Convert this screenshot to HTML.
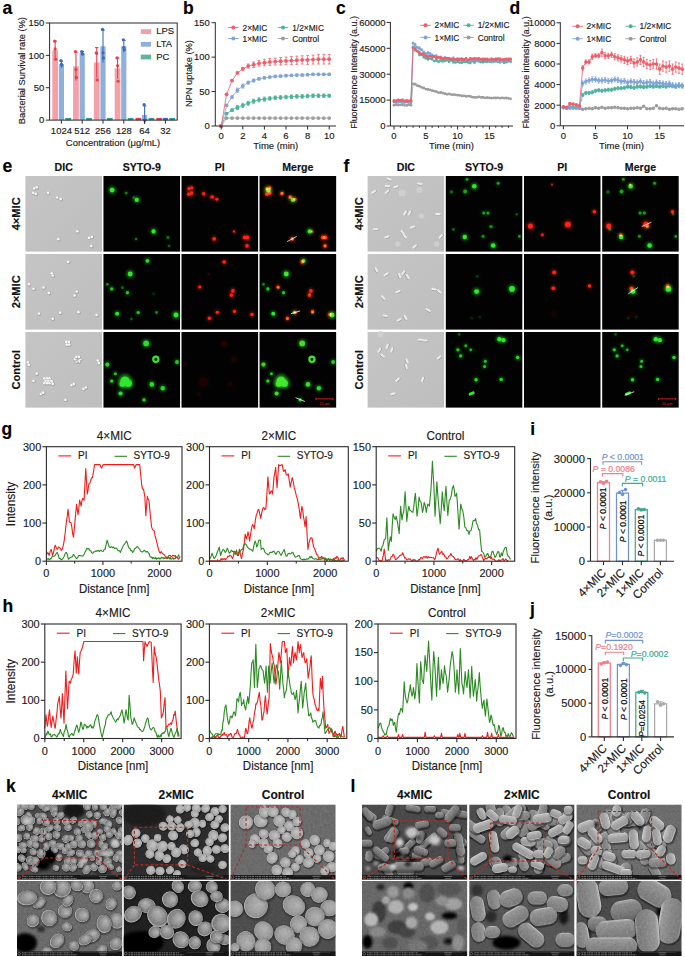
<!DOCTYPE html>
<html><head><meta charset="utf-8"><style>html,body{margin:0;padding:0;background:#fff;}svg{display:block;}text{font-family:"Liberation Sans",sans-serif;}</style></head>
<body><svg width="685" height="957" viewBox="0 0 685 957" font-family="Liberation Sans, sans-serif"><text transform="translate(2.50 14.00) scale(1 1.03)" font-size="17.51" text-anchor="start" font-weight="bold" fill="#000" stroke="#000" stroke-width="0.15">a</text>
<rect x="52.30" y="50.19" width="5.70" height="69.91" fill="#f3a0a8"/>
<line x1="55.15" y1="59.25" x2="55.15" y2="41.13" stroke="#e8404f" stroke-width="1.1"/>
<line x1="53.35" y1="41.13" x2="56.95" y2="41.13" stroke="#e8404f" stroke-width="1.1"/>
<circle cx="54.65" cy="41.13" r="1.60" fill="#e8404f"/>
<circle cx="55.15" cy="48.89" r="1.60" fill="#e8404f"/>
<circle cx="55.65" cy="59.25" r="1.60" fill="#e8404f"/>
<rect x="58.80" y="64.43" width="5.20" height="55.67" fill="#8fb0da"/>
<line x1="61.40" y1="67.67" x2="61.40" y2="61.19" stroke="#3b6cc0" stroke-width="1.1"/>
<line x1="59.60" y1="61.19" x2="63.20" y2="61.19" stroke="#3b6cc0" stroke-width="1.1"/>
<circle cx="60.90" cy="60.55" r="1.60" fill="#3b6cc0"/>
<circle cx="61.40" cy="64.43" r="1.60" fill="#3b6cc0"/>
<circle cx="61.90" cy="65.08" r="1.60" fill="#3b6cc0"/>
<line x1="65.30" y1="119.10" x2="71.10" y2="119.10" stroke="#3a9aa0" stroke-width="2.4"/>
<line x1="61.40" y1="120.10" x2="61.40" y2="123.60" stroke="#2b2b2b" stroke-width="1"/>
<text transform="translate(61.40 134.00) scale(1 1.03)" font-size="9.48" text-anchor="middle" fill="#1a1a1a" stroke="#1a1a1a" stroke-width="0.15">1024</text>
<rect x="73.10" y="66.37" width="5.70" height="53.73" fill="#f3a0a8"/>
<line x1="75.95" y1="80.61" x2="75.95" y2="52.13" stroke="#e8404f" stroke-width="1.1"/>
<line x1="74.15" y1="52.13" x2="77.75" y2="52.13" stroke="#e8404f" stroke-width="1.1"/>
<circle cx="75.45" cy="51.48" r="1.60" fill="#e8404f"/>
<circle cx="75.95" cy="69.61" r="1.60" fill="#e8404f"/>
<circle cx="76.45" cy="77.38" r="1.60" fill="#e8404f"/>
<rect x="79.60" y="53.42" width="5.20" height="66.68" fill="#8fb0da"/>
<line x1="82.20" y1="55.37" x2="82.20" y2="51.48" stroke="#3b6cc0" stroke-width="1.1"/>
<line x1="80.40" y1="51.48" x2="84.00" y2="51.48" stroke="#3b6cc0" stroke-width="1.1"/>
<circle cx="81.70" cy="51.48" r="1.60" fill="#3b6cc0"/>
<circle cx="82.20" cy="53.42" r="1.60" fill="#3b6cc0"/>
<circle cx="82.70" cy="54.07" r="1.60" fill="#3b6cc0"/>
<line x1="86.10" y1="119.10" x2="91.90" y2="119.10" stroke="#3a9aa0" stroke-width="2.4"/>
<line x1="82.20" y1="120.10" x2="82.20" y2="123.60" stroke="#2b2b2b" stroke-width="1"/>
<text transform="translate(82.20 134.00) scale(1 1.03)" font-size="9.48" text-anchor="middle" fill="#1a1a1a" stroke="#1a1a1a" stroke-width="0.15">512</text>
<rect x="93.90" y="62.49" width="5.70" height="57.61" fill="#f3a0a8"/>
<line x1="96.75" y1="77.38" x2="96.75" y2="47.60" stroke="#e8404f" stroke-width="1.1"/>
<line x1="94.95" y1="47.60" x2="98.55" y2="47.60" stroke="#e8404f" stroke-width="1.1"/>
<circle cx="96.25" cy="52.78" r="1.60" fill="#e8404f"/>
<circle cx="96.75" cy="53.42" r="1.60" fill="#e8404f"/>
<circle cx="97.25" cy="79.97" r="1.60" fill="#e8404f"/>
<rect x="100.40" y="46.30" width="5.20" height="73.80" fill="#8fb0da"/>
<line x1="103.00" y1="62.49" x2="103.00" y2="30.12" stroke="#3b6cc0" stroke-width="1.1"/>
<line x1="101.20" y1="30.12" x2="104.80" y2="30.12" stroke="#3b6cc0" stroke-width="1.1"/>
<circle cx="102.50" cy="29.47" r="1.60" fill="#3b6cc0"/>
<circle cx="103.00" cy="52.78" r="1.60" fill="#3b6cc0"/>
<circle cx="103.50" cy="57.96" r="1.60" fill="#3b6cc0"/>
<line x1="106.90" y1="119.10" x2="112.70" y2="119.10" stroke="#3a9aa0" stroke-width="2.4"/>
<line x1="103.00" y1="120.10" x2="103.00" y2="123.60" stroke="#2b2b2b" stroke-width="1"/>
<text transform="translate(103.00 134.00) scale(1 1.03)" font-size="9.48" text-anchor="middle" fill="#1a1a1a" stroke="#1a1a1a" stroke-width="0.15">256</text>
<rect x="114.70" y="68.31" width="5.70" height="51.79" fill="#f3a0a8"/>
<line x1="117.55" y1="78.67" x2="117.55" y2="57.96" stroke="#e8404f" stroke-width="1.1"/>
<line x1="115.75" y1="57.96" x2="119.35" y2="57.96" stroke="#e8404f" stroke-width="1.1"/>
<circle cx="117.05" cy="57.96" r="1.60" fill="#e8404f"/>
<circle cx="117.55" cy="65.72" r="1.60" fill="#e8404f"/>
<circle cx="118.05" cy="81.26" r="1.60" fill="#e8404f"/>
<rect x="121.20" y="46.30" width="5.20" height="73.80" fill="#8fb0da"/>
<line x1="123.80" y1="52.13" x2="123.80" y2="40.48" stroke="#3b6cc0" stroke-width="1.1"/>
<line x1="122.00" y1="40.48" x2="125.60" y2="40.48" stroke="#3b6cc0" stroke-width="1.1"/>
<circle cx="123.30" cy="39.83" r="1.60" fill="#3b6cc0"/>
<circle cx="123.80" cy="47.60" r="1.60" fill="#3b6cc0"/>
<circle cx="124.30" cy="49.54" r="1.60" fill="#3b6cc0"/>
<line x1="127.70" y1="119.10" x2="133.50" y2="119.10" stroke="#3a9aa0" stroke-width="2.4"/>
<line x1="123.80" y1="120.10" x2="123.80" y2="123.60" stroke="#2b2b2b" stroke-width="1"/>
<text transform="translate(123.80 134.00) scale(1 1.03)" font-size="9.48" text-anchor="middle" fill="#1a1a1a" stroke="#1a1a1a" stroke-width="0.15">128</text>
<line x1="135.50" y1="119.10" x2="141.20" y2="119.10" stroke="#e8404f" stroke-width="2.4"/>
<rect x="142.00" y="114.92" width="5.20" height="5.18" fill="#8fb0da"/>
<line x1="144.60" y1="123.98" x2="144.60" y2="105.86" stroke="#3b6cc0" stroke-width="1.1"/>
<line x1="142.80" y1="105.86" x2="146.40" y2="105.86" stroke="#3b6cc0" stroke-width="1.1"/>
<circle cx="144.10" cy="104.56" r="1.60" fill="#3b6cc0"/>
<circle cx="144.60" cy="120.10" r="1.60" fill="#3b6cc0"/>
<circle cx="145.10" cy="120.10" r="1.60" fill="#3b6cc0"/>
<line x1="148.50" y1="119.10" x2="154.30" y2="119.10" stroke="#3a9aa0" stroke-width="2.4"/>
<line x1="144.60" y1="120.10" x2="144.60" y2="123.60" stroke="#2b2b2b" stroke-width="1"/>
<text transform="translate(144.60 134.00) scale(1 1.03)" font-size="9.48" text-anchor="middle" fill="#1a1a1a" stroke="#1a1a1a" stroke-width="0.15">64</text>
<line x1="156.30" y1="119.10" x2="162.00" y2="119.10" stroke="#e8404f" stroke-width="2.4"/>
<line x1="162.80" y1="119.10" x2="168.00" y2="119.10" stroke="#3b6cc0" stroke-width="2.4"/>
<line x1="169.30" y1="119.10" x2="175.10" y2="119.10" stroke="#3a9aa0" stroke-width="2.4"/>
<line x1="165.40" y1="120.10" x2="165.40" y2="123.60" stroke="#2b2b2b" stroke-width="1"/>
<text transform="translate(165.40 134.00) scale(1 1.03)" font-size="9.48" text-anchor="middle" fill="#1a1a1a" stroke="#1a1a1a" stroke-width="0.15">32</text>
<rect x="49.6" y="23.0" width="127.6" height="97.1" fill="none" stroke="#2b2b2b" stroke-width="1"/>
<line x1="45.80" y1="120.10" x2="49.60" y2="120.10" stroke="#2b2b2b" stroke-width="1"/>
<text transform="translate(44.20 123.40) scale(1 1.03)" font-size="9.48" text-anchor="end" fill="#1a1a1a" stroke="#1a1a1a" stroke-width="0.15">0</text>
<line x1="45.80" y1="87.73" x2="49.60" y2="87.73" stroke="#2b2b2b" stroke-width="1"/>
<text transform="translate(44.20 91.03) scale(1 1.03)" font-size="9.48" text-anchor="end" fill="#1a1a1a" stroke="#1a1a1a" stroke-width="0.15">50</text>
<line x1="45.80" y1="55.37" x2="49.60" y2="55.37" stroke="#2b2b2b" stroke-width="1"/>
<text transform="translate(44.20 58.67) scale(1 1.03)" font-size="9.48" text-anchor="end" fill="#1a1a1a" stroke="#1a1a1a" stroke-width="0.15">100</text>
<line x1="45.80" y1="23.00" x2="49.60" y2="23.00" stroke="#2b2b2b" stroke-width="1"/>
<text transform="translate(44.20 26.30) scale(1 1.03)" font-size="9.48" text-anchor="end" fill="#1a1a1a" stroke="#1a1a1a" stroke-width="0.15">150</text>
<text transform="translate(24.60 70.60) rotate(-90) scale(1 1.03)" font-size="9.27" text-anchor="middle" fill="#1a1a1a" stroke="#1a1a1a" stroke-width="0.15">Bacterial Survival rate (%)</text>
<text transform="translate(113.00 145.80) scale(1 1.03)" font-size="9.48" text-anchor="middle" fill="#1a1a1a" stroke="#1a1a1a" stroke-width="0.15">Concentration (μg/mL)</text>
<rect x="140.80" y="29.20" width="10.20" height="4.80" fill="#f3a0a8"/>
<text transform="translate(156.20 34.20) scale(1 1.03)" font-size="9.48" text-anchor="start" fill="#1a1a1a" stroke="#1a1a1a" stroke-width="0.15">LPS</text>
<rect x="140.80" y="41.90" width="10.20" height="4.80" fill="#8fb0da"/>
<text transform="translate(156.20 46.90) scale(1 1.03)" font-size="9.48" text-anchor="start" fill="#1a1a1a" stroke="#1a1a1a" stroke-width="0.15">LTA</text>
<rect x="140.80" y="54.60" width="10.20" height="4.80" fill="#5fb5a0"/>
<text transform="translate(156.20 59.60) scale(1 1.03)" font-size="9.48" text-anchor="start" fill="#1a1a1a" stroke="#1a1a1a" stroke-width="0.15">PC</text>
<text transform="translate(183.00 14.00) scale(1 1.03)" font-size="17.51" text-anchor="start" font-weight="bold" fill="#000" stroke="#000" stroke-width="0.15">b</text>
<polyline points="221.20,126.00 226.60,118.08 232.00,118.08 237.40,118.08 242.80,118.08 248.20,118.08 253.60,118.08 259.00,118.08 264.40,118.08 269.80,118.08 275.20,118.08 280.60,118.08 286.00,118.08 291.40,118.08 296.80,118.08 302.20,118.08 307.60,118.08 313.00,118.08 318.40,118.08 323.80,118.08 329.20,118.08" fill="none" stroke="#9d9d9f" stroke-width="0.8" stroke-linejoin="round"/>
<circle cx="221.20" cy="126.00" r="1.90" fill="#9d9d9f"/>
<circle cx="226.60" cy="118.08" r="1.90" fill="#9d9d9f"/>
<circle cx="232.00" cy="118.08" r="1.90" fill="#9d9d9f"/>
<circle cx="237.40" cy="118.08" r="1.90" fill="#9d9d9f"/>
<circle cx="242.80" cy="118.08" r="1.90" fill="#9d9d9f"/>
<circle cx="248.20" cy="118.08" r="1.90" fill="#9d9d9f"/>
<circle cx="253.60" cy="118.08" r="1.90" fill="#9d9d9f"/>
<circle cx="259.00" cy="118.08" r="1.90" fill="#9d9d9f"/>
<circle cx="264.40" cy="118.08" r="1.90" fill="#9d9d9f"/>
<circle cx="269.80" cy="118.08" r="1.90" fill="#9d9d9f"/>
<circle cx="275.20" cy="118.08" r="1.90" fill="#9d9d9f"/>
<circle cx="280.60" cy="118.08" r="1.90" fill="#9d9d9f"/>
<circle cx="286.00" cy="118.08" r="1.90" fill="#9d9d9f"/>
<circle cx="291.40" cy="118.08" r="1.90" fill="#9d9d9f"/>
<circle cx="296.80" cy="118.08" r="1.90" fill="#9d9d9f"/>
<circle cx="302.20" cy="118.08" r="1.90" fill="#9d9d9f"/>
<circle cx="307.60" cy="118.08" r="1.90" fill="#9d9d9f"/>
<circle cx="313.00" cy="118.08" r="1.90" fill="#9d9d9f"/>
<circle cx="318.40" cy="118.08" r="1.90" fill="#9d9d9f"/>
<circle cx="323.80" cy="118.08" r="1.90" fill="#9d9d9f"/>
<circle cx="329.20" cy="118.08" r="1.90" fill="#9d9d9f"/>
<polyline points="221.20,126.00 226.60,113.60 232.00,110.16 237.40,107.41 242.80,105.34 248.20,103.27 253.60,101.21 259.00,99.83 264.40,99.14 269.80,98.45 275.20,97.76 280.60,97.42 286.00,97.07 291.40,96.73 296.80,96.39 302.20,96.39 307.60,96.04 313.00,95.70 318.40,95.70 323.80,95.70 329.20,95.70" fill="none" stroke="#4fb39c" stroke-width="0.8" stroke-linejoin="round"/>
<line x1="226.60" y1="114.29" x2="226.60" y2="112.91" stroke="#4fb39c" stroke-width="0.8"/>
<line x1="225.20" y1="112.91" x2="228.00" y2="112.91" stroke="#4fb39c" stroke-width="0.8"/>
<line x1="225.20" y1="114.29" x2="228.00" y2="114.29" stroke="#4fb39c" stroke-width="0.8"/>
<line x1="232.00" y1="111.54" x2="232.00" y2="108.78" stroke="#4fb39c" stroke-width="0.8"/>
<line x1="230.60" y1="108.78" x2="233.40" y2="108.78" stroke="#4fb39c" stroke-width="0.8"/>
<line x1="230.60" y1="111.54" x2="233.40" y2="111.54" stroke="#4fb39c" stroke-width="0.8"/>
<line x1="237.40" y1="109.47" x2="237.40" y2="105.34" stroke="#4fb39c" stroke-width="0.8"/>
<line x1="236.00" y1="105.34" x2="238.80" y2="105.34" stroke="#4fb39c" stroke-width="0.8"/>
<line x1="236.00" y1="109.47" x2="238.80" y2="109.47" stroke="#4fb39c" stroke-width="0.8"/>
<line x1="242.80" y1="107.41" x2="242.80" y2="103.27" stroke="#4fb39c" stroke-width="0.8"/>
<line x1="241.40" y1="103.27" x2="244.20" y2="103.27" stroke="#4fb39c" stroke-width="0.8"/>
<line x1="241.40" y1="107.41" x2="244.20" y2="107.41" stroke="#4fb39c" stroke-width="0.8"/>
<line x1="248.20" y1="105.34" x2="248.20" y2="101.21" stroke="#4fb39c" stroke-width="0.8"/>
<line x1="246.80" y1="101.21" x2="249.60" y2="101.21" stroke="#4fb39c" stroke-width="0.8"/>
<line x1="246.80" y1="105.34" x2="249.60" y2="105.34" stroke="#4fb39c" stroke-width="0.8"/>
<line x1="253.60" y1="103.27" x2="253.60" y2="99.14" stroke="#4fb39c" stroke-width="0.8"/>
<line x1="252.20" y1="99.14" x2="255.00" y2="99.14" stroke="#4fb39c" stroke-width="0.8"/>
<line x1="252.20" y1="103.27" x2="255.00" y2="103.27" stroke="#4fb39c" stroke-width="0.8"/>
<line x1="259.00" y1="101.90" x2="259.00" y2="97.76" stroke="#4fb39c" stroke-width="0.8"/>
<line x1="257.60" y1="97.76" x2="260.40" y2="97.76" stroke="#4fb39c" stroke-width="0.8"/>
<line x1="257.60" y1="101.90" x2="260.40" y2="101.90" stroke="#4fb39c" stroke-width="0.8"/>
<line x1="264.40" y1="101.21" x2="264.40" y2="97.07" stroke="#4fb39c" stroke-width="0.8"/>
<line x1="263.00" y1="97.07" x2="265.80" y2="97.07" stroke="#4fb39c" stroke-width="0.8"/>
<line x1="263.00" y1="101.21" x2="265.80" y2="101.21" stroke="#4fb39c" stroke-width="0.8"/>
<line x1="269.80" y1="100.17" x2="269.80" y2="96.73" stroke="#4fb39c" stroke-width="0.8"/>
<line x1="268.40" y1="96.73" x2="271.20" y2="96.73" stroke="#4fb39c" stroke-width="0.8"/>
<line x1="268.40" y1="100.17" x2="271.20" y2="100.17" stroke="#4fb39c" stroke-width="0.8"/>
<line x1="275.20" y1="99.49" x2="275.20" y2="96.04" stroke="#4fb39c" stroke-width="0.8"/>
<line x1="273.80" y1="96.04" x2="276.60" y2="96.04" stroke="#4fb39c" stroke-width="0.8"/>
<line x1="273.80" y1="99.49" x2="276.60" y2="99.49" stroke="#4fb39c" stroke-width="0.8"/>
<line x1="280.60" y1="99.14" x2="280.60" y2="95.70" stroke="#4fb39c" stroke-width="0.8"/>
<line x1="279.20" y1="95.70" x2="282.00" y2="95.70" stroke="#4fb39c" stroke-width="0.8"/>
<line x1="279.20" y1="99.14" x2="282.00" y2="99.14" stroke="#4fb39c" stroke-width="0.8"/>
<line x1="286.00" y1="98.80" x2="286.00" y2="95.35" stroke="#4fb39c" stroke-width="0.8"/>
<line x1="284.60" y1="95.35" x2="287.40" y2="95.35" stroke="#4fb39c" stroke-width="0.8"/>
<line x1="284.60" y1="98.80" x2="287.40" y2="98.80" stroke="#4fb39c" stroke-width="0.8"/>
<line x1="291.40" y1="98.45" x2="291.40" y2="95.01" stroke="#4fb39c" stroke-width="0.8"/>
<line x1="290.00" y1="95.01" x2="292.80" y2="95.01" stroke="#4fb39c" stroke-width="0.8"/>
<line x1="290.00" y1="98.45" x2="292.80" y2="98.45" stroke="#4fb39c" stroke-width="0.8"/>
<line x1="296.80" y1="98.11" x2="296.80" y2="94.66" stroke="#4fb39c" stroke-width="0.8"/>
<line x1="295.40" y1="94.66" x2="298.20" y2="94.66" stroke="#4fb39c" stroke-width="0.8"/>
<line x1="295.40" y1="98.11" x2="298.20" y2="98.11" stroke="#4fb39c" stroke-width="0.8"/>
<line x1="302.20" y1="98.11" x2="302.20" y2="94.66" stroke="#4fb39c" stroke-width="0.8"/>
<line x1="300.80" y1="94.66" x2="303.60" y2="94.66" stroke="#4fb39c" stroke-width="0.8"/>
<line x1="300.80" y1="98.11" x2="303.60" y2="98.11" stroke="#4fb39c" stroke-width="0.8"/>
<line x1="307.60" y1="97.76" x2="307.60" y2="94.32" stroke="#4fb39c" stroke-width="0.8"/>
<line x1="306.20" y1="94.32" x2="309.00" y2="94.32" stroke="#4fb39c" stroke-width="0.8"/>
<line x1="306.20" y1="97.76" x2="309.00" y2="97.76" stroke="#4fb39c" stroke-width="0.8"/>
<line x1="313.00" y1="97.42" x2="313.00" y2="93.98" stroke="#4fb39c" stroke-width="0.8"/>
<line x1="311.60" y1="93.98" x2="314.40" y2="93.98" stroke="#4fb39c" stroke-width="0.8"/>
<line x1="311.60" y1="97.42" x2="314.40" y2="97.42" stroke="#4fb39c" stroke-width="0.8"/>
<line x1="318.40" y1="97.42" x2="318.40" y2="93.98" stroke="#4fb39c" stroke-width="0.8"/>
<line x1="317.00" y1="93.98" x2="319.80" y2="93.98" stroke="#4fb39c" stroke-width="0.8"/>
<line x1="317.00" y1="97.42" x2="319.80" y2="97.42" stroke="#4fb39c" stroke-width="0.8"/>
<line x1="323.80" y1="97.42" x2="323.80" y2="93.98" stroke="#4fb39c" stroke-width="0.8"/>
<line x1="322.40" y1="93.98" x2="325.20" y2="93.98" stroke="#4fb39c" stroke-width="0.8"/>
<line x1="322.40" y1="97.42" x2="325.20" y2="97.42" stroke="#4fb39c" stroke-width="0.8"/>
<line x1="329.20" y1="97.07" x2="329.20" y2="94.32" stroke="#4fb39c" stroke-width="0.8"/>
<line x1="327.80" y1="94.32" x2="330.60" y2="94.32" stroke="#4fb39c" stroke-width="0.8"/>
<line x1="327.80" y1="97.07" x2="330.60" y2="97.07" stroke="#4fb39c" stroke-width="0.8"/>
<circle cx="221.20" cy="126.00" r="1.90" fill="#4fb39c"/>
<circle cx="226.60" cy="113.60" r="1.90" fill="#4fb39c"/>
<circle cx="232.00" cy="110.16" r="1.90" fill="#4fb39c"/>
<circle cx="237.40" cy="107.41" r="1.90" fill="#4fb39c"/>
<circle cx="242.80" cy="105.34" r="1.90" fill="#4fb39c"/>
<circle cx="248.20" cy="103.27" r="1.90" fill="#4fb39c"/>
<circle cx="253.60" cy="101.21" r="1.90" fill="#4fb39c"/>
<circle cx="259.00" cy="99.83" r="1.90" fill="#4fb39c"/>
<circle cx="264.40" cy="99.14" r="1.90" fill="#4fb39c"/>
<circle cx="269.80" cy="98.45" r="1.90" fill="#4fb39c"/>
<circle cx="275.20" cy="97.76" r="1.90" fill="#4fb39c"/>
<circle cx="280.60" cy="97.42" r="1.90" fill="#4fb39c"/>
<circle cx="286.00" cy="97.07" r="1.90" fill="#4fb39c"/>
<circle cx="291.40" cy="96.73" r="1.90" fill="#4fb39c"/>
<circle cx="296.80" cy="96.39" r="1.90" fill="#4fb39c"/>
<circle cx="302.20" cy="96.39" r="1.90" fill="#4fb39c"/>
<circle cx="307.60" cy="96.04" r="1.90" fill="#4fb39c"/>
<circle cx="313.00" cy="95.70" r="1.90" fill="#4fb39c"/>
<circle cx="318.40" cy="95.70" r="1.90" fill="#4fb39c"/>
<circle cx="323.80" cy="95.70" r="1.90" fill="#4fb39c"/>
<circle cx="329.20" cy="95.70" r="1.90" fill="#4fb39c"/>
<polyline points="221.20,126.00 226.60,105.34 232.00,97.07 237.40,90.19 242.80,86.06 248.20,82.61 253.60,80.55 259.00,78.82 264.40,77.79 269.80,77.10 275.20,76.41 280.60,76.07 286.00,75.72 291.40,75.38 296.80,75.04 302.20,75.04 307.60,74.69 313.00,74.35 318.40,74.35 323.80,74.35 329.20,74.35" fill="none" stroke="#7fa4d8" stroke-width="0.8" stroke-linejoin="round"/>
<line x1="226.60" y1="106.03" x2="226.60" y2="104.65" stroke="#7fa4d8" stroke-width="0.8"/>
<line x1="225.20" y1="104.65" x2="228.00" y2="104.65" stroke="#7fa4d8" stroke-width="0.8"/>
<line x1="225.20" y1="106.03" x2="228.00" y2="106.03" stroke="#7fa4d8" stroke-width="0.8"/>
<line x1="232.00" y1="98.45" x2="232.00" y2="95.70" stroke="#7fa4d8" stroke-width="0.8"/>
<line x1="230.60" y1="95.70" x2="233.40" y2="95.70" stroke="#7fa4d8" stroke-width="0.8"/>
<line x1="230.60" y1="98.45" x2="233.40" y2="98.45" stroke="#7fa4d8" stroke-width="0.8"/>
<line x1="237.40" y1="92.25" x2="237.40" y2="88.12" stroke="#7fa4d8" stroke-width="0.8"/>
<line x1="236.00" y1="88.12" x2="238.80" y2="88.12" stroke="#7fa4d8" stroke-width="0.8"/>
<line x1="236.00" y1="92.25" x2="238.80" y2="92.25" stroke="#7fa4d8" stroke-width="0.8"/>
<line x1="242.80" y1="88.12" x2="242.80" y2="83.99" stroke="#7fa4d8" stroke-width="0.8"/>
<line x1="241.40" y1="83.99" x2="244.20" y2="83.99" stroke="#7fa4d8" stroke-width="0.8"/>
<line x1="241.40" y1="88.12" x2="244.20" y2="88.12" stroke="#7fa4d8" stroke-width="0.8"/>
<line x1="248.20" y1="83.99" x2="248.20" y2="81.23" stroke="#7fa4d8" stroke-width="0.8"/>
<line x1="246.80" y1="81.23" x2="249.60" y2="81.23" stroke="#7fa4d8" stroke-width="0.8"/>
<line x1="246.80" y1="83.99" x2="249.60" y2="83.99" stroke="#7fa4d8" stroke-width="0.8"/>
<line x1="253.60" y1="81.92" x2="253.60" y2="79.17" stroke="#7fa4d8" stroke-width="0.8"/>
<line x1="252.20" y1="79.17" x2="255.00" y2="79.17" stroke="#7fa4d8" stroke-width="0.8"/>
<line x1="252.20" y1="81.92" x2="255.00" y2="81.92" stroke="#7fa4d8" stroke-width="0.8"/>
<line x1="259.00" y1="79.86" x2="259.00" y2="77.79" stroke="#7fa4d8" stroke-width="0.8"/>
<line x1="257.60" y1="77.79" x2="260.40" y2="77.79" stroke="#7fa4d8" stroke-width="0.8"/>
<line x1="257.60" y1="79.86" x2="260.40" y2="79.86" stroke="#7fa4d8" stroke-width="0.8"/>
<line x1="264.40" y1="78.82" x2="264.40" y2="76.76" stroke="#7fa4d8" stroke-width="0.8"/>
<line x1="263.00" y1="76.76" x2="265.80" y2="76.76" stroke="#7fa4d8" stroke-width="0.8"/>
<line x1="263.00" y1="78.82" x2="265.80" y2="78.82" stroke="#7fa4d8" stroke-width="0.8"/>
<line x1="269.80" y1="78.14" x2="269.80" y2="76.07" stroke="#7fa4d8" stroke-width="0.8"/>
<line x1="268.40" y1="76.07" x2="271.20" y2="76.07" stroke="#7fa4d8" stroke-width="0.8"/>
<line x1="268.40" y1="78.14" x2="271.20" y2="78.14" stroke="#7fa4d8" stroke-width="0.8"/>
<line x1="275.20" y1="77.45" x2="275.20" y2="75.38" stroke="#7fa4d8" stroke-width="0.8"/>
<line x1="273.80" y1="75.38" x2="276.60" y2="75.38" stroke="#7fa4d8" stroke-width="0.8"/>
<line x1="273.80" y1="77.45" x2="276.60" y2="77.45" stroke="#7fa4d8" stroke-width="0.8"/>
<line x1="280.60" y1="77.10" x2="280.60" y2="75.04" stroke="#7fa4d8" stroke-width="0.8"/>
<line x1="279.20" y1="75.04" x2="282.00" y2="75.04" stroke="#7fa4d8" stroke-width="0.8"/>
<line x1="279.20" y1="77.10" x2="282.00" y2="77.10" stroke="#7fa4d8" stroke-width="0.8"/>
<line x1="286.00" y1="76.76" x2="286.00" y2="74.69" stroke="#7fa4d8" stroke-width="0.8"/>
<line x1="284.60" y1="74.69" x2="287.40" y2="74.69" stroke="#7fa4d8" stroke-width="0.8"/>
<line x1="284.60" y1="76.76" x2="287.40" y2="76.76" stroke="#7fa4d8" stroke-width="0.8"/>
<line x1="291.40" y1="76.41" x2="291.40" y2="74.35" stroke="#7fa4d8" stroke-width="0.8"/>
<line x1="290.00" y1="74.35" x2="292.80" y2="74.35" stroke="#7fa4d8" stroke-width="0.8"/>
<line x1="290.00" y1="76.41" x2="292.80" y2="76.41" stroke="#7fa4d8" stroke-width="0.8"/>
<line x1="296.80" y1="76.07" x2="296.80" y2="74.00" stroke="#7fa4d8" stroke-width="0.8"/>
<line x1="295.40" y1="74.00" x2="298.20" y2="74.00" stroke="#7fa4d8" stroke-width="0.8"/>
<line x1="295.40" y1="76.07" x2="298.20" y2="76.07" stroke="#7fa4d8" stroke-width="0.8"/>
<line x1="302.20" y1="76.07" x2="302.20" y2="74.00" stroke="#7fa4d8" stroke-width="0.8"/>
<line x1="300.80" y1="74.00" x2="303.60" y2="74.00" stroke="#7fa4d8" stroke-width="0.8"/>
<line x1="300.80" y1="76.07" x2="303.60" y2="76.07" stroke="#7fa4d8" stroke-width="0.8"/>
<line x1="307.60" y1="75.72" x2="307.60" y2="73.66" stroke="#7fa4d8" stroke-width="0.8"/>
<line x1="306.20" y1="73.66" x2="309.00" y2="73.66" stroke="#7fa4d8" stroke-width="0.8"/>
<line x1="306.20" y1="75.72" x2="309.00" y2="75.72" stroke="#7fa4d8" stroke-width="0.8"/>
<line x1="313.00" y1="75.38" x2="313.00" y2="73.31" stroke="#7fa4d8" stroke-width="0.8"/>
<line x1="311.60" y1="73.31" x2="314.40" y2="73.31" stroke="#7fa4d8" stroke-width="0.8"/>
<line x1="311.60" y1="75.38" x2="314.40" y2="75.38" stroke="#7fa4d8" stroke-width="0.8"/>
<line x1="318.40" y1="75.38" x2="318.40" y2="73.31" stroke="#7fa4d8" stroke-width="0.8"/>
<line x1="317.00" y1="73.31" x2="319.80" y2="73.31" stroke="#7fa4d8" stroke-width="0.8"/>
<line x1="317.00" y1="75.38" x2="319.80" y2="75.38" stroke="#7fa4d8" stroke-width="0.8"/>
<line x1="323.80" y1="75.38" x2="323.80" y2="73.31" stroke="#7fa4d8" stroke-width="0.8"/>
<line x1="322.40" y1="73.31" x2="325.20" y2="73.31" stroke="#7fa4d8" stroke-width="0.8"/>
<line x1="322.40" y1="75.38" x2="325.20" y2="75.38" stroke="#7fa4d8" stroke-width="0.8"/>
<line x1="329.20" y1="75.38" x2="329.20" y2="73.31" stroke="#7fa4d8" stroke-width="0.8"/>
<line x1="327.80" y1="73.31" x2="330.60" y2="73.31" stroke="#7fa4d8" stroke-width="0.8"/>
<line x1="327.80" y1="75.38" x2="330.60" y2="75.38" stroke="#7fa4d8" stroke-width="0.8"/>
<circle cx="221.20" cy="126.00" r="1.90" fill="#7fa4d8"/>
<circle cx="226.60" cy="105.34" r="1.90" fill="#7fa4d8"/>
<circle cx="232.00" cy="97.07" r="1.90" fill="#7fa4d8"/>
<circle cx="237.40" cy="90.19" r="1.90" fill="#7fa4d8"/>
<circle cx="242.80" cy="86.06" r="1.90" fill="#7fa4d8"/>
<circle cx="248.20" cy="82.61" r="1.90" fill="#7fa4d8"/>
<circle cx="253.60" cy="80.55" r="1.90" fill="#7fa4d8"/>
<circle cx="259.00" cy="78.82" r="1.90" fill="#7fa4d8"/>
<circle cx="264.40" cy="77.79" r="1.90" fill="#7fa4d8"/>
<circle cx="269.80" cy="77.10" r="1.90" fill="#7fa4d8"/>
<circle cx="275.20" cy="76.41" r="1.90" fill="#7fa4d8"/>
<circle cx="280.60" cy="76.07" r="1.90" fill="#7fa4d8"/>
<circle cx="286.00" cy="75.72" r="1.90" fill="#7fa4d8"/>
<circle cx="291.40" cy="75.38" r="1.90" fill="#7fa4d8"/>
<circle cx="296.80" cy="75.04" r="1.90" fill="#7fa4d8"/>
<circle cx="302.20" cy="75.04" r="1.90" fill="#7fa4d8"/>
<circle cx="307.60" cy="74.69" r="1.90" fill="#7fa4d8"/>
<circle cx="313.00" cy="74.35" r="1.90" fill="#7fa4d8"/>
<circle cx="318.40" cy="74.35" r="1.90" fill="#7fa4d8"/>
<circle cx="323.80" cy="74.35" r="1.90" fill="#7fa4d8"/>
<circle cx="329.20" cy="74.35" r="1.90" fill="#7fa4d8"/>
<polyline points="221.20,126.00 226.60,94.32 232.00,80.55 237.40,72.97 242.80,68.84 248.20,66.08 253.60,64.71 259.00,63.33 264.40,62.64 269.80,61.95 275.20,61.61 280.60,61.26 286.00,60.92 291.40,60.57 296.80,60.23 302.20,59.88 307.60,59.88 313.00,59.54 318.40,59.20 323.80,59.20 329.20,59.20" fill="none" stroke="#ec5f6b" stroke-width="0.8" stroke-linejoin="round"/>
<line x1="226.60" y1="95.01" x2="226.60" y2="93.63" stroke="#ec5f6b" stroke-width="0.8"/>
<line x1="225.20" y1="93.63" x2="228.00" y2="93.63" stroke="#ec5f6b" stroke-width="0.8"/>
<line x1="225.20" y1="95.01" x2="228.00" y2="95.01" stroke="#ec5f6b" stroke-width="0.8"/>
<line x1="232.00" y1="81.23" x2="232.00" y2="79.86" stroke="#ec5f6b" stroke-width="0.8"/>
<line x1="230.60" y1="79.86" x2="233.40" y2="79.86" stroke="#ec5f6b" stroke-width="0.8"/>
<line x1="230.60" y1="81.23" x2="233.40" y2="81.23" stroke="#ec5f6b" stroke-width="0.8"/>
<line x1="237.40" y1="73.66" x2="237.40" y2="72.28" stroke="#ec5f6b" stroke-width="0.8"/>
<line x1="236.00" y1="72.28" x2="238.80" y2="72.28" stroke="#ec5f6b" stroke-width="0.8"/>
<line x1="236.00" y1="73.66" x2="238.80" y2="73.66" stroke="#ec5f6b" stroke-width="0.8"/>
<line x1="242.80" y1="70.22" x2="242.80" y2="67.46" stroke="#ec5f6b" stroke-width="0.8"/>
<line x1="241.40" y1="67.46" x2="244.20" y2="67.46" stroke="#ec5f6b" stroke-width="0.8"/>
<line x1="241.40" y1="70.22" x2="244.20" y2="70.22" stroke="#ec5f6b" stroke-width="0.8"/>
<line x1="248.20" y1="68.15" x2="248.20" y2="64.02" stroke="#ec5f6b" stroke-width="0.8"/>
<line x1="246.80" y1="64.02" x2="249.60" y2="64.02" stroke="#ec5f6b" stroke-width="0.8"/>
<line x1="246.80" y1="68.15" x2="249.60" y2="68.15" stroke="#ec5f6b" stroke-width="0.8"/>
<line x1="253.60" y1="67.46" x2="253.60" y2="61.95" stroke="#ec5f6b" stroke-width="0.8"/>
<line x1="252.20" y1="61.95" x2="255.00" y2="61.95" stroke="#ec5f6b" stroke-width="0.8"/>
<line x1="252.20" y1="67.46" x2="255.00" y2="67.46" stroke="#ec5f6b" stroke-width="0.8"/>
<line x1="259.00" y1="66.08" x2="259.00" y2="60.57" stroke="#ec5f6b" stroke-width="0.8"/>
<line x1="257.60" y1="60.57" x2="260.40" y2="60.57" stroke="#ec5f6b" stroke-width="0.8"/>
<line x1="257.60" y1="66.08" x2="260.40" y2="66.08" stroke="#ec5f6b" stroke-width="0.8"/>
<line x1="264.40" y1="65.74" x2="264.40" y2="59.54" stroke="#ec5f6b" stroke-width="0.8"/>
<line x1="263.00" y1="59.54" x2="265.80" y2="59.54" stroke="#ec5f6b" stroke-width="0.8"/>
<line x1="263.00" y1="65.74" x2="265.80" y2="65.74" stroke="#ec5f6b" stroke-width="0.8"/>
<line x1="269.80" y1="65.39" x2="269.80" y2="58.51" stroke="#ec5f6b" stroke-width="0.8"/>
<line x1="268.40" y1="58.51" x2="271.20" y2="58.51" stroke="#ec5f6b" stroke-width="0.8"/>
<line x1="268.40" y1="65.39" x2="271.20" y2="65.39" stroke="#ec5f6b" stroke-width="0.8"/>
<line x1="275.20" y1="65.05" x2="275.20" y2="58.16" stroke="#ec5f6b" stroke-width="0.8"/>
<line x1="273.80" y1="58.16" x2="276.60" y2="58.16" stroke="#ec5f6b" stroke-width="0.8"/>
<line x1="273.80" y1="65.05" x2="276.60" y2="65.05" stroke="#ec5f6b" stroke-width="0.8"/>
<line x1="280.60" y1="65.05" x2="280.60" y2="57.47" stroke="#ec5f6b" stroke-width="0.8"/>
<line x1="279.20" y1="57.47" x2="282.00" y2="57.47" stroke="#ec5f6b" stroke-width="0.8"/>
<line x1="279.20" y1="65.05" x2="282.00" y2="65.05" stroke="#ec5f6b" stroke-width="0.8"/>
<line x1="286.00" y1="64.71" x2="286.00" y2="57.13" stroke="#ec5f6b" stroke-width="0.8"/>
<line x1="284.60" y1="57.13" x2="287.40" y2="57.13" stroke="#ec5f6b" stroke-width="0.8"/>
<line x1="284.60" y1="64.71" x2="287.40" y2="64.71" stroke="#ec5f6b" stroke-width="0.8"/>
<line x1="291.40" y1="64.71" x2="291.40" y2="56.44" stroke="#ec5f6b" stroke-width="0.8"/>
<line x1="290.00" y1="56.44" x2="292.80" y2="56.44" stroke="#ec5f6b" stroke-width="0.8"/>
<line x1="290.00" y1="64.71" x2="292.80" y2="64.71" stroke="#ec5f6b" stroke-width="0.8"/>
<line x1="296.80" y1="64.36" x2="296.80" y2="56.10" stroke="#ec5f6b" stroke-width="0.8"/>
<line x1="295.40" y1="56.10" x2="298.20" y2="56.10" stroke="#ec5f6b" stroke-width="0.8"/>
<line x1="295.40" y1="64.36" x2="298.20" y2="64.36" stroke="#ec5f6b" stroke-width="0.8"/>
<line x1="302.20" y1="64.02" x2="302.20" y2="55.75" stroke="#ec5f6b" stroke-width="0.8"/>
<line x1="300.80" y1="55.75" x2="303.60" y2="55.75" stroke="#ec5f6b" stroke-width="0.8"/>
<line x1="300.80" y1="64.02" x2="303.60" y2="64.02" stroke="#ec5f6b" stroke-width="0.8"/>
<line x1="307.60" y1="64.36" x2="307.60" y2="55.41" stroke="#ec5f6b" stroke-width="0.8"/>
<line x1="306.20" y1="55.41" x2="309.00" y2="55.41" stroke="#ec5f6b" stroke-width="0.8"/>
<line x1="306.20" y1="64.36" x2="309.00" y2="64.36" stroke="#ec5f6b" stroke-width="0.8"/>
<line x1="313.00" y1="64.02" x2="313.00" y2="55.06" stroke="#ec5f6b" stroke-width="0.8"/>
<line x1="311.60" y1="55.06" x2="314.40" y2="55.06" stroke="#ec5f6b" stroke-width="0.8"/>
<line x1="311.60" y1="64.02" x2="314.40" y2="64.02" stroke="#ec5f6b" stroke-width="0.8"/>
<line x1="318.40" y1="64.02" x2="318.40" y2="54.38" stroke="#ec5f6b" stroke-width="0.8"/>
<line x1="317.00" y1="54.38" x2="319.80" y2="54.38" stroke="#ec5f6b" stroke-width="0.8"/>
<line x1="317.00" y1="64.02" x2="319.80" y2="64.02" stroke="#ec5f6b" stroke-width="0.8"/>
<line x1="323.80" y1="64.02" x2="323.80" y2="54.38" stroke="#ec5f6b" stroke-width="0.8"/>
<line x1="322.40" y1="54.38" x2="325.20" y2="54.38" stroke="#ec5f6b" stroke-width="0.8"/>
<line x1="322.40" y1="64.02" x2="325.20" y2="64.02" stroke="#ec5f6b" stroke-width="0.8"/>
<line x1="329.20" y1="64.02" x2="329.20" y2="54.38" stroke="#ec5f6b" stroke-width="0.8"/>
<line x1="327.80" y1="54.38" x2="330.60" y2="54.38" stroke="#ec5f6b" stroke-width="0.8"/>
<line x1="327.80" y1="64.02" x2="330.60" y2="64.02" stroke="#ec5f6b" stroke-width="0.8"/>
<circle cx="221.20" cy="126.00" r="1.90" fill="#ec5f6b"/>
<circle cx="226.60" cy="94.32" r="1.90" fill="#ec5f6b"/>
<circle cx="232.00" cy="80.55" r="1.90" fill="#ec5f6b"/>
<circle cx="237.40" cy="72.97" r="1.90" fill="#ec5f6b"/>
<circle cx="242.80" cy="68.84" r="1.90" fill="#ec5f6b"/>
<circle cx="248.20" cy="66.08" r="1.90" fill="#ec5f6b"/>
<circle cx="253.60" cy="64.71" r="1.90" fill="#ec5f6b"/>
<circle cx="259.00" cy="63.33" r="1.90" fill="#ec5f6b"/>
<circle cx="264.40" cy="62.64" r="1.90" fill="#ec5f6b"/>
<circle cx="269.80" cy="61.95" r="1.90" fill="#ec5f6b"/>
<circle cx="275.20" cy="61.61" r="1.90" fill="#ec5f6b"/>
<circle cx="280.60" cy="61.26" r="1.90" fill="#ec5f6b"/>
<circle cx="286.00" cy="60.92" r="1.90" fill="#ec5f6b"/>
<circle cx="291.40" cy="60.57" r="1.90" fill="#ec5f6b"/>
<circle cx="296.80" cy="60.23" r="1.90" fill="#ec5f6b"/>
<circle cx="302.20" cy="59.88" r="1.90" fill="#ec5f6b"/>
<circle cx="307.60" cy="59.88" r="1.90" fill="#ec5f6b"/>
<circle cx="313.00" cy="59.54" r="1.90" fill="#ec5f6b"/>
<circle cx="318.40" cy="59.20" r="1.90" fill="#ec5f6b"/>
<circle cx="323.80" cy="59.20" r="1.90" fill="#ec5f6b"/>
<circle cx="329.20" cy="59.20" r="1.90" fill="#ec5f6b"/>
<line x1="215.30" y1="126.00" x2="336.00" y2="126.00" stroke="#2b2b2b" stroke-width="1"/>
<line x1="215.30" y1="126.00" x2="215.30" y2="22.30" stroke="#2b2b2b" stroke-width="1"/>
<line x1="211.50" y1="126.00" x2="215.30" y2="126.00" stroke="#2b2b2b" stroke-width="1"/>
<text transform="translate(209.90 129.30) scale(1 1.03)" font-size="9.48" text-anchor="end" fill="#1a1a1a" stroke="#1a1a1a" stroke-width="0.15">0</text>
<line x1="211.50" y1="91.56" x2="215.30" y2="91.56" stroke="#2b2b2b" stroke-width="1"/>
<text transform="translate(209.90 94.86) scale(1 1.03)" font-size="9.48" text-anchor="end" fill="#1a1a1a" stroke="#1a1a1a" stroke-width="0.15">50</text>
<line x1="211.50" y1="57.13" x2="215.30" y2="57.13" stroke="#2b2b2b" stroke-width="1"/>
<text transform="translate(209.90 60.43) scale(1 1.03)" font-size="9.48" text-anchor="end" fill="#1a1a1a" stroke="#1a1a1a" stroke-width="0.15">100</text>
<line x1="211.50" y1="22.70" x2="215.30" y2="22.70" stroke="#2b2b2b" stroke-width="1"/>
<text transform="translate(209.90 26.00) scale(1 1.03)" font-size="9.48" text-anchor="end" fill="#1a1a1a" stroke="#1a1a1a" stroke-width="0.15">150</text>
<line x1="221.20" y1="126.00" x2="221.20" y2="129.50" stroke="#2b2b2b" stroke-width="1"/>
<text transform="translate(221.20 139.20) scale(1 1.03)" font-size="9.48" text-anchor="middle" fill="#1a1a1a" stroke="#1a1a1a" stroke-width="0.15">0</text>
<line x1="242.80" y1="126.00" x2="242.80" y2="129.50" stroke="#2b2b2b" stroke-width="1"/>
<text transform="translate(242.80 139.20) scale(1 1.03)" font-size="9.48" text-anchor="middle" fill="#1a1a1a" stroke="#1a1a1a" stroke-width="0.15">2</text>
<line x1="264.40" y1="126.00" x2="264.40" y2="129.50" stroke="#2b2b2b" stroke-width="1"/>
<text transform="translate(264.40 139.20) scale(1 1.03)" font-size="9.48" text-anchor="middle" fill="#1a1a1a" stroke="#1a1a1a" stroke-width="0.15">4</text>
<line x1="286.00" y1="126.00" x2="286.00" y2="129.50" stroke="#2b2b2b" stroke-width="1"/>
<text transform="translate(286.00 139.20) scale(1 1.03)" font-size="9.48" text-anchor="middle" fill="#1a1a1a" stroke="#1a1a1a" stroke-width="0.15">6</text>
<line x1="307.60" y1="126.00" x2="307.60" y2="129.50" stroke="#2b2b2b" stroke-width="1"/>
<text transform="translate(307.60 139.20) scale(1 1.03)" font-size="9.48" text-anchor="middle" fill="#1a1a1a" stroke="#1a1a1a" stroke-width="0.15">8</text>
<line x1="329.20" y1="126.00" x2="329.20" y2="129.50" stroke="#2b2b2b" stroke-width="1"/>
<text transform="translate(329.20 139.20) scale(1 1.03)" font-size="9.48" text-anchor="middle" fill="#1a1a1a" stroke="#1a1a1a" stroke-width="0.15">10</text>
<text transform="translate(275.80 148.80) scale(1 1.03)" font-size="9.48" text-anchor="middle" fill="#1a1a1a" stroke="#1a1a1a" stroke-width="0.15">Time (min)</text>
<text transform="translate(192.20 73.60) rotate(-90) scale(1 1.03)" font-size="9.27" text-anchor="middle" fill="#1a1a1a" stroke="#1a1a1a" stroke-width="0.15">NPN uptake (%)</text>
<line x1="228.10" y1="27.50" x2="238.50" y2="27.50" stroke="#ec5f6b" stroke-width="0.9"/>
<circle cx="233.30" cy="27.50" r="2.00" fill="#ec5f6b"/>
<text transform="translate(242.50 30.60) scale(1 1.03)" font-size="8.34" text-anchor="start" fill="#1a1a1a" stroke="#1a1a1a" stroke-width="0.15">2×MIC</text>
<line x1="228.10" y1="38.50" x2="238.50" y2="38.50" stroke="#7fa4d8" stroke-width="0.9"/>
<circle cx="233.30" cy="38.50" r="2.00" fill="#7fa4d8"/>
<text transform="translate(242.50 41.60) scale(1 1.03)" font-size="8.34" text-anchor="start" fill="#1a1a1a" stroke="#1a1a1a" stroke-width="0.15">1×MIC</text>
<line x1="277.80" y1="27.50" x2="288.20" y2="27.50" stroke="#4fb39c" stroke-width="0.9"/>
<circle cx="283.00" cy="27.50" r="2.00" fill="#4fb39c"/>
<text transform="translate(292.20 30.60) scale(1 1.03)" font-size="8.34" text-anchor="start" fill="#1a1a1a" stroke="#1a1a1a" stroke-width="0.15">1/2×MIC</text>
<line x1="277.80" y1="38.50" x2="288.20" y2="38.50" stroke="#9d9d9f" stroke-width="0.9"/>
<circle cx="283.00" cy="38.50" r="2.00" fill="#9d9d9f"/>
<text transform="translate(292.20 41.60) scale(1 1.03)" font-size="8.34" text-anchor="start" fill="#1a1a1a" stroke="#1a1a1a" stroke-width="0.15">Control</text>
<text transform="translate(336.00 14.00) scale(1 1.03)" font-size="17.51" text-anchor="start" font-weight="bold" fill="#000" stroke="#000" stroke-width="0.15">c</text>
<polyline points="394.00,105.16 396.12,104.90 398.24,105.05 400.36,104.84 402.48,104.83 404.60,105.31 406.72,105.35 408.84,104.64 410.96,105.14 413.08,83.93 415.20,84.27 417.32,85.66 419.44,86.22 421.56,87.35 423.68,87.98 425.80,89.12 427.92,89.38 430.04,89.80 432.16,90.69 434.28,91.05 436.40,91.62 438.52,92.63 440.64,92.48 442.76,93.05 444.88,93.69 447.00,94.29 449.12,93.92 451.24,94.58 453.36,94.67 455.48,94.81 457.60,95.22 459.72,95.29 461.84,95.97 463.96,95.84 466.08,96.35 468.20,96.11 470.32,96.34 472.44,97.18 474.56,97.30 476.68,97.38 478.80,96.87 480.92,97.45 483.04,97.41 485.16,97.80 487.28,97.72 489.40,97.93 491.52,98.05 493.64,97.93 495.76,98.01 497.88,97.81 500.00,98.07 502.12,97.92 504.24,98.04 506.36,97.99 508.48,98.32 510.60,98.80" fill="none" stroke="#9d9d9f" stroke-width="0.8" stroke-linejoin="round"/>
<line x1="394.00" y1="105.68" x2="394.00" y2="104.64" stroke="#9d9d9f" stroke-width="0.8"/>
<line x1="393.00" y1="104.64" x2="395.00" y2="104.64" stroke="#9d9d9f" stroke-width="0.8"/>
<line x1="393.00" y1="105.68" x2="395.00" y2="105.68" stroke="#9d9d9f" stroke-width="0.8"/>
<line x1="398.24" y1="105.56" x2="398.24" y2="104.53" stroke="#9d9d9f" stroke-width="0.8"/>
<line x1="397.24" y1="104.53" x2="399.24" y2="104.53" stroke="#9d9d9f" stroke-width="0.8"/>
<line x1="397.24" y1="105.56" x2="399.24" y2="105.56" stroke="#9d9d9f" stroke-width="0.8"/>
<line x1="402.48" y1="105.34" x2="402.48" y2="104.31" stroke="#9d9d9f" stroke-width="0.8"/>
<line x1="401.48" y1="104.31" x2="403.48" y2="104.31" stroke="#9d9d9f" stroke-width="0.8"/>
<line x1="401.48" y1="105.34" x2="403.48" y2="105.34" stroke="#9d9d9f" stroke-width="0.8"/>
<line x1="406.72" y1="105.87" x2="406.72" y2="104.84" stroke="#9d9d9f" stroke-width="0.8"/>
<line x1="405.72" y1="104.84" x2="407.72" y2="104.84" stroke="#9d9d9f" stroke-width="0.8"/>
<line x1="405.72" y1="105.87" x2="407.72" y2="105.87" stroke="#9d9d9f" stroke-width="0.8"/>
<line x1="410.96" y1="105.66" x2="410.96" y2="104.62" stroke="#9d9d9f" stroke-width="0.8"/>
<line x1="409.96" y1="104.62" x2="411.96" y2="104.62" stroke="#9d9d9f" stroke-width="0.8"/>
<line x1="409.96" y1="105.66" x2="411.96" y2="105.66" stroke="#9d9d9f" stroke-width="0.8"/>
<line x1="415.20" y1="84.79" x2="415.20" y2="83.75" stroke="#9d9d9f" stroke-width="0.8"/>
<line x1="414.20" y1="83.75" x2="416.20" y2="83.75" stroke="#9d9d9f" stroke-width="0.8"/>
<line x1="414.20" y1="84.79" x2="416.20" y2="84.79" stroke="#9d9d9f" stroke-width="0.8"/>
<line x1="419.44" y1="86.74" x2="419.44" y2="85.71" stroke="#9d9d9f" stroke-width="0.8"/>
<line x1="418.44" y1="85.71" x2="420.44" y2="85.71" stroke="#9d9d9f" stroke-width="0.8"/>
<line x1="418.44" y1="86.74" x2="420.44" y2="86.74" stroke="#9d9d9f" stroke-width="0.8"/>
<line x1="423.68" y1="88.50" x2="423.68" y2="87.46" stroke="#9d9d9f" stroke-width="0.8"/>
<line x1="422.68" y1="87.46" x2="424.68" y2="87.46" stroke="#9d9d9f" stroke-width="0.8"/>
<line x1="422.68" y1="88.50" x2="424.68" y2="88.50" stroke="#9d9d9f" stroke-width="0.8"/>
<line x1="427.92" y1="89.89" x2="427.92" y2="88.86" stroke="#9d9d9f" stroke-width="0.8"/>
<line x1="426.92" y1="88.86" x2="428.92" y2="88.86" stroke="#9d9d9f" stroke-width="0.8"/>
<line x1="426.92" y1="89.89" x2="428.92" y2="89.89" stroke="#9d9d9f" stroke-width="0.8"/>
<line x1="432.16" y1="91.21" x2="432.16" y2="90.17" stroke="#9d9d9f" stroke-width="0.8"/>
<line x1="431.16" y1="90.17" x2="433.16" y2="90.17" stroke="#9d9d9f" stroke-width="0.8"/>
<line x1="431.16" y1="91.21" x2="433.16" y2="91.21" stroke="#9d9d9f" stroke-width="0.8"/>
<line x1="436.40" y1="92.14" x2="436.40" y2="91.11" stroke="#9d9d9f" stroke-width="0.8"/>
<line x1="435.40" y1="91.11" x2="437.40" y2="91.11" stroke="#9d9d9f" stroke-width="0.8"/>
<line x1="435.40" y1="92.14" x2="437.40" y2="92.14" stroke="#9d9d9f" stroke-width="0.8"/>
<line x1="440.64" y1="93.00" x2="440.64" y2="91.96" stroke="#9d9d9f" stroke-width="0.8"/>
<line x1="439.64" y1="91.96" x2="441.64" y2="91.96" stroke="#9d9d9f" stroke-width="0.8"/>
<line x1="439.64" y1="93.00" x2="441.64" y2="93.00" stroke="#9d9d9f" stroke-width="0.8"/>
<line x1="444.88" y1="94.21" x2="444.88" y2="93.17" stroke="#9d9d9f" stroke-width="0.8"/>
<line x1="443.88" y1="93.17" x2="445.88" y2="93.17" stroke="#9d9d9f" stroke-width="0.8"/>
<line x1="443.88" y1="94.21" x2="445.88" y2="94.21" stroke="#9d9d9f" stroke-width="0.8"/>
<line x1="449.12" y1="94.44" x2="449.12" y2="93.40" stroke="#9d9d9f" stroke-width="0.8"/>
<line x1="448.12" y1="93.40" x2="450.12" y2="93.40" stroke="#9d9d9f" stroke-width="0.8"/>
<line x1="448.12" y1="94.44" x2="450.12" y2="94.44" stroke="#9d9d9f" stroke-width="0.8"/>
<line x1="453.36" y1="95.19" x2="453.36" y2="94.15" stroke="#9d9d9f" stroke-width="0.8"/>
<line x1="452.36" y1="94.15" x2="454.36" y2="94.15" stroke="#9d9d9f" stroke-width="0.8"/>
<line x1="452.36" y1="95.19" x2="454.36" y2="95.19" stroke="#9d9d9f" stroke-width="0.8"/>
<line x1="457.60" y1="95.74" x2="457.60" y2="94.70" stroke="#9d9d9f" stroke-width="0.8"/>
<line x1="456.60" y1="94.70" x2="458.60" y2="94.70" stroke="#9d9d9f" stroke-width="0.8"/>
<line x1="456.60" y1="95.74" x2="458.60" y2="95.74" stroke="#9d9d9f" stroke-width="0.8"/>
<line x1="461.84" y1="96.49" x2="461.84" y2="95.46" stroke="#9d9d9f" stroke-width="0.8"/>
<line x1="460.84" y1="95.46" x2="462.84" y2="95.46" stroke="#9d9d9f" stroke-width="0.8"/>
<line x1="460.84" y1="96.49" x2="462.84" y2="96.49" stroke="#9d9d9f" stroke-width="0.8"/>
<line x1="466.08" y1="96.87" x2="466.08" y2="95.83" stroke="#9d9d9f" stroke-width="0.8"/>
<line x1="465.08" y1="95.83" x2="467.08" y2="95.83" stroke="#9d9d9f" stroke-width="0.8"/>
<line x1="465.08" y1="96.87" x2="467.08" y2="96.87" stroke="#9d9d9f" stroke-width="0.8"/>
<line x1="470.32" y1="96.86" x2="470.32" y2="95.82" stroke="#9d9d9f" stroke-width="0.8"/>
<line x1="469.32" y1="95.82" x2="471.32" y2="95.82" stroke="#9d9d9f" stroke-width="0.8"/>
<line x1="469.32" y1="96.86" x2="471.32" y2="96.86" stroke="#9d9d9f" stroke-width="0.8"/>
<line x1="474.56" y1="97.82" x2="474.56" y2="96.78" stroke="#9d9d9f" stroke-width="0.8"/>
<line x1="473.56" y1="96.78" x2="475.56" y2="96.78" stroke="#9d9d9f" stroke-width="0.8"/>
<line x1="473.56" y1="97.82" x2="475.56" y2="97.82" stroke="#9d9d9f" stroke-width="0.8"/>
<line x1="478.80" y1="97.39" x2="478.80" y2="96.35" stroke="#9d9d9f" stroke-width="0.8"/>
<line x1="477.80" y1="96.35" x2="479.80" y2="96.35" stroke="#9d9d9f" stroke-width="0.8"/>
<line x1="477.80" y1="97.39" x2="479.80" y2="97.39" stroke="#9d9d9f" stroke-width="0.8"/>
<line x1="483.04" y1="97.92" x2="483.04" y2="96.89" stroke="#9d9d9f" stroke-width="0.8"/>
<line x1="482.04" y1="96.89" x2="484.04" y2="96.89" stroke="#9d9d9f" stroke-width="0.8"/>
<line x1="482.04" y1="97.92" x2="484.04" y2="97.92" stroke="#9d9d9f" stroke-width="0.8"/>
<line x1="487.28" y1="98.24" x2="487.28" y2="97.21" stroke="#9d9d9f" stroke-width="0.8"/>
<line x1="486.28" y1="97.21" x2="488.28" y2="97.21" stroke="#9d9d9f" stroke-width="0.8"/>
<line x1="486.28" y1="98.24" x2="488.28" y2="98.24" stroke="#9d9d9f" stroke-width="0.8"/>
<line x1="491.52" y1="98.56" x2="491.52" y2="97.53" stroke="#9d9d9f" stroke-width="0.8"/>
<line x1="490.52" y1="97.53" x2="492.52" y2="97.53" stroke="#9d9d9f" stroke-width="0.8"/>
<line x1="490.52" y1="98.56" x2="492.52" y2="98.56" stroke="#9d9d9f" stroke-width="0.8"/>
<line x1="495.76" y1="98.53" x2="495.76" y2="97.49" stroke="#9d9d9f" stroke-width="0.8"/>
<line x1="494.76" y1="97.49" x2="496.76" y2="97.49" stroke="#9d9d9f" stroke-width="0.8"/>
<line x1="494.76" y1="98.53" x2="496.76" y2="98.53" stroke="#9d9d9f" stroke-width="0.8"/>
<line x1="500.00" y1="98.59" x2="500.00" y2="97.55" stroke="#9d9d9f" stroke-width="0.8"/>
<line x1="499.00" y1="97.55" x2="501.00" y2="97.55" stroke="#9d9d9f" stroke-width="0.8"/>
<line x1="499.00" y1="98.59" x2="501.00" y2="98.59" stroke="#9d9d9f" stroke-width="0.8"/>
<line x1="504.24" y1="98.56" x2="504.24" y2="97.53" stroke="#9d9d9f" stroke-width="0.8"/>
<line x1="503.24" y1="97.53" x2="505.24" y2="97.53" stroke="#9d9d9f" stroke-width="0.8"/>
<line x1="503.24" y1="98.56" x2="505.24" y2="98.56" stroke="#9d9d9f" stroke-width="0.8"/>
<line x1="508.48" y1="98.83" x2="508.48" y2="97.80" stroke="#9d9d9f" stroke-width="0.8"/>
<line x1="507.48" y1="97.80" x2="509.48" y2="97.80" stroke="#9d9d9f" stroke-width="0.8"/>
<line x1="507.48" y1="98.83" x2="509.48" y2="98.83" stroke="#9d9d9f" stroke-width="0.8"/>
<circle cx="394.00" cy="105.16" r="1.40" fill="#9d9d9f"/>
<circle cx="396.12" cy="104.90" r="1.40" fill="#9d9d9f"/>
<circle cx="398.24" cy="105.05" r="1.40" fill="#9d9d9f"/>
<circle cx="400.36" cy="104.84" r="1.40" fill="#9d9d9f"/>
<circle cx="402.48" cy="104.83" r="1.40" fill="#9d9d9f"/>
<circle cx="404.60" cy="105.31" r="1.40" fill="#9d9d9f"/>
<circle cx="406.72" cy="105.35" r="1.40" fill="#9d9d9f"/>
<circle cx="408.84" cy="104.64" r="1.40" fill="#9d9d9f"/>
<circle cx="410.96" cy="105.14" r="1.40" fill="#9d9d9f"/>
<circle cx="413.08" cy="83.93" r="1.40" fill="#9d9d9f"/>
<circle cx="415.20" cy="84.27" r="1.40" fill="#9d9d9f"/>
<circle cx="417.32" cy="85.66" r="1.40" fill="#9d9d9f"/>
<circle cx="419.44" cy="86.22" r="1.40" fill="#9d9d9f"/>
<circle cx="421.56" cy="87.35" r="1.40" fill="#9d9d9f"/>
<circle cx="423.68" cy="87.98" r="1.40" fill="#9d9d9f"/>
<circle cx="425.80" cy="89.12" r="1.40" fill="#9d9d9f"/>
<circle cx="427.92" cy="89.38" r="1.40" fill="#9d9d9f"/>
<circle cx="430.04" cy="89.80" r="1.40" fill="#9d9d9f"/>
<circle cx="432.16" cy="90.69" r="1.40" fill="#9d9d9f"/>
<circle cx="434.28" cy="91.05" r="1.40" fill="#9d9d9f"/>
<circle cx="436.40" cy="91.62" r="1.40" fill="#9d9d9f"/>
<circle cx="438.52" cy="92.63" r="1.40" fill="#9d9d9f"/>
<circle cx="440.64" cy="92.48" r="1.40" fill="#9d9d9f"/>
<circle cx="442.76" cy="93.05" r="1.40" fill="#9d9d9f"/>
<circle cx="444.88" cy="93.69" r="1.40" fill="#9d9d9f"/>
<circle cx="447.00" cy="94.29" r="1.40" fill="#9d9d9f"/>
<circle cx="449.12" cy="93.92" r="1.40" fill="#9d9d9f"/>
<circle cx="451.24" cy="94.58" r="1.40" fill="#9d9d9f"/>
<circle cx="453.36" cy="94.67" r="1.40" fill="#9d9d9f"/>
<circle cx="455.48" cy="94.81" r="1.40" fill="#9d9d9f"/>
<circle cx="457.60" cy="95.22" r="1.40" fill="#9d9d9f"/>
<circle cx="459.72" cy="95.29" r="1.40" fill="#9d9d9f"/>
<circle cx="461.84" cy="95.97" r="1.40" fill="#9d9d9f"/>
<circle cx="463.96" cy="95.84" r="1.40" fill="#9d9d9f"/>
<circle cx="466.08" cy="96.35" r="1.40" fill="#9d9d9f"/>
<circle cx="468.20" cy="96.11" r="1.40" fill="#9d9d9f"/>
<circle cx="470.32" cy="96.34" r="1.40" fill="#9d9d9f"/>
<circle cx="472.44" cy="97.18" r="1.40" fill="#9d9d9f"/>
<circle cx="474.56" cy="97.30" r="1.40" fill="#9d9d9f"/>
<circle cx="476.68" cy="97.38" r="1.40" fill="#9d9d9f"/>
<circle cx="478.80" cy="96.87" r="1.40" fill="#9d9d9f"/>
<circle cx="480.92" cy="97.45" r="1.40" fill="#9d9d9f"/>
<circle cx="483.04" cy="97.41" r="1.40" fill="#9d9d9f"/>
<circle cx="485.16" cy="97.80" r="1.40" fill="#9d9d9f"/>
<circle cx="487.28" cy="97.72" r="1.40" fill="#9d9d9f"/>
<circle cx="489.40" cy="97.93" r="1.40" fill="#9d9d9f"/>
<circle cx="491.52" cy="98.05" r="1.40" fill="#9d9d9f"/>
<circle cx="493.64" cy="97.93" r="1.40" fill="#9d9d9f"/>
<circle cx="495.76" cy="98.01" r="1.40" fill="#9d9d9f"/>
<circle cx="497.88" cy="97.81" r="1.40" fill="#9d9d9f"/>
<circle cx="500.00" cy="98.07" r="1.40" fill="#9d9d9f"/>
<circle cx="502.12" cy="97.92" r="1.40" fill="#9d9d9f"/>
<circle cx="504.24" cy="98.04" r="1.40" fill="#9d9d9f"/>
<circle cx="506.36" cy="97.99" r="1.40" fill="#9d9d9f"/>
<circle cx="508.48" cy="98.32" r="1.40" fill="#9d9d9f"/>
<circle cx="510.60" cy="98.80" r="1.40" fill="#9d9d9f"/>
<polyline points="394.00,101.08 396.12,100.86 398.24,100.99 400.36,101.68 402.48,101.38 404.60,102.43 406.72,101.14 408.84,101.67 410.96,102.27 413.08,47.13 415.20,48.59 417.32,50.79 419.44,54.64 421.56,54.76 423.68,56.84 425.80,58.40 427.92,58.91 430.04,58.58 432.16,58.89 434.28,61.03 436.40,60.18 438.52,61.63 440.64,60.45 442.76,61.43 444.88,60.42 447.00,60.33 449.12,61.40 451.24,60.45 453.36,61.93 455.48,62.46 457.60,61.42 459.72,62.62 461.84,62.30 463.96,61.88 466.08,61.48 468.20,62.43 470.32,62.68 472.44,60.98 474.56,62.13 476.68,60.80 478.80,60.93 480.92,62.01 483.04,61.84 485.16,61.72 487.28,61.46 489.40,61.56 491.52,61.64 493.64,61.52 495.76,60.85 497.88,61.75 500.00,61.91 502.12,61.31 504.24,62.31 506.36,62.18 508.48,60.78 510.60,61.72" fill="none" stroke="#4fb39c" stroke-width="0.8" stroke-linejoin="round"/>
<line x1="394.00" y1="102.29" x2="394.00" y2="99.87" stroke="#4fb39c" stroke-width="0.8"/>
<line x1="393.00" y1="99.87" x2="395.00" y2="99.87" stroke="#4fb39c" stroke-width="0.8"/>
<line x1="393.00" y1="102.29" x2="395.00" y2="102.29" stroke="#4fb39c" stroke-width="0.8"/>
<line x1="398.24" y1="102.20" x2="398.24" y2="99.78" stroke="#4fb39c" stroke-width="0.8"/>
<line x1="397.24" y1="99.78" x2="399.24" y2="99.78" stroke="#4fb39c" stroke-width="0.8"/>
<line x1="397.24" y1="102.20" x2="399.24" y2="102.20" stroke="#4fb39c" stroke-width="0.8"/>
<line x1="402.48" y1="102.59" x2="402.48" y2="100.17" stroke="#4fb39c" stroke-width="0.8"/>
<line x1="401.48" y1="100.17" x2="403.48" y2="100.17" stroke="#4fb39c" stroke-width="0.8"/>
<line x1="401.48" y1="102.59" x2="403.48" y2="102.59" stroke="#4fb39c" stroke-width="0.8"/>
<line x1="406.72" y1="102.35" x2="406.72" y2="99.93" stroke="#4fb39c" stroke-width="0.8"/>
<line x1="405.72" y1="99.93" x2="407.72" y2="99.93" stroke="#4fb39c" stroke-width="0.8"/>
<line x1="405.72" y1="102.35" x2="407.72" y2="102.35" stroke="#4fb39c" stroke-width="0.8"/>
<line x1="410.96" y1="103.48" x2="410.96" y2="101.06" stroke="#4fb39c" stroke-width="0.8"/>
<line x1="409.96" y1="101.06" x2="411.96" y2="101.06" stroke="#4fb39c" stroke-width="0.8"/>
<line x1="409.96" y1="103.48" x2="411.96" y2="103.48" stroke="#4fb39c" stroke-width="0.8"/>
<line x1="415.20" y1="49.80" x2="415.20" y2="47.38" stroke="#4fb39c" stroke-width="0.8"/>
<line x1="414.20" y1="47.38" x2="416.20" y2="47.38" stroke="#4fb39c" stroke-width="0.8"/>
<line x1="414.20" y1="49.80" x2="416.20" y2="49.80" stroke="#4fb39c" stroke-width="0.8"/>
<line x1="419.44" y1="55.85" x2="419.44" y2="53.43" stroke="#4fb39c" stroke-width="0.8"/>
<line x1="418.44" y1="53.43" x2="420.44" y2="53.43" stroke="#4fb39c" stroke-width="0.8"/>
<line x1="418.44" y1="55.85" x2="420.44" y2="55.85" stroke="#4fb39c" stroke-width="0.8"/>
<line x1="423.68" y1="58.05" x2="423.68" y2="55.63" stroke="#4fb39c" stroke-width="0.8"/>
<line x1="422.68" y1="55.63" x2="424.68" y2="55.63" stroke="#4fb39c" stroke-width="0.8"/>
<line x1="422.68" y1="58.05" x2="424.68" y2="58.05" stroke="#4fb39c" stroke-width="0.8"/>
<line x1="427.92" y1="60.12" x2="427.92" y2="57.71" stroke="#4fb39c" stroke-width="0.8"/>
<line x1="426.92" y1="57.71" x2="428.92" y2="57.71" stroke="#4fb39c" stroke-width="0.8"/>
<line x1="426.92" y1="60.12" x2="428.92" y2="60.12" stroke="#4fb39c" stroke-width="0.8"/>
<line x1="432.16" y1="60.10" x2="432.16" y2="57.68" stroke="#4fb39c" stroke-width="0.8"/>
<line x1="431.16" y1="57.68" x2="433.16" y2="57.68" stroke="#4fb39c" stroke-width="0.8"/>
<line x1="431.16" y1="60.10" x2="433.16" y2="60.10" stroke="#4fb39c" stroke-width="0.8"/>
<line x1="436.40" y1="61.39" x2="436.40" y2="58.97" stroke="#4fb39c" stroke-width="0.8"/>
<line x1="435.40" y1="58.97" x2="437.40" y2="58.97" stroke="#4fb39c" stroke-width="0.8"/>
<line x1="435.40" y1="61.39" x2="437.40" y2="61.39" stroke="#4fb39c" stroke-width="0.8"/>
<line x1="440.64" y1="61.66" x2="440.64" y2="59.24" stroke="#4fb39c" stroke-width="0.8"/>
<line x1="439.64" y1="59.24" x2="441.64" y2="59.24" stroke="#4fb39c" stroke-width="0.8"/>
<line x1="439.64" y1="61.66" x2="441.64" y2="61.66" stroke="#4fb39c" stroke-width="0.8"/>
<line x1="444.88" y1="61.63" x2="444.88" y2="59.22" stroke="#4fb39c" stroke-width="0.8"/>
<line x1="443.88" y1="59.22" x2="445.88" y2="59.22" stroke="#4fb39c" stroke-width="0.8"/>
<line x1="443.88" y1="61.63" x2="445.88" y2="61.63" stroke="#4fb39c" stroke-width="0.8"/>
<line x1="449.12" y1="62.61" x2="449.12" y2="60.19" stroke="#4fb39c" stroke-width="0.8"/>
<line x1="448.12" y1="60.19" x2="450.12" y2="60.19" stroke="#4fb39c" stroke-width="0.8"/>
<line x1="448.12" y1="62.61" x2="450.12" y2="62.61" stroke="#4fb39c" stroke-width="0.8"/>
<line x1="453.36" y1="63.14" x2="453.36" y2="60.73" stroke="#4fb39c" stroke-width="0.8"/>
<line x1="452.36" y1="60.73" x2="454.36" y2="60.73" stroke="#4fb39c" stroke-width="0.8"/>
<line x1="452.36" y1="63.14" x2="454.36" y2="63.14" stroke="#4fb39c" stroke-width="0.8"/>
<line x1="457.60" y1="62.62" x2="457.60" y2="60.21" stroke="#4fb39c" stroke-width="0.8"/>
<line x1="456.60" y1="60.21" x2="458.60" y2="60.21" stroke="#4fb39c" stroke-width="0.8"/>
<line x1="456.60" y1="62.62" x2="458.60" y2="62.62" stroke="#4fb39c" stroke-width="0.8"/>
<line x1="461.84" y1="63.51" x2="461.84" y2="61.09" stroke="#4fb39c" stroke-width="0.8"/>
<line x1="460.84" y1="61.09" x2="462.84" y2="61.09" stroke="#4fb39c" stroke-width="0.8"/>
<line x1="460.84" y1="63.51" x2="462.84" y2="63.51" stroke="#4fb39c" stroke-width="0.8"/>
<line x1="466.08" y1="62.69" x2="466.08" y2="60.27" stroke="#4fb39c" stroke-width="0.8"/>
<line x1="465.08" y1="60.27" x2="467.08" y2="60.27" stroke="#4fb39c" stroke-width="0.8"/>
<line x1="465.08" y1="62.69" x2="467.08" y2="62.69" stroke="#4fb39c" stroke-width="0.8"/>
<line x1="470.32" y1="63.89" x2="470.32" y2="61.47" stroke="#4fb39c" stroke-width="0.8"/>
<line x1="469.32" y1="61.47" x2="471.32" y2="61.47" stroke="#4fb39c" stroke-width="0.8"/>
<line x1="469.32" y1="63.89" x2="471.32" y2="63.89" stroke="#4fb39c" stroke-width="0.8"/>
<line x1="474.56" y1="63.34" x2="474.56" y2="60.92" stroke="#4fb39c" stroke-width="0.8"/>
<line x1="473.56" y1="60.92" x2="475.56" y2="60.92" stroke="#4fb39c" stroke-width="0.8"/>
<line x1="473.56" y1="63.34" x2="475.56" y2="63.34" stroke="#4fb39c" stroke-width="0.8"/>
<line x1="478.80" y1="62.14" x2="478.80" y2="59.72" stroke="#4fb39c" stroke-width="0.8"/>
<line x1="477.80" y1="59.72" x2="479.80" y2="59.72" stroke="#4fb39c" stroke-width="0.8"/>
<line x1="477.80" y1="62.14" x2="479.80" y2="62.14" stroke="#4fb39c" stroke-width="0.8"/>
<line x1="483.04" y1="63.05" x2="483.04" y2="60.63" stroke="#4fb39c" stroke-width="0.8"/>
<line x1="482.04" y1="60.63" x2="484.04" y2="60.63" stroke="#4fb39c" stroke-width="0.8"/>
<line x1="482.04" y1="63.05" x2="484.04" y2="63.05" stroke="#4fb39c" stroke-width="0.8"/>
<line x1="487.28" y1="62.67" x2="487.28" y2="60.25" stroke="#4fb39c" stroke-width="0.8"/>
<line x1="486.28" y1="60.25" x2="488.28" y2="60.25" stroke="#4fb39c" stroke-width="0.8"/>
<line x1="486.28" y1="62.67" x2="488.28" y2="62.67" stroke="#4fb39c" stroke-width="0.8"/>
<line x1="491.52" y1="62.85" x2="491.52" y2="60.43" stroke="#4fb39c" stroke-width="0.8"/>
<line x1="490.52" y1="60.43" x2="492.52" y2="60.43" stroke="#4fb39c" stroke-width="0.8"/>
<line x1="490.52" y1="62.85" x2="492.52" y2="62.85" stroke="#4fb39c" stroke-width="0.8"/>
<line x1="495.76" y1="62.06" x2="495.76" y2="59.64" stroke="#4fb39c" stroke-width="0.8"/>
<line x1="494.76" y1="59.64" x2="496.76" y2="59.64" stroke="#4fb39c" stroke-width="0.8"/>
<line x1="494.76" y1="62.06" x2="496.76" y2="62.06" stroke="#4fb39c" stroke-width="0.8"/>
<line x1="500.00" y1="63.12" x2="500.00" y2="60.70" stroke="#4fb39c" stroke-width="0.8"/>
<line x1="499.00" y1="60.70" x2="501.00" y2="60.70" stroke="#4fb39c" stroke-width="0.8"/>
<line x1="499.00" y1="63.12" x2="501.00" y2="63.12" stroke="#4fb39c" stroke-width="0.8"/>
<line x1="504.24" y1="63.52" x2="504.24" y2="61.10" stroke="#4fb39c" stroke-width="0.8"/>
<line x1="503.24" y1="61.10" x2="505.24" y2="61.10" stroke="#4fb39c" stroke-width="0.8"/>
<line x1="503.24" y1="63.52" x2="505.24" y2="63.52" stroke="#4fb39c" stroke-width="0.8"/>
<line x1="508.48" y1="61.99" x2="508.48" y2="59.57" stroke="#4fb39c" stroke-width="0.8"/>
<line x1="507.48" y1="59.57" x2="509.48" y2="59.57" stroke="#4fb39c" stroke-width="0.8"/>
<line x1="507.48" y1="61.99" x2="509.48" y2="61.99" stroke="#4fb39c" stroke-width="0.8"/>
<circle cx="394.00" cy="101.08" r="1.40" fill="#4fb39c"/>
<circle cx="396.12" cy="100.86" r="1.40" fill="#4fb39c"/>
<circle cx="398.24" cy="100.99" r="1.40" fill="#4fb39c"/>
<circle cx="400.36" cy="101.68" r="1.40" fill="#4fb39c"/>
<circle cx="402.48" cy="101.38" r="1.40" fill="#4fb39c"/>
<circle cx="404.60" cy="102.43" r="1.40" fill="#4fb39c"/>
<circle cx="406.72" cy="101.14" r="1.40" fill="#4fb39c"/>
<circle cx="408.84" cy="101.67" r="1.40" fill="#4fb39c"/>
<circle cx="410.96" cy="102.27" r="1.40" fill="#4fb39c"/>
<circle cx="413.08" cy="47.13" r="1.40" fill="#4fb39c"/>
<circle cx="415.20" cy="48.59" r="1.40" fill="#4fb39c"/>
<circle cx="417.32" cy="50.79" r="1.40" fill="#4fb39c"/>
<circle cx="419.44" cy="54.64" r="1.40" fill="#4fb39c"/>
<circle cx="421.56" cy="54.76" r="1.40" fill="#4fb39c"/>
<circle cx="423.68" cy="56.84" r="1.40" fill="#4fb39c"/>
<circle cx="425.80" cy="58.40" r="1.40" fill="#4fb39c"/>
<circle cx="427.92" cy="58.91" r="1.40" fill="#4fb39c"/>
<circle cx="430.04" cy="58.58" r="1.40" fill="#4fb39c"/>
<circle cx="432.16" cy="58.89" r="1.40" fill="#4fb39c"/>
<circle cx="434.28" cy="61.03" r="1.40" fill="#4fb39c"/>
<circle cx="436.40" cy="60.18" r="1.40" fill="#4fb39c"/>
<circle cx="438.52" cy="61.63" r="1.40" fill="#4fb39c"/>
<circle cx="440.64" cy="60.45" r="1.40" fill="#4fb39c"/>
<circle cx="442.76" cy="61.43" r="1.40" fill="#4fb39c"/>
<circle cx="444.88" cy="60.42" r="1.40" fill="#4fb39c"/>
<circle cx="447.00" cy="60.33" r="1.40" fill="#4fb39c"/>
<circle cx="449.12" cy="61.40" r="1.40" fill="#4fb39c"/>
<circle cx="451.24" cy="60.45" r="1.40" fill="#4fb39c"/>
<circle cx="453.36" cy="61.93" r="1.40" fill="#4fb39c"/>
<circle cx="455.48" cy="62.46" r="1.40" fill="#4fb39c"/>
<circle cx="457.60" cy="61.42" r="1.40" fill="#4fb39c"/>
<circle cx="459.72" cy="62.62" r="1.40" fill="#4fb39c"/>
<circle cx="461.84" cy="62.30" r="1.40" fill="#4fb39c"/>
<circle cx="463.96" cy="61.88" r="1.40" fill="#4fb39c"/>
<circle cx="466.08" cy="61.48" r="1.40" fill="#4fb39c"/>
<circle cx="468.20" cy="62.43" r="1.40" fill="#4fb39c"/>
<circle cx="470.32" cy="62.68" r="1.40" fill="#4fb39c"/>
<circle cx="472.44" cy="60.98" r="1.40" fill="#4fb39c"/>
<circle cx="474.56" cy="62.13" r="1.40" fill="#4fb39c"/>
<circle cx="476.68" cy="60.80" r="1.40" fill="#4fb39c"/>
<circle cx="478.80" cy="60.93" r="1.40" fill="#4fb39c"/>
<circle cx="480.92" cy="62.01" r="1.40" fill="#4fb39c"/>
<circle cx="483.04" cy="61.84" r="1.40" fill="#4fb39c"/>
<circle cx="485.16" cy="61.72" r="1.40" fill="#4fb39c"/>
<circle cx="487.28" cy="61.46" r="1.40" fill="#4fb39c"/>
<circle cx="489.40" cy="61.56" r="1.40" fill="#4fb39c"/>
<circle cx="491.52" cy="61.64" r="1.40" fill="#4fb39c"/>
<circle cx="493.64" cy="61.52" r="1.40" fill="#4fb39c"/>
<circle cx="495.76" cy="60.85" r="1.40" fill="#4fb39c"/>
<circle cx="497.88" cy="61.75" r="1.40" fill="#4fb39c"/>
<circle cx="500.00" cy="61.91" r="1.40" fill="#4fb39c"/>
<circle cx="502.12" cy="61.31" r="1.40" fill="#4fb39c"/>
<circle cx="504.24" cy="62.31" r="1.40" fill="#4fb39c"/>
<circle cx="506.36" cy="62.18" r="1.40" fill="#4fb39c"/>
<circle cx="508.48" cy="60.78" r="1.40" fill="#4fb39c"/>
<circle cx="510.60" cy="61.72" r="1.40" fill="#4fb39c"/>
<polyline points="394.00,101.38 396.12,102.49 398.24,101.66 400.36,101.32 402.48,102.48 404.60,101.24 406.72,101.21 408.84,102.39 410.96,101.22 413.08,43.19 415.20,44.90 417.32,47.47 419.44,48.38 421.56,49.76 423.68,52.51 425.80,53.54 427.92,53.23 430.04,53.48 432.16,55.70 434.28,55.93 436.40,56.21 438.52,57.27 440.64,57.62 442.76,58.10 444.88,58.32 447.00,58.14 449.12,59.01 451.24,59.07 453.36,58.45 455.48,60.17 457.60,59.19 459.72,58.98 461.84,59.98 463.96,60.26 466.08,59.14 468.20,60.39 470.32,60.56 472.44,60.11 474.56,59.61 476.68,60.90 478.80,60.48 480.92,60.49 483.04,59.48 485.16,60.33 487.28,59.49 489.40,60.93 491.52,60.60 493.64,59.97 495.76,59.49 497.88,60.40 500.00,60.88 502.12,61.11 504.24,60.27 506.36,60.98 508.48,59.71 510.60,59.65" fill="none" stroke="#7fa4d8" stroke-width="0.8" stroke-linejoin="round"/>
<line x1="394.00" y1="102.93" x2="394.00" y2="99.83" stroke="#7fa4d8" stroke-width="0.8"/>
<line x1="393.00" y1="99.83" x2="395.00" y2="99.83" stroke="#7fa4d8" stroke-width="0.8"/>
<line x1="393.00" y1="102.93" x2="395.00" y2="102.93" stroke="#7fa4d8" stroke-width="0.8"/>
<line x1="398.24" y1="103.21" x2="398.24" y2="100.10" stroke="#7fa4d8" stroke-width="0.8"/>
<line x1="397.24" y1="100.10" x2="399.24" y2="100.10" stroke="#7fa4d8" stroke-width="0.8"/>
<line x1="397.24" y1="103.21" x2="399.24" y2="103.21" stroke="#7fa4d8" stroke-width="0.8"/>
<line x1="402.48" y1="104.03" x2="402.48" y2="100.92" stroke="#7fa4d8" stroke-width="0.8"/>
<line x1="401.48" y1="100.92" x2="403.48" y2="100.92" stroke="#7fa4d8" stroke-width="0.8"/>
<line x1="401.48" y1="104.03" x2="403.48" y2="104.03" stroke="#7fa4d8" stroke-width="0.8"/>
<line x1="406.72" y1="102.76" x2="406.72" y2="99.65" stroke="#7fa4d8" stroke-width="0.8"/>
<line x1="405.72" y1="99.65" x2="407.72" y2="99.65" stroke="#7fa4d8" stroke-width="0.8"/>
<line x1="405.72" y1="102.76" x2="407.72" y2="102.76" stroke="#7fa4d8" stroke-width="0.8"/>
<line x1="410.96" y1="102.77" x2="410.96" y2="99.66" stroke="#7fa4d8" stroke-width="0.8"/>
<line x1="409.96" y1="99.66" x2="411.96" y2="99.66" stroke="#7fa4d8" stroke-width="0.8"/>
<line x1="409.96" y1="102.77" x2="411.96" y2="102.77" stroke="#7fa4d8" stroke-width="0.8"/>
<line x1="415.20" y1="46.46" x2="415.20" y2="43.35" stroke="#7fa4d8" stroke-width="0.8"/>
<line x1="414.20" y1="43.35" x2="416.20" y2="43.35" stroke="#7fa4d8" stroke-width="0.8"/>
<line x1="414.20" y1="46.46" x2="416.20" y2="46.46" stroke="#7fa4d8" stroke-width="0.8"/>
<line x1="419.44" y1="49.94" x2="419.44" y2="46.83" stroke="#7fa4d8" stroke-width="0.8"/>
<line x1="418.44" y1="46.83" x2="420.44" y2="46.83" stroke="#7fa4d8" stroke-width="0.8"/>
<line x1="418.44" y1="49.94" x2="420.44" y2="49.94" stroke="#7fa4d8" stroke-width="0.8"/>
<line x1="423.68" y1="54.07" x2="423.68" y2="50.96" stroke="#7fa4d8" stroke-width="0.8"/>
<line x1="422.68" y1="50.96" x2="424.68" y2="50.96" stroke="#7fa4d8" stroke-width="0.8"/>
<line x1="422.68" y1="54.07" x2="424.68" y2="54.07" stroke="#7fa4d8" stroke-width="0.8"/>
<line x1="427.92" y1="54.79" x2="427.92" y2="51.68" stroke="#7fa4d8" stroke-width="0.8"/>
<line x1="426.92" y1="51.68" x2="428.92" y2="51.68" stroke="#7fa4d8" stroke-width="0.8"/>
<line x1="426.92" y1="54.79" x2="428.92" y2="54.79" stroke="#7fa4d8" stroke-width="0.8"/>
<line x1="432.16" y1="57.26" x2="432.16" y2="54.15" stroke="#7fa4d8" stroke-width="0.8"/>
<line x1="431.16" y1="54.15" x2="433.16" y2="54.15" stroke="#7fa4d8" stroke-width="0.8"/>
<line x1="431.16" y1="57.26" x2="433.16" y2="57.26" stroke="#7fa4d8" stroke-width="0.8"/>
<line x1="436.40" y1="57.77" x2="436.40" y2="54.66" stroke="#7fa4d8" stroke-width="0.8"/>
<line x1="435.40" y1="54.66" x2="437.40" y2="54.66" stroke="#7fa4d8" stroke-width="0.8"/>
<line x1="435.40" y1="57.77" x2="437.40" y2="57.77" stroke="#7fa4d8" stroke-width="0.8"/>
<line x1="440.64" y1="59.17" x2="440.64" y2="56.06" stroke="#7fa4d8" stroke-width="0.8"/>
<line x1="439.64" y1="56.06" x2="441.64" y2="56.06" stroke="#7fa4d8" stroke-width="0.8"/>
<line x1="439.64" y1="59.17" x2="441.64" y2="59.17" stroke="#7fa4d8" stroke-width="0.8"/>
<line x1="444.88" y1="59.87" x2="444.88" y2="56.77" stroke="#7fa4d8" stroke-width="0.8"/>
<line x1="443.88" y1="56.77" x2="445.88" y2="56.77" stroke="#7fa4d8" stroke-width="0.8"/>
<line x1="443.88" y1="59.87" x2="445.88" y2="59.87" stroke="#7fa4d8" stroke-width="0.8"/>
<line x1="449.12" y1="60.56" x2="449.12" y2="57.46" stroke="#7fa4d8" stroke-width="0.8"/>
<line x1="448.12" y1="57.46" x2="450.12" y2="57.46" stroke="#7fa4d8" stroke-width="0.8"/>
<line x1="448.12" y1="60.56" x2="450.12" y2="60.56" stroke="#7fa4d8" stroke-width="0.8"/>
<line x1="453.36" y1="60.01" x2="453.36" y2="56.90" stroke="#7fa4d8" stroke-width="0.8"/>
<line x1="452.36" y1="56.90" x2="454.36" y2="56.90" stroke="#7fa4d8" stroke-width="0.8"/>
<line x1="452.36" y1="60.01" x2="454.36" y2="60.01" stroke="#7fa4d8" stroke-width="0.8"/>
<line x1="457.60" y1="60.75" x2="457.60" y2="57.64" stroke="#7fa4d8" stroke-width="0.8"/>
<line x1="456.60" y1="57.64" x2="458.60" y2="57.64" stroke="#7fa4d8" stroke-width="0.8"/>
<line x1="456.60" y1="60.75" x2="458.60" y2="60.75" stroke="#7fa4d8" stroke-width="0.8"/>
<line x1="461.84" y1="61.53" x2="461.84" y2="58.42" stroke="#7fa4d8" stroke-width="0.8"/>
<line x1="460.84" y1="58.42" x2="462.84" y2="58.42" stroke="#7fa4d8" stroke-width="0.8"/>
<line x1="460.84" y1="61.53" x2="462.84" y2="61.53" stroke="#7fa4d8" stroke-width="0.8"/>
<line x1="466.08" y1="60.70" x2="466.08" y2="57.59" stroke="#7fa4d8" stroke-width="0.8"/>
<line x1="465.08" y1="57.59" x2="467.08" y2="57.59" stroke="#7fa4d8" stroke-width="0.8"/>
<line x1="465.08" y1="60.70" x2="467.08" y2="60.70" stroke="#7fa4d8" stroke-width="0.8"/>
<line x1="470.32" y1="62.12" x2="470.32" y2="59.01" stroke="#7fa4d8" stroke-width="0.8"/>
<line x1="469.32" y1="59.01" x2="471.32" y2="59.01" stroke="#7fa4d8" stroke-width="0.8"/>
<line x1="469.32" y1="62.12" x2="471.32" y2="62.12" stroke="#7fa4d8" stroke-width="0.8"/>
<line x1="474.56" y1="61.17" x2="474.56" y2="58.06" stroke="#7fa4d8" stroke-width="0.8"/>
<line x1="473.56" y1="58.06" x2="475.56" y2="58.06" stroke="#7fa4d8" stroke-width="0.8"/>
<line x1="473.56" y1="61.17" x2="475.56" y2="61.17" stroke="#7fa4d8" stroke-width="0.8"/>
<line x1="478.80" y1="62.03" x2="478.80" y2="58.92" stroke="#7fa4d8" stroke-width="0.8"/>
<line x1="477.80" y1="58.92" x2="479.80" y2="58.92" stroke="#7fa4d8" stroke-width="0.8"/>
<line x1="477.80" y1="62.03" x2="479.80" y2="62.03" stroke="#7fa4d8" stroke-width="0.8"/>
<line x1="483.04" y1="61.04" x2="483.04" y2="57.93" stroke="#7fa4d8" stroke-width="0.8"/>
<line x1="482.04" y1="57.93" x2="484.04" y2="57.93" stroke="#7fa4d8" stroke-width="0.8"/>
<line x1="482.04" y1="61.04" x2="484.04" y2="61.04" stroke="#7fa4d8" stroke-width="0.8"/>
<line x1="487.28" y1="61.04" x2="487.28" y2="57.93" stroke="#7fa4d8" stroke-width="0.8"/>
<line x1="486.28" y1="57.93" x2="488.28" y2="57.93" stroke="#7fa4d8" stroke-width="0.8"/>
<line x1="486.28" y1="61.04" x2="488.28" y2="61.04" stroke="#7fa4d8" stroke-width="0.8"/>
<line x1="491.52" y1="62.15" x2="491.52" y2="59.05" stroke="#7fa4d8" stroke-width="0.8"/>
<line x1="490.52" y1="59.05" x2="492.52" y2="59.05" stroke="#7fa4d8" stroke-width="0.8"/>
<line x1="490.52" y1="62.15" x2="492.52" y2="62.15" stroke="#7fa4d8" stroke-width="0.8"/>
<line x1="495.76" y1="61.05" x2="495.76" y2="57.94" stroke="#7fa4d8" stroke-width="0.8"/>
<line x1="494.76" y1="57.94" x2="496.76" y2="57.94" stroke="#7fa4d8" stroke-width="0.8"/>
<line x1="494.76" y1="61.05" x2="496.76" y2="61.05" stroke="#7fa4d8" stroke-width="0.8"/>
<line x1="500.00" y1="62.44" x2="500.00" y2="59.33" stroke="#7fa4d8" stroke-width="0.8"/>
<line x1="499.00" y1="59.33" x2="501.00" y2="59.33" stroke="#7fa4d8" stroke-width="0.8"/>
<line x1="499.00" y1="62.44" x2="501.00" y2="62.44" stroke="#7fa4d8" stroke-width="0.8"/>
<line x1="504.24" y1="61.82" x2="504.24" y2="58.72" stroke="#7fa4d8" stroke-width="0.8"/>
<line x1="503.24" y1="58.72" x2="505.24" y2="58.72" stroke="#7fa4d8" stroke-width="0.8"/>
<line x1="503.24" y1="61.82" x2="505.24" y2="61.82" stroke="#7fa4d8" stroke-width="0.8"/>
<line x1="508.48" y1="61.26" x2="508.48" y2="58.15" stroke="#7fa4d8" stroke-width="0.8"/>
<line x1="507.48" y1="58.15" x2="509.48" y2="58.15" stroke="#7fa4d8" stroke-width="0.8"/>
<line x1="507.48" y1="61.26" x2="509.48" y2="61.26" stroke="#7fa4d8" stroke-width="0.8"/>
<circle cx="394.00" cy="101.38" r="1.40" fill="#7fa4d8"/>
<circle cx="396.12" cy="102.49" r="1.40" fill="#7fa4d8"/>
<circle cx="398.24" cy="101.66" r="1.40" fill="#7fa4d8"/>
<circle cx="400.36" cy="101.32" r="1.40" fill="#7fa4d8"/>
<circle cx="402.48" cy="102.48" r="1.40" fill="#7fa4d8"/>
<circle cx="404.60" cy="101.24" r="1.40" fill="#7fa4d8"/>
<circle cx="406.72" cy="101.21" r="1.40" fill="#7fa4d8"/>
<circle cx="408.84" cy="102.39" r="1.40" fill="#7fa4d8"/>
<circle cx="410.96" cy="101.22" r="1.40" fill="#7fa4d8"/>
<circle cx="413.08" cy="43.19" r="1.40" fill="#7fa4d8"/>
<circle cx="415.20" cy="44.90" r="1.40" fill="#7fa4d8"/>
<circle cx="417.32" cy="47.47" r="1.40" fill="#7fa4d8"/>
<circle cx="419.44" cy="48.38" r="1.40" fill="#7fa4d8"/>
<circle cx="421.56" cy="49.76" r="1.40" fill="#7fa4d8"/>
<circle cx="423.68" cy="52.51" r="1.40" fill="#7fa4d8"/>
<circle cx="425.80" cy="53.54" r="1.40" fill="#7fa4d8"/>
<circle cx="427.92" cy="53.23" r="1.40" fill="#7fa4d8"/>
<circle cx="430.04" cy="53.48" r="1.40" fill="#7fa4d8"/>
<circle cx="432.16" cy="55.70" r="1.40" fill="#7fa4d8"/>
<circle cx="434.28" cy="55.93" r="1.40" fill="#7fa4d8"/>
<circle cx="436.40" cy="56.21" r="1.40" fill="#7fa4d8"/>
<circle cx="438.52" cy="57.27" r="1.40" fill="#7fa4d8"/>
<circle cx="440.64" cy="57.62" r="1.40" fill="#7fa4d8"/>
<circle cx="442.76" cy="58.10" r="1.40" fill="#7fa4d8"/>
<circle cx="444.88" cy="58.32" r="1.40" fill="#7fa4d8"/>
<circle cx="447.00" cy="58.14" r="1.40" fill="#7fa4d8"/>
<circle cx="449.12" cy="59.01" r="1.40" fill="#7fa4d8"/>
<circle cx="451.24" cy="59.07" r="1.40" fill="#7fa4d8"/>
<circle cx="453.36" cy="58.45" r="1.40" fill="#7fa4d8"/>
<circle cx="455.48" cy="60.17" r="1.40" fill="#7fa4d8"/>
<circle cx="457.60" cy="59.19" r="1.40" fill="#7fa4d8"/>
<circle cx="459.72" cy="58.98" r="1.40" fill="#7fa4d8"/>
<circle cx="461.84" cy="59.98" r="1.40" fill="#7fa4d8"/>
<circle cx="463.96" cy="60.26" r="1.40" fill="#7fa4d8"/>
<circle cx="466.08" cy="59.14" r="1.40" fill="#7fa4d8"/>
<circle cx="468.20" cy="60.39" r="1.40" fill="#7fa4d8"/>
<circle cx="470.32" cy="60.56" r="1.40" fill="#7fa4d8"/>
<circle cx="472.44" cy="60.11" r="1.40" fill="#7fa4d8"/>
<circle cx="474.56" cy="59.61" r="1.40" fill="#7fa4d8"/>
<circle cx="476.68" cy="60.90" r="1.40" fill="#7fa4d8"/>
<circle cx="478.80" cy="60.48" r="1.40" fill="#7fa4d8"/>
<circle cx="480.92" cy="60.49" r="1.40" fill="#7fa4d8"/>
<circle cx="483.04" cy="59.48" r="1.40" fill="#7fa4d8"/>
<circle cx="485.16" cy="60.33" r="1.40" fill="#7fa4d8"/>
<circle cx="487.28" cy="59.49" r="1.40" fill="#7fa4d8"/>
<circle cx="489.40" cy="60.93" r="1.40" fill="#7fa4d8"/>
<circle cx="491.52" cy="60.60" r="1.40" fill="#7fa4d8"/>
<circle cx="493.64" cy="59.97" r="1.40" fill="#7fa4d8"/>
<circle cx="495.76" cy="59.49" r="1.40" fill="#7fa4d8"/>
<circle cx="497.88" cy="60.40" r="1.40" fill="#7fa4d8"/>
<circle cx="500.00" cy="60.88" r="1.40" fill="#7fa4d8"/>
<circle cx="502.12" cy="61.11" r="1.40" fill="#7fa4d8"/>
<circle cx="504.24" cy="60.27" r="1.40" fill="#7fa4d8"/>
<circle cx="506.36" cy="60.98" r="1.40" fill="#7fa4d8"/>
<circle cx="508.48" cy="59.71" r="1.40" fill="#7fa4d8"/>
<circle cx="510.60" cy="59.65" r="1.40" fill="#7fa4d8"/>
<polyline points="394.00,101.06 396.12,100.92 398.24,100.19 400.36,100.42 402.48,100.19 404.60,100.83 406.72,101.13 408.84,100.91 410.96,100.21 413.08,47.93 415.20,49.81 417.32,51.36 419.44,52.72 421.56,53.88 423.68,54.12 425.80,55.96 427.92,56.82 430.04,56.07 432.16,56.61 434.28,56.84 436.40,57.91 438.52,57.46 440.64,57.70 442.76,58.86 444.88,58.28 447.00,58.28 449.12,58.62 451.24,58.91 453.36,59.29 455.48,59.28 457.60,59.49 459.72,59.75 461.84,59.06 463.96,59.51 466.08,58.81 468.20,59.88 470.32,58.71 472.44,59.02 474.56,58.71 476.68,58.76 478.80,58.76 480.92,59.21 483.04,60.00 485.16,58.99 487.28,59.79 489.40,59.61 491.52,59.11 493.64,59.31 495.76,59.46 497.88,58.74 500.00,59.19 502.12,59.56 504.24,59.69 506.36,58.85 508.48,59.38 510.60,58.96" fill="none" stroke="#ec5f6b" stroke-width="0.8" stroke-linejoin="round"/>
<line x1="394.00" y1="102.26" x2="394.00" y2="99.85" stroke="#ec5f6b" stroke-width="0.8"/>
<line x1="393.00" y1="99.85" x2="395.00" y2="99.85" stroke="#ec5f6b" stroke-width="0.8"/>
<line x1="393.00" y1="102.26" x2="395.00" y2="102.26" stroke="#ec5f6b" stroke-width="0.8"/>
<line x1="398.24" y1="101.40" x2="398.24" y2="98.98" stroke="#ec5f6b" stroke-width="0.8"/>
<line x1="397.24" y1="98.98" x2="399.24" y2="98.98" stroke="#ec5f6b" stroke-width="0.8"/>
<line x1="397.24" y1="101.40" x2="399.24" y2="101.40" stroke="#ec5f6b" stroke-width="0.8"/>
<line x1="402.48" y1="101.40" x2="402.48" y2="98.99" stroke="#ec5f6b" stroke-width="0.8"/>
<line x1="401.48" y1="98.99" x2="403.48" y2="98.99" stroke="#ec5f6b" stroke-width="0.8"/>
<line x1="401.48" y1="101.40" x2="403.48" y2="101.40" stroke="#ec5f6b" stroke-width="0.8"/>
<line x1="406.72" y1="102.34" x2="406.72" y2="99.92" stroke="#ec5f6b" stroke-width="0.8"/>
<line x1="405.72" y1="99.92" x2="407.72" y2="99.92" stroke="#ec5f6b" stroke-width="0.8"/>
<line x1="405.72" y1="102.34" x2="407.72" y2="102.34" stroke="#ec5f6b" stroke-width="0.8"/>
<line x1="410.96" y1="101.42" x2="410.96" y2="99.00" stroke="#ec5f6b" stroke-width="0.8"/>
<line x1="409.96" y1="99.00" x2="411.96" y2="99.00" stroke="#ec5f6b" stroke-width="0.8"/>
<line x1="409.96" y1="101.42" x2="411.96" y2="101.42" stroke="#ec5f6b" stroke-width="0.8"/>
<line x1="415.20" y1="51.02" x2="415.20" y2="48.60" stroke="#ec5f6b" stroke-width="0.8"/>
<line x1="414.20" y1="48.60" x2="416.20" y2="48.60" stroke="#ec5f6b" stroke-width="0.8"/>
<line x1="414.20" y1="51.02" x2="416.20" y2="51.02" stroke="#ec5f6b" stroke-width="0.8"/>
<line x1="419.44" y1="53.93" x2="419.44" y2="51.52" stroke="#ec5f6b" stroke-width="0.8"/>
<line x1="418.44" y1="51.52" x2="420.44" y2="51.52" stroke="#ec5f6b" stroke-width="0.8"/>
<line x1="418.44" y1="53.93" x2="420.44" y2="53.93" stroke="#ec5f6b" stroke-width="0.8"/>
<line x1="423.68" y1="55.33" x2="423.68" y2="52.91" stroke="#ec5f6b" stroke-width="0.8"/>
<line x1="422.68" y1="52.91" x2="424.68" y2="52.91" stroke="#ec5f6b" stroke-width="0.8"/>
<line x1="422.68" y1="55.33" x2="424.68" y2="55.33" stroke="#ec5f6b" stroke-width="0.8"/>
<line x1="427.92" y1="58.03" x2="427.92" y2="55.61" stroke="#ec5f6b" stroke-width="0.8"/>
<line x1="426.92" y1="55.61" x2="428.92" y2="55.61" stroke="#ec5f6b" stroke-width="0.8"/>
<line x1="426.92" y1="58.03" x2="428.92" y2="58.03" stroke="#ec5f6b" stroke-width="0.8"/>
<line x1="432.16" y1="57.82" x2="432.16" y2="55.40" stroke="#ec5f6b" stroke-width="0.8"/>
<line x1="431.16" y1="55.40" x2="433.16" y2="55.40" stroke="#ec5f6b" stroke-width="0.8"/>
<line x1="431.16" y1="57.82" x2="433.16" y2="57.82" stroke="#ec5f6b" stroke-width="0.8"/>
<line x1="436.40" y1="59.12" x2="436.40" y2="56.70" stroke="#ec5f6b" stroke-width="0.8"/>
<line x1="435.40" y1="56.70" x2="437.40" y2="56.70" stroke="#ec5f6b" stroke-width="0.8"/>
<line x1="435.40" y1="59.12" x2="437.40" y2="59.12" stroke="#ec5f6b" stroke-width="0.8"/>
<line x1="440.64" y1="58.91" x2="440.64" y2="56.49" stroke="#ec5f6b" stroke-width="0.8"/>
<line x1="439.64" y1="56.49" x2="441.64" y2="56.49" stroke="#ec5f6b" stroke-width="0.8"/>
<line x1="439.64" y1="58.91" x2="441.64" y2="58.91" stroke="#ec5f6b" stroke-width="0.8"/>
<line x1="444.88" y1="59.49" x2="444.88" y2="57.07" stroke="#ec5f6b" stroke-width="0.8"/>
<line x1="443.88" y1="57.07" x2="445.88" y2="57.07" stroke="#ec5f6b" stroke-width="0.8"/>
<line x1="443.88" y1="59.49" x2="445.88" y2="59.49" stroke="#ec5f6b" stroke-width="0.8"/>
<line x1="449.12" y1="59.83" x2="449.12" y2="57.41" stroke="#ec5f6b" stroke-width="0.8"/>
<line x1="448.12" y1="57.41" x2="450.12" y2="57.41" stroke="#ec5f6b" stroke-width="0.8"/>
<line x1="448.12" y1="59.83" x2="450.12" y2="59.83" stroke="#ec5f6b" stroke-width="0.8"/>
<line x1="453.36" y1="60.50" x2="453.36" y2="58.09" stroke="#ec5f6b" stroke-width="0.8"/>
<line x1="452.36" y1="58.09" x2="454.36" y2="58.09" stroke="#ec5f6b" stroke-width="0.8"/>
<line x1="452.36" y1="60.50" x2="454.36" y2="60.50" stroke="#ec5f6b" stroke-width="0.8"/>
<line x1="457.60" y1="60.70" x2="457.60" y2="58.28" stroke="#ec5f6b" stroke-width="0.8"/>
<line x1="456.60" y1="58.28" x2="458.60" y2="58.28" stroke="#ec5f6b" stroke-width="0.8"/>
<line x1="456.60" y1="60.70" x2="458.60" y2="60.70" stroke="#ec5f6b" stroke-width="0.8"/>
<line x1="461.84" y1="60.27" x2="461.84" y2="57.85" stroke="#ec5f6b" stroke-width="0.8"/>
<line x1="460.84" y1="57.85" x2="462.84" y2="57.85" stroke="#ec5f6b" stroke-width="0.8"/>
<line x1="460.84" y1="60.27" x2="462.84" y2="60.27" stroke="#ec5f6b" stroke-width="0.8"/>
<line x1="466.08" y1="60.02" x2="466.08" y2="57.60" stroke="#ec5f6b" stroke-width="0.8"/>
<line x1="465.08" y1="57.60" x2="467.08" y2="57.60" stroke="#ec5f6b" stroke-width="0.8"/>
<line x1="465.08" y1="60.02" x2="467.08" y2="60.02" stroke="#ec5f6b" stroke-width="0.8"/>
<line x1="470.32" y1="59.92" x2="470.32" y2="57.51" stroke="#ec5f6b" stroke-width="0.8"/>
<line x1="469.32" y1="57.51" x2="471.32" y2="57.51" stroke="#ec5f6b" stroke-width="0.8"/>
<line x1="469.32" y1="59.92" x2="471.32" y2="59.92" stroke="#ec5f6b" stroke-width="0.8"/>
<line x1="474.56" y1="59.92" x2="474.56" y2="57.50" stroke="#ec5f6b" stroke-width="0.8"/>
<line x1="473.56" y1="57.50" x2="475.56" y2="57.50" stroke="#ec5f6b" stroke-width="0.8"/>
<line x1="473.56" y1="59.92" x2="475.56" y2="59.92" stroke="#ec5f6b" stroke-width="0.8"/>
<line x1="478.80" y1="59.97" x2="478.80" y2="57.55" stroke="#ec5f6b" stroke-width="0.8"/>
<line x1="477.80" y1="57.55" x2="479.80" y2="57.55" stroke="#ec5f6b" stroke-width="0.8"/>
<line x1="477.80" y1="59.97" x2="479.80" y2="59.97" stroke="#ec5f6b" stroke-width="0.8"/>
<line x1="483.04" y1="61.21" x2="483.04" y2="58.79" stroke="#ec5f6b" stroke-width="0.8"/>
<line x1="482.04" y1="58.79" x2="484.04" y2="58.79" stroke="#ec5f6b" stroke-width="0.8"/>
<line x1="482.04" y1="61.21" x2="484.04" y2="61.21" stroke="#ec5f6b" stroke-width="0.8"/>
<line x1="487.28" y1="60.99" x2="487.28" y2="58.58" stroke="#ec5f6b" stroke-width="0.8"/>
<line x1="486.28" y1="58.58" x2="488.28" y2="58.58" stroke="#ec5f6b" stroke-width="0.8"/>
<line x1="486.28" y1="60.99" x2="488.28" y2="60.99" stroke="#ec5f6b" stroke-width="0.8"/>
<line x1="491.52" y1="60.32" x2="491.52" y2="57.90" stroke="#ec5f6b" stroke-width="0.8"/>
<line x1="490.52" y1="57.90" x2="492.52" y2="57.90" stroke="#ec5f6b" stroke-width="0.8"/>
<line x1="490.52" y1="60.32" x2="492.52" y2="60.32" stroke="#ec5f6b" stroke-width="0.8"/>
<line x1="495.76" y1="60.67" x2="495.76" y2="58.25" stroke="#ec5f6b" stroke-width="0.8"/>
<line x1="494.76" y1="58.25" x2="496.76" y2="58.25" stroke="#ec5f6b" stroke-width="0.8"/>
<line x1="494.76" y1="60.67" x2="496.76" y2="60.67" stroke="#ec5f6b" stroke-width="0.8"/>
<line x1="500.00" y1="60.40" x2="500.00" y2="57.98" stroke="#ec5f6b" stroke-width="0.8"/>
<line x1="499.00" y1="57.98" x2="501.00" y2="57.98" stroke="#ec5f6b" stroke-width="0.8"/>
<line x1="499.00" y1="60.40" x2="501.00" y2="60.40" stroke="#ec5f6b" stroke-width="0.8"/>
<line x1="504.24" y1="60.90" x2="504.24" y2="58.48" stroke="#ec5f6b" stroke-width="0.8"/>
<line x1="503.24" y1="58.48" x2="505.24" y2="58.48" stroke="#ec5f6b" stroke-width="0.8"/>
<line x1="503.24" y1="60.90" x2="505.24" y2="60.90" stroke="#ec5f6b" stroke-width="0.8"/>
<line x1="508.48" y1="60.59" x2="508.48" y2="58.17" stroke="#ec5f6b" stroke-width="0.8"/>
<line x1="507.48" y1="58.17" x2="509.48" y2="58.17" stroke="#ec5f6b" stroke-width="0.8"/>
<line x1="507.48" y1="60.59" x2="509.48" y2="60.59" stroke="#ec5f6b" stroke-width="0.8"/>
<circle cx="394.00" cy="101.06" r="1.40" fill="#ec5f6b"/>
<circle cx="396.12" cy="100.92" r="1.40" fill="#ec5f6b"/>
<circle cx="398.24" cy="100.19" r="1.40" fill="#ec5f6b"/>
<circle cx="400.36" cy="100.42" r="1.40" fill="#ec5f6b"/>
<circle cx="402.48" cy="100.19" r="1.40" fill="#ec5f6b"/>
<circle cx="404.60" cy="100.83" r="1.40" fill="#ec5f6b"/>
<circle cx="406.72" cy="101.13" r="1.40" fill="#ec5f6b"/>
<circle cx="408.84" cy="100.91" r="1.40" fill="#ec5f6b"/>
<circle cx="410.96" cy="100.21" r="1.40" fill="#ec5f6b"/>
<circle cx="413.08" cy="47.93" r="1.40" fill="#ec5f6b"/>
<circle cx="415.20" cy="49.81" r="1.40" fill="#ec5f6b"/>
<circle cx="417.32" cy="51.36" r="1.40" fill="#ec5f6b"/>
<circle cx="419.44" cy="52.72" r="1.40" fill="#ec5f6b"/>
<circle cx="421.56" cy="53.88" r="1.40" fill="#ec5f6b"/>
<circle cx="423.68" cy="54.12" r="1.40" fill="#ec5f6b"/>
<circle cx="425.80" cy="55.96" r="1.40" fill="#ec5f6b"/>
<circle cx="427.92" cy="56.82" r="1.40" fill="#ec5f6b"/>
<circle cx="430.04" cy="56.07" r="1.40" fill="#ec5f6b"/>
<circle cx="432.16" cy="56.61" r="1.40" fill="#ec5f6b"/>
<circle cx="434.28" cy="56.84" r="1.40" fill="#ec5f6b"/>
<circle cx="436.40" cy="57.91" r="1.40" fill="#ec5f6b"/>
<circle cx="438.52" cy="57.46" r="1.40" fill="#ec5f6b"/>
<circle cx="440.64" cy="57.70" r="1.40" fill="#ec5f6b"/>
<circle cx="442.76" cy="58.86" r="1.40" fill="#ec5f6b"/>
<circle cx="444.88" cy="58.28" r="1.40" fill="#ec5f6b"/>
<circle cx="447.00" cy="58.28" r="1.40" fill="#ec5f6b"/>
<circle cx="449.12" cy="58.62" r="1.40" fill="#ec5f6b"/>
<circle cx="451.24" cy="58.91" r="1.40" fill="#ec5f6b"/>
<circle cx="453.36" cy="59.29" r="1.40" fill="#ec5f6b"/>
<circle cx="455.48" cy="59.28" r="1.40" fill="#ec5f6b"/>
<circle cx="457.60" cy="59.49" r="1.40" fill="#ec5f6b"/>
<circle cx="459.72" cy="59.75" r="1.40" fill="#ec5f6b"/>
<circle cx="461.84" cy="59.06" r="1.40" fill="#ec5f6b"/>
<circle cx="463.96" cy="59.51" r="1.40" fill="#ec5f6b"/>
<circle cx="466.08" cy="58.81" r="1.40" fill="#ec5f6b"/>
<circle cx="468.20" cy="59.88" r="1.40" fill="#ec5f6b"/>
<circle cx="470.32" cy="58.71" r="1.40" fill="#ec5f6b"/>
<circle cx="472.44" cy="59.02" r="1.40" fill="#ec5f6b"/>
<circle cx="474.56" cy="58.71" r="1.40" fill="#ec5f6b"/>
<circle cx="476.68" cy="58.76" r="1.40" fill="#ec5f6b"/>
<circle cx="478.80" cy="58.76" r="1.40" fill="#ec5f6b"/>
<circle cx="480.92" cy="59.21" r="1.40" fill="#ec5f6b"/>
<circle cx="483.04" cy="60.00" r="1.40" fill="#ec5f6b"/>
<circle cx="485.16" cy="58.99" r="1.40" fill="#ec5f6b"/>
<circle cx="487.28" cy="59.79" r="1.40" fill="#ec5f6b"/>
<circle cx="489.40" cy="59.61" r="1.40" fill="#ec5f6b"/>
<circle cx="491.52" cy="59.11" r="1.40" fill="#ec5f6b"/>
<circle cx="493.64" cy="59.31" r="1.40" fill="#ec5f6b"/>
<circle cx="495.76" cy="59.46" r="1.40" fill="#ec5f6b"/>
<circle cx="497.88" cy="58.74" r="1.40" fill="#ec5f6b"/>
<circle cx="500.00" cy="59.19" r="1.40" fill="#ec5f6b"/>
<circle cx="502.12" cy="59.56" r="1.40" fill="#ec5f6b"/>
<circle cx="504.24" cy="59.69" r="1.40" fill="#ec5f6b"/>
<circle cx="506.36" cy="58.85" r="1.40" fill="#ec5f6b"/>
<circle cx="508.48" cy="59.38" r="1.40" fill="#ec5f6b"/>
<circle cx="510.60" cy="58.96" r="1.40" fill="#ec5f6b"/>
<line x1="390.40" y1="126.00" x2="513.00" y2="126.00" stroke="#2b2b2b" stroke-width="1"/>
<line x1="390.40" y1="126.00" x2="390.40" y2="22.00" stroke="#2b2b2b" stroke-width="1"/>
<line x1="386.60" y1="126.00" x2="390.40" y2="126.00" stroke="#2b2b2b" stroke-width="1"/>
<text transform="translate(385.60 129.30) scale(1 1.03)" font-size="9.48" text-anchor="end" fill="#1a1a1a" stroke="#1a1a1a" stroke-width="0.15">0</text>
<line x1="386.60" y1="100.10" x2="390.40" y2="100.10" stroke="#2b2b2b" stroke-width="1"/>
<text transform="translate(385.60 103.40) scale(1 1.03)" font-size="9.48" text-anchor="end" fill="#1a1a1a" stroke="#1a1a1a" stroke-width="0.15">15000</text>
<line x1="386.60" y1="74.20" x2="390.40" y2="74.20" stroke="#2b2b2b" stroke-width="1"/>
<text transform="translate(385.60 77.50) scale(1 1.03)" font-size="9.48" text-anchor="end" fill="#1a1a1a" stroke="#1a1a1a" stroke-width="0.15">30000</text>
<line x1="386.60" y1="48.30" x2="390.40" y2="48.30" stroke="#2b2b2b" stroke-width="1"/>
<text transform="translate(385.60 51.60) scale(1 1.03)" font-size="9.48" text-anchor="end" fill="#1a1a1a" stroke="#1a1a1a" stroke-width="0.15">45000</text>
<line x1="386.60" y1="22.40" x2="390.40" y2="22.40" stroke="#2b2b2b" stroke-width="1"/>
<text transform="translate(385.60 25.70) scale(1 1.03)" font-size="9.48" text-anchor="end" fill="#1a1a1a" stroke="#1a1a1a" stroke-width="0.15">60000</text>
<line x1="394.00" y1="126.00" x2="394.00" y2="129.50" stroke="#2b2b2b" stroke-width="1"/>
<text transform="translate(394.00 139.20) scale(1 1.03)" font-size="9.48" text-anchor="middle" fill="#1a1a1a" stroke="#1a1a1a" stroke-width="0.15">0</text>
<line x1="425.80" y1="126.00" x2="425.80" y2="129.50" stroke="#2b2b2b" stroke-width="1"/>
<text transform="translate(425.80 139.20) scale(1 1.03)" font-size="9.48" text-anchor="middle" fill="#1a1a1a" stroke="#1a1a1a" stroke-width="0.15">5</text>
<line x1="457.60" y1="126.00" x2="457.60" y2="129.50" stroke="#2b2b2b" stroke-width="1"/>
<text transform="translate(457.60 139.20) scale(1 1.03)" font-size="9.48" text-anchor="middle" fill="#1a1a1a" stroke="#1a1a1a" stroke-width="0.15">10</text>
<line x1="489.40" y1="126.00" x2="489.40" y2="129.50" stroke="#2b2b2b" stroke-width="1"/>
<text transform="translate(489.40 139.20) scale(1 1.03)" font-size="9.48" text-anchor="middle" fill="#1a1a1a" stroke="#1a1a1a" stroke-width="0.15">15</text>
<line x1="400.36" y1="126.00" x2="400.36" y2="127.80" stroke="#2b2b2b" stroke-width="1"/>
<line x1="406.72" y1="126.00" x2="406.72" y2="127.80" stroke="#2b2b2b" stroke-width="1"/>
<line x1="413.08" y1="126.00" x2="413.08" y2="127.80" stroke="#2b2b2b" stroke-width="1"/>
<line x1="419.44" y1="126.00" x2="419.44" y2="127.80" stroke="#2b2b2b" stroke-width="1"/>
<line x1="432.16" y1="126.00" x2="432.16" y2="127.80" stroke="#2b2b2b" stroke-width="1"/>
<line x1="438.52" y1="126.00" x2="438.52" y2="127.80" stroke="#2b2b2b" stroke-width="1"/>
<line x1="444.88" y1="126.00" x2="444.88" y2="127.80" stroke="#2b2b2b" stroke-width="1"/>
<line x1="451.24" y1="126.00" x2="451.24" y2="127.80" stroke="#2b2b2b" stroke-width="1"/>
<line x1="463.96" y1="126.00" x2="463.96" y2="127.80" stroke="#2b2b2b" stroke-width="1"/>
<line x1="470.32" y1="126.00" x2="470.32" y2="127.80" stroke="#2b2b2b" stroke-width="1"/>
<line x1="476.68" y1="126.00" x2="476.68" y2="127.80" stroke="#2b2b2b" stroke-width="1"/>
<line x1="483.04" y1="126.00" x2="483.04" y2="127.80" stroke="#2b2b2b" stroke-width="1"/>
<line x1="495.76" y1="126.00" x2="495.76" y2="127.80" stroke="#2b2b2b" stroke-width="1"/>
<line x1="502.12" y1="126.00" x2="502.12" y2="127.80" stroke="#2b2b2b" stroke-width="1"/>
<line x1="508.48" y1="126.00" x2="508.48" y2="127.80" stroke="#2b2b2b" stroke-width="1"/>
<text transform="translate(451.40 148.80) scale(1 1.03)" font-size="9.48" text-anchor="middle" fill="#1a1a1a" stroke="#1a1a1a" stroke-width="0.15">Time (min)</text>
<text transform="translate(356.60 72.40) rotate(-90) scale(1 1.03)" font-size="8.96" text-anchor="middle" fill="#1a1a1a" stroke="#1a1a1a" stroke-width="0.15">Fluorescence Intensity (a.u.)</text>
<line x1="420.30" y1="25.30" x2="430.70" y2="25.30" stroke="#ec5f6b" stroke-width="0.9"/>
<circle cx="425.50" cy="25.30" r="2.00" fill="#ec5f6b"/>
<text transform="translate(434.60 28.40) scale(1 1.03)" font-size="8.34" text-anchor="start" fill="#1a1a1a" stroke="#1a1a1a" stroke-width="0.15">2×MIC</text>
<line x1="420.30" y1="37.40" x2="430.70" y2="37.40" stroke="#7fa4d8" stroke-width="0.9"/>
<circle cx="425.50" cy="37.40" r="2.00" fill="#7fa4d8"/>
<text transform="translate(434.60 40.50) scale(1 1.03)" font-size="8.34" text-anchor="start" fill="#1a1a1a" stroke="#1a1a1a" stroke-width="0.15">1×MIC</text>
<line x1="463.40" y1="25.30" x2="473.80" y2="25.30" stroke="#4fb39c" stroke-width="0.9"/>
<circle cx="468.60" cy="25.30" r="2.00" fill="#4fb39c"/>
<text transform="translate(477.70 28.40) scale(1 1.03)" font-size="8.34" text-anchor="start" fill="#1a1a1a" stroke="#1a1a1a" stroke-width="0.15">1/2×MIC</text>
<line x1="463.40" y1="37.40" x2="473.80" y2="37.40" stroke="#9d9d9f" stroke-width="0.9"/>
<circle cx="468.60" cy="37.40" r="2.00" fill="#9d9d9f"/>
<text transform="translate(477.70 40.50) scale(1 1.03)" font-size="8.34" text-anchor="start" fill="#1a1a1a" stroke="#1a1a1a" stroke-width="0.15">Control</text>
<text transform="translate(509.50 14.00) scale(1 1.03)" font-size="17.51" text-anchor="start" font-weight="bold" fill="#000" stroke="#000" stroke-width="0.15">d</text>
<polyline points="563.40,107.78 566.61,108.29 569.82,108.29 573.03,107.78 576.24,108.29 579.45,108.29 582.66,109.32 585.87,108.80 589.08,108.29 592.29,108.80 595.50,107.78 598.71,108.29 601.92,107.26 605.13,108.29 608.34,107.78 611.55,107.78 614.76,107.26 617.97,107.78 621.18,108.29 624.39,108.29 627.60,108.80 630.81,108.29 634.02,108.29 637.23,107.78 640.44,108.29 643.65,106.23 646.86,108.80 650.07,108.80 653.28,108.29 656.49,105.72 659.70,108.29 662.91,108.80 666.12,108.29 669.33,109.32 672.54,108.80 675.75,108.80 678.96,109.32 682.17,108.80" fill="none" stroke="#9d9d9f" stroke-width="0.8" stroke-linejoin="round"/>
<line x1="563.40" y1="108.39" x2="563.40" y2="107.16" stroke="#9d9d9f" stroke-width="0.8"/>
<line x1="562.40" y1="107.16" x2="564.40" y2="107.16" stroke="#9d9d9f" stroke-width="0.8"/>
<line x1="562.40" y1="108.39" x2="564.40" y2="108.39" stroke="#9d9d9f" stroke-width="0.8"/>
<line x1="566.61" y1="108.91" x2="566.61" y2="107.67" stroke="#9d9d9f" stroke-width="0.8"/>
<line x1="565.61" y1="107.67" x2="567.61" y2="107.67" stroke="#9d9d9f" stroke-width="0.8"/>
<line x1="565.61" y1="108.91" x2="567.61" y2="108.91" stroke="#9d9d9f" stroke-width="0.8"/>
<line x1="569.82" y1="108.91" x2="569.82" y2="107.67" stroke="#9d9d9f" stroke-width="0.8"/>
<line x1="568.82" y1="107.67" x2="570.82" y2="107.67" stroke="#9d9d9f" stroke-width="0.8"/>
<line x1="568.82" y1="108.91" x2="570.82" y2="108.91" stroke="#9d9d9f" stroke-width="0.8"/>
<line x1="573.03" y1="108.39" x2="573.03" y2="107.16" stroke="#9d9d9f" stroke-width="0.8"/>
<line x1="572.03" y1="107.16" x2="574.03" y2="107.16" stroke="#9d9d9f" stroke-width="0.8"/>
<line x1="572.03" y1="108.39" x2="574.03" y2="108.39" stroke="#9d9d9f" stroke-width="0.8"/>
<line x1="576.24" y1="108.91" x2="576.24" y2="107.67" stroke="#9d9d9f" stroke-width="0.8"/>
<line x1="575.24" y1="107.67" x2="577.24" y2="107.67" stroke="#9d9d9f" stroke-width="0.8"/>
<line x1="575.24" y1="108.91" x2="577.24" y2="108.91" stroke="#9d9d9f" stroke-width="0.8"/>
<line x1="579.45" y1="108.91" x2="579.45" y2="107.67" stroke="#9d9d9f" stroke-width="0.8"/>
<line x1="578.45" y1="107.67" x2="580.45" y2="107.67" stroke="#9d9d9f" stroke-width="0.8"/>
<line x1="578.45" y1="108.91" x2="580.45" y2="108.91" stroke="#9d9d9f" stroke-width="0.8"/>
<line x1="582.66" y1="109.94" x2="582.66" y2="108.70" stroke="#9d9d9f" stroke-width="0.8"/>
<line x1="581.66" y1="108.70" x2="583.66" y2="108.70" stroke="#9d9d9f" stroke-width="0.8"/>
<line x1="581.66" y1="109.94" x2="583.66" y2="109.94" stroke="#9d9d9f" stroke-width="0.8"/>
<line x1="585.87" y1="109.42" x2="585.87" y2="108.19" stroke="#9d9d9f" stroke-width="0.8"/>
<line x1="584.87" y1="108.19" x2="586.87" y2="108.19" stroke="#9d9d9f" stroke-width="0.8"/>
<line x1="584.87" y1="109.42" x2="586.87" y2="109.42" stroke="#9d9d9f" stroke-width="0.8"/>
<line x1="589.08" y1="108.91" x2="589.08" y2="107.67" stroke="#9d9d9f" stroke-width="0.8"/>
<line x1="588.08" y1="107.67" x2="590.08" y2="107.67" stroke="#9d9d9f" stroke-width="0.8"/>
<line x1="588.08" y1="108.91" x2="590.08" y2="108.91" stroke="#9d9d9f" stroke-width="0.8"/>
<line x1="592.29" y1="109.42" x2="592.29" y2="108.19" stroke="#9d9d9f" stroke-width="0.8"/>
<line x1="591.29" y1="108.19" x2="593.29" y2="108.19" stroke="#9d9d9f" stroke-width="0.8"/>
<line x1="591.29" y1="109.42" x2="593.29" y2="109.42" stroke="#9d9d9f" stroke-width="0.8"/>
<line x1="595.50" y1="108.39" x2="595.50" y2="107.16" stroke="#9d9d9f" stroke-width="0.8"/>
<line x1="594.50" y1="107.16" x2="596.50" y2="107.16" stroke="#9d9d9f" stroke-width="0.8"/>
<line x1="594.50" y1="108.39" x2="596.50" y2="108.39" stroke="#9d9d9f" stroke-width="0.8"/>
<line x1="598.71" y1="108.91" x2="598.71" y2="107.67" stroke="#9d9d9f" stroke-width="0.8"/>
<line x1="597.71" y1="107.67" x2="599.71" y2="107.67" stroke="#9d9d9f" stroke-width="0.8"/>
<line x1="597.71" y1="108.91" x2="599.71" y2="108.91" stroke="#9d9d9f" stroke-width="0.8"/>
<line x1="601.92" y1="107.88" x2="601.92" y2="106.64" stroke="#9d9d9f" stroke-width="0.8"/>
<line x1="600.92" y1="106.64" x2="602.92" y2="106.64" stroke="#9d9d9f" stroke-width="0.8"/>
<line x1="600.92" y1="107.88" x2="602.92" y2="107.88" stroke="#9d9d9f" stroke-width="0.8"/>
<line x1="605.13" y1="108.91" x2="605.13" y2="107.67" stroke="#9d9d9f" stroke-width="0.8"/>
<line x1="604.13" y1="107.67" x2="606.13" y2="107.67" stroke="#9d9d9f" stroke-width="0.8"/>
<line x1="604.13" y1="108.91" x2="606.13" y2="108.91" stroke="#9d9d9f" stroke-width="0.8"/>
<line x1="608.34" y1="108.39" x2="608.34" y2="107.16" stroke="#9d9d9f" stroke-width="0.8"/>
<line x1="607.34" y1="107.16" x2="609.34" y2="107.16" stroke="#9d9d9f" stroke-width="0.8"/>
<line x1="607.34" y1="108.39" x2="609.34" y2="108.39" stroke="#9d9d9f" stroke-width="0.8"/>
<line x1="611.55" y1="108.39" x2="611.55" y2="107.16" stroke="#9d9d9f" stroke-width="0.8"/>
<line x1="610.55" y1="107.16" x2="612.55" y2="107.16" stroke="#9d9d9f" stroke-width="0.8"/>
<line x1="610.55" y1="108.39" x2="612.55" y2="108.39" stroke="#9d9d9f" stroke-width="0.8"/>
<line x1="614.76" y1="107.88" x2="614.76" y2="106.64" stroke="#9d9d9f" stroke-width="0.8"/>
<line x1="613.76" y1="106.64" x2="615.76" y2="106.64" stroke="#9d9d9f" stroke-width="0.8"/>
<line x1="613.76" y1="107.88" x2="615.76" y2="107.88" stroke="#9d9d9f" stroke-width="0.8"/>
<line x1="617.97" y1="108.39" x2="617.97" y2="107.16" stroke="#9d9d9f" stroke-width="0.8"/>
<line x1="616.97" y1="107.16" x2="618.97" y2="107.16" stroke="#9d9d9f" stroke-width="0.8"/>
<line x1="616.97" y1="108.39" x2="618.97" y2="108.39" stroke="#9d9d9f" stroke-width="0.8"/>
<line x1="621.18" y1="108.91" x2="621.18" y2="107.67" stroke="#9d9d9f" stroke-width="0.8"/>
<line x1="620.18" y1="107.67" x2="622.18" y2="107.67" stroke="#9d9d9f" stroke-width="0.8"/>
<line x1="620.18" y1="108.91" x2="622.18" y2="108.91" stroke="#9d9d9f" stroke-width="0.8"/>
<line x1="624.39" y1="108.91" x2="624.39" y2="107.67" stroke="#9d9d9f" stroke-width="0.8"/>
<line x1="623.39" y1="107.67" x2="625.39" y2="107.67" stroke="#9d9d9f" stroke-width="0.8"/>
<line x1="623.39" y1="108.91" x2="625.39" y2="108.91" stroke="#9d9d9f" stroke-width="0.8"/>
<line x1="627.60" y1="109.42" x2="627.60" y2="108.19" stroke="#9d9d9f" stroke-width="0.8"/>
<line x1="626.60" y1="108.19" x2="628.60" y2="108.19" stroke="#9d9d9f" stroke-width="0.8"/>
<line x1="626.60" y1="109.42" x2="628.60" y2="109.42" stroke="#9d9d9f" stroke-width="0.8"/>
<line x1="630.81" y1="108.91" x2="630.81" y2="107.67" stroke="#9d9d9f" stroke-width="0.8"/>
<line x1="629.81" y1="107.67" x2="631.81" y2="107.67" stroke="#9d9d9f" stroke-width="0.8"/>
<line x1="629.81" y1="108.91" x2="631.81" y2="108.91" stroke="#9d9d9f" stroke-width="0.8"/>
<line x1="634.02" y1="108.91" x2="634.02" y2="107.67" stroke="#9d9d9f" stroke-width="0.8"/>
<line x1="633.02" y1="107.67" x2="635.02" y2="107.67" stroke="#9d9d9f" stroke-width="0.8"/>
<line x1="633.02" y1="108.91" x2="635.02" y2="108.91" stroke="#9d9d9f" stroke-width="0.8"/>
<line x1="637.23" y1="108.39" x2="637.23" y2="107.16" stroke="#9d9d9f" stroke-width="0.8"/>
<line x1="636.23" y1="107.16" x2="638.23" y2="107.16" stroke="#9d9d9f" stroke-width="0.8"/>
<line x1="636.23" y1="108.39" x2="638.23" y2="108.39" stroke="#9d9d9f" stroke-width="0.8"/>
<line x1="640.44" y1="108.91" x2="640.44" y2="107.67" stroke="#9d9d9f" stroke-width="0.8"/>
<line x1="639.44" y1="107.67" x2="641.44" y2="107.67" stroke="#9d9d9f" stroke-width="0.8"/>
<line x1="639.44" y1="108.91" x2="641.44" y2="108.91" stroke="#9d9d9f" stroke-width="0.8"/>
<line x1="643.65" y1="106.85" x2="643.65" y2="105.61" stroke="#9d9d9f" stroke-width="0.8"/>
<line x1="642.65" y1="105.61" x2="644.65" y2="105.61" stroke="#9d9d9f" stroke-width="0.8"/>
<line x1="642.65" y1="106.85" x2="644.65" y2="106.85" stroke="#9d9d9f" stroke-width="0.8"/>
<line x1="646.86" y1="109.42" x2="646.86" y2="108.19" stroke="#9d9d9f" stroke-width="0.8"/>
<line x1="645.86" y1="108.19" x2="647.86" y2="108.19" stroke="#9d9d9f" stroke-width="0.8"/>
<line x1="645.86" y1="109.42" x2="647.86" y2="109.42" stroke="#9d9d9f" stroke-width="0.8"/>
<line x1="650.07" y1="109.42" x2="650.07" y2="108.19" stroke="#9d9d9f" stroke-width="0.8"/>
<line x1="649.07" y1="108.19" x2="651.07" y2="108.19" stroke="#9d9d9f" stroke-width="0.8"/>
<line x1="649.07" y1="109.42" x2="651.07" y2="109.42" stroke="#9d9d9f" stroke-width="0.8"/>
<line x1="653.28" y1="108.91" x2="653.28" y2="107.67" stroke="#9d9d9f" stroke-width="0.8"/>
<line x1="652.28" y1="107.67" x2="654.28" y2="107.67" stroke="#9d9d9f" stroke-width="0.8"/>
<line x1="652.28" y1="108.91" x2="654.28" y2="108.91" stroke="#9d9d9f" stroke-width="0.8"/>
<line x1="656.49" y1="106.33" x2="656.49" y2="105.10" stroke="#9d9d9f" stroke-width="0.8"/>
<line x1="655.49" y1="105.10" x2="657.49" y2="105.10" stroke="#9d9d9f" stroke-width="0.8"/>
<line x1="655.49" y1="106.33" x2="657.49" y2="106.33" stroke="#9d9d9f" stroke-width="0.8"/>
<line x1="659.70" y1="108.91" x2="659.70" y2="107.67" stroke="#9d9d9f" stroke-width="0.8"/>
<line x1="658.70" y1="107.67" x2="660.70" y2="107.67" stroke="#9d9d9f" stroke-width="0.8"/>
<line x1="658.70" y1="108.91" x2="660.70" y2="108.91" stroke="#9d9d9f" stroke-width="0.8"/>
<line x1="662.91" y1="109.42" x2="662.91" y2="108.19" stroke="#9d9d9f" stroke-width="0.8"/>
<line x1="661.91" y1="108.19" x2="663.91" y2="108.19" stroke="#9d9d9f" stroke-width="0.8"/>
<line x1="661.91" y1="109.42" x2="663.91" y2="109.42" stroke="#9d9d9f" stroke-width="0.8"/>
<line x1="666.12" y1="108.91" x2="666.12" y2="107.67" stroke="#9d9d9f" stroke-width="0.8"/>
<line x1="665.12" y1="107.67" x2="667.12" y2="107.67" stroke="#9d9d9f" stroke-width="0.8"/>
<line x1="665.12" y1="108.91" x2="667.12" y2="108.91" stroke="#9d9d9f" stroke-width="0.8"/>
<line x1="669.33" y1="109.94" x2="669.33" y2="108.70" stroke="#9d9d9f" stroke-width="0.8"/>
<line x1="668.33" y1="108.70" x2="670.33" y2="108.70" stroke="#9d9d9f" stroke-width="0.8"/>
<line x1="668.33" y1="109.94" x2="670.33" y2="109.94" stroke="#9d9d9f" stroke-width="0.8"/>
<line x1="672.54" y1="109.42" x2="672.54" y2="108.19" stroke="#9d9d9f" stroke-width="0.8"/>
<line x1="671.54" y1="108.19" x2="673.54" y2="108.19" stroke="#9d9d9f" stroke-width="0.8"/>
<line x1="671.54" y1="109.42" x2="673.54" y2="109.42" stroke="#9d9d9f" stroke-width="0.8"/>
<line x1="675.75" y1="109.42" x2="675.75" y2="108.19" stroke="#9d9d9f" stroke-width="0.8"/>
<line x1="674.75" y1="108.19" x2="676.75" y2="108.19" stroke="#9d9d9f" stroke-width="0.8"/>
<line x1="674.75" y1="109.42" x2="676.75" y2="109.42" stroke="#9d9d9f" stroke-width="0.8"/>
<line x1="678.96" y1="109.94" x2="678.96" y2="108.70" stroke="#9d9d9f" stroke-width="0.8"/>
<line x1="677.96" y1="108.70" x2="679.96" y2="108.70" stroke="#9d9d9f" stroke-width="0.8"/>
<line x1="677.96" y1="109.94" x2="679.96" y2="109.94" stroke="#9d9d9f" stroke-width="0.8"/>
<line x1="682.17" y1="109.42" x2="682.17" y2="108.19" stroke="#9d9d9f" stroke-width="0.8"/>
<line x1="681.17" y1="108.19" x2="683.17" y2="108.19" stroke="#9d9d9f" stroke-width="0.8"/>
<line x1="681.17" y1="109.42" x2="683.17" y2="109.42" stroke="#9d9d9f" stroke-width="0.8"/>
<circle cx="563.40" cy="107.78" r="1.80" fill="#9d9d9f"/>
<circle cx="566.61" cy="108.29" r="1.80" fill="#9d9d9f"/>
<circle cx="569.82" cy="108.29" r="1.80" fill="#9d9d9f"/>
<circle cx="573.03" cy="107.78" r="1.80" fill="#9d9d9f"/>
<circle cx="576.24" cy="108.29" r="1.80" fill="#9d9d9f"/>
<circle cx="579.45" cy="108.29" r="1.80" fill="#9d9d9f"/>
<circle cx="582.66" cy="109.32" r="1.80" fill="#9d9d9f"/>
<circle cx="585.87" cy="108.80" r="1.80" fill="#9d9d9f"/>
<circle cx="589.08" cy="108.29" r="1.80" fill="#9d9d9f"/>
<circle cx="592.29" cy="108.80" r="1.80" fill="#9d9d9f"/>
<circle cx="595.50" cy="107.78" r="1.80" fill="#9d9d9f"/>
<circle cx="598.71" cy="108.29" r="1.80" fill="#9d9d9f"/>
<circle cx="601.92" cy="107.26" r="1.80" fill="#9d9d9f"/>
<circle cx="605.13" cy="108.29" r="1.80" fill="#9d9d9f"/>
<circle cx="608.34" cy="107.78" r="1.80" fill="#9d9d9f"/>
<circle cx="611.55" cy="107.78" r="1.80" fill="#9d9d9f"/>
<circle cx="614.76" cy="107.26" r="1.80" fill="#9d9d9f"/>
<circle cx="617.97" cy="107.78" r="1.80" fill="#9d9d9f"/>
<circle cx="621.18" cy="108.29" r="1.80" fill="#9d9d9f"/>
<circle cx="624.39" cy="108.29" r="1.80" fill="#9d9d9f"/>
<circle cx="627.60" cy="108.80" r="1.80" fill="#9d9d9f"/>
<circle cx="630.81" cy="108.29" r="1.80" fill="#9d9d9f"/>
<circle cx="634.02" cy="108.29" r="1.80" fill="#9d9d9f"/>
<circle cx="637.23" cy="107.78" r="1.80" fill="#9d9d9f"/>
<circle cx="640.44" cy="108.29" r="1.80" fill="#9d9d9f"/>
<circle cx="643.65" cy="106.23" r="1.80" fill="#9d9d9f"/>
<circle cx="646.86" cy="108.80" r="1.80" fill="#9d9d9f"/>
<circle cx="650.07" cy="108.80" r="1.80" fill="#9d9d9f"/>
<circle cx="653.28" cy="108.29" r="1.80" fill="#9d9d9f"/>
<circle cx="656.49" cy="105.72" r="1.80" fill="#9d9d9f"/>
<circle cx="659.70" cy="108.29" r="1.80" fill="#9d9d9f"/>
<circle cx="662.91" cy="108.80" r="1.80" fill="#9d9d9f"/>
<circle cx="666.12" cy="108.29" r="1.80" fill="#9d9d9f"/>
<circle cx="669.33" cy="109.32" r="1.80" fill="#9d9d9f"/>
<circle cx="672.54" cy="108.80" r="1.80" fill="#9d9d9f"/>
<circle cx="675.75" cy="108.80" r="1.80" fill="#9d9d9f"/>
<circle cx="678.96" cy="109.32" r="1.80" fill="#9d9d9f"/>
<circle cx="682.17" cy="108.80" r="1.80" fill="#9d9d9f"/>
<polyline points="563.40,107.26 566.61,107.78 569.82,106.75 573.03,107.26 576.24,107.26 579.45,107.78 582.66,94.90 585.87,92.84 589.08,92.84 592.29,92.32 595.50,90.78 598.71,90.26 601.92,90.78 605.13,90.26 608.34,89.75 611.55,89.75 614.76,88.72 617.97,88.20 621.18,88.20 624.39,87.69 627.60,86.66 630.81,87.17 634.02,87.69 637.23,86.66 640.44,86.66 643.65,87.17 646.86,86.66 650.07,86.14 653.28,86.66 656.49,86.14 659.70,86.66 662.91,86.14 666.12,86.66 669.33,85.63 672.54,86.14 675.75,86.66 678.96,85.63 682.17,86.14" fill="none" stroke="#4fb39c" stroke-width="0.8" stroke-linejoin="round"/>
<line x1="582.66" y1="96.44" x2="582.66" y2="93.35" stroke="#4fb39c" stroke-width="0.8"/>
<line x1="581.66" y1="93.35" x2="583.66" y2="93.35" stroke="#4fb39c" stroke-width="0.8"/>
<line x1="581.66" y1="96.44" x2="583.66" y2="96.44" stroke="#4fb39c" stroke-width="0.8"/>
<line x1="585.87" y1="94.38" x2="585.87" y2="91.29" stroke="#4fb39c" stroke-width="0.8"/>
<line x1="584.87" y1="91.29" x2="586.87" y2="91.29" stroke="#4fb39c" stroke-width="0.8"/>
<line x1="584.87" y1="94.38" x2="586.87" y2="94.38" stroke="#4fb39c" stroke-width="0.8"/>
<line x1="589.08" y1="94.38" x2="589.08" y2="91.29" stroke="#4fb39c" stroke-width="0.8"/>
<line x1="588.08" y1="91.29" x2="590.08" y2="91.29" stroke="#4fb39c" stroke-width="0.8"/>
<line x1="588.08" y1="94.38" x2="590.08" y2="94.38" stroke="#4fb39c" stroke-width="0.8"/>
<line x1="592.29" y1="93.87" x2="592.29" y2="90.78" stroke="#4fb39c" stroke-width="0.8"/>
<line x1="591.29" y1="90.78" x2="593.29" y2="90.78" stroke="#4fb39c" stroke-width="0.8"/>
<line x1="591.29" y1="93.87" x2="593.29" y2="93.87" stroke="#4fb39c" stroke-width="0.8"/>
<line x1="595.50" y1="92.32" x2="595.50" y2="89.23" stroke="#4fb39c" stroke-width="0.8"/>
<line x1="594.50" y1="89.23" x2="596.50" y2="89.23" stroke="#4fb39c" stroke-width="0.8"/>
<line x1="594.50" y1="92.32" x2="596.50" y2="92.32" stroke="#4fb39c" stroke-width="0.8"/>
<line x1="598.71" y1="91.81" x2="598.71" y2="88.72" stroke="#4fb39c" stroke-width="0.8"/>
<line x1="597.71" y1="88.72" x2="599.71" y2="88.72" stroke="#4fb39c" stroke-width="0.8"/>
<line x1="597.71" y1="91.81" x2="599.71" y2="91.81" stroke="#4fb39c" stroke-width="0.8"/>
<line x1="601.92" y1="92.32" x2="601.92" y2="89.23" stroke="#4fb39c" stroke-width="0.8"/>
<line x1="600.92" y1="89.23" x2="602.92" y2="89.23" stroke="#4fb39c" stroke-width="0.8"/>
<line x1="600.92" y1="92.32" x2="602.92" y2="92.32" stroke="#4fb39c" stroke-width="0.8"/>
<line x1="605.13" y1="91.81" x2="605.13" y2="88.72" stroke="#4fb39c" stroke-width="0.8"/>
<line x1="604.13" y1="88.72" x2="606.13" y2="88.72" stroke="#4fb39c" stroke-width="0.8"/>
<line x1="604.13" y1="91.81" x2="606.13" y2="91.81" stroke="#4fb39c" stroke-width="0.8"/>
<line x1="608.34" y1="91.29" x2="608.34" y2="88.20" stroke="#4fb39c" stroke-width="0.8"/>
<line x1="607.34" y1="88.20" x2="609.34" y2="88.20" stroke="#4fb39c" stroke-width="0.8"/>
<line x1="607.34" y1="91.29" x2="609.34" y2="91.29" stroke="#4fb39c" stroke-width="0.8"/>
<line x1="611.55" y1="91.29" x2="611.55" y2="88.20" stroke="#4fb39c" stroke-width="0.8"/>
<line x1="610.55" y1="88.20" x2="612.55" y2="88.20" stroke="#4fb39c" stroke-width="0.8"/>
<line x1="610.55" y1="91.29" x2="612.55" y2="91.29" stroke="#4fb39c" stroke-width="0.8"/>
<line x1="614.76" y1="90.26" x2="614.76" y2="87.17" stroke="#4fb39c" stroke-width="0.8"/>
<line x1="613.76" y1="87.17" x2="615.76" y2="87.17" stroke="#4fb39c" stroke-width="0.8"/>
<line x1="613.76" y1="90.26" x2="615.76" y2="90.26" stroke="#4fb39c" stroke-width="0.8"/>
<line x1="617.97" y1="89.75" x2="617.97" y2="86.66" stroke="#4fb39c" stroke-width="0.8"/>
<line x1="616.97" y1="86.66" x2="618.97" y2="86.66" stroke="#4fb39c" stroke-width="0.8"/>
<line x1="616.97" y1="89.75" x2="618.97" y2="89.75" stroke="#4fb39c" stroke-width="0.8"/>
<line x1="621.18" y1="89.75" x2="621.18" y2="86.66" stroke="#4fb39c" stroke-width="0.8"/>
<line x1="620.18" y1="86.66" x2="622.18" y2="86.66" stroke="#4fb39c" stroke-width="0.8"/>
<line x1="620.18" y1="89.75" x2="622.18" y2="89.75" stroke="#4fb39c" stroke-width="0.8"/>
<line x1="624.39" y1="89.23" x2="624.39" y2="86.14" stroke="#4fb39c" stroke-width="0.8"/>
<line x1="623.39" y1="86.14" x2="625.39" y2="86.14" stroke="#4fb39c" stroke-width="0.8"/>
<line x1="623.39" y1="89.23" x2="625.39" y2="89.23" stroke="#4fb39c" stroke-width="0.8"/>
<line x1="627.60" y1="88.20" x2="627.60" y2="85.11" stroke="#4fb39c" stroke-width="0.8"/>
<line x1="626.60" y1="85.11" x2="628.60" y2="85.11" stroke="#4fb39c" stroke-width="0.8"/>
<line x1="626.60" y1="88.20" x2="628.60" y2="88.20" stroke="#4fb39c" stroke-width="0.8"/>
<line x1="630.81" y1="88.72" x2="630.81" y2="85.63" stroke="#4fb39c" stroke-width="0.8"/>
<line x1="629.81" y1="85.63" x2="631.81" y2="85.63" stroke="#4fb39c" stroke-width="0.8"/>
<line x1="629.81" y1="88.72" x2="631.81" y2="88.72" stroke="#4fb39c" stroke-width="0.8"/>
<line x1="634.02" y1="89.23" x2="634.02" y2="86.14" stroke="#4fb39c" stroke-width="0.8"/>
<line x1="633.02" y1="86.14" x2="635.02" y2="86.14" stroke="#4fb39c" stroke-width="0.8"/>
<line x1="633.02" y1="89.23" x2="635.02" y2="89.23" stroke="#4fb39c" stroke-width="0.8"/>
<line x1="637.23" y1="88.20" x2="637.23" y2="85.11" stroke="#4fb39c" stroke-width="0.8"/>
<line x1="636.23" y1="85.11" x2="638.23" y2="85.11" stroke="#4fb39c" stroke-width="0.8"/>
<line x1="636.23" y1="88.20" x2="638.23" y2="88.20" stroke="#4fb39c" stroke-width="0.8"/>
<line x1="640.44" y1="88.20" x2="640.44" y2="85.11" stroke="#4fb39c" stroke-width="0.8"/>
<line x1="639.44" y1="85.11" x2="641.44" y2="85.11" stroke="#4fb39c" stroke-width="0.8"/>
<line x1="639.44" y1="88.20" x2="641.44" y2="88.20" stroke="#4fb39c" stroke-width="0.8"/>
<line x1="643.65" y1="88.72" x2="643.65" y2="85.63" stroke="#4fb39c" stroke-width="0.8"/>
<line x1="642.65" y1="85.63" x2="644.65" y2="85.63" stroke="#4fb39c" stroke-width="0.8"/>
<line x1="642.65" y1="88.72" x2="644.65" y2="88.72" stroke="#4fb39c" stroke-width="0.8"/>
<line x1="646.86" y1="88.20" x2="646.86" y2="85.11" stroke="#4fb39c" stroke-width="0.8"/>
<line x1="645.86" y1="85.11" x2="647.86" y2="85.11" stroke="#4fb39c" stroke-width="0.8"/>
<line x1="645.86" y1="88.20" x2="647.86" y2="88.20" stroke="#4fb39c" stroke-width="0.8"/>
<line x1="650.07" y1="87.69" x2="650.07" y2="84.60" stroke="#4fb39c" stroke-width="0.8"/>
<line x1="649.07" y1="84.60" x2="651.07" y2="84.60" stroke="#4fb39c" stroke-width="0.8"/>
<line x1="649.07" y1="87.69" x2="651.07" y2="87.69" stroke="#4fb39c" stroke-width="0.8"/>
<line x1="653.28" y1="88.20" x2="653.28" y2="85.11" stroke="#4fb39c" stroke-width="0.8"/>
<line x1="652.28" y1="85.11" x2="654.28" y2="85.11" stroke="#4fb39c" stroke-width="0.8"/>
<line x1="652.28" y1="88.20" x2="654.28" y2="88.20" stroke="#4fb39c" stroke-width="0.8"/>
<line x1="656.49" y1="87.69" x2="656.49" y2="84.60" stroke="#4fb39c" stroke-width="0.8"/>
<line x1="655.49" y1="84.60" x2="657.49" y2="84.60" stroke="#4fb39c" stroke-width="0.8"/>
<line x1="655.49" y1="87.69" x2="657.49" y2="87.69" stroke="#4fb39c" stroke-width="0.8"/>
<line x1="659.70" y1="88.20" x2="659.70" y2="85.11" stroke="#4fb39c" stroke-width="0.8"/>
<line x1="658.70" y1="85.11" x2="660.70" y2="85.11" stroke="#4fb39c" stroke-width="0.8"/>
<line x1="658.70" y1="88.20" x2="660.70" y2="88.20" stroke="#4fb39c" stroke-width="0.8"/>
<line x1="662.91" y1="87.69" x2="662.91" y2="84.60" stroke="#4fb39c" stroke-width="0.8"/>
<line x1="661.91" y1="84.60" x2="663.91" y2="84.60" stroke="#4fb39c" stroke-width="0.8"/>
<line x1="661.91" y1="87.69" x2="663.91" y2="87.69" stroke="#4fb39c" stroke-width="0.8"/>
<line x1="666.12" y1="88.20" x2="666.12" y2="85.11" stroke="#4fb39c" stroke-width="0.8"/>
<line x1="665.12" y1="85.11" x2="667.12" y2="85.11" stroke="#4fb39c" stroke-width="0.8"/>
<line x1="665.12" y1="88.20" x2="667.12" y2="88.20" stroke="#4fb39c" stroke-width="0.8"/>
<line x1="669.33" y1="87.17" x2="669.33" y2="84.08" stroke="#4fb39c" stroke-width="0.8"/>
<line x1="668.33" y1="84.08" x2="670.33" y2="84.08" stroke="#4fb39c" stroke-width="0.8"/>
<line x1="668.33" y1="87.17" x2="670.33" y2="87.17" stroke="#4fb39c" stroke-width="0.8"/>
<line x1="672.54" y1="87.69" x2="672.54" y2="84.60" stroke="#4fb39c" stroke-width="0.8"/>
<line x1="671.54" y1="84.60" x2="673.54" y2="84.60" stroke="#4fb39c" stroke-width="0.8"/>
<line x1="671.54" y1="87.69" x2="673.54" y2="87.69" stroke="#4fb39c" stroke-width="0.8"/>
<line x1="675.75" y1="88.20" x2="675.75" y2="85.11" stroke="#4fb39c" stroke-width="0.8"/>
<line x1="674.75" y1="85.11" x2="676.75" y2="85.11" stroke="#4fb39c" stroke-width="0.8"/>
<line x1="674.75" y1="88.20" x2="676.75" y2="88.20" stroke="#4fb39c" stroke-width="0.8"/>
<line x1="678.96" y1="87.17" x2="678.96" y2="84.08" stroke="#4fb39c" stroke-width="0.8"/>
<line x1="677.96" y1="84.08" x2="679.96" y2="84.08" stroke="#4fb39c" stroke-width="0.8"/>
<line x1="677.96" y1="87.17" x2="679.96" y2="87.17" stroke="#4fb39c" stroke-width="0.8"/>
<line x1="682.17" y1="87.69" x2="682.17" y2="84.60" stroke="#4fb39c" stroke-width="0.8"/>
<line x1="681.17" y1="84.60" x2="683.17" y2="84.60" stroke="#4fb39c" stroke-width="0.8"/>
<line x1="681.17" y1="87.69" x2="683.17" y2="87.69" stroke="#4fb39c" stroke-width="0.8"/>
<circle cx="563.40" cy="107.26" r="1.80" fill="#4fb39c"/>
<circle cx="566.61" cy="107.78" r="1.80" fill="#4fb39c"/>
<circle cx="569.82" cy="106.75" r="1.80" fill="#4fb39c"/>
<circle cx="573.03" cy="107.26" r="1.80" fill="#4fb39c"/>
<circle cx="576.24" cy="107.26" r="1.80" fill="#4fb39c"/>
<circle cx="579.45" cy="107.78" r="1.80" fill="#4fb39c"/>
<circle cx="582.66" cy="94.90" r="1.80" fill="#4fb39c"/>
<circle cx="585.87" cy="92.84" r="1.80" fill="#4fb39c"/>
<circle cx="589.08" cy="92.84" r="1.80" fill="#4fb39c"/>
<circle cx="592.29" cy="92.32" r="1.80" fill="#4fb39c"/>
<circle cx="595.50" cy="90.78" r="1.80" fill="#4fb39c"/>
<circle cx="598.71" cy="90.26" r="1.80" fill="#4fb39c"/>
<circle cx="601.92" cy="90.78" r="1.80" fill="#4fb39c"/>
<circle cx="605.13" cy="90.26" r="1.80" fill="#4fb39c"/>
<circle cx="608.34" cy="89.75" r="1.80" fill="#4fb39c"/>
<circle cx="611.55" cy="89.75" r="1.80" fill="#4fb39c"/>
<circle cx="614.76" cy="88.72" r="1.80" fill="#4fb39c"/>
<circle cx="617.97" cy="88.20" r="1.80" fill="#4fb39c"/>
<circle cx="621.18" cy="88.20" r="1.80" fill="#4fb39c"/>
<circle cx="624.39" cy="87.69" r="1.80" fill="#4fb39c"/>
<circle cx="627.60" cy="86.66" r="1.80" fill="#4fb39c"/>
<circle cx="630.81" cy="87.17" r="1.80" fill="#4fb39c"/>
<circle cx="634.02" cy="87.69" r="1.80" fill="#4fb39c"/>
<circle cx="637.23" cy="86.66" r="1.80" fill="#4fb39c"/>
<circle cx="640.44" cy="86.66" r="1.80" fill="#4fb39c"/>
<circle cx="643.65" cy="87.17" r="1.80" fill="#4fb39c"/>
<circle cx="646.86" cy="86.66" r="1.80" fill="#4fb39c"/>
<circle cx="650.07" cy="86.14" r="1.80" fill="#4fb39c"/>
<circle cx="653.28" cy="86.66" r="1.80" fill="#4fb39c"/>
<circle cx="656.49" cy="86.14" r="1.80" fill="#4fb39c"/>
<circle cx="659.70" cy="86.66" r="1.80" fill="#4fb39c"/>
<circle cx="662.91" cy="86.14" r="1.80" fill="#4fb39c"/>
<circle cx="666.12" cy="86.66" r="1.80" fill="#4fb39c"/>
<circle cx="669.33" cy="85.63" r="1.80" fill="#4fb39c"/>
<circle cx="672.54" cy="86.14" r="1.80" fill="#4fb39c"/>
<circle cx="675.75" cy="86.66" r="1.80" fill="#4fb39c"/>
<circle cx="678.96" cy="85.63" r="1.80" fill="#4fb39c"/>
<circle cx="682.17" cy="86.14" r="1.80" fill="#4fb39c"/>
<polyline points="563.40,107.78 566.61,108.29 569.82,107.26 573.03,108.29 576.24,107.78 579.45,107.78 582.66,83.57 585.87,81.51 589.08,80.48 592.29,79.45 595.50,79.45 598.71,80.48 601.92,80.48 605.13,79.97 608.34,81.00 611.55,80.48 614.76,79.45 617.97,79.97 621.18,81.51 624.39,81.00 627.60,82.54 630.81,81.51 634.02,82.03 637.23,82.54 640.44,81.51 643.65,83.06 646.86,82.54 650.07,82.03 653.28,83.57 656.49,82.54 659.70,83.06 662.91,83.57 666.12,84.08 669.33,83.57 672.54,85.11 675.75,85.63 678.96,85.11 682.17,85.63" fill="none" stroke="#7fa4d8" stroke-width="0.8" stroke-linejoin="round"/>
<line x1="582.66" y1="86.14" x2="582.66" y2="81.00" stroke="#7fa4d8" stroke-width="0.8"/>
<line x1="581.66" y1="81.00" x2="583.66" y2="81.00" stroke="#7fa4d8" stroke-width="0.8"/>
<line x1="581.66" y1="86.14" x2="583.66" y2="86.14" stroke="#7fa4d8" stroke-width="0.8"/>
<line x1="585.87" y1="84.08" x2="585.87" y2="78.94" stroke="#7fa4d8" stroke-width="0.8"/>
<line x1="584.87" y1="78.94" x2="586.87" y2="78.94" stroke="#7fa4d8" stroke-width="0.8"/>
<line x1="584.87" y1="84.08" x2="586.87" y2="84.08" stroke="#7fa4d8" stroke-width="0.8"/>
<line x1="589.08" y1="83.06" x2="589.08" y2="77.91" stroke="#7fa4d8" stroke-width="0.8"/>
<line x1="588.08" y1="77.91" x2="590.08" y2="77.91" stroke="#7fa4d8" stroke-width="0.8"/>
<line x1="588.08" y1="83.06" x2="590.08" y2="83.06" stroke="#7fa4d8" stroke-width="0.8"/>
<line x1="592.29" y1="82.03" x2="592.29" y2="76.88" stroke="#7fa4d8" stroke-width="0.8"/>
<line x1="591.29" y1="76.88" x2="593.29" y2="76.88" stroke="#7fa4d8" stroke-width="0.8"/>
<line x1="591.29" y1="82.03" x2="593.29" y2="82.03" stroke="#7fa4d8" stroke-width="0.8"/>
<line x1="595.50" y1="82.03" x2="595.50" y2="76.88" stroke="#7fa4d8" stroke-width="0.8"/>
<line x1="594.50" y1="76.88" x2="596.50" y2="76.88" stroke="#7fa4d8" stroke-width="0.8"/>
<line x1="594.50" y1="82.03" x2="596.50" y2="82.03" stroke="#7fa4d8" stroke-width="0.8"/>
<line x1="598.71" y1="83.06" x2="598.71" y2="77.91" stroke="#7fa4d8" stroke-width="0.8"/>
<line x1="597.71" y1="77.91" x2="599.71" y2="77.91" stroke="#7fa4d8" stroke-width="0.8"/>
<line x1="597.71" y1="83.06" x2="599.71" y2="83.06" stroke="#7fa4d8" stroke-width="0.8"/>
<line x1="601.92" y1="83.06" x2="601.92" y2="77.91" stroke="#7fa4d8" stroke-width="0.8"/>
<line x1="600.92" y1="77.91" x2="602.92" y2="77.91" stroke="#7fa4d8" stroke-width="0.8"/>
<line x1="600.92" y1="83.06" x2="602.92" y2="83.06" stroke="#7fa4d8" stroke-width="0.8"/>
<line x1="605.13" y1="82.54" x2="605.13" y2="77.39" stroke="#7fa4d8" stroke-width="0.8"/>
<line x1="604.13" y1="77.39" x2="606.13" y2="77.39" stroke="#7fa4d8" stroke-width="0.8"/>
<line x1="604.13" y1="82.54" x2="606.13" y2="82.54" stroke="#7fa4d8" stroke-width="0.8"/>
<line x1="608.34" y1="83.57" x2="608.34" y2="78.42" stroke="#7fa4d8" stroke-width="0.8"/>
<line x1="607.34" y1="78.42" x2="609.34" y2="78.42" stroke="#7fa4d8" stroke-width="0.8"/>
<line x1="607.34" y1="83.57" x2="609.34" y2="83.57" stroke="#7fa4d8" stroke-width="0.8"/>
<line x1="611.55" y1="83.06" x2="611.55" y2="77.91" stroke="#7fa4d8" stroke-width="0.8"/>
<line x1="610.55" y1="77.91" x2="612.55" y2="77.91" stroke="#7fa4d8" stroke-width="0.8"/>
<line x1="610.55" y1="83.06" x2="612.55" y2="83.06" stroke="#7fa4d8" stroke-width="0.8"/>
<line x1="614.76" y1="82.03" x2="614.76" y2="76.88" stroke="#7fa4d8" stroke-width="0.8"/>
<line x1="613.76" y1="76.88" x2="615.76" y2="76.88" stroke="#7fa4d8" stroke-width="0.8"/>
<line x1="613.76" y1="82.03" x2="615.76" y2="82.03" stroke="#7fa4d8" stroke-width="0.8"/>
<line x1="617.97" y1="82.54" x2="617.97" y2="77.39" stroke="#7fa4d8" stroke-width="0.8"/>
<line x1="616.97" y1="77.39" x2="618.97" y2="77.39" stroke="#7fa4d8" stroke-width="0.8"/>
<line x1="616.97" y1="82.54" x2="618.97" y2="82.54" stroke="#7fa4d8" stroke-width="0.8"/>
<line x1="621.18" y1="84.08" x2="621.18" y2="78.94" stroke="#7fa4d8" stroke-width="0.8"/>
<line x1="620.18" y1="78.94" x2="622.18" y2="78.94" stroke="#7fa4d8" stroke-width="0.8"/>
<line x1="620.18" y1="84.08" x2="622.18" y2="84.08" stroke="#7fa4d8" stroke-width="0.8"/>
<line x1="624.39" y1="83.57" x2="624.39" y2="78.42" stroke="#7fa4d8" stroke-width="0.8"/>
<line x1="623.39" y1="78.42" x2="625.39" y2="78.42" stroke="#7fa4d8" stroke-width="0.8"/>
<line x1="623.39" y1="83.57" x2="625.39" y2="83.57" stroke="#7fa4d8" stroke-width="0.8"/>
<line x1="627.60" y1="85.11" x2="627.60" y2="79.97" stroke="#7fa4d8" stroke-width="0.8"/>
<line x1="626.60" y1="79.97" x2="628.60" y2="79.97" stroke="#7fa4d8" stroke-width="0.8"/>
<line x1="626.60" y1="85.11" x2="628.60" y2="85.11" stroke="#7fa4d8" stroke-width="0.8"/>
<line x1="630.81" y1="84.08" x2="630.81" y2="78.94" stroke="#7fa4d8" stroke-width="0.8"/>
<line x1="629.81" y1="78.94" x2="631.81" y2="78.94" stroke="#7fa4d8" stroke-width="0.8"/>
<line x1="629.81" y1="84.08" x2="631.81" y2="84.08" stroke="#7fa4d8" stroke-width="0.8"/>
<line x1="634.02" y1="84.60" x2="634.02" y2="79.45" stroke="#7fa4d8" stroke-width="0.8"/>
<line x1="633.02" y1="79.45" x2="635.02" y2="79.45" stroke="#7fa4d8" stroke-width="0.8"/>
<line x1="633.02" y1="84.60" x2="635.02" y2="84.60" stroke="#7fa4d8" stroke-width="0.8"/>
<line x1="637.23" y1="85.11" x2="637.23" y2="79.97" stroke="#7fa4d8" stroke-width="0.8"/>
<line x1="636.23" y1="79.97" x2="638.23" y2="79.97" stroke="#7fa4d8" stroke-width="0.8"/>
<line x1="636.23" y1="85.11" x2="638.23" y2="85.11" stroke="#7fa4d8" stroke-width="0.8"/>
<line x1="640.44" y1="84.08" x2="640.44" y2="78.94" stroke="#7fa4d8" stroke-width="0.8"/>
<line x1="639.44" y1="78.94" x2="641.44" y2="78.94" stroke="#7fa4d8" stroke-width="0.8"/>
<line x1="639.44" y1="84.08" x2="641.44" y2="84.08" stroke="#7fa4d8" stroke-width="0.8"/>
<line x1="643.65" y1="85.63" x2="643.65" y2="80.48" stroke="#7fa4d8" stroke-width="0.8"/>
<line x1="642.65" y1="80.48" x2="644.65" y2="80.48" stroke="#7fa4d8" stroke-width="0.8"/>
<line x1="642.65" y1="85.63" x2="644.65" y2="85.63" stroke="#7fa4d8" stroke-width="0.8"/>
<line x1="646.86" y1="85.11" x2="646.86" y2="79.97" stroke="#7fa4d8" stroke-width="0.8"/>
<line x1="645.86" y1="79.97" x2="647.86" y2="79.97" stroke="#7fa4d8" stroke-width="0.8"/>
<line x1="645.86" y1="85.11" x2="647.86" y2="85.11" stroke="#7fa4d8" stroke-width="0.8"/>
<line x1="650.07" y1="84.60" x2="650.07" y2="79.45" stroke="#7fa4d8" stroke-width="0.8"/>
<line x1="649.07" y1="79.45" x2="651.07" y2="79.45" stroke="#7fa4d8" stroke-width="0.8"/>
<line x1="649.07" y1="84.60" x2="651.07" y2="84.60" stroke="#7fa4d8" stroke-width="0.8"/>
<line x1="653.28" y1="86.14" x2="653.28" y2="81.00" stroke="#7fa4d8" stroke-width="0.8"/>
<line x1="652.28" y1="81.00" x2="654.28" y2="81.00" stroke="#7fa4d8" stroke-width="0.8"/>
<line x1="652.28" y1="86.14" x2="654.28" y2="86.14" stroke="#7fa4d8" stroke-width="0.8"/>
<line x1="656.49" y1="85.11" x2="656.49" y2="79.97" stroke="#7fa4d8" stroke-width="0.8"/>
<line x1="655.49" y1="79.97" x2="657.49" y2="79.97" stroke="#7fa4d8" stroke-width="0.8"/>
<line x1="655.49" y1="85.11" x2="657.49" y2="85.11" stroke="#7fa4d8" stroke-width="0.8"/>
<line x1="659.70" y1="85.63" x2="659.70" y2="80.48" stroke="#7fa4d8" stroke-width="0.8"/>
<line x1="658.70" y1="80.48" x2="660.70" y2="80.48" stroke="#7fa4d8" stroke-width="0.8"/>
<line x1="658.70" y1="85.63" x2="660.70" y2="85.63" stroke="#7fa4d8" stroke-width="0.8"/>
<line x1="662.91" y1="86.14" x2="662.91" y2="81.00" stroke="#7fa4d8" stroke-width="0.8"/>
<line x1="661.91" y1="81.00" x2="663.91" y2="81.00" stroke="#7fa4d8" stroke-width="0.8"/>
<line x1="661.91" y1="86.14" x2="663.91" y2="86.14" stroke="#7fa4d8" stroke-width="0.8"/>
<line x1="666.12" y1="86.66" x2="666.12" y2="81.51" stroke="#7fa4d8" stroke-width="0.8"/>
<line x1="665.12" y1="81.51" x2="667.12" y2="81.51" stroke="#7fa4d8" stroke-width="0.8"/>
<line x1="665.12" y1="86.66" x2="667.12" y2="86.66" stroke="#7fa4d8" stroke-width="0.8"/>
<line x1="669.33" y1="86.14" x2="669.33" y2="81.00" stroke="#7fa4d8" stroke-width="0.8"/>
<line x1="668.33" y1="81.00" x2="670.33" y2="81.00" stroke="#7fa4d8" stroke-width="0.8"/>
<line x1="668.33" y1="86.14" x2="670.33" y2="86.14" stroke="#7fa4d8" stroke-width="0.8"/>
<line x1="672.54" y1="87.69" x2="672.54" y2="82.54" stroke="#7fa4d8" stroke-width="0.8"/>
<line x1="671.54" y1="82.54" x2="673.54" y2="82.54" stroke="#7fa4d8" stroke-width="0.8"/>
<line x1="671.54" y1="87.69" x2="673.54" y2="87.69" stroke="#7fa4d8" stroke-width="0.8"/>
<line x1="675.75" y1="88.20" x2="675.75" y2="83.06" stroke="#7fa4d8" stroke-width="0.8"/>
<line x1="674.75" y1="83.06" x2="676.75" y2="83.06" stroke="#7fa4d8" stroke-width="0.8"/>
<line x1="674.75" y1="88.20" x2="676.75" y2="88.20" stroke="#7fa4d8" stroke-width="0.8"/>
<line x1="678.96" y1="87.69" x2="678.96" y2="82.54" stroke="#7fa4d8" stroke-width="0.8"/>
<line x1="677.96" y1="82.54" x2="679.96" y2="82.54" stroke="#7fa4d8" stroke-width="0.8"/>
<line x1="677.96" y1="87.69" x2="679.96" y2="87.69" stroke="#7fa4d8" stroke-width="0.8"/>
<line x1="682.17" y1="88.20" x2="682.17" y2="83.06" stroke="#7fa4d8" stroke-width="0.8"/>
<line x1="681.17" y1="83.06" x2="683.17" y2="83.06" stroke="#7fa4d8" stroke-width="0.8"/>
<line x1="681.17" y1="88.20" x2="683.17" y2="88.20" stroke="#7fa4d8" stroke-width="0.8"/>
<circle cx="563.40" cy="107.78" r="1.80" fill="#7fa4d8"/>
<circle cx="566.61" cy="108.29" r="1.80" fill="#7fa4d8"/>
<circle cx="569.82" cy="107.26" r="1.80" fill="#7fa4d8"/>
<circle cx="573.03" cy="108.29" r="1.80" fill="#7fa4d8"/>
<circle cx="576.24" cy="107.78" r="1.80" fill="#7fa4d8"/>
<circle cx="579.45" cy="107.78" r="1.80" fill="#7fa4d8"/>
<circle cx="582.66" cy="83.57" r="1.80" fill="#7fa4d8"/>
<circle cx="585.87" cy="81.51" r="1.80" fill="#7fa4d8"/>
<circle cx="589.08" cy="80.48" r="1.80" fill="#7fa4d8"/>
<circle cx="592.29" cy="79.45" r="1.80" fill="#7fa4d8"/>
<circle cx="595.50" cy="79.45" r="1.80" fill="#7fa4d8"/>
<circle cx="598.71" cy="80.48" r="1.80" fill="#7fa4d8"/>
<circle cx="601.92" cy="80.48" r="1.80" fill="#7fa4d8"/>
<circle cx="605.13" cy="79.97" r="1.80" fill="#7fa4d8"/>
<circle cx="608.34" cy="81.00" r="1.80" fill="#7fa4d8"/>
<circle cx="611.55" cy="80.48" r="1.80" fill="#7fa4d8"/>
<circle cx="614.76" cy="79.45" r="1.80" fill="#7fa4d8"/>
<circle cx="617.97" cy="79.97" r="1.80" fill="#7fa4d8"/>
<circle cx="621.18" cy="81.51" r="1.80" fill="#7fa4d8"/>
<circle cx="624.39" cy="81.00" r="1.80" fill="#7fa4d8"/>
<circle cx="627.60" cy="82.54" r="1.80" fill="#7fa4d8"/>
<circle cx="630.81" cy="81.51" r="1.80" fill="#7fa4d8"/>
<circle cx="634.02" cy="82.03" r="1.80" fill="#7fa4d8"/>
<circle cx="637.23" cy="82.54" r="1.80" fill="#7fa4d8"/>
<circle cx="640.44" cy="81.51" r="1.80" fill="#7fa4d8"/>
<circle cx="643.65" cy="83.06" r="1.80" fill="#7fa4d8"/>
<circle cx="646.86" cy="82.54" r="1.80" fill="#7fa4d8"/>
<circle cx="650.07" cy="82.03" r="1.80" fill="#7fa4d8"/>
<circle cx="653.28" cy="83.57" r="1.80" fill="#7fa4d8"/>
<circle cx="656.49" cy="82.54" r="1.80" fill="#7fa4d8"/>
<circle cx="659.70" cy="83.06" r="1.80" fill="#7fa4d8"/>
<circle cx="662.91" cy="83.57" r="1.80" fill="#7fa4d8"/>
<circle cx="666.12" cy="84.08" r="1.80" fill="#7fa4d8"/>
<circle cx="669.33" cy="83.57" r="1.80" fill="#7fa4d8"/>
<circle cx="672.54" cy="85.11" r="1.80" fill="#7fa4d8"/>
<circle cx="675.75" cy="85.63" r="1.80" fill="#7fa4d8"/>
<circle cx="678.96" cy="85.11" r="1.80" fill="#7fa4d8"/>
<circle cx="682.17" cy="85.63" r="1.80" fill="#7fa4d8"/>
<polyline points="563.40,106.75 566.61,107.26 569.82,103.66 573.03,104.17 576.24,104.69 579.45,105.72 582.66,68.12 585.87,61.94 589.08,61.94 592.29,56.79 595.50,55.76 598.71,55.76 601.92,52.67 605.13,55.76 608.34,55.76 611.55,54.73 614.76,56.79 617.97,57.82 621.18,58.85 624.39,59.88 627.60,60.91 630.81,59.88 634.02,62.97 637.23,61.94 640.44,59.88 643.65,61.94 646.86,64.00 650.07,65.03 653.28,64.00 656.49,64.00 659.70,69.15 662.91,66.06 666.12,67.09 669.33,66.06 672.54,69.15 675.75,67.09 678.96,68.12 682.17,69.15" fill="none" stroke="#ec5f6b" stroke-width="0.8" stroke-linejoin="round"/>
<line x1="582.66" y1="70.69" x2="582.66" y2="65.54" stroke="#ec5f6b" stroke-width="0.8"/>
<line x1="581.66" y1="65.54" x2="583.66" y2="65.54" stroke="#ec5f6b" stroke-width="0.8"/>
<line x1="581.66" y1="70.69" x2="583.66" y2="70.69" stroke="#ec5f6b" stroke-width="0.8"/>
<line x1="585.87" y1="64.00" x2="585.87" y2="59.88" stroke="#ec5f6b" stroke-width="0.8"/>
<line x1="584.87" y1="59.88" x2="586.87" y2="59.88" stroke="#ec5f6b" stroke-width="0.8"/>
<line x1="584.87" y1="64.00" x2="586.87" y2="64.00" stroke="#ec5f6b" stroke-width="0.8"/>
<line x1="589.08" y1="64.00" x2="589.08" y2="59.88" stroke="#ec5f6b" stroke-width="0.8"/>
<line x1="588.08" y1="59.88" x2="590.08" y2="59.88" stroke="#ec5f6b" stroke-width="0.8"/>
<line x1="588.08" y1="64.00" x2="590.08" y2="64.00" stroke="#ec5f6b" stroke-width="0.8"/>
<line x1="592.29" y1="59.36" x2="592.29" y2="54.21" stroke="#ec5f6b" stroke-width="0.8"/>
<line x1="591.29" y1="54.21" x2="593.29" y2="54.21" stroke="#ec5f6b" stroke-width="0.8"/>
<line x1="591.29" y1="59.36" x2="593.29" y2="59.36" stroke="#ec5f6b" stroke-width="0.8"/>
<line x1="595.50" y1="57.82" x2="595.50" y2="53.70" stroke="#ec5f6b" stroke-width="0.8"/>
<line x1="594.50" y1="53.70" x2="596.50" y2="53.70" stroke="#ec5f6b" stroke-width="0.8"/>
<line x1="594.50" y1="57.82" x2="596.50" y2="57.82" stroke="#ec5f6b" stroke-width="0.8"/>
<line x1="598.71" y1="57.82" x2="598.71" y2="53.70" stroke="#ec5f6b" stroke-width="0.8"/>
<line x1="597.71" y1="53.70" x2="599.71" y2="53.70" stroke="#ec5f6b" stroke-width="0.8"/>
<line x1="597.71" y1="57.82" x2="599.71" y2="57.82" stroke="#ec5f6b" stroke-width="0.8"/>
<line x1="601.92" y1="56.27" x2="601.92" y2="49.06" stroke="#ec5f6b" stroke-width="0.8"/>
<line x1="600.92" y1="49.06" x2="602.92" y2="49.06" stroke="#ec5f6b" stroke-width="0.8"/>
<line x1="600.92" y1="56.27" x2="602.92" y2="56.27" stroke="#ec5f6b" stroke-width="0.8"/>
<line x1="605.13" y1="58.85" x2="605.13" y2="52.67" stroke="#ec5f6b" stroke-width="0.8"/>
<line x1="604.13" y1="52.67" x2="606.13" y2="52.67" stroke="#ec5f6b" stroke-width="0.8"/>
<line x1="604.13" y1="58.85" x2="606.13" y2="58.85" stroke="#ec5f6b" stroke-width="0.8"/>
<line x1="608.34" y1="58.33" x2="608.34" y2="53.19" stroke="#ec5f6b" stroke-width="0.8"/>
<line x1="607.34" y1="53.19" x2="609.34" y2="53.19" stroke="#ec5f6b" stroke-width="0.8"/>
<line x1="607.34" y1="58.33" x2="609.34" y2="58.33" stroke="#ec5f6b" stroke-width="0.8"/>
<line x1="611.55" y1="57.30" x2="611.55" y2="52.16" stroke="#ec5f6b" stroke-width="0.8"/>
<line x1="610.55" y1="52.16" x2="612.55" y2="52.16" stroke="#ec5f6b" stroke-width="0.8"/>
<line x1="610.55" y1="57.30" x2="612.55" y2="57.30" stroke="#ec5f6b" stroke-width="0.8"/>
<line x1="614.76" y1="59.88" x2="614.76" y2="53.70" stroke="#ec5f6b" stroke-width="0.8"/>
<line x1="613.76" y1="53.70" x2="615.76" y2="53.70" stroke="#ec5f6b" stroke-width="0.8"/>
<line x1="613.76" y1="59.88" x2="615.76" y2="59.88" stroke="#ec5f6b" stroke-width="0.8"/>
<line x1="617.97" y1="60.91" x2="617.97" y2="54.73" stroke="#ec5f6b" stroke-width="0.8"/>
<line x1="616.97" y1="54.73" x2="618.97" y2="54.73" stroke="#ec5f6b" stroke-width="0.8"/>
<line x1="616.97" y1="60.91" x2="618.97" y2="60.91" stroke="#ec5f6b" stroke-width="0.8"/>
<line x1="621.18" y1="61.94" x2="621.18" y2="55.76" stroke="#ec5f6b" stroke-width="0.8"/>
<line x1="620.18" y1="55.76" x2="622.18" y2="55.76" stroke="#ec5f6b" stroke-width="0.8"/>
<line x1="620.18" y1="61.94" x2="622.18" y2="61.94" stroke="#ec5f6b" stroke-width="0.8"/>
<line x1="624.39" y1="63.48" x2="624.39" y2="56.27" stroke="#ec5f6b" stroke-width="0.8"/>
<line x1="623.39" y1="56.27" x2="625.39" y2="56.27" stroke="#ec5f6b" stroke-width="0.8"/>
<line x1="623.39" y1="63.48" x2="625.39" y2="63.48" stroke="#ec5f6b" stroke-width="0.8"/>
<line x1="627.60" y1="64.51" x2="627.60" y2="57.30" stroke="#ec5f6b" stroke-width="0.8"/>
<line x1="626.60" y1="57.30" x2="628.60" y2="57.30" stroke="#ec5f6b" stroke-width="0.8"/>
<line x1="626.60" y1="64.51" x2="628.60" y2="64.51" stroke="#ec5f6b" stroke-width="0.8"/>
<line x1="630.81" y1="63.48" x2="630.81" y2="56.27" stroke="#ec5f6b" stroke-width="0.8"/>
<line x1="629.81" y1="56.27" x2="631.81" y2="56.27" stroke="#ec5f6b" stroke-width="0.8"/>
<line x1="629.81" y1="63.48" x2="631.81" y2="63.48" stroke="#ec5f6b" stroke-width="0.8"/>
<line x1="634.02" y1="67.09" x2="634.02" y2="58.85" stroke="#ec5f6b" stroke-width="0.8"/>
<line x1="633.02" y1="58.85" x2="635.02" y2="58.85" stroke="#ec5f6b" stroke-width="0.8"/>
<line x1="633.02" y1="67.09" x2="635.02" y2="67.09" stroke="#ec5f6b" stroke-width="0.8"/>
<line x1="637.23" y1="66.06" x2="637.23" y2="57.82" stroke="#ec5f6b" stroke-width="0.8"/>
<line x1="636.23" y1="57.82" x2="638.23" y2="57.82" stroke="#ec5f6b" stroke-width="0.8"/>
<line x1="636.23" y1="66.06" x2="638.23" y2="66.06" stroke="#ec5f6b" stroke-width="0.8"/>
<line x1="640.44" y1="64.51" x2="640.44" y2="55.24" stroke="#ec5f6b" stroke-width="0.8"/>
<line x1="639.44" y1="55.24" x2="641.44" y2="55.24" stroke="#ec5f6b" stroke-width="0.8"/>
<line x1="639.44" y1="64.51" x2="641.44" y2="64.51" stroke="#ec5f6b" stroke-width="0.8"/>
<line x1="643.65" y1="66.57" x2="643.65" y2="57.30" stroke="#ec5f6b" stroke-width="0.8"/>
<line x1="642.65" y1="57.30" x2="644.65" y2="57.30" stroke="#ec5f6b" stroke-width="0.8"/>
<line x1="642.65" y1="66.57" x2="644.65" y2="66.57" stroke="#ec5f6b" stroke-width="0.8"/>
<line x1="646.86" y1="68.63" x2="646.86" y2="59.36" stroke="#ec5f6b" stroke-width="0.8"/>
<line x1="645.86" y1="59.36" x2="647.86" y2="59.36" stroke="#ec5f6b" stroke-width="0.8"/>
<line x1="645.86" y1="68.63" x2="647.86" y2="68.63" stroke="#ec5f6b" stroke-width="0.8"/>
<line x1="650.07" y1="69.66" x2="650.07" y2="60.39" stroke="#ec5f6b" stroke-width="0.8"/>
<line x1="649.07" y1="60.39" x2="651.07" y2="60.39" stroke="#ec5f6b" stroke-width="0.8"/>
<line x1="649.07" y1="69.66" x2="651.07" y2="69.66" stroke="#ec5f6b" stroke-width="0.8"/>
<line x1="653.28" y1="68.63" x2="653.28" y2="59.36" stroke="#ec5f6b" stroke-width="0.8"/>
<line x1="652.28" y1="59.36" x2="654.28" y2="59.36" stroke="#ec5f6b" stroke-width="0.8"/>
<line x1="652.28" y1="68.63" x2="654.28" y2="68.63" stroke="#ec5f6b" stroke-width="0.8"/>
<line x1="656.49" y1="69.15" x2="656.49" y2="58.85" stroke="#ec5f6b" stroke-width="0.8"/>
<line x1="655.49" y1="58.85" x2="657.49" y2="58.85" stroke="#ec5f6b" stroke-width="0.8"/>
<line x1="655.49" y1="69.15" x2="657.49" y2="69.15" stroke="#ec5f6b" stroke-width="0.8"/>
<line x1="659.70" y1="74.30" x2="659.70" y2="64.00" stroke="#ec5f6b" stroke-width="0.8"/>
<line x1="658.70" y1="64.00" x2="660.70" y2="64.00" stroke="#ec5f6b" stroke-width="0.8"/>
<line x1="658.70" y1="74.30" x2="660.70" y2="74.30" stroke="#ec5f6b" stroke-width="0.8"/>
<line x1="662.91" y1="71.21" x2="662.91" y2="60.91" stroke="#ec5f6b" stroke-width="0.8"/>
<line x1="661.91" y1="60.91" x2="663.91" y2="60.91" stroke="#ec5f6b" stroke-width="0.8"/>
<line x1="661.91" y1="71.21" x2="663.91" y2="71.21" stroke="#ec5f6b" stroke-width="0.8"/>
<line x1="666.12" y1="72.24" x2="666.12" y2="61.94" stroke="#ec5f6b" stroke-width="0.8"/>
<line x1="665.12" y1="61.94" x2="667.12" y2="61.94" stroke="#ec5f6b" stroke-width="0.8"/>
<line x1="665.12" y1="72.24" x2="667.12" y2="72.24" stroke="#ec5f6b" stroke-width="0.8"/>
<line x1="669.33" y1="71.21" x2="669.33" y2="60.91" stroke="#ec5f6b" stroke-width="0.8"/>
<line x1="668.33" y1="60.91" x2="670.33" y2="60.91" stroke="#ec5f6b" stroke-width="0.8"/>
<line x1="668.33" y1="71.21" x2="670.33" y2="71.21" stroke="#ec5f6b" stroke-width="0.8"/>
<line x1="672.54" y1="74.30" x2="672.54" y2="64.00" stroke="#ec5f6b" stroke-width="0.8"/>
<line x1="671.54" y1="64.00" x2="673.54" y2="64.00" stroke="#ec5f6b" stroke-width="0.8"/>
<line x1="671.54" y1="74.30" x2="673.54" y2="74.30" stroke="#ec5f6b" stroke-width="0.8"/>
<line x1="675.75" y1="72.24" x2="675.75" y2="61.94" stroke="#ec5f6b" stroke-width="0.8"/>
<line x1="674.75" y1="61.94" x2="676.75" y2="61.94" stroke="#ec5f6b" stroke-width="0.8"/>
<line x1="674.75" y1="72.24" x2="676.75" y2="72.24" stroke="#ec5f6b" stroke-width="0.8"/>
<line x1="678.96" y1="73.27" x2="678.96" y2="62.97" stroke="#ec5f6b" stroke-width="0.8"/>
<line x1="677.96" y1="62.97" x2="679.96" y2="62.97" stroke="#ec5f6b" stroke-width="0.8"/>
<line x1="677.96" y1="73.27" x2="679.96" y2="73.27" stroke="#ec5f6b" stroke-width="0.8"/>
<line x1="682.17" y1="74.30" x2="682.17" y2="64.00" stroke="#ec5f6b" stroke-width="0.8"/>
<line x1="681.17" y1="64.00" x2="683.17" y2="64.00" stroke="#ec5f6b" stroke-width="0.8"/>
<line x1="681.17" y1="74.30" x2="683.17" y2="74.30" stroke="#ec5f6b" stroke-width="0.8"/>
<circle cx="563.40" cy="106.75" r="1.80" fill="#ec5f6b"/>
<circle cx="566.61" cy="107.26" r="1.80" fill="#ec5f6b"/>
<circle cx="569.82" cy="103.66" r="1.80" fill="#ec5f6b"/>
<circle cx="573.03" cy="104.17" r="1.80" fill="#ec5f6b"/>
<circle cx="576.24" cy="104.69" r="1.80" fill="#ec5f6b"/>
<circle cx="579.45" cy="105.72" r="1.80" fill="#ec5f6b"/>
<circle cx="582.66" cy="68.12" r="1.80" fill="#ec5f6b"/>
<circle cx="585.87" cy="61.94" r="1.80" fill="#ec5f6b"/>
<circle cx="589.08" cy="61.94" r="1.80" fill="#ec5f6b"/>
<circle cx="592.29" cy="56.79" r="1.80" fill="#ec5f6b"/>
<circle cx="595.50" cy="55.76" r="1.80" fill="#ec5f6b"/>
<circle cx="598.71" cy="55.76" r="1.80" fill="#ec5f6b"/>
<circle cx="601.92" cy="52.67" r="1.80" fill="#ec5f6b"/>
<circle cx="605.13" cy="55.76" r="1.80" fill="#ec5f6b"/>
<circle cx="608.34" cy="55.76" r="1.80" fill="#ec5f6b"/>
<circle cx="611.55" cy="54.73" r="1.80" fill="#ec5f6b"/>
<circle cx="614.76" cy="56.79" r="1.80" fill="#ec5f6b"/>
<circle cx="617.97" cy="57.82" r="1.80" fill="#ec5f6b"/>
<circle cx="621.18" cy="58.85" r="1.80" fill="#ec5f6b"/>
<circle cx="624.39" cy="59.88" r="1.80" fill="#ec5f6b"/>
<circle cx="627.60" cy="60.91" r="1.80" fill="#ec5f6b"/>
<circle cx="630.81" cy="59.88" r="1.80" fill="#ec5f6b"/>
<circle cx="634.02" cy="62.97" r="1.80" fill="#ec5f6b"/>
<circle cx="637.23" cy="61.94" r="1.80" fill="#ec5f6b"/>
<circle cx="640.44" cy="59.88" r="1.80" fill="#ec5f6b"/>
<circle cx="643.65" cy="61.94" r="1.80" fill="#ec5f6b"/>
<circle cx="646.86" cy="64.00" r="1.80" fill="#ec5f6b"/>
<circle cx="650.07" cy="65.03" r="1.80" fill="#ec5f6b"/>
<circle cx="653.28" cy="64.00" r="1.80" fill="#ec5f6b"/>
<circle cx="656.49" cy="64.00" r="1.80" fill="#ec5f6b"/>
<circle cx="659.70" cy="69.15" r="1.80" fill="#ec5f6b"/>
<circle cx="662.91" cy="66.06" r="1.80" fill="#ec5f6b"/>
<circle cx="666.12" cy="67.09" r="1.80" fill="#ec5f6b"/>
<circle cx="669.33" cy="66.06" r="1.80" fill="#ec5f6b"/>
<circle cx="672.54" cy="69.15" r="1.80" fill="#ec5f6b"/>
<circle cx="675.75" cy="67.09" r="1.80" fill="#ec5f6b"/>
<circle cx="678.96" cy="68.12" r="1.80" fill="#ec5f6b"/>
<circle cx="682.17" cy="69.15" r="1.80" fill="#ec5f6b"/>
<line x1="560.30" y1="125.80" x2="684.00" y2="125.80" stroke="#2b2b2b" stroke-width="1"/>
<line x1="560.30" y1="125.80" x2="560.30" y2="22.20" stroke="#2b2b2b" stroke-width="1"/>
<line x1="556.50" y1="125.80" x2="560.30" y2="125.80" stroke="#2b2b2b" stroke-width="1"/>
<text transform="translate(555.20 129.10) scale(1 1.03)" font-size="9.48" text-anchor="end" fill="#1a1a1a" stroke="#1a1a1a" stroke-width="0.15">0</text>
<line x1="556.50" y1="105.20" x2="560.30" y2="105.20" stroke="#2b2b2b" stroke-width="1"/>
<text transform="translate(555.20 108.50) scale(1 1.03)" font-size="9.48" text-anchor="end" fill="#1a1a1a" stroke="#1a1a1a" stroke-width="0.15">2000</text>
<line x1="556.50" y1="84.60" x2="560.30" y2="84.60" stroke="#2b2b2b" stroke-width="1"/>
<text transform="translate(555.20 87.90) scale(1 1.03)" font-size="9.48" text-anchor="end" fill="#1a1a1a" stroke="#1a1a1a" stroke-width="0.15">4000</text>
<line x1="556.50" y1="64.00" x2="560.30" y2="64.00" stroke="#2b2b2b" stroke-width="1"/>
<text transform="translate(555.20 67.30) scale(1 1.03)" font-size="9.48" text-anchor="end" fill="#1a1a1a" stroke="#1a1a1a" stroke-width="0.15">6000</text>
<line x1="556.50" y1="43.40" x2="560.30" y2="43.40" stroke="#2b2b2b" stroke-width="1"/>
<text transform="translate(555.20 46.70) scale(1 1.03)" font-size="9.48" text-anchor="end" fill="#1a1a1a" stroke="#1a1a1a" stroke-width="0.15">8000</text>
<line x1="556.50" y1="22.80" x2="560.30" y2="22.80" stroke="#2b2b2b" stroke-width="1"/>
<text transform="translate(555.20 26.10) scale(1 1.03)" font-size="9.48" text-anchor="end" fill="#1a1a1a" stroke="#1a1a1a" stroke-width="0.15">10000</text>
<line x1="563.40" y1="125.80" x2="563.40" y2="129.30" stroke="#2b2b2b" stroke-width="1"/>
<text transform="translate(563.40 139.20) scale(1 1.03)" font-size="9.48" text-anchor="middle" fill="#1a1a1a" stroke="#1a1a1a" stroke-width="0.15">0</text>
<line x1="595.50" y1="125.80" x2="595.50" y2="129.30" stroke="#2b2b2b" stroke-width="1"/>
<text transform="translate(595.50 139.20) scale(1 1.03)" font-size="9.48" text-anchor="middle" fill="#1a1a1a" stroke="#1a1a1a" stroke-width="0.15">5</text>
<line x1="627.60" y1="125.80" x2="627.60" y2="129.30" stroke="#2b2b2b" stroke-width="1"/>
<text transform="translate(627.60 139.20) scale(1 1.03)" font-size="9.48" text-anchor="middle" fill="#1a1a1a" stroke="#1a1a1a" stroke-width="0.15">10</text>
<line x1="659.70" y1="125.80" x2="659.70" y2="129.30" stroke="#2b2b2b" stroke-width="1"/>
<text transform="translate(659.70 139.20) scale(1 1.03)" font-size="9.48" text-anchor="middle" fill="#1a1a1a" stroke="#1a1a1a" stroke-width="0.15">15</text>
<text transform="translate(621.50 148.80) scale(1 1.03)" font-size="9.48" text-anchor="middle" fill="#1a1a1a" stroke="#1a1a1a" stroke-width="0.15">Time (min)</text>
<text transform="translate(528.80 72.40) rotate(-90) scale(1 1.03)" font-size="8.96" text-anchor="middle" fill="#1a1a1a" stroke="#1a1a1a" stroke-width="0.15">Fluorescence intensity (a.u.)</text>
<line x1="572.40" y1="26.30" x2="582.80" y2="26.30" stroke="#ec5f6b" stroke-width="0.9"/>
<circle cx="577.60" cy="26.30" r="2.00" fill="#ec5f6b"/>
<text transform="translate(586.40 29.40) scale(1 1.03)" font-size="8.34" text-anchor="start" fill="#1a1a1a" stroke="#1a1a1a" stroke-width="0.15">2×MIC</text>
<line x1="572.40" y1="38.70" x2="582.80" y2="38.70" stroke="#7fa4d8" stroke-width="0.9"/>
<circle cx="577.60" cy="38.70" r="2.00" fill="#7fa4d8"/>
<text transform="translate(586.40 41.80) scale(1 1.03)" font-size="8.34" text-anchor="start" fill="#1a1a1a" stroke="#1a1a1a" stroke-width="0.15">1×MIC</text>
<line x1="625.40" y1="26.30" x2="635.80" y2="26.30" stroke="#4fb39c" stroke-width="0.9"/>
<circle cx="630.60" cy="26.30" r="2.00" fill="#4fb39c"/>
<text transform="translate(639.50 29.40) scale(1 1.03)" font-size="8.34" text-anchor="start" fill="#1a1a1a" stroke="#1a1a1a" stroke-width="0.15">1/2×MIC</text>
<line x1="625.40" y1="38.70" x2="635.80" y2="38.70" stroke="#9d9d9f" stroke-width="0.9"/>
<circle cx="630.60" cy="38.70" r="2.00" fill="#9d9d9f"/>
<text transform="translate(639.50 41.80) scale(1 1.03)" font-size="8.34" text-anchor="start" fill="#1a1a1a" stroke="#1a1a1a" stroke-width="0.15">Control</text>
<defs><filter id="bl" x="-50%" y="-50%" width="200%" height="200%"><feGaussianBlur stdDeviation="0.75"/></filter><filter id="bl2" x="-50%" y="-50%" width="200%" height="200%"><feGaussianBlur stdDeviation="1.6"/></filter><filter id="bl3" x="-20%" y="-20%" width="140%" height="140%"><feGaussianBlur stdDeviation="0.35"/></filter><linearGradient id="dicg" x1="0" y1="0" x2="1" y2="1"><stop offset="0" stop-color="#c5c5c5"/><stop offset="1" stop-color="#bebebe"/></linearGradient></defs>
<text transform="translate(2.60 172.30) scale(1 1.03)" font-size="17.51" text-anchor="start" font-weight="bold" fill="#000" stroke="#000" stroke-width="0.15">e</text>
<text transform="translate(63.70 171.20) scale(1 1.03)" font-size="10.61" text-anchor="middle" font-weight="bold" fill="#111" stroke="#111" stroke-width="0.15">DIC</text>
<text transform="translate(141.75 171.20) scale(1 1.03)" font-size="10.61" text-anchor="middle" font-weight="bold" fill="#111" stroke="#111" stroke-width="0.15">SYTO-9</text>
<text transform="translate(219.80 171.20) scale(1 1.03)" font-size="10.61" text-anchor="middle" font-weight="bold" fill="#111" stroke="#111" stroke-width="0.15">PI</text>
<text transform="translate(297.85 171.20) scale(1 1.03)" font-size="10.61" text-anchor="middle" font-weight="bold" fill="#111" stroke="#111" stroke-width="0.15">Merge</text>
<g transform="translate(25.40,176.00)">
<rect width="76.60" height="75.60" fill="url(#dicg)"/>
<g filter="url(#bl3)"><circle cx="9.3" cy="12.85" r="1.9" fill="#a4a4a4"/><circle cx="8.9" cy="12.4" r="1.35" fill="#f6f6f6"/><circle cx="11.8" cy="11.75" r="1.9" fill="#a4a4a4"/><circle cx="11.4" cy="11.3" r="1.35" fill="#f6f6f6"/><circle cx="8.3" cy="17.35" r="1.9" fill="#a4a4a4"/><circle cx="7.9" cy="16.9" r="1.35" fill="#f6f6f6"/><circle cx="10.8" cy="18.35" r="1.9" fill="#a4a4a4"/><circle cx="10.4" cy="17.9" r="1.35" fill="#f6f6f6"/><circle cx="23.1" cy="17.35" r="1.9" fill="#a4a4a4"/><circle cx="22.7" cy="16.9" r="1.35" fill="#f6f6f6"/><circle cx="32.199999999999996" cy="21.950000000000003" r="1.9" fill="#a4a4a4"/><circle cx="31.799999999999997" cy="21.5" r="1.35" fill="#f6f6f6"/><circle cx="35.599999999999994" cy="23.55" r="1.9" fill="#a4a4a4"/><circle cx="35.199999999999996" cy="23.099999999999998" r="1.35" fill="#f6f6f6"/><circle cx="52.3" cy="55.75" r="1.9" fill="#a4a4a4"/><circle cx="51.9" cy="55.3" r="1.35" fill="#f6f6f6"/><circle cx="33.3" cy="63.65" r="1.9" fill="#a4a4a4"/><circle cx="32.9" cy="63.199999999999996" r="1.35" fill="#f6f6f6"/><circle cx="64.1" cy="62.35" r="1.9" fill="#a4a4a4"/><circle cx="63.699999999999996" cy="61.9" r="1.35" fill="#f6f6f6"/><circle cx="66.8" cy="61.35" r="1.9" fill="#a4a4a4"/><circle cx="66.4" cy="60.9" r="1.35" fill="#f6f6f6"/><circle cx="66.3" cy="70.55" r="1.9" fill="#a4a4a4"/><circle cx="65.9" cy="70.10000000000001" r="1.35" fill="#f6f6f6"/></g>
</g>
<g transform="translate(103.45,176.00)">
<rect width="76.60" height="75.60" fill="#020202"/>
<g filter="url(#bl)"><g filter="url(#bl2)"><circle cx="8.70" cy="14.10" r="3.90" fill="#2ee82e" fill-opacity="0.450"/><circle cx="22.80" cy="17.10" r="2.25" fill="#2ee82e" fill-opacity="0.203"/><circle cx="30.30" cy="21.60" r="2.10" fill="#2ee82e" fill-opacity="0.158"/><circle cx="33.30" cy="23.90" r="3.30" fill="#2ee82e" fill-opacity="0.450"/><circle cx="50.10" cy="55.40" r="3.30" fill="#2ee82e" fill-opacity="0.450"/><circle cx="32.60" cy="63.00" r="2.10" fill="#2ee82e" fill-opacity="0.180"/><circle cx="64.50" cy="61.50" r="2.40" fill="#2ee82e" fill-opacity="0.180"/><circle cx="65.60" cy="70.00" r="2.10" fill="#2ee82e" fill-opacity="0.158"/></g><circle cx="8.70" cy="14.10" r="2.47" fill="#2ee82e" fill-opacity="1"/><circle cx="22.80" cy="17.10" r="1.42" fill="#2ee82e" fill-opacity="0.45"/><circle cx="30.30" cy="21.60" r="1.33" fill="#2ee82e" fill-opacity="0.35"/><circle cx="33.30" cy="23.90" r="2.09" fill="#2ee82e" fill-opacity="1"/><circle cx="50.10" cy="55.40" r="2.09" fill="#2ee82e" fill-opacity="1"/><circle cx="32.60" cy="63.00" r="1.33" fill="#2ee82e" fill-opacity="0.4"/><circle cx="64.50" cy="61.50" r="1.52" fill="#2ee82e" fill-opacity="0.4"/><circle cx="65.60" cy="70.00" r="1.33" fill="#2ee82e" fill-opacity="0.35"/></g>
</g>
<g transform="translate(181.50,176.00)">
<rect width="76.60" height="75.60" fill="#020202"/>
<g filter="url(#bl)"><g filter="url(#bl2)"><circle cx="7.40" cy="12.50" r="2.55" fill="#ff2418" fill-opacity="0.450"/><circle cx="10.30" cy="11.80" r="2.55" fill="#ff2418" fill-opacity="0.450"/><circle cx="7.40" cy="18.20" r="2.85" fill="#ff2418" fill-opacity="0.450"/><circle cx="10.10" cy="17.10" r="2.85" fill="#ff2418" fill-opacity="0.450"/><circle cx="22.20" cy="17.80" r="2.70" fill="#ff2418" fill-opacity="0.450"/><circle cx="30.60" cy="21.00" r="2.85" fill="#ff2418" fill-opacity="0.450"/><circle cx="35.40" cy="23.20" r="2.40" fill="#ff2418" fill-opacity="0.450"/><circle cx="52.50" cy="55.40" r="1.95" fill="#ff2418" fill-opacity="0.405"/><circle cx="32.70" cy="62.90" r="2.85" fill="#ff2418" fill-opacity="0.450"/><circle cx="63.20" cy="61.50" r="3.00" fill="#ff2418" fill-opacity="0.450"/><circle cx="65.90" cy="61.50" r="3.00" fill="#ff2418" fill-opacity="0.450"/><circle cx="65.50" cy="69.90" r="2.85" fill="#ff2418" fill-opacity="0.450"/></g><circle cx="7.40" cy="12.50" r="1.61" fill="#ff2418" fill-opacity="1"/><circle cx="10.30" cy="11.80" r="1.61" fill="#ff2418" fill-opacity="1"/><circle cx="7.40" cy="18.20" r="1.80" fill="#ff2418" fill-opacity="1"/><circle cx="10.10" cy="17.10" r="1.80" fill="#ff2418" fill-opacity="1"/><circle cx="22.20" cy="17.80" r="1.71" fill="#ff2418" fill-opacity="1"/><circle cx="30.60" cy="21.00" r="1.80" fill="#ff2418" fill-opacity="1"/><circle cx="35.40" cy="23.20" r="1.52" fill="#ff2418" fill-opacity="1"/><circle cx="52.50" cy="55.40" r="1.23" fill="#ff2418" fill-opacity="0.9"/><circle cx="32.70" cy="62.90" r="1.80" fill="#ff2418" fill-opacity="1"/><circle cx="63.20" cy="61.50" r="1.90" fill="#ff2418" fill-opacity="1"/><circle cx="65.90" cy="61.50" r="1.90" fill="#ff2418" fill-opacity="1"/><circle cx="65.50" cy="69.90" r="1.80" fill="#ff2418" fill-opacity="1"/></g>
</g>
<g transform="translate(259.55,176.00)">
<rect width="76.60" height="75.60" fill="#020202"/>
<g style="isolation:isolate"><g filter="url(#bl)"><g filter="url(#bl2)"><circle cx="8.70" cy="14.10" r="3.90" fill="#2ee82e" fill-opacity="0.450"/><circle cx="22.80" cy="17.10" r="2.25" fill="#2ee82e" fill-opacity="0.203"/><circle cx="30.30" cy="21.60" r="2.10" fill="#2ee82e" fill-opacity="0.158"/><circle cx="33.30" cy="23.90" r="3.30" fill="#2ee82e" fill-opacity="0.450"/><circle cx="50.10" cy="55.40" r="3.30" fill="#2ee82e" fill-opacity="0.450"/><circle cx="32.60" cy="63.00" r="2.10" fill="#2ee82e" fill-opacity="0.180"/><circle cx="64.50" cy="61.50" r="2.40" fill="#2ee82e" fill-opacity="0.180"/><circle cx="65.60" cy="70.00" r="2.10" fill="#2ee82e" fill-opacity="0.158"/></g><circle cx="8.70" cy="14.10" r="2.47" fill="#2ee82e" fill-opacity="1"/><circle cx="22.80" cy="17.10" r="1.42" fill="#2ee82e" fill-opacity="0.45"/><circle cx="30.30" cy="21.60" r="1.33" fill="#2ee82e" fill-opacity="0.35"/><circle cx="33.30" cy="23.90" r="2.09" fill="#2ee82e" fill-opacity="1"/><circle cx="50.10" cy="55.40" r="2.09" fill="#2ee82e" fill-opacity="1"/><circle cx="32.60" cy="63.00" r="1.33" fill="#2ee82e" fill-opacity="0.4"/><circle cx="64.50" cy="61.50" r="1.52" fill="#2ee82e" fill-opacity="0.4"/><circle cx="65.60" cy="70.00" r="1.33" fill="#2ee82e" fill-opacity="0.35"/></g><g filter="url(#bl)" style="mix-blend-mode:screen"><g filter="url(#bl2)"><circle cx="7.40" cy="12.50" r="2.55" fill="#ff2418" fill-opacity="0.450"/><circle cx="10.30" cy="11.80" r="2.55" fill="#ff2418" fill-opacity="0.450"/><circle cx="7.40" cy="18.20" r="2.85" fill="#ff2418" fill-opacity="0.450"/><circle cx="10.10" cy="17.10" r="2.85" fill="#ff2418" fill-opacity="0.450"/><circle cx="22.20" cy="17.80" r="2.70" fill="#ff2418" fill-opacity="0.450"/><circle cx="30.60" cy="21.00" r="2.85" fill="#ff2418" fill-opacity="0.450"/><circle cx="35.40" cy="23.20" r="2.40" fill="#ff2418" fill-opacity="0.450"/><circle cx="52.50" cy="55.40" r="1.95" fill="#ff2418" fill-opacity="0.405"/><circle cx="32.70" cy="62.90" r="2.85" fill="#ff2418" fill-opacity="0.450"/><circle cx="63.20" cy="61.50" r="3.00" fill="#ff2418" fill-opacity="0.450"/><circle cx="65.90" cy="61.50" r="3.00" fill="#ff2418" fill-opacity="0.450"/><circle cx="65.50" cy="69.90" r="2.85" fill="#ff2418" fill-opacity="0.450"/></g><circle cx="7.40" cy="12.50" r="1.61" fill="#ff2418" fill-opacity="1"/><circle cx="10.30" cy="11.80" r="1.61" fill="#ff2418" fill-opacity="1"/><circle cx="7.40" cy="18.20" r="1.80" fill="#ff2418" fill-opacity="1"/><circle cx="10.10" cy="17.10" r="1.80" fill="#ff2418" fill-opacity="1"/><circle cx="22.20" cy="17.80" r="1.71" fill="#ff2418" fill-opacity="1"/><circle cx="30.60" cy="21.00" r="1.80" fill="#ff2418" fill-opacity="1"/><circle cx="35.40" cy="23.20" r="1.52" fill="#ff2418" fill-opacity="1"/><circle cx="52.50" cy="55.40" r="1.23" fill="#ff2418" fill-opacity="0.9"/><circle cx="32.70" cy="62.90" r="1.80" fill="#ff2418" fill-opacity="1"/><circle cx="63.20" cy="61.50" r="1.90" fill="#ff2418" fill-opacity="1"/><circle cx="65.90" cy="61.50" r="1.90" fill="#ff2418" fill-opacity="1"/><circle cx="65.50" cy="69.90" r="1.80" fill="#ff2418" fill-opacity="1"/></g></g>
<line x1="27.6" y1="65.6" x2="37.2" y2="60.4" stroke="#ffffff" stroke-width="0.8" stroke-opacity="0.95"/>
</g>
<text transform="translate(20.00 213.80) rotate(-90) scale(1 1.03)" font-size="11.12" text-anchor="middle" font-weight="bold" fill="#111" stroke="#111" stroke-width="0.15">4×MIC</text>
<g transform="translate(25.40,254.00)">
<rect width="76.60" height="75.60" fill="url(#dicg)"/>
<g filter="url(#bl3)"><circle cx="43.199999999999996" cy="8.35" r="1.9" fill="#a4a4a4"/><circle cx="42.8" cy="7.9" r="1.35" fill="#f6f6f6"/><circle cx="26.8" cy="19.75" r="1.9" fill="#a4a4a4"/><circle cx="26.4" cy="19.299999999999997" r="1.35" fill="#f6f6f6"/><circle cx="27.7" cy="21.950000000000003" r="1.9" fill="#a4a4a4"/><circle cx="27.299999999999997" cy="21.5" r="1.35" fill="#f6f6f6"/><circle cx="4.0" cy="30.650000000000002" r="1.9" fill="#a4a4a4"/><circle cx="3.6" cy="30.2" r="1.35" fill="#f6f6f6"/><circle cx="8.5" cy="35.25" r="1.9" fill="#a4a4a4"/><circle cx="8.1" cy="34.8" r="1.35" fill="#f6f6f6"/><circle cx="18.6" cy="34.050000000000004" r="1.9" fill="#a4a4a4"/><circle cx="18.2" cy="33.6" r="1.35" fill="#f6f6f6"/><circle cx="23.8" cy="39.550000000000004" r="1.9" fill="#a4a4a4"/><circle cx="23.4" cy="39.1" r="1.35" fill="#f6f6f6"/><circle cx="51.8" cy="37.95" r="1.9" fill="#a4a4a4"/><circle cx="51.4" cy="37.5" r="1.35" fill="#f6f6f6"/><circle cx="49.5" cy="42.050000000000004" r="1.9" fill="#a4a4a4"/><circle cx="49.1" cy="41.6" r="1.35" fill="#f6f6f6"/><circle cx="14.0" cy="60.050000000000004" r="1.9" fill="#a4a4a4"/><circle cx="13.6" cy="59.6" r="1.35" fill="#f6f6f6"/><circle cx="35.199999999999996" cy="59.15" r="1.9" fill="#a4a4a4"/><circle cx="34.8" cy="58.699999999999996" r="1.35" fill="#f6f6f6"/><circle cx="53.4" cy="58.65" r="1.9" fill="#a4a4a4"/><circle cx="53.0" cy="58.199999999999996" r="1.35" fill="#f6f6f6"/><circle cx="27.7" cy="65.25" r="1.9" fill="#a4a4a4"/><circle cx="27.299999999999997" cy="64.80000000000001" r="1.35" fill="#f6f6f6"/><circle cx="71.6" cy="61.35" r="1.9" fill="#a4a4a4"/><circle cx="71.2" cy="60.9" r="1.35" fill="#f6f6f6"/></g>
</g>
<g transform="translate(103.45,254.00)">
<rect width="76.60" height="75.60" fill="#020202"/>
<g filter="url(#bl)"><g filter="url(#bl2)"><circle cx="44.00" cy="6.80" r="3.00" fill="#2ee82e" fill-opacity="0.405"/><circle cx="26.70" cy="20.00" r="3.90" fill="#2ee82e" fill-opacity="0.450"/><circle cx="3.90" cy="30.30" r="2.25" fill="#2ee82e" fill-opacity="0.225"/><circle cx="8.30" cy="34.90" r="2.55" fill="#2ee82e" fill-opacity="0.360"/><circle cx="19.00" cy="33.70" r="2.10" fill="#2ee82e" fill-opacity="0.180"/><circle cx="24.00" cy="38.70" r="2.55" fill="#2ee82e" fill-opacity="0.360"/><circle cx="50.20" cy="39.90" r="2.25" fill="#2ee82e" fill-opacity="0.068"/><circle cx="13.70" cy="59.70" r="3.00" fill="#2ee82e" fill-opacity="0.450"/><circle cx="34.70" cy="58.50" r="2.55" fill="#2ee82e" fill-opacity="0.360"/><circle cx="53.10" cy="58.50" r="2.25" fill="#2ee82e" fill-opacity="0.225"/><circle cx="27.90" cy="64.90" r="1.95" fill="#2ee82e" fill-opacity="0.158"/><circle cx="72.50" cy="61.00" r="3.90" fill="#2ee82e" fill-opacity="0.450"/></g><circle cx="44.00" cy="6.80" r="1.90" fill="#2ee82e" fill-opacity="0.9"/><circle cx="26.70" cy="20.00" r="2.47" fill="#2ee82e" fill-opacity="1"/><circle cx="3.90" cy="30.30" r="1.42" fill="#2ee82e" fill-opacity="0.5"/><circle cx="8.30" cy="34.90" r="1.61" fill="#2ee82e" fill-opacity="0.8"/><circle cx="19.00" cy="33.70" r="1.33" fill="#2ee82e" fill-opacity="0.4"/><circle cx="24.00" cy="38.70" r="1.61" fill="#2ee82e" fill-opacity="0.8"/><circle cx="50.20" cy="39.90" r="1.42" fill="#2ee82e" fill-opacity="0.15"/><circle cx="13.70" cy="59.70" r="1.90" fill="#2ee82e" fill-opacity="1"/><circle cx="34.70" cy="58.50" r="1.61" fill="#2ee82e" fill-opacity="0.8"/><circle cx="53.10" cy="58.50" r="1.42" fill="#2ee82e" fill-opacity="0.5"/><circle cx="27.90" cy="64.90" r="1.23" fill="#2ee82e" fill-opacity="0.35"/><circle cx="72.50" cy="61.00" r="2.47" fill="#2ee82e" fill-opacity="1"/></g>
</g>
<g transform="translate(181.50,254.00)">
<rect width="76.60" height="75.60" fill="#020202"/>
<g filter="url(#bl)"><g filter="url(#bl2)"><circle cx="42.70" cy="8.00" r="2.85" fill="#ff2418" fill-opacity="0.450"/><circle cx="18.30" cy="33.00" r="2.55" fill="#ff2418" fill-opacity="0.450"/><circle cx="51.40" cy="36.90" r="2.85" fill="#ff2418" fill-opacity="0.450"/><circle cx="50.00" cy="41.20" r="2.70" fill="#ff2418" fill-opacity="0.450"/><circle cx="35.90" cy="58.30" r="2.55" fill="#ff2418" fill-opacity="0.450"/><circle cx="53.00" cy="57.40" r="2.55" fill="#ff2418" fill-opacity="0.450"/><circle cx="27.90" cy="64.20" r="2.70" fill="#ff2418" fill-opacity="0.450"/><circle cx="70.50" cy="60.40" r="2.70" fill="#ff2418" fill-opacity="0.450"/><circle cx="27.20" cy="20.00" r="1.95" fill="#ff2418" fill-opacity="0.068"/></g><circle cx="42.70" cy="8.00" r="1.80" fill="#ff2418" fill-opacity="1"/><circle cx="18.30" cy="33.00" r="1.61" fill="#ff2418" fill-opacity="1"/><circle cx="51.40" cy="36.90" r="1.80" fill="#ff2418" fill-opacity="1"/><circle cx="50.00" cy="41.20" r="1.71" fill="#ff2418" fill-opacity="1"/><circle cx="35.90" cy="58.30" r="1.61" fill="#ff2418" fill-opacity="1"/><circle cx="53.00" cy="57.40" r="1.61" fill="#ff2418" fill-opacity="1"/><circle cx="27.90" cy="64.20" r="1.71" fill="#ff2418" fill-opacity="1"/><circle cx="70.50" cy="60.40" r="1.71" fill="#ff2418" fill-opacity="1"/><circle cx="27.20" cy="20.00" r="1.23" fill="#ff2418" fill-opacity="0.15"/></g>
</g>
<g transform="translate(259.55,254.00)">
<rect width="76.60" height="75.60" fill="#020202"/>
<g style="isolation:isolate"><g filter="url(#bl)"><g filter="url(#bl2)"><circle cx="44.00" cy="6.80" r="3.00" fill="#2ee82e" fill-opacity="0.405"/><circle cx="26.70" cy="20.00" r="3.90" fill="#2ee82e" fill-opacity="0.450"/><circle cx="3.90" cy="30.30" r="2.25" fill="#2ee82e" fill-opacity="0.225"/><circle cx="8.30" cy="34.90" r="2.55" fill="#2ee82e" fill-opacity="0.360"/><circle cx="19.00" cy="33.70" r="2.10" fill="#2ee82e" fill-opacity="0.180"/><circle cx="24.00" cy="38.70" r="2.55" fill="#2ee82e" fill-opacity="0.360"/><circle cx="50.20" cy="39.90" r="2.25" fill="#2ee82e" fill-opacity="0.068"/><circle cx="13.70" cy="59.70" r="3.00" fill="#2ee82e" fill-opacity="0.450"/><circle cx="34.70" cy="58.50" r="2.55" fill="#2ee82e" fill-opacity="0.360"/><circle cx="53.10" cy="58.50" r="2.25" fill="#2ee82e" fill-opacity="0.225"/><circle cx="27.90" cy="64.90" r="1.95" fill="#2ee82e" fill-opacity="0.158"/><circle cx="72.50" cy="61.00" r="3.90" fill="#2ee82e" fill-opacity="0.450"/></g><circle cx="44.00" cy="6.80" r="1.90" fill="#2ee82e" fill-opacity="0.9"/><circle cx="26.70" cy="20.00" r="2.47" fill="#2ee82e" fill-opacity="1"/><circle cx="3.90" cy="30.30" r="1.42" fill="#2ee82e" fill-opacity="0.5"/><circle cx="8.30" cy="34.90" r="1.61" fill="#2ee82e" fill-opacity="0.8"/><circle cx="19.00" cy="33.70" r="1.33" fill="#2ee82e" fill-opacity="0.4"/><circle cx="24.00" cy="38.70" r="1.61" fill="#2ee82e" fill-opacity="0.8"/><circle cx="50.20" cy="39.90" r="1.42" fill="#2ee82e" fill-opacity="0.15"/><circle cx="13.70" cy="59.70" r="1.90" fill="#2ee82e" fill-opacity="1"/><circle cx="34.70" cy="58.50" r="1.61" fill="#2ee82e" fill-opacity="0.8"/><circle cx="53.10" cy="58.50" r="1.42" fill="#2ee82e" fill-opacity="0.5"/><circle cx="27.90" cy="64.90" r="1.23" fill="#2ee82e" fill-opacity="0.35"/><circle cx="72.50" cy="61.00" r="2.47" fill="#2ee82e" fill-opacity="1"/></g><g filter="url(#bl)" style="mix-blend-mode:screen"><g filter="url(#bl2)"><circle cx="42.70" cy="8.00" r="2.85" fill="#ff2418" fill-opacity="0.450"/><circle cx="18.30" cy="33.00" r="2.55" fill="#ff2418" fill-opacity="0.450"/><circle cx="51.40" cy="36.90" r="2.85" fill="#ff2418" fill-opacity="0.450"/><circle cx="50.00" cy="41.20" r="2.70" fill="#ff2418" fill-opacity="0.450"/><circle cx="35.90" cy="58.30" r="2.55" fill="#ff2418" fill-opacity="0.450"/><circle cx="53.00" cy="57.40" r="2.55" fill="#ff2418" fill-opacity="0.450"/><circle cx="27.90" cy="64.20" r="2.70" fill="#ff2418" fill-opacity="0.450"/><circle cx="70.50" cy="60.40" r="2.70" fill="#ff2418" fill-opacity="0.450"/><circle cx="27.20" cy="20.00" r="1.95" fill="#ff2418" fill-opacity="0.068"/></g><circle cx="42.70" cy="8.00" r="1.80" fill="#ff2418" fill-opacity="1"/><circle cx="18.30" cy="33.00" r="1.61" fill="#ff2418" fill-opacity="1"/><circle cx="51.40" cy="36.90" r="1.80" fill="#ff2418" fill-opacity="1"/><circle cx="50.00" cy="41.20" r="1.71" fill="#ff2418" fill-opacity="1"/><circle cx="35.90" cy="58.30" r="1.61" fill="#ff2418" fill-opacity="1"/><circle cx="53.00" cy="57.40" r="1.61" fill="#ff2418" fill-opacity="1"/><circle cx="27.90" cy="64.20" r="1.71" fill="#ff2418" fill-opacity="1"/><circle cx="70.50" cy="60.40" r="1.71" fill="#ff2418" fill-opacity="1"/><circle cx="27.20" cy="20.00" r="1.23" fill="#ff2418" fill-opacity="0.15"/></g></g>
<line x1="31.5" y1="59.7" x2="40.6" y2="56.9" stroke="#ffffff" stroke-width="0.8" stroke-opacity="0.95"/>
</g>
<text transform="translate(20.00 291.80) rotate(-90) scale(1 1.03)" font-size="11.12" text-anchor="middle" font-weight="bold" fill="#111" stroke="#111" stroke-width="0.15">2×MIC</text>
<g transform="translate(25.40,332.00)">
<rect width="76.60" height="75.60" fill="url(#dicg)"/>
<g filter="url(#bl3)"><circle cx="41.3" cy="10.35" r="1.9" fill="#a4a4a4"/><circle cx="40.9" cy="9.9" r="1.35" fill="#f6f6f6"/><circle cx="43.8" cy="10.35" r="1.9" fill="#a4a4a4"/><circle cx="43.4" cy="9.9" r="1.35" fill="#f6f6f6"/><circle cx="41.8" cy="13.15" r="1.9" fill="#a4a4a4"/><circle cx="41.4" cy="12.700000000000001" r="1.35" fill="#f6f6f6"/><circle cx="44.3" cy="12.95" r="1.9" fill="#a4a4a4"/><circle cx="43.9" cy="12.5" r="1.35" fill="#f6f6f6"/><circle cx="55.3" cy="27.650000000000002" r="1.9" fill="#a4a4a4"/><circle cx="54.9" cy="27.2" r="1.35" fill="#f6f6f6"/><circle cx="53.99999999999999" cy="29.90166604983954" r="1.9" fill="#a4a4a4"/><circle cx="53.599999999999994" cy="29.451666049839538" r="1.35" fill="#f6f6f6"/><circle cx="51.4" cy="29.90166604983954" r="1.9" fill="#a4a4a4"/><circle cx="51.0" cy="29.451666049839538" r="1.35" fill="#f6f6f6"/><circle cx="50.099999999999994" cy="27.650000000000002" r="1.9" fill="#a4a4a4"/><circle cx="49.699999999999996" cy="27.2" r="1.35" fill="#f6f6f6"/><circle cx="51.39999999999999" cy="25.398333950160463" r="1.9" fill="#a4a4a4"/><circle cx="50.99999999999999" cy="24.94833395016046" r="1.35" fill="#f6f6f6"/><circle cx="53.99999999999999" cy="25.398333950160463" r="1.9" fill="#a4a4a4"/><circle cx="53.599999999999994" cy="24.94833395016046" r="1.35" fill="#f6f6f6"/><circle cx="2.8" cy="30.85" r="1.9" fill="#a4a4a4"/><circle cx="2.4" cy="30.4" r="1.35" fill="#f6f6f6"/><circle cx="3.8" cy="33.35" r="1.9" fill="#a4a4a4"/><circle cx="3.4" cy="32.9" r="1.35" fill="#f6f6f6"/><circle cx="72.8" cy="29.05" r="1.9" fill="#a4a4a4"/><circle cx="72.4" cy="28.599999999999998" r="1.35" fill="#f6f6f6"/><circle cx="73.8" cy="31.55" r="1.9" fill="#a4a4a4"/><circle cx="73.4" cy="31.099999999999998" r="1.35" fill="#f6f6f6"/><circle cx="11.700000000000001" cy="42.050000000000004" r="1.9" fill="#a4a4a4"/><circle cx="11.3" cy="41.6" r="1.35" fill="#f6f6f6"/><circle cx="8.5" cy="49.35" r="1.9" fill="#a4a4a4"/><circle cx="8.1" cy="48.9" r="1.35" fill="#f6f6f6"/><circle cx="19.3" cy="46.85" r="1.9" fill="#a4a4a4"/><circle cx="18.9" cy="46.4" r="1.35" fill="#f6f6f6"/><circle cx="21.900000000000002" cy="46.85" r="1.9" fill="#a4a4a4"/><circle cx="21.5" cy="46.4" r="1.35" fill="#f6f6f6"/><circle cx="24.5" cy="46.85" r="1.9" fill="#a4a4a4"/><circle cx="24.099999999999998" cy="46.4" r="1.35" fill="#f6f6f6"/><circle cx="20.6" cy="49.25" r="1.9" fill="#a4a4a4"/><circle cx="20.2" cy="48.8" r="1.35" fill="#f6f6f6"/><circle cx="23.200000000000003" cy="49.25" r="1.9" fill="#a4a4a4"/><circle cx="22.8" cy="48.8" r="1.35" fill="#f6f6f6"/><circle cx="25.8" cy="49.25" r="1.9" fill="#a4a4a4"/><circle cx="25.4" cy="48.8" r="1.35" fill="#f6f6f6"/><circle cx="19.3" cy="51.65" r="1.9" fill="#a4a4a4"/><circle cx="18.9" cy="51.199999999999996" r="1.35" fill="#f6f6f6"/><circle cx="21.900000000000002" cy="51.65" r="1.9" fill="#a4a4a4"/><circle cx="21.5" cy="51.199999999999996" r="1.35" fill="#f6f6f6"/><circle cx="24.5" cy="51.65" r="1.9" fill="#a4a4a4"/><circle cx="24.099999999999998" cy="51.199999999999996" r="1.35" fill="#f6f6f6"/><circle cx="26.8" cy="49.85" r="1.9" fill="#a4a4a4"/><circle cx="26.4" cy="49.4" r="1.35" fill="#f6f6f6"/><circle cx="27.8" cy="52.35" r="1.9" fill="#a4a4a4"/><circle cx="27.4" cy="51.9" r="1.35" fill="#f6f6f6"/><circle cx="46.599999999999994" cy="53.65" r="1.9" fill="#a4a4a4"/><circle cx="46.199999999999996" cy="53.199999999999996" r="1.35" fill="#f6f6f6"/><circle cx="48.8" cy="52.550000000000004" r="1.9" fill="#a4a4a4"/><circle cx="48.4" cy="52.1" r="1.35" fill="#f6f6f6"/><circle cx="58.5" cy="57.35" r="1.9" fill="#a4a4a4"/><circle cx="58.1" cy="56.9" r="1.35" fill="#f6f6f6"/><circle cx="60.699999999999996" cy="55.95" r="1.9" fill="#a4a4a4"/><circle cx="60.3" cy="55.5" r="1.35" fill="#f6f6f6"/><circle cx="15.9" cy="62.550000000000004" r="1.9" fill="#a4a4a4"/><circle cx="15.5" cy="62.1" r="1.35" fill="#f6f6f6"/><circle cx="18.1" cy="61.15" r="1.9" fill="#a4a4a4"/><circle cx="17.7" cy="60.699999999999996" r="1.35" fill="#f6f6f6"/><circle cx="40.4" cy="68.25" r="1.9" fill="#a4a4a4"/><circle cx="40.0" cy="67.80000000000001" r="1.35" fill="#f6f6f6"/></g>
</g>
<g transform="translate(103.45,332.00)">
<rect width="76.60" height="75.60" fill="#020202"/>
<g filter="url(#bl)"><g filter="url(#bl2)"><circle cx="42.70" cy="11.40" r="4.50" fill="#2ee82e" fill-opacity="0.405"/><circle cx="3.90" cy="32.60" r="3.30" fill="#2ee82e" fill-opacity="0.383"/><circle cx="73.60" cy="30.00" r="3.00" fill="#2ee82e" fill-opacity="0.360"/><circle cx="11.90" cy="41.70" r="2.40" fill="#2ee82e" fill-opacity="0.360"/><circle cx="8.30" cy="49.00" r="2.55" fill="#2ee82e" fill-opacity="0.405"/><circle cx="21.50" cy="49.00" r="7.20" fill="#2ee82e" fill-opacity="0.450"/><circle cx="25.00" cy="51.50" r="5.40" fill="#2ee82e" fill-opacity="0.450"/><circle cx="19.00" cy="52.00" r="4.50" fill="#2ee82e" fill-opacity="0.450"/><circle cx="48.40" cy="52.40" r="3.60" fill="#2ee82e" fill-opacity="0.405"/><circle cx="59.30" cy="56.30" r="3.45" fill="#2ee82e" fill-opacity="0.405"/><circle cx="17.10" cy="61.50" r="3.30" fill="#2ee82e" fill-opacity="0.405"/><circle cx="40.60" cy="67.90" r="2.55" fill="#2ee82e" fill-opacity="0.383"/></g><circle cx="42.70" cy="11.40" r="2.85" fill="#2ee82e" fill-opacity="0.9"/><circle cx="3.90" cy="32.60" r="2.09" fill="#2ee82e" fill-opacity="0.85"/><circle cx="73.60" cy="30.00" r="1.90" fill="#2ee82e" fill-opacity="0.8"/><circle cx="11.90" cy="41.70" r="1.52" fill="#2ee82e" fill-opacity="0.8"/><circle cx="8.30" cy="49.00" r="1.61" fill="#2ee82e" fill-opacity="0.9"/><circle cx="21.50" cy="49.00" r="4.56" fill="#2ee82e" fill-opacity="1"/><circle cx="25.00" cy="51.50" r="3.42" fill="#2ee82e" fill-opacity="1"/><circle cx="19.00" cy="52.00" r="2.85" fill="#2ee82e" fill-opacity="1"/><circle cx="48.40" cy="52.40" r="2.28" fill="#2ee82e" fill-opacity="0.9"/><circle cx="59.30" cy="56.30" r="2.18" fill="#2ee82e" fill-opacity="0.9"/><circle cx="17.10" cy="61.50" r="2.09" fill="#2ee82e" fill-opacity="0.9"/><circle cx="40.60" cy="67.90" r="1.61" fill="#2ee82e" fill-opacity="0.85"/><circle cx="52.4" cy="27.3" r="2.6" fill="none" stroke="#2ee82e" stroke-width="2.2"/></g>
</g>
<g transform="translate(181.50,332.00)">
<rect width="76.60" height="75.60" fill="#020202"/>
<g filter="url(#bl)"><g filter="url(#bl2)"><circle cx="42.70" cy="11.40" r="4.50" fill="#ff2418" fill-opacity="0.045"/><circle cx="22.00" cy="50.00" r="7.50" fill="#ff2418" fill-opacity="0.036"/><circle cx="52.40" cy="27.30" r="4.50" fill="#ff2418" fill-opacity="0.036"/><circle cx="48.40" cy="52.40" r="3.60" fill="#ff2418" fill-opacity="0.036"/><circle cx="17.00" cy="62.00" r="3.00" fill="#ff2418" fill-opacity="0.036"/><circle cx="4.00" cy="32.00" r="3.00" fill="#ff2418" fill-opacity="0.036"/></g><circle cx="42.70" cy="11.40" r="2.85" fill="#ff2418" fill-opacity="0.1"/><circle cx="22.00" cy="50.00" r="4.75" fill="#ff2418" fill-opacity="0.08"/><circle cx="52.40" cy="27.30" r="2.85" fill="#ff2418" fill-opacity="0.08"/><circle cx="48.40" cy="52.40" r="2.28" fill="#ff2418" fill-opacity="0.08"/><circle cx="17.00" cy="62.00" r="1.90" fill="#ff2418" fill-opacity="0.08"/><circle cx="4.00" cy="32.00" r="1.90" fill="#ff2418" fill-opacity="0.08"/></g>
</g>
<g transform="translate(259.55,332.00)">
<rect width="76.60" height="75.60" fill="#020202"/>
<g style="isolation:isolate"><g filter="url(#bl)"><g filter="url(#bl2)"><circle cx="42.70" cy="11.40" r="4.50" fill="#2ee82e" fill-opacity="0.405"/><circle cx="3.90" cy="32.60" r="3.30" fill="#2ee82e" fill-opacity="0.383"/><circle cx="73.60" cy="30.00" r="3.00" fill="#2ee82e" fill-opacity="0.360"/><circle cx="11.90" cy="41.70" r="2.40" fill="#2ee82e" fill-opacity="0.360"/><circle cx="8.30" cy="49.00" r="2.55" fill="#2ee82e" fill-opacity="0.405"/><circle cx="21.50" cy="49.00" r="7.20" fill="#2ee82e" fill-opacity="0.450"/><circle cx="25.00" cy="51.50" r="5.40" fill="#2ee82e" fill-opacity="0.450"/><circle cx="19.00" cy="52.00" r="4.50" fill="#2ee82e" fill-opacity="0.450"/><circle cx="48.40" cy="52.40" r="3.60" fill="#2ee82e" fill-opacity="0.405"/><circle cx="59.30" cy="56.30" r="3.45" fill="#2ee82e" fill-opacity="0.405"/><circle cx="17.10" cy="61.50" r="3.30" fill="#2ee82e" fill-opacity="0.405"/><circle cx="40.60" cy="67.90" r="2.55" fill="#2ee82e" fill-opacity="0.383"/></g><circle cx="42.70" cy="11.40" r="2.85" fill="#2ee82e" fill-opacity="0.9"/><circle cx="3.90" cy="32.60" r="2.09" fill="#2ee82e" fill-opacity="0.85"/><circle cx="73.60" cy="30.00" r="1.90" fill="#2ee82e" fill-opacity="0.8"/><circle cx="11.90" cy="41.70" r="1.52" fill="#2ee82e" fill-opacity="0.8"/><circle cx="8.30" cy="49.00" r="1.61" fill="#2ee82e" fill-opacity="0.9"/><circle cx="21.50" cy="49.00" r="4.56" fill="#2ee82e" fill-opacity="1"/><circle cx="25.00" cy="51.50" r="3.42" fill="#2ee82e" fill-opacity="1"/><circle cx="19.00" cy="52.00" r="2.85" fill="#2ee82e" fill-opacity="1"/><circle cx="48.40" cy="52.40" r="2.28" fill="#2ee82e" fill-opacity="0.9"/><circle cx="59.30" cy="56.30" r="2.18" fill="#2ee82e" fill-opacity="0.9"/><circle cx="17.10" cy="61.50" r="2.09" fill="#2ee82e" fill-opacity="0.9"/><circle cx="40.60" cy="67.90" r="1.61" fill="#2ee82e" fill-opacity="0.85"/><circle cx="52.4" cy="27.3" r="2.6" fill="none" stroke="#2ee82e" stroke-width="2.2"/></g><g filter="url(#bl)" style="mix-blend-mode:screen"><g filter="url(#bl2)"><circle cx="42.70" cy="11.40" r="4.50" fill="#ff2418" fill-opacity="0.045"/><circle cx="22.00" cy="50.00" r="7.50" fill="#ff2418" fill-opacity="0.036"/><circle cx="52.40" cy="27.30" r="4.50" fill="#ff2418" fill-opacity="0.036"/><circle cx="48.40" cy="52.40" r="3.60" fill="#ff2418" fill-opacity="0.036"/><circle cx="17.00" cy="62.00" r="3.00" fill="#ff2418" fill-opacity="0.036"/><circle cx="4.00" cy="32.00" r="3.00" fill="#ff2418" fill-opacity="0.036"/></g><circle cx="42.70" cy="11.40" r="2.85" fill="#ff2418" fill-opacity="0.1"/><circle cx="22.00" cy="50.00" r="4.75" fill="#ff2418" fill-opacity="0.08"/><circle cx="52.40" cy="27.30" r="2.85" fill="#ff2418" fill-opacity="0.08"/><circle cx="48.40" cy="52.40" r="2.28" fill="#ff2418" fill-opacity="0.08"/><circle cx="17.00" cy="62.00" r="1.90" fill="#ff2418" fill-opacity="0.08"/><circle cx="4.00" cy="32.00" r="1.90" fill="#ff2418" fill-opacity="0.08"/></g></g>
<line x1="36" y1="65.6" x2="45.3" y2="69.5" stroke="#ffffff" stroke-width="0.8" stroke-opacity="0.95"/>
<line x1="56.3" y1="66.9" x2="73.5" y2="66.9" stroke="#e82020" stroke-width="0.9"/><line x1="56.3" y1="65.6" x2="56.3" y2="68.2" stroke="#e82020" stroke-width="0.8"/><line x1="73.5" y1="65.6" x2="73.5" y2="68.2" stroke="#e82020" stroke-width="0.8"/>
<text x="64.9" y="73.3" font-size="3.6" text-anchor="middle" fill="#e82020">10 μm</text>
</g>
<text transform="translate(20.00 369.80) rotate(-90) scale(1 1.03)" font-size="11.12" text-anchor="middle" font-weight="bold" fill="#111" stroke="#111" stroke-width="0.15">Control</text>
<text transform="translate(343.50 172.30) scale(1 1.03)" font-size="17.51" text-anchor="start" font-weight="bold" fill="#000" stroke="#000" stroke-width="0.15">f</text>
<text transform="translate(405.85 171.20) scale(1 1.03)" font-size="10.61" text-anchor="middle" font-weight="bold" fill="#111" stroke="#111" stroke-width="0.15">DIC</text>
<text transform="translate(484.05 171.20) scale(1 1.03)" font-size="10.61" text-anchor="middle" font-weight="bold" fill="#111" stroke="#111" stroke-width="0.15">SYTO-9</text>
<text transform="translate(562.25 171.20) scale(1 1.03)" font-size="10.61" text-anchor="middle" font-weight="bold" fill="#111" stroke="#111" stroke-width="0.15">PI</text>
<text transform="translate(640.45 171.20) scale(1 1.03)" font-size="10.61" text-anchor="middle" font-weight="bold" fill="#111" stroke="#111" stroke-width="0.15">Merge</text>
<g transform="translate(367.60,176.00)">
<rect width="76.50" height="75.60" fill="url(#dicg)"/>
<g filter="url(#bl3)"><circle cx="34.5" cy="17" r="3.5" fill="#d2d2d2" fill-opacity="0.8"/><circle cx="51.8" cy="14" r="3" fill="#d2d2d2" fill-opacity="0.8"/><circle cx="54" cy="40" r="2.8" fill="#d2d2d2" fill-opacity="0.8"/><circle cx="30" cy="68" r="2.8" fill="#d2d2d2" fill-opacity="0.8"/><circle cx="69" cy="68" r="2.8" fill="#d2d2d2" fill-opacity="0.8"/><g transform="translate(21.5 3.4) rotate(20)"><rect x="-2.6" y="-0.6" width="5.6" height="2.1" rx="1.05" fill="#9a9a9a"/><rect x="-2.9" y="-1.25" width="5.6" height="2.1" rx="1.05" fill="#ebebeb"/></g><g transform="translate(6.2 15.9) rotate(-35)"><rect x="-2.6" y="-0.6" width="5.6" height="2.1" rx="1.05" fill="#9a9a9a"/><rect x="-2.9" y="-1.25" width="5.6" height="2.1" rx="1.05" fill="#ebebeb"/></g><g transform="translate(19.9 10.3) rotate(0)"><rect x="-2.6" y="-0.6" width="5.6" height="2.1" rx="1.05" fill="#9a9a9a"/><rect x="-2.9" y="-1.25" width="5.6" height="2.1" rx="1.05" fill="#ebebeb"/></g><g transform="translate(28.6 10.9) rotate(-20)"><rect x="-2.6" y="-0.6" width="5.6" height="2.1" rx="1.05" fill="#9a9a9a"/><rect x="-2.9" y="-1.25" width="5.6" height="2.1" rx="1.05" fill="#ebebeb"/></g><g transform="translate(19.5 15.9) rotate(-40)"><rect x="-2.6" y="-0.6" width="5.6" height="2.1" rx="1.05" fill="#9a9a9a"/><rect x="-2.9" y="-1.25" width="5.6" height="2.1" rx="1.05" fill="#ebebeb"/></g><g transform="translate(52.3 8) rotate(10)"><rect x="-2.6" y="-0.6" width="5.6" height="2.1" rx="1.05" fill="#9a9a9a"/><rect x="-2.9" y="-1.25" width="5.6" height="2.1" rx="1.05" fill="#ebebeb"/></g><g transform="translate(37.7 36.9) rotate(-60)"><rect x="-2.6" y="-0.6" width="5.6" height="2.1" rx="1.05" fill="#9a9a9a"/><rect x="-2.9" y="-1.25" width="5.6" height="2.1" rx="1.05" fill="#ebebeb"/></g><g transform="translate(42.2 36.9) rotate(-60)"><rect x="-2.6" y="-0.6" width="5.6" height="2.1" rx="1.05" fill="#9a9a9a"/><rect x="-2.9" y="-1.25" width="5.6" height="2.1" rx="1.05" fill="#ebebeb"/></g><g transform="translate(70.5 38.3) rotate(0)"><rect x="-2.6" y="-0.6" width="5.6" height="2.1" rx="1.05" fill="#9a9a9a"/><rect x="-2.9" y="-1.25" width="5.6" height="2.1" rx="1.05" fill="#ebebeb"/></g><g transform="translate(8.1 53.5) rotate(0)"><rect x="-2.6" y="-0.6" width="5.6" height="2.1" rx="1.05" fill="#9a9a9a"/><rect x="-2.9" y="-1.25" width="5.6" height="2.1" rx="1.05" fill="#ebebeb"/></g><g transform="translate(45 51.3) rotate(-20)"><rect x="-2.6" y="-0.6" width="5.6" height="2.1" rx="1.05" fill="#9a9a9a"/><rect x="-2.9" y="-1.25" width="5.6" height="2.1" rx="1.05" fill="#ebebeb"/></g><g transform="translate(34.7 56.5) rotate(50)"><rect x="-2.6" y="-0.6" width="5.6" height="2.1" rx="1.05" fill="#9a9a9a"/><rect x="-2.9" y="-1.25" width="5.6" height="2.1" rx="1.05" fill="#ebebeb"/></g><g transform="translate(37 60.4) rotate(50)"><rect x="-2.6" y="-0.6" width="5.6" height="2.1" rx="1.05" fill="#9a9a9a"/><rect x="-2.9" y="-1.25" width="5.6" height="2.1" rx="1.05" fill="#ebebeb"/></g><g transform="translate(19.5 61) rotate(-20)"><rect x="-2.6" y="-0.6" width="5.6" height="2.1" rx="1.05" fill="#9a9a9a"/><rect x="-2.9" y="-1.25" width="5.6" height="2.1" rx="1.05" fill="#ebebeb"/></g><g transform="translate(47.2 70.6) rotate(-40)"><rect x="-2.6" y="-0.6" width="5.6" height="2.1" rx="1.05" fill="#9a9a9a"/><rect x="-2.9" y="-1.25" width="5.6" height="2.1" rx="1.05" fill="#ebebeb"/></g><g transform="translate(73.4 60.4) rotate(-50)"><rect x="-2.6" y="-0.6" width="5.6" height="2.1" rx="1.05" fill="#9a9a9a"/><rect x="-2.9" y="-1.25" width="5.6" height="2.1" rx="1.05" fill="#ebebeb"/></g></g>
</g>
<g transform="translate(445.80,176.00)">
<rect width="76.50" height="75.60" fill="#020202"/>
<g filter="url(#bl)"><g filter="url(#bl2)"><circle cx="21.20" cy="3.40" r="2.25" fill="#2ee82e" fill-opacity="0.270"/><circle cx="28.50" cy="10.30" r="3.60" fill="#2ee82e" fill-opacity="0.450"/><circle cx="19.40" cy="15.50" r="3.00" fill="#2ee82e" fill-opacity="0.270"/><circle cx="5.70" cy="15.90" r="2.55" fill="#2ee82e" fill-opacity="0.158"/><circle cx="52.40" cy="7.30" r="2.40" fill="#2ee82e" fill-opacity="0.270"/><circle cx="37.90" cy="36.90" r="2.40" fill="#2ee82e" fill-opacity="0.270"/><circle cx="42.20" cy="36.90" r="2.40" fill="#2ee82e" fill-opacity="0.270"/><circle cx="70.90" cy="38.30" r="1.95" fill="#2ee82e" fill-opacity="0.135"/><circle cx="7.60" cy="53.50" r="2.25" fill="#2ee82e" fill-opacity="0.158"/><circle cx="45.20" cy="50.60" r="2.70" fill="#2ee82e" fill-opacity="0.225"/><circle cx="37.20" cy="60.40" r="2.25" fill="#2ee82e" fill-opacity="0.270"/><circle cx="19.00" cy="61.00" r="3.45" fill="#2ee82e" fill-opacity="0.450"/><circle cx="47.40" cy="69.50" r="3.60" fill="#2ee82e" fill-opacity="0.450"/><circle cx="73.60" cy="60.40" r="2.10" fill="#2ee82e" fill-opacity="0.270"/></g><circle cx="21.20" cy="3.40" r="1.42" fill="#2ee82e" fill-opacity="0.6"/><circle cx="28.50" cy="10.30" r="2.28" fill="#2ee82e" fill-opacity="1"/><circle cx="19.40" cy="15.50" r="1.90" fill="#2ee82e" fill-opacity="0.6"/><circle cx="5.70" cy="15.90" r="1.61" fill="#2ee82e" fill-opacity="0.35"/><circle cx="52.40" cy="7.30" r="1.52" fill="#2ee82e" fill-opacity="0.6"/><circle cx="37.90" cy="36.90" r="1.52" fill="#2ee82e" fill-opacity="0.6"/><circle cx="42.20" cy="36.90" r="1.52" fill="#2ee82e" fill-opacity="0.6"/><circle cx="70.90" cy="38.30" r="1.23" fill="#2ee82e" fill-opacity="0.3"/><circle cx="7.60" cy="53.50" r="1.42" fill="#2ee82e" fill-opacity="0.35"/><circle cx="45.20" cy="50.60" r="1.71" fill="#2ee82e" fill-opacity="0.5"/><circle cx="37.20" cy="60.40" r="1.42" fill="#2ee82e" fill-opacity="0.6"/><circle cx="19.00" cy="61.00" r="2.18" fill="#2ee82e" fill-opacity="1"/><circle cx="47.40" cy="69.50" r="2.28" fill="#2ee82e" fill-opacity="1"/><circle cx="73.60" cy="60.40" r="1.33" fill="#2ee82e" fill-opacity="0.6"/></g>
</g>
<g transform="translate(524.00,176.00)">
<rect width="76.50" height="75.60" fill="#020202"/>
<g filter="url(#bl)"><g filter="url(#bl2)"><circle cx="28.00" cy="8.70" r="1.80" fill="#ff2418" fill-opacity="0.315"/><circle cx="6.50" cy="50.10" r="4.05" fill="#ff2418" fill-opacity="0.450"/><circle cx="43.90" cy="48.50" r="4.50" fill="#ff2418" fill-opacity="0.450"/><circle cx="18.40" cy="58.80" r="2.40" fill="#ff2418" fill-opacity="0.405"/><circle cx="70.30" cy="35.80" r="2.70" fill="#ff2418" fill-opacity="0.450"/></g><circle cx="28.00" cy="8.70" r="1.14" fill="#ff2418" fill-opacity="0.7"/><circle cx="6.50" cy="50.10" r="2.56" fill="#ff2418" fill-opacity="1"/><circle cx="43.90" cy="48.50" r="2.85" fill="#ff2418" fill-opacity="1"/><circle cx="18.40" cy="58.80" r="1.52" fill="#ff2418" fill-opacity="0.9"/><circle cx="70.30" cy="35.80" r="1.71" fill="#ff2418" fill-opacity="1"/></g>
</g>
<g transform="translate(602.20,176.00)">
<rect width="76.50" height="75.60" fill="#020202"/>
<g style="isolation:isolate"><g filter="url(#bl)"><g filter="url(#bl2)"><circle cx="21.20" cy="3.40" r="2.25" fill="#2ee82e" fill-opacity="0.270"/><circle cx="28.50" cy="10.30" r="3.60" fill="#2ee82e" fill-opacity="0.450"/><circle cx="19.40" cy="15.50" r="3.00" fill="#2ee82e" fill-opacity="0.270"/><circle cx="5.70" cy="15.90" r="2.55" fill="#2ee82e" fill-opacity="0.158"/><circle cx="52.40" cy="7.30" r="2.40" fill="#2ee82e" fill-opacity="0.270"/><circle cx="37.90" cy="36.90" r="2.40" fill="#2ee82e" fill-opacity="0.270"/><circle cx="42.20" cy="36.90" r="2.40" fill="#2ee82e" fill-opacity="0.270"/><circle cx="70.90" cy="38.30" r="1.95" fill="#2ee82e" fill-opacity="0.135"/><circle cx="7.60" cy="53.50" r="2.25" fill="#2ee82e" fill-opacity="0.158"/><circle cx="45.20" cy="50.60" r="2.70" fill="#2ee82e" fill-opacity="0.225"/><circle cx="37.20" cy="60.40" r="2.25" fill="#2ee82e" fill-opacity="0.270"/><circle cx="19.00" cy="61.00" r="3.45" fill="#2ee82e" fill-opacity="0.450"/><circle cx="47.40" cy="69.50" r="3.60" fill="#2ee82e" fill-opacity="0.450"/><circle cx="73.60" cy="60.40" r="2.10" fill="#2ee82e" fill-opacity="0.270"/></g><circle cx="21.20" cy="3.40" r="1.42" fill="#2ee82e" fill-opacity="0.6"/><circle cx="28.50" cy="10.30" r="2.28" fill="#2ee82e" fill-opacity="1"/><circle cx="19.40" cy="15.50" r="1.90" fill="#2ee82e" fill-opacity="0.6"/><circle cx="5.70" cy="15.90" r="1.61" fill="#2ee82e" fill-opacity="0.35"/><circle cx="52.40" cy="7.30" r="1.52" fill="#2ee82e" fill-opacity="0.6"/><circle cx="37.90" cy="36.90" r="1.52" fill="#2ee82e" fill-opacity="0.6"/><circle cx="42.20" cy="36.90" r="1.52" fill="#2ee82e" fill-opacity="0.6"/><circle cx="70.90" cy="38.30" r="1.23" fill="#2ee82e" fill-opacity="0.3"/><circle cx="7.60" cy="53.50" r="1.42" fill="#2ee82e" fill-opacity="0.35"/><circle cx="45.20" cy="50.60" r="1.71" fill="#2ee82e" fill-opacity="0.5"/><circle cx="37.20" cy="60.40" r="1.42" fill="#2ee82e" fill-opacity="0.6"/><circle cx="19.00" cy="61.00" r="2.18" fill="#2ee82e" fill-opacity="1"/><circle cx="47.40" cy="69.50" r="2.28" fill="#2ee82e" fill-opacity="1"/><circle cx="73.60" cy="60.40" r="1.33" fill="#2ee82e" fill-opacity="0.6"/></g><g filter="url(#bl)" style="mix-blend-mode:screen"><g filter="url(#bl2)"><circle cx="28.00" cy="8.70" r="1.80" fill="#ff2418" fill-opacity="0.315"/><circle cx="6.50" cy="50.10" r="4.05" fill="#ff2418" fill-opacity="0.450"/><circle cx="43.90" cy="48.50" r="4.50" fill="#ff2418" fill-opacity="0.450"/><circle cx="18.40" cy="58.80" r="2.40" fill="#ff2418" fill-opacity="0.405"/><circle cx="70.30" cy="35.80" r="2.70" fill="#ff2418" fill-opacity="0.450"/></g><circle cx="28.00" cy="8.70" r="1.14" fill="#ff2418" fill-opacity="0.7"/><circle cx="6.50" cy="50.10" r="2.56" fill="#ff2418" fill-opacity="1"/><circle cx="43.90" cy="48.50" r="2.85" fill="#ff2418" fill-opacity="1"/><circle cx="18.40" cy="58.80" r="1.52" fill="#ff2418" fill-opacity="0.9"/><circle cx="70.30" cy="35.80" r="1.71" fill="#ff2418" fill-opacity="1"/></g></g>
<line x1="39.5" y1="50.6" x2="49.2" y2="46.2" stroke="#ffffff" stroke-width="0.8" stroke-opacity="0.95"/>
</g>
<text transform="translate(363.40 213.80) rotate(-90) scale(1 1.03)" font-size="11.12" text-anchor="middle" font-weight="bold" fill="#111" stroke="#111" stroke-width="0.15">4×MIC</text>
<g transform="translate(367.60,254.00)">
<rect width="76.50" height="75.60" fill="url(#dicg)"/>
<g filter="url(#bl3)"><g transform="translate(8.5 15.8) rotate(60)"><rect x="-2.6" y="-0.6" width="5.6" height="2.1" rx="1.05" fill="#9a9a9a"/><rect x="-2.9" y="-1.25" width="5.6" height="2.1" rx="1.05" fill="#ebebeb"/></g><g transform="translate(18.8 20.4) rotate(-30)"><rect x="-2.6" y="-0.6" width="5.6" height="2.1" rx="1.05" fill="#9a9a9a"/><rect x="-2.9" y="-1.25" width="5.6" height="2.1" rx="1.05" fill="#ebebeb"/></g><g transform="translate(31.8 21.7) rotate(70)"><rect x="-2.6" y="-0.6" width="5.6" height="2.1" rx="1.05" fill="#9a9a9a"/><rect x="-2.9" y="-1.25" width="5.6" height="2.1" rx="1.05" fill="#ebebeb"/></g><g transform="translate(35.9 18.8) rotate(-50)"><rect x="-2.6" y="-0.6" width="5.6" height="2.1" rx="1.05" fill="#9a9a9a"/><rect x="-2.9" y="-1.25" width="5.6" height="2.1" rx="1.05" fill="#ebebeb"/></g><g transform="translate(40 22.9) rotate(60)"><rect x="-2.6" y="-0.6" width="5.6" height="2.1" rx="1.05" fill="#9a9a9a"/><rect x="-2.9" y="-1.25" width="5.6" height="2.1" rx="1.05" fill="#ebebeb"/></g><g transform="translate(30.6 37.7) rotate(-20)"><rect x="-2.6" y="-0.6" width="5.6" height="2.1" rx="1.05" fill="#9a9a9a"/><rect x="-2.9" y="-1.25" width="5.6" height="2.1" rx="1.05" fill="#ebebeb"/></g><g transform="translate(15.4 43.8) rotate(50)"><rect x="-2.6" y="-0.6" width="5.6" height="2.1" rx="1.05" fill="#9a9a9a"/><rect x="-2.9" y="-1.25" width="5.6" height="2.1" rx="1.05" fill="#ebebeb"/></g><g transform="translate(66.6 35.4) rotate(10)"><rect x="-2.6" y="-0.6" width="5.6" height="2.1" rx="1.05" fill="#9a9a9a"/><rect x="-2.9" y="-1.25" width="5.6" height="2.1" rx="1.05" fill="#ebebeb"/></g><g transform="translate(71.8 37.7) rotate(40)"><rect x="-2.6" y="-0.6" width="5.6" height="2.1" rx="1.05" fill="#9a9a9a"/><rect x="-2.9" y="-1.25" width="5.6" height="2.1" rx="1.05" fill="#ebebeb"/></g><g transform="translate(60.5 56.3) rotate(30)"><rect x="-2.6" y="-0.6" width="5.6" height="2.1" rx="1.05" fill="#9a9a9a"/><rect x="-2.9" y="-1.25" width="5.6" height="2.1" rx="1.05" fill="#ebebeb"/></g><g transform="translate(17.6 62) rotate(10)"><rect x="-2.6" y="-0.6" width="5.6" height="2.1" rx="1.05" fill="#9a9a9a"/><rect x="-2.9" y="-1.25" width="5.6" height="2.1" rx="1.05" fill="#ebebeb"/></g><g transform="translate(31.8 65.9) rotate(-30)"><rect x="-2.6" y="-0.6" width="5.6" height="2.1" rx="1.05" fill="#9a9a9a"/><rect x="-2.9" y="-1.25" width="5.6" height="2.1" rx="1.05" fill="#ebebeb"/></g><g transform="translate(37.7 63.6) rotate(60)"><rect x="-2.6" y="-0.6" width="5.6" height="2.1" rx="1.05" fill="#9a9a9a"/><rect x="-2.9" y="-1.25" width="5.6" height="2.1" rx="1.05" fill="#ebebeb"/></g></g>
</g>
<g transform="translate(445.80,254.00)">
<rect width="76.50" height="75.60" fill="#020202"/>
<g filter="url(#bl)"><g filter="url(#bl2)"><circle cx="30.80" cy="37.60" r="3.90" fill="#2ee82e" fill-opacity="0.450"/><circle cx="66.20" cy="34.90" r="4.50" fill="#2ee82e" fill-opacity="0.450"/><circle cx="31.50" cy="22.30" r="2.25" fill="#2ee82e" fill-opacity="0.090"/><circle cx="26.00" cy="64.00" r="2.25" fill="#2ee82e" fill-opacity="0.054"/><circle cx="34.00" cy="63.00" r="2.25" fill="#2ee82e" fill-opacity="0.054"/></g><circle cx="30.80" cy="37.60" r="2.47" fill="#2ee82e" fill-opacity="1"/><circle cx="66.20" cy="34.90" r="2.85" fill="#2ee82e" fill-opacity="1"/><circle cx="31.50" cy="22.30" r="1.42" fill="#2ee82e" fill-opacity="0.2"/><circle cx="26.00" cy="64.00" r="1.42" fill="#2ee82e" fill-opacity="0.12"/><circle cx="34.00" cy="63.00" r="1.42" fill="#2ee82e" fill-opacity="0.12"/></g>
</g>
<g transform="translate(524.00,254.00)">
<rect width="76.50" height="75.60" fill="#020202"/>
<g filter="url(#bl)"><g filter="url(#bl2)"><circle cx="30.20" cy="18.40" r="3.15" fill="#ff2418" fill-opacity="0.450"/><circle cx="29.30" cy="34.30" r="3.00" fill="#ff2418" fill-opacity="0.450"/><circle cx="65.50" cy="32.00" r="2.70" fill="#ff2418" fill-opacity="0.450"/><circle cx="30.00" cy="60.00" r="4.50" fill="#ff2418" fill-opacity="0.027"/></g><circle cx="30.20" cy="18.40" r="1.99" fill="#ff2418" fill-opacity="1"/><circle cx="29.30" cy="34.30" r="1.90" fill="#ff2418" fill-opacity="1"/><circle cx="65.50" cy="32.00" r="1.71" fill="#ff2418" fill-opacity="1"/><circle cx="30.00" cy="60.00" r="2.85" fill="#ff2418" fill-opacity="0.06"/></g>
</g>
<g transform="translate(602.20,254.00)">
<rect width="76.50" height="75.60" fill="#020202"/>
<g style="isolation:isolate"><g filter="url(#bl)"><g filter="url(#bl2)"><circle cx="30.80" cy="37.60" r="3.90" fill="#2ee82e" fill-opacity="0.450"/><circle cx="66.20" cy="34.90" r="4.50" fill="#2ee82e" fill-opacity="0.450"/><circle cx="31.50" cy="22.30" r="2.25" fill="#2ee82e" fill-opacity="0.090"/><circle cx="26.00" cy="64.00" r="2.25" fill="#2ee82e" fill-opacity="0.054"/><circle cx="34.00" cy="63.00" r="2.25" fill="#2ee82e" fill-opacity="0.054"/></g><circle cx="30.80" cy="37.60" r="2.47" fill="#2ee82e" fill-opacity="1"/><circle cx="66.20" cy="34.90" r="2.85" fill="#2ee82e" fill-opacity="1"/><circle cx="31.50" cy="22.30" r="1.42" fill="#2ee82e" fill-opacity="0.2"/><circle cx="26.00" cy="64.00" r="1.42" fill="#2ee82e" fill-opacity="0.12"/><circle cx="34.00" cy="63.00" r="1.42" fill="#2ee82e" fill-opacity="0.12"/></g><g filter="url(#bl)" style="mix-blend-mode:screen"><g filter="url(#bl2)"><circle cx="30.20" cy="18.40" r="3.15" fill="#ff2418" fill-opacity="0.450"/><circle cx="29.30" cy="34.30" r="3.00" fill="#ff2418" fill-opacity="0.450"/><circle cx="65.50" cy="32.00" r="2.70" fill="#ff2418" fill-opacity="0.450"/><circle cx="30.00" cy="60.00" r="4.50" fill="#ff2418" fill-opacity="0.027"/></g><circle cx="30.20" cy="18.40" r="1.99" fill="#ff2418" fill-opacity="1"/><circle cx="29.30" cy="34.30" r="1.90" fill="#ff2418" fill-opacity="1"/><circle cx="65.50" cy="32.00" r="1.71" fill="#ff2418" fill-opacity="1"/><circle cx="30.00" cy="60.00" r="2.85" fill="#ff2418" fill-opacity="0.06"/></g></g>
<line x1="26" y1="39.9" x2="35.8" y2="33.5" stroke="#ffffff" stroke-width="0.8" stroke-opacity="0.95"/>
</g>
<text transform="translate(363.40 291.80) rotate(-90) scale(1 1.03)" font-size="11.12" text-anchor="middle" font-weight="bold" fill="#111" stroke="#111" stroke-width="0.15">2×MIC</text>
<g transform="translate(367.60,332.00)">
<rect width="76.50" height="75.60" fill="url(#dicg)"/>
<g filter="url(#bl3)"><circle cx="13" cy="2" r="3" fill="#d2d2d2" fill-opacity="0.8"/><g transform="translate(52.9 8) rotate(0)"><rect x="-2.6" y="-0.6" width="5.6" height="2.1" rx="1.05" fill="#9a9a9a"/><rect x="-2.9" y="-1.25" width="5.6" height="2.1" rx="1.05" fill="#ebebeb"/></g><g transform="translate(57.5 8.7) rotate(0)"><rect x="-2.6" y="-0.6" width="5.6" height="2.1" rx="1.05" fill="#9a9a9a"/><rect x="-2.9" y="-1.25" width="5.6" height="2.1" rx="1.05" fill="#ebebeb"/></g><g transform="translate(11.9 18.2) rotate(-60)"><rect x="-2.6" y="-0.6" width="5.6" height="2.1" rx="1.05" fill="#9a9a9a"/><rect x="-2.9" y="-1.25" width="5.6" height="2.1" rx="1.05" fill="#ebebeb"/></g><g transform="translate(19.9 14.1) rotate(-70)"><rect x="-2.6" y="-0.6" width="5.6" height="2.1" rx="1.05" fill="#9a9a9a"/><rect x="-2.9" y="-1.25" width="5.6" height="2.1" rx="1.05" fill="#ebebeb"/></g><g transform="translate(24.5 17.8) rotate(-70)"><rect x="-2.6" y="-0.6" width="5.6" height="2.1" rx="1.05" fill="#9a9a9a"/><rect x="-2.9" y="-1.25" width="5.6" height="2.1" rx="1.05" fill="#ebebeb"/></g><g transform="translate(14.9 23.9) rotate(40)"><rect x="-2.6" y="-0.6" width="5.6" height="2.1" rx="1.05" fill="#9a9a9a"/><rect x="-2.9" y="-1.25" width="5.6" height="2.1" rx="1.05" fill="#ebebeb"/></g><g transform="translate(39.3 29.2) rotate(70)"><rect x="-2.6" y="-0.6" width="5.6" height="2.1" rx="1.05" fill="#9a9a9a"/><rect x="-2.9" y="-1.25" width="5.6" height="2.1" rx="1.05" fill="#ebebeb"/></g><g transform="translate(38.6 34.6) rotate(80)"><rect x="-2.6" y="-0.6" width="5.6" height="2.1" rx="1.05" fill="#9a9a9a"/><rect x="-2.9" y="-1.25" width="5.6" height="2.1" rx="1.05" fill="#ebebeb"/></g><g transform="translate(71.8 25.5) rotate(-40)"><rect x="-2.6" y="-0.6" width="5.6" height="2.1" rx="1.05" fill="#9a9a9a"/><rect x="-2.9" y="-1.25" width="5.6" height="2.1" rx="1.05" fill="#ebebeb"/></g><g transform="translate(30.2 47.8) rotate(-45)"><rect x="-2.6" y="-0.6" width="5.6" height="2.1" rx="1.05" fill="#9a9a9a"/><rect x="-2.9" y="-1.25" width="5.6" height="2.1" rx="1.05" fill="#ebebeb"/></g><g transform="translate(55.2 47.4) rotate(-70)"><rect x="-2.6" y="-0.6" width="5.6" height="2.1" rx="1.05" fill="#9a9a9a"/><rect x="-2.9" y="-1.25" width="5.6" height="2.1" rx="1.05" fill="#ebebeb"/></g><g transform="translate(25.6 62) rotate(-15)"><rect x="-2.6" y="-0.6" width="5.6" height="2.1" rx="1.05" fill="#9a9a9a"/><rect x="-2.9" y="-1.25" width="5.6" height="2.1" rx="1.05" fill="#ebebeb"/></g></g>
</g>
<g transform="translate(445.80,332.00)">
<rect width="76.50" height="75.60" fill="#020202"/>
<g filter="url(#bl)"><g filter="url(#bl2)"><circle cx="53.60" cy="7.30" r="3.45" fill="#2ee82e" fill-opacity="0.450"/><circle cx="57.70" cy="8.20" r="3.30" fill="#2ee82e" fill-opacity="0.450"/><circle cx="12.10" cy="17.80" r="2.55" fill="#2ee82e" fill-opacity="0.360"/><circle cx="20.00" cy="13.70" r="2.40" fill="#2ee82e" fill-opacity="0.315"/><circle cx="25.00" cy="17.80" r="2.25" fill="#2ee82e" fill-opacity="0.315"/><circle cx="14.90" cy="23.90" r="2.55" fill="#2ee82e" fill-opacity="0.360"/><circle cx="39.50" cy="29.20" r="2.40" fill="#2ee82e" fill-opacity="0.360"/><circle cx="38.80" cy="34.60" r="2.40" fill="#2ee82e" fill-opacity="0.360"/><circle cx="71.80" cy="25.50" r="2.70" fill="#2ee82e" fill-opacity="0.405"/><circle cx="30.30" cy="47.80" r="2.70" fill="#2ee82e" fill-opacity="0.405"/><circle cx="55.40" cy="47.40" r="2.70" fill="#2ee82e" fill-opacity="0.405"/><circle cx="13.40" cy="2.30" r="2.25" fill="#2ee82e" fill-opacity="0.135"/></g><circle cx="53.60" cy="7.30" r="2.18" fill="#2ee82e" fill-opacity="1"/><circle cx="57.70" cy="8.20" r="2.09" fill="#2ee82e" fill-opacity="1"/><circle cx="12.10" cy="17.80" r="1.61" fill="#2ee82e" fill-opacity="0.8"/><circle cx="20.00" cy="13.70" r="1.52" fill="#2ee82e" fill-opacity="0.7"/><circle cx="25.00" cy="17.80" r="1.42" fill="#2ee82e" fill-opacity="0.7"/><circle cx="14.90" cy="23.90" r="1.61" fill="#2ee82e" fill-opacity="0.8"/><circle cx="39.50" cy="29.20" r="1.52" fill="#2ee82e" fill-opacity="0.8"/><circle cx="38.80" cy="34.60" r="1.52" fill="#2ee82e" fill-opacity="0.8"/><circle cx="71.80" cy="25.50" r="1.71" fill="#2ee82e" fill-opacity="0.9"/><circle cx="30.30" cy="47.80" r="1.71" fill="#2ee82e" fill-opacity="0.9"/><circle cx="55.40" cy="47.40" r="1.71" fill="#2ee82e" fill-opacity="0.9"/><circle cx="13.40" cy="2.30" r="1.42" fill="#2ee82e" fill-opacity="0.3"/><rect x="22.6" y="60.0" width="6.4" height="3" rx="1.5" fill="#2ee82e" transform="rotate(-20 25.8 61.5)"/></g>
</g>
<g transform="translate(524.00,332.00)">
<rect width="76.50" height="75.60" fill="#020202"/>
<g filter="url(#bl)"><g filter="url(#bl2)"></g></g>
</g>
<g transform="translate(602.20,332.00)">
<rect width="76.50" height="75.60" fill="#020202"/>
<g style="isolation:isolate"><g filter="url(#bl)"><g filter="url(#bl2)"><circle cx="53.60" cy="7.30" r="3.45" fill="#2ee82e" fill-opacity="0.450"/><circle cx="57.70" cy="8.20" r="3.30" fill="#2ee82e" fill-opacity="0.450"/><circle cx="12.10" cy="17.80" r="2.55" fill="#2ee82e" fill-opacity="0.360"/><circle cx="20.00" cy="13.70" r="2.40" fill="#2ee82e" fill-opacity="0.315"/><circle cx="25.00" cy="17.80" r="2.25" fill="#2ee82e" fill-opacity="0.315"/><circle cx="14.90" cy="23.90" r="2.55" fill="#2ee82e" fill-opacity="0.360"/><circle cx="39.50" cy="29.20" r="2.40" fill="#2ee82e" fill-opacity="0.360"/><circle cx="38.80" cy="34.60" r="2.40" fill="#2ee82e" fill-opacity="0.360"/><circle cx="71.80" cy="25.50" r="2.70" fill="#2ee82e" fill-opacity="0.405"/><circle cx="30.30" cy="47.80" r="2.70" fill="#2ee82e" fill-opacity="0.405"/><circle cx="55.40" cy="47.40" r="2.70" fill="#2ee82e" fill-opacity="0.405"/><circle cx="13.40" cy="2.30" r="2.25" fill="#2ee82e" fill-opacity="0.135"/></g><circle cx="53.60" cy="7.30" r="2.18" fill="#2ee82e" fill-opacity="1"/><circle cx="57.70" cy="8.20" r="2.09" fill="#2ee82e" fill-opacity="1"/><circle cx="12.10" cy="17.80" r="1.61" fill="#2ee82e" fill-opacity="0.8"/><circle cx="20.00" cy="13.70" r="1.52" fill="#2ee82e" fill-opacity="0.7"/><circle cx="25.00" cy="17.80" r="1.42" fill="#2ee82e" fill-opacity="0.7"/><circle cx="14.90" cy="23.90" r="1.61" fill="#2ee82e" fill-opacity="0.8"/><circle cx="39.50" cy="29.20" r="1.52" fill="#2ee82e" fill-opacity="0.8"/><circle cx="38.80" cy="34.60" r="1.52" fill="#2ee82e" fill-opacity="0.8"/><circle cx="71.80" cy="25.50" r="1.71" fill="#2ee82e" fill-opacity="0.9"/><circle cx="30.30" cy="47.80" r="1.71" fill="#2ee82e" fill-opacity="0.9"/><circle cx="55.40" cy="47.40" r="1.71" fill="#2ee82e" fill-opacity="0.9"/><circle cx="13.40" cy="2.30" r="1.42" fill="#2ee82e" fill-opacity="0.3"/><rect x="22.6" y="60.0" width="6.4" height="3" rx="1.5" fill="#2ee82e" transform="rotate(-20 25.8 61.5)"/></g><g filter="url(#bl)" style="mix-blend-mode:screen"><g filter="url(#bl2)"></g></g></g>
<line x1="22.4" y1="63.3" x2="32" y2="59.7" stroke="#ffffff" stroke-width="0.8" stroke-opacity="0.95"/>
<line x1="56.3" y1="66.9" x2="73.5" y2="66.9" stroke="#e82020" stroke-width="0.9"/><line x1="56.3" y1="65.6" x2="56.3" y2="68.2" stroke="#e82020" stroke-width="0.8"/><line x1="73.5" y1="65.6" x2="73.5" y2="68.2" stroke="#e82020" stroke-width="0.8"/>
<text x="64.9" y="73.3" font-size="3.6" text-anchor="middle" fill="#e82020">10 μm</text>
</g>
<text transform="translate(363.40 369.80) rotate(-90) scale(1 1.03)" font-size="11.12" text-anchor="middle" font-weight="bold" fill="#111" stroke="#111" stroke-width="0.15">Control</text>
<text transform="translate(1.50 434.50) scale(1 1.03)" font-size="17.51" text-anchor="start" font-weight="bold" fill="#000" stroke="#000" stroke-width="0.15">g</text>
<polyline points="46.40,551.28 47.30,553.79 48.21,553.01 49.11,555.48 50.13,551.62 51.15,549.37 52.56,555.48 53.44,552.79 54.33,548.62 55.21,545.17 56.23,547.42 57.25,549.37 58.66,547.08 59.55,547.76 60.43,548.49 61.32,550.51 62.33,549.08 63.35,545.17 64.37,539.55 65.38,531.05 66.27,522.77 67.15,516.75 68.04,509.29 69.45,521.89 70.92,522.65 71.79,526.69 72.65,533.84 73.52,537.16 74.54,526.38 75.55,514.60 76.57,504.33 78.04,514.64 78.86,508.21 79.68,500.13 81.09,506.24 81.91,500.87 82.73,498.23 84.14,500.13 84.96,483.07 85.78,468.45 87.19,494.03 88.01,490.31 88.83,483.72 89.75,483.64 90.67,480.54 91.59,477.80 92.50,477.62 93.52,471.49 94.54,464.64 95.45,464.64 96.36,464.64 97.28,464.64 98.19,464.64 99.11,464.64 100.02,464.64 100.84,467.22 101.66,468.07 103.07,464.64 103.87,464.64 104.68,464.64 105.48,464.64 106.29,464.64 107.09,464.64 107.90,464.64 108.70,464.64 109.50,464.64 110.31,464.64 111.11,464.64 111.92,464.64 112.72,464.64 113.53,464.64 114.33,464.64 115.14,464.64 115.94,464.64 116.74,464.64 117.55,464.64 118.35,464.64 119.16,464.64 119.96,464.64 120.77,464.64 121.57,464.64 122.37,464.64 123.18,464.64 123.98,464.64 124.79,464.64 125.59,464.64 126.40,464.64 127.20,464.64 128.01,464.64 128.81,464.64 129.61,464.64 130.42,464.64 131.22,464.64 132.03,464.64 132.83,464.64 133.64,464.64 134.65,468.07 136.12,464.64 137.03,464.64 137.93,464.64 138.83,464.64 139.74,464.64 140.78,475.56 141.83,486.01 142.65,488.98 143.47,489.06 144.82,496.32 145.84,515.78 147.31,496.32 148.10,499.07 148.89,500.13 149.78,509.23 150.66,517.96 151.55,526.85 152.38,528.94 153.20,530.22 154.03,530.67 155.05,535.72 156.07,539.19 157.08,543.26 158.10,547.91 159.12,551.28 160.13,553.37 161.15,551.52 162.17,553.19 163.19,554.03 164.20,554.79 165.22,556.24 166.26,558.34 167.31,558.53 168.31,556.01 169.31,555.39 170.30,555.48 171.12,556.79 171.93,556.29 172.75,555.26 173.56,555.44 174.37,556.24 175.19,555.52 176.00,557.70 176.81,557.06 177.63,558.16 178.44,559.29 179.26,558.37 180.08,556.24" fill="none" stroke="#f21c1c" stroke-width="1.1" stroke-linejoin="round"/>
<polyline points="46.40,560.44 47.33,558.92 48.26,558.46 49.20,560.02 50.13,558.53 50.94,559.02 51.76,556.84 52.57,556.61 53.38,556.31 54.20,556.24 55.21,555.41 56.23,553.45 57.25,552.42 58.27,555.23 59.28,558.53 60.30,558.60 61.32,559.82 62.33,559.29 63.15,558.08 63.96,556.79 64.77,554.66 65.59,552.66 66.40,552.42 67.42,554.83 68.44,559.29 69.28,558.36 70.13,557.76 70.98,557.34 71.83,557.05 72.67,556.24 73.52,554.33 74.54,555.81 75.55,557.54 76.57,558.53 77.61,557.79 78.64,555.60 79.68,555.48 80.70,555.67 81.71,555.85 82.73,556.24 83.53,555.24 84.33,554.12 85.14,551.83 85.94,550.66 86.74,548.22 87.78,548.96 88.81,548.61 89.85,550.51 90.87,551.00 91.88,553.02 92.90,553.19 93.71,551.90 94.53,551.74 95.34,551.50 96.15,550.73 96.97,551.28 97.81,550.67 98.66,550.61 99.51,551.61 100.36,550.18 101.20,550.22 102.05,551.28 103.07,551.42 104.09,549.42 105.10,549.37 106.12,544.30 107.14,540.21 108.15,543.73 109.17,547.08 110.04,547.17 110.91,547.43 111.79,546.60 112.66,547.73 113.53,547.14 114.40,548.39 115.27,548.22 116.13,548.05 116.99,548.71 117.84,550.41 118.70,550.87 119.56,550.76 120.41,552.42 121.43,549.49 122.45,547.62 123.47,545.17 124.48,544.41 125.50,542.77 126.52,540.97 127.40,542.93 128.29,546.57 129.17,548.22 130.03,548.34 130.90,550.85 131.76,550.43 132.62,552.42 133.56,551.64 134.49,548.93 135.43,548.29 136.37,547.53 137.31,546.32 138.17,547.51 139.03,548.45 139.89,549.83 140.75,551.28 141.63,551.71 142.50,551.95 143.37,551.25 144.24,550.28 145.11,550.99 145.99,552.25 146.86,551.28 147.67,551.76 148.48,553.20 149.30,554.01 150.11,556.87 150.93,557.38 151.72,556.95 152.51,558.65 153.30,557.41 154.09,558.41 154.88,558.65 155.67,557.29 156.46,559.18 157.25,558.35 158.04,558.53 158.86,557.60 159.68,558.88 160.50,558.85 161.32,557.20 162.14,558.13 162.96,557.34 163.78,558.80 164.60,557.93 165.42,558.25 166.24,557.38 167.05,557.10 167.86,558.57 168.68,556.69 169.49,558.93 170.30,557.43 171.12,559.17 171.93,558.74 172.75,557.58 173.56,559.20 174.37,558.53 175.22,558.74 176.07,557.07 176.91,557.26 177.76,557.54 178.61,554.86 179.46,555.48" fill="none" stroke="#2b8a22" stroke-width="1.1" stroke-linejoin="round"/>
<rect x="46.40" y="446.70" width="135.60" height="114.50" fill="none" stroke="#2b2b2b" stroke-width="1.1"/>
<line x1="42.40" y1="561.20" x2="46.40" y2="561.20" stroke="#2b2b2b" stroke-width="1.1"/>
<text transform="translate(41.20 565.00) scale(1 1.03)" font-size="10.92" text-anchor="end" fill="#1a1a1a" stroke="#1a1a1a" stroke-width="0.15">0</text>
<line x1="42.40" y1="523.03" x2="46.40" y2="523.03" stroke="#2b2b2b" stroke-width="1.1"/>
<text transform="translate(41.20 526.83) scale(1 1.03)" font-size="10.92" text-anchor="end" fill="#1a1a1a" stroke="#1a1a1a" stroke-width="0.15">100</text>
<line x1="42.40" y1="484.87" x2="46.40" y2="484.87" stroke="#2b2b2b" stroke-width="1.1"/>
<text transform="translate(41.20 488.67) scale(1 1.03)" font-size="10.92" text-anchor="end" fill="#1a1a1a" stroke="#1a1a1a" stroke-width="0.15">200</text>
<line x1="42.40" y1="446.70" x2="46.40" y2="446.70" stroke="#2b2b2b" stroke-width="1.1"/>
<text transform="translate(41.20 450.50) scale(1 1.03)" font-size="10.92" text-anchor="end" fill="#1a1a1a" stroke="#1a1a1a" stroke-width="0.15">300</text>
<line x1="46.40" y1="561.20" x2="46.40" y2="565.00" stroke="#2b2b2b" stroke-width="1.1"/>
<text transform="translate(46.40 577.40) scale(1 1.03)" font-size="10.92" text-anchor="middle" fill="#1a1a1a" stroke="#1a1a1a" stroke-width="0.15">0</text>
<line x1="102.90" y1="561.20" x2="102.90" y2="565.00" stroke="#2b2b2b" stroke-width="1.1"/>
<text transform="translate(102.90 577.40) scale(1 1.03)" font-size="10.92" text-anchor="middle" fill="#1a1a1a" stroke="#1a1a1a" stroke-width="0.15">1000</text>
<line x1="159.40" y1="561.20" x2="159.40" y2="565.00" stroke="#2b2b2b" stroke-width="1.1"/>
<text transform="translate(159.40 577.40) scale(1 1.03)" font-size="10.92" text-anchor="middle" fill="#1a1a1a" stroke="#1a1a1a" stroke-width="0.15">2000</text>
<line x1="74.65" y1="561.20" x2="74.65" y2="563.60" stroke="#2b2b2b" stroke-width="1.1"/>
<line x1="131.15" y1="561.20" x2="131.15" y2="563.60" stroke="#2b2b2b" stroke-width="1.1"/>
<text transform="translate(114.20 593.00) scale(1 1.03)" font-size="11.54" text-anchor="middle" fill="#1a1a1a" stroke="#1a1a1a" stroke-width="0.15">Distance [nm]</text>
<text transform="translate(114.20 439.90) scale(1 1.03)" font-size="11.74" text-anchor="middle" fill="#1a1a1a" stroke="#1a1a1a" stroke-width="0.15">4×MIC</text>
<line x1="58.40" y1="455.90" x2="71.20" y2="455.90" stroke="#f21c1c" stroke-width="1.1"/>
<text transform="translate(78.10 459.40) scale(1 1.03)" font-size="10.09" text-anchor="start" fill="#1a1a1a" stroke="#1a1a1a" stroke-width="0.15">PI</text>
<line x1="114.60" y1="456.30" x2="127.00" y2="456.30" stroke="#2b8a22" stroke-width="1.1"/>
<text transform="translate(133.60 459.40) scale(1 1.03)" font-size="10.09" text-anchor="start" fill="#1a1a1a" stroke="#1a1a1a" stroke-width="0.15">SYTO-9</text>
<text transform="translate(15.40 503.95) rotate(-90) scale(1 1.03)" font-size="11.95" text-anchor="middle" fill="#1a1a1a" stroke="#1a1a1a" stroke-width="0.15">Intensity</text>
<polyline points="209.50,560.44 210.43,561.20 211.35,560.61 212.28,561.20 213.20,560.73 214.13,561.20 214.99,560.71 215.86,561.20 216.73,561.20 217.60,559.73 218.46,561.20 219.33,561.20 220.20,560.44 221.07,558.65 221.95,559.98 222.83,558.59 223.70,559.42 224.58,558.65 225.45,559.87 226.33,558.53 227.14,557.51 227.95,556.18 228.76,556.63 229.57,555.35 230.38,555.48 231.39,556.48 232.40,558.53 233.41,556.23 234.43,551.28 235.43,551.89 236.43,553.80 237.43,555.48 238.47,553.03 239.52,549.37 240.53,555.38 241.54,558.53 242.55,552.83 243.56,549.37 244.37,541.82 245.18,534.10 246.57,539.06 248.02,531.81 248.83,535.72 249.64,540.97 251.08,531.05 251.89,526.65 252.70,524.56 253.51,526.01 254.32,528.76 255.33,520.41 256.35,514.64 257.15,513.18 257.96,510.16 258.77,509.29 259.79,514.04 260.80,518.45 261.81,512.16 262.82,508.53 263.84,507.37 264.87,509.76 265.89,508.53 266.90,493.80 267.91,476.85 269.36,494.03 270.17,493.36 270.98,490.97 271.79,491.08 272.60,494.03 273.98,477.62 274.82,472.66 275.66,467.31 277.05,487.92 277.86,475.89 278.67,464.64 279.59,465.63 280.52,465.40 281.33,465.00 282.14,464.64 283.53,471.51 284.34,470.90 285.15,469.60 286.19,474.94 287.20,474.83 288.21,473.80 289.22,480.22 290.24,487.16 291.25,482.13 292.26,477.62 293.27,481.53 294.28,487.92 295.32,491.37 296.37,495.94 297.38,498.82 298.39,504.33 299.40,510.30 300.41,518.45 301.86,506.24 302.67,509.89 303.48,516.55 304.29,521.17 305.10,526.85 306.14,516.55 307.04,533.99 307.93,549.37 308.74,544.07 309.55,540.97 310.36,538.54 311.17,537.70 311.98,537.92 312.79,542.29 313.60,547.08 314.61,548.52 315.62,551.28 316.65,554.58 317.67,555.10 318.69,558.53 319.71,557.54 320.73,557.66 321.75,556.24 322.76,558.97 323.76,557.96 324.76,560.44 325.78,558.56 326.81,560.93 327.83,559.29 328.64,558.76 329.45,560.33 330.26,561.20 331.07,561.20 331.88,561.20 332.72,559.55 333.57,558.41 334.42,560.11 335.27,557.54 336.12,558.45 336.96,556.24 337.98,557.67 338.99,560.44 340.01,560.32 341.03,558.00 342.05,558.53 343.06,557.70 344.06,559.78 345.06,560.44" fill="none" stroke="#f21c1c" stroke-width="1.1" stroke-linejoin="round"/>
<polyline points="209.50,559.29 210.37,557.86 211.24,556.13 212.10,553.19 213.11,556.09 214.13,558.53 215.15,557.28 216.17,555.45 217.19,552.42 218.20,549.98 219.22,547.08 220.60,555.48 221.49,552.48 222.38,550.72 223.26,549.37 224.28,550.29 225.29,552.42 226.30,550.96 227.31,548.22 228.32,550.62 229.34,553.19 230.35,552.17 231.36,550.13 232.37,551.45 233.39,551.28 234.40,553.71 235.41,554.33 236.45,550.13 237.46,553.46 238.47,555.48 239.49,552.40 240.50,551.28 241.51,549.57 242.52,549.37 243.53,545.99 244.55,544.03 245.56,543.91 246.57,545.17 247.58,547.40 248.60,548.22 249.61,549.23 250.62,549.37 251.66,550.03 252.70,551.28 253.51,547.31 254.32,543.59 255.13,540.97 255.94,543.15 256.75,547.08 257.76,544.59 258.77,540.21 259.58,539.97 260.39,540.21 261.20,549.37 262.22,548.40 263.23,548.22 264.11,549.86 265.00,552.27 265.89,553.19 266.89,553.63 267.89,554.89 268.89,554.33 269.72,552.72 270.54,552.27 271.36,552.39 272.18,552.34 273.00,551.28 274.02,551.36 275.04,553.15 276.07,554.33 276.93,552.44 277.80,551.50 278.67,551.28 279.48,552.66 280.29,554.27 281.10,555.48 282.12,553.21 283.14,551.56 284.16,549.37 285.17,553.58 286.19,556.24 287.19,555.67 288.19,553.49 289.19,553.19 290.12,554.04 291.05,553.84 291.97,552.32 292.90,552.42 293.71,554.58 294.51,555.65 295.32,557.38 296.35,556.81 297.37,556.47 298.39,555.48 299.41,555.61 300.43,558.72 301.46,559.29 302.32,559.49 303.19,559.97 304.06,558.99 304.93,559.80 305.79,559.62 306.66,558.73 307.53,559.29 308.34,559.09 309.15,557.94 309.96,556.53 310.77,557.76 311.58,556.24 312.60,558.26 313.62,558.89 314.64,559.29 315.53,558.59 316.42,558.84 317.31,559.61 318.20,559.30 319.09,559.55 319.98,558.81 320.87,559.67 321.75,558.53 322.56,558.20 323.37,557.88 324.18,557.87 324.99,558.50 325.80,558.11 326.61,560.40 327.42,559.90 328.23,558.48 329.04,559.04 329.85,560.01 330.66,558.91 331.47,559.78 332.28,559.45 333.09,560.78 333.90,560.44 334.75,561.14 335.60,560.56 336.44,561.20 337.29,560.71 338.14,559.38 338.99,560.82 339.84,561.20 340.69,561.20 341.53,561.19 342.38,559.79 343.23,560.75 344.08,560.44" fill="none" stroke="#2b8a22" stroke-width="1.1" stroke-linejoin="round"/>
<rect x="209.50" y="446.70" width="138.80" height="114.50" fill="none" stroke="#2b2b2b" stroke-width="1.1"/>
<line x1="205.50" y1="561.20" x2="209.50" y2="561.20" stroke="#2b2b2b" stroke-width="1.1"/>
<text transform="translate(204.30 565.00) scale(1 1.03)" font-size="10.92" text-anchor="end" fill="#1a1a1a" stroke="#1a1a1a" stroke-width="0.15">0</text>
<line x1="205.50" y1="523.03" x2="209.50" y2="523.03" stroke="#2b2b2b" stroke-width="1.1"/>
<text transform="translate(204.30 526.83) scale(1 1.03)" font-size="10.92" text-anchor="end" fill="#1a1a1a" stroke="#1a1a1a" stroke-width="0.15">100</text>
<line x1="205.50" y1="484.87" x2="209.50" y2="484.87" stroke="#2b2b2b" stroke-width="1.1"/>
<text transform="translate(204.30 488.67) scale(1 1.03)" font-size="10.92" text-anchor="end" fill="#1a1a1a" stroke="#1a1a1a" stroke-width="0.15">200</text>
<line x1="205.50" y1="446.70" x2="209.50" y2="446.70" stroke="#2b2b2b" stroke-width="1.1"/>
<text transform="translate(204.30 450.50) scale(1 1.03)" font-size="10.92" text-anchor="end" fill="#1a1a1a" stroke="#1a1a1a" stroke-width="0.15">300</text>
<line x1="209.50" y1="561.20" x2="209.50" y2="565.00" stroke="#2b2b2b" stroke-width="1.1"/>
<text transform="translate(209.50 577.40) scale(1 1.03)" font-size="10.92" text-anchor="middle" fill="#1a1a1a" stroke="#1a1a1a" stroke-width="0.15">0</text>
<line x1="267.33" y1="561.20" x2="267.33" y2="565.00" stroke="#2b2b2b" stroke-width="1.1"/>
<text transform="translate(267.33 577.40) scale(1 1.03)" font-size="10.92" text-anchor="middle" fill="#1a1a1a" stroke="#1a1a1a" stroke-width="0.15">1000</text>
<line x1="325.17" y1="561.20" x2="325.17" y2="565.00" stroke="#2b2b2b" stroke-width="1.1"/>
<text transform="translate(325.17 577.40) scale(1 1.03)" font-size="10.92" text-anchor="middle" fill="#1a1a1a" stroke="#1a1a1a" stroke-width="0.15">2000</text>
<line x1="238.42" y1="561.20" x2="238.42" y2="563.60" stroke="#2b2b2b" stroke-width="1.1"/>
<line x1="296.25" y1="561.20" x2="296.25" y2="563.60" stroke="#2b2b2b" stroke-width="1.1"/>
<text transform="translate(278.90 593.00) scale(1 1.03)" font-size="11.54" text-anchor="middle" fill="#1a1a1a" stroke="#1a1a1a" stroke-width="0.15">Distance [nm]</text>
<text transform="translate(278.90 439.90) scale(1 1.03)" font-size="11.74" text-anchor="middle" fill="#1a1a1a" stroke="#1a1a1a" stroke-width="0.15">2×MIC</text>
<line x1="221.50" y1="455.90" x2="234.30" y2="455.90" stroke="#f21c1c" stroke-width="1.1"/>
<text transform="translate(241.20 459.40) scale(1 1.03)" font-size="10.09" text-anchor="start" fill="#1a1a1a" stroke="#1a1a1a" stroke-width="0.15">PI</text>
<line x1="277.70" y1="456.30" x2="290.10" y2="456.30" stroke="#2b8a22" stroke-width="1.1"/>
<text transform="translate(296.70 459.40) scale(1 1.03)" font-size="10.09" text-anchor="start" fill="#1a1a1a" stroke="#1a1a1a" stroke-width="0.15">SYTO-9</text>
<polyline points="376.20,551.28 377.12,549.19 378.05,548.22 379.09,548.13 380.12,548.91 381.16,551.28 381.97,546.58 382.78,545.93 384.22,539.83 385.66,538.30 386.88,517.69 388.32,550.51 389.36,542.54 390.40,536.77 391.38,541.35 392.21,525.68 393.05,513.87 394.49,518.45 395.30,519.47 396.11,516.16 397.55,522.27 398.36,528.15 399.17,533.72 400.61,506.24 402.05,519.98 402.86,514.13 403.67,512.35 405.11,491.74 405.95,505.94 406.79,521.51 407.80,512.04 408.81,506.24 409.84,510.30 410.88,510.82 411.89,511.72 412.90,512.35 413.73,507.15 414.56,499.42 415.38,493.26 416.19,504.37 417.00,516.16 418.04,508.85 419.08,497.08 420.09,501.05 421.10,502.42 422.54,512.35 423.38,508.39 424.21,502.42 425.25,505.48 426.29,512.35 427.10,506.93 427.91,503.95 429.35,506.24 430.79,491.74 431.60,478.03 432.41,461.20 433.85,485.63 435.06,516.16 435.99,497.63 436.91,481.81 437.75,494.54 438.58,503.95 439.39,513.34 440.20,523.80 441.24,509.48 442.28,491.74 443.29,503.56 444.30,510.82 445.13,496.91 445.97,486.39 446.89,502.23 447.82,515.40 449.26,500.13 450.27,499.15 451.28,495.55 452.32,488.38 453.36,485.63 454.16,489.27 454.97,496.32 455.78,495.75 456.59,493.26 457.41,503.11 458.24,517.00 459.07,529.14 459.91,515.73 460.74,503.95 461.75,508.74 462.76,510.82 463.80,516.82 464.84,526.85 465.85,527.89 466.86,530.67 467.90,530.44 468.94,534.48 469.95,530.77 470.96,530.67 472.00,526.63 473.03,520.74 473.86,520.62 474.69,520.75 475.52,518.45 476.53,523.51 477.54,525.32 478.57,529.60 479.61,529.90 480.62,541.50 481.63,551.28 482.67,551.95 483.71,553.57 484.72,557.37 485.73,556.62 486.77,554.28 487.81,553.57 488.82,556.22 489.83,557.38 490.85,556.22 491.87,551.85 492.89,551.28 493.93,554.42 494.96,557.38 495.98,556.19 497.00,553.40 498.02,551.28 498.85,552.12 499.68,556.87 500.50,556.62 501.39,552.92 502.27,555.75 503.16,552.04 504.20,549.37 505.24,547.41 506.27,547.46 507.28,554.25 508.29,556.62 509.33,556.83 510.37,559.67" fill="none" stroke="#2b8a22" stroke-width="1.1" stroke-linejoin="round"/>
<polyline points="376.20,557.38 377.16,557.51 378.12,558.44 379.09,560.44 380.10,560.48 381.12,561.16 382.14,560.44 383.18,556.24 384.22,548.99 385.66,560.44 386.59,559.94 387.51,560.53 388.43,559.64 389.36,560.44 390.28,559.30 391.20,556.56 392.13,556.55 393.05,554.33 393.86,555.19 394.67,557.19 395.47,559.67 396.49,559.17 397.51,558.03 398.53,557.38 399.57,555.68 400.61,555.09 401.65,554.89 402.69,552.80 403.70,555.31 404.71,558.15 405.75,557.72 406.79,559.88 407.82,559.67 408.70,558.86 409.57,559.32 410.45,558.95 411.32,560.61 412.19,561.20 413.07,559.41 413.94,560.44 414.76,559.51 415.58,560.60 416.40,561.20 417.22,561.20 418.04,560.44 418.92,559.48 419.80,559.98 420.68,557.42 421.57,557.99 422.45,558.62 423.33,556.69 424.21,556.62 425.23,557.56 426.25,556.32 427.27,558.15 428.29,556.64 429.31,557.59 430.33,557.38 431.16,557.40 431.99,557.70 432.82,557.82 433.65,557.76 434.49,559.67 435.35,558.25 436.22,554.37 437.08,550.78 437.95,548.22 438.78,551.87 439.62,554.33 440.66,552.53 441.70,551.28 442.72,554.31 443.74,553.68 444.76,556.62 445.78,557.05 446.80,558.81 447.82,558.15 448.84,556.12 449.86,555.67 450.87,553.57 451.91,555.77 452.95,556.16 453.99,557.38 455.01,559.25 456.03,559.80 457.05,559.67 457.87,558.71 458.69,559.37 459.51,561.20 460.33,559.43 461.15,560.44 462.00,561.20 462.86,560.95 463.71,559.20 464.57,560.07 465.43,561.03 466.28,560.44 467.14,560.17 467.99,559.50 468.85,559.67 469.71,556.37 470.56,558.62 471.42,556.62 472.43,558.76 473.44,560.44 474.26,559.23 475.08,559.83 475.90,557.59 476.72,559.38 477.54,558.15 478.36,556.07 479.17,555.73 479.99,555.79 480.81,554.51 481.63,555.09 482.67,557.93 483.71,560.44 484.58,558.88 485.46,558.44 486.33,558.75 487.21,558.34 488.08,557.08 488.95,557.44 489.83,556.62 490.68,558.52 491.54,557.14 492.40,559.24 493.25,559.20 494.11,558.93 494.96,560.44 495.86,561.20 496.75,561.20 497.65,561.20 498.54,559.78 499.44,560.38 500.33,560.61 501.23,559.92 502.12,559.67 503.00,558.48 503.88,560.64 504.77,560.27 505.65,558.95 506.53,559.88 507.41,561.04 508.29,560.44" fill="none" stroke="#f21c1c" stroke-width="1.1" stroke-linejoin="round"/>
<rect x="376.20" y="446.70" width="138.50" height="114.50" fill="none" stroke="#2b2b2b" stroke-width="1.1"/>
<line x1="372.20" y1="561.20" x2="376.20" y2="561.20" stroke="#2b2b2b" stroke-width="1.1"/>
<text transform="translate(371.00 565.00) scale(1 1.03)" font-size="10.92" text-anchor="end" fill="#1a1a1a" stroke="#1a1a1a" stroke-width="0.15">0</text>
<line x1="372.20" y1="523.03" x2="376.20" y2="523.03" stroke="#2b2b2b" stroke-width="1.1"/>
<text transform="translate(371.00 526.83) scale(1 1.03)" font-size="10.92" text-anchor="end" fill="#1a1a1a" stroke="#1a1a1a" stroke-width="0.15">50</text>
<line x1="372.20" y1="484.87" x2="376.20" y2="484.87" stroke="#2b2b2b" stroke-width="1.1"/>
<text transform="translate(371.00 488.67) scale(1 1.03)" font-size="10.92" text-anchor="end" fill="#1a1a1a" stroke="#1a1a1a" stroke-width="0.15">100</text>
<line x1="372.20" y1="446.70" x2="376.20" y2="446.70" stroke="#2b2b2b" stroke-width="1.1"/>
<text transform="translate(371.00 450.50) scale(1 1.03)" font-size="10.92" text-anchor="end" fill="#1a1a1a" stroke="#1a1a1a" stroke-width="0.15">150</text>
<line x1="376.20" y1="561.20" x2="376.20" y2="565.00" stroke="#2b2b2b" stroke-width="1.1"/>
<text transform="translate(376.20 577.40) scale(1 1.03)" font-size="10.92" text-anchor="middle" fill="#1a1a1a" stroke="#1a1a1a" stroke-width="0.15">0</text>
<line x1="433.91" y1="561.20" x2="433.91" y2="565.00" stroke="#2b2b2b" stroke-width="1.1"/>
<text transform="translate(433.91 577.40) scale(1 1.03)" font-size="10.92" text-anchor="middle" fill="#1a1a1a" stroke="#1a1a1a" stroke-width="0.15">1000</text>
<line x1="491.62" y1="561.20" x2="491.62" y2="565.00" stroke="#2b2b2b" stroke-width="1.1"/>
<text transform="translate(491.62 577.40) scale(1 1.03)" font-size="10.92" text-anchor="middle" fill="#1a1a1a" stroke="#1a1a1a" stroke-width="0.15">2000</text>
<line x1="405.05" y1="561.20" x2="405.05" y2="563.60" stroke="#2b2b2b" stroke-width="1.1"/>
<line x1="462.76" y1="561.20" x2="462.76" y2="563.60" stroke="#2b2b2b" stroke-width="1.1"/>
<text transform="translate(445.45 593.00) scale(1 1.03)" font-size="11.54" text-anchor="middle" fill="#1a1a1a" stroke="#1a1a1a" stroke-width="0.15">Distance [nm]</text>
<text transform="translate(445.45 439.90) scale(1 1.03)" font-size="11.74" text-anchor="middle" fill="#1a1a1a" stroke="#1a1a1a" stroke-width="0.15">Control</text>
<line x1="388.20" y1="455.90" x2="401.00" y2="455.90" stroke="#f21c1c" stroke-width="1.1"/>
<text transform="translate(407.90 459.40) scale(1 1.03)" font-size="10.09" text-anchor="start" fill="#1a1a1a" stroke="#1a1a1a" stroke-width="0.15">PI</text>
<line x1="444.40" y1="456.30" x2="456.80" y2="456.30" stroke="#2b8a22" stroke-width="1.1"/>
<text transform="translate(463.40 459.40) scale(1 1.03)" font-size="10.09" text-anchor="start" fill="#1a1a1a" stroke="#1a1a1a" stroke-width="0.15">SYTO-9</text>
<text transform="translate(2.60 611.50) scale(1 1.03)" font-size="17.51" text-anchor="start" font-weight="bold" fill="#000" stroke="#000" stroke-width="0.15">h</text>
<polyline points="44.80,728.20 46.01,714.84 46.67,721.23 47.33,726.29 48.07,722.15 48.81,714.77 49.55,709.88 50.35,720.29 51.15,727.43 51.98,721.57 52.82,715.98 53.63,720.57 54.43,725.81 55.24,728.20 56.05,720.02 56.87,713.68 57.69,703.77 58.51,700.40 59.33,696.52 60.14,708.85 60.96,717.89 61.68,707.24 62.40,693.46 63.22,708.64 64.04,723.23 64.95,695.84 65.87,670.94 66.69,691.27 67.50,708.73 68.32,696.05 69.14,681.25 69.86,681.72 70.58,683.16 71.24,679.16 71.90,678.28 72.57,676.68 73.23,674.00 74.14,660.54 75.06,650.72 76.27,673.24 77.32,656.82 78.02,667.14 78.72,674.00 79.46,661.94 80.20,652.62 80.93,651.21 81.66,649.56 82.40,647.44 83.13,644.50 83.86,641.56 84.49,641.56 85.12,641.56 85.75,641.56 86.38,641.56 87.00,641.56 87.63,641.56 88.26,641.56 88.89,641.56 89.52,641.56 90.15,641.56 90.78,641.56 91.41,641.56 92.04,641.56 92.66,641.56 93.29,641.56 93.92,641.56 94.55,641.56 95.18,641.56 95.81,641.56 96.44,641.56 97.07,641.56 97.70,641.56 98.32,641.56 98.95,641.56 99.58,641.56 100.21,641.56 100.84,641.56 101.47,641.56 102.10,641.56 102.73,641.56 103.36,641.56 103.98,641.56 104.61,641.56 105.24,641.56 105.87,641.56 106.50,641.56 107.13,641.56 107.76,641.56 108.39,641.56 109.02,641.56 109.64,641.56 110.27,641.56 110.90,641.56 111.53,641.56 112.16,641.56 112.79,641.56 113.42,641.56 114.05,641.56 114.68,641.56 115.30,641.56 115.93,641.56 116.56,641.56 117.19,641.56 117.82,641.56 118.45,641.56 119.08,641.56 119.71,641.56 120.34,641.56 120.96,641.56 121.59,641.56 122.22,641.56 122.85,641.56 123.48,641.56 124.11,641.56 124.74,641.56 125.37,641.56 126.00,641.56 126.62,641.56 127.25,641.56 127.88,641.56 128.51,641.56 129.14,641.56 129.77,641.56 130.40,641.56 131.03,641.56 131.66,641.56 132.28,641.56 132.91,641.56 133.54,641.56 134.17,641.56 134.80,641.56 135.43,641.56 136.06,641.56 136.69,641.56 137.31,641.56 137.94,641.56 138.57,641.56 139.20,641.56 139.83,641.56 140.46,641.56 141.09,641.56 141.72,641.56 142.35,641.56 142.97,641.56 143.60,660.64 144.32,649.89 145.04,641.56 145.71,644.43 146.39,644.55 147.06,646.52 147.75,644.33 148.44,643.70 149.13,641.56 149.80,641.81 150.48,642.07 151.15,642.32 151.84,655.50 152.53,670.71 153.22,682.39 154.23,646.52 154.90,651.89 155.58,655.02 156.25,657.59 156.94,662.75 157.63,669.57 158.32,675.14 158.99,681.32 159.67,685.76 160.34,691.55 161.36,717.89 162.03,716.03 162.71,714.58 163.38,711.78 164.20,703.60 165.02,697.66 166.03,728.20 166.85,726.16 167.66,726.63 168.48,724.38 169.25,724.09 170.02,724.28 170.79,722.95 171.56,724.38 172.29,720.83 173.02,719.84 173.76,714.53 174.49,715.15 175.22,711.02 175.92,718.01 176.62,724.38 177.34,729.50 178.06,736.59" fill="none" stroke="#f21c1c" stroke-width="1.1" stroke-linejoin="round"/>
<polyline points="44.80,737.36 45.46,736.97 46.12,733.50 46.79,734.83 47.45,731.84 48.11,731.25 48.87,733.85 49.63,734.69 50.39,733.73 51.15,736.59 51.92,736.91 52.69,735.01 53.46,735.00 54.22,734.30 54.99,735.02 55.76,735.46 56.53,736.96 57.30,736.59 58.06,733.77 58.82,734.22 59.58,731.96 60.34,729.34 61.11,732.62 61.88,733.68 62.65,735.06 63.41,736.59 64.08,732.31 64.74,730.85 65.40,728.61 66.06,724.38 66.88,729.19 67.70,731.02 68.52,736.59 69.29,737.16 70.05,734.70 70.82,734.68 71.59,733.54 72.27,733.68 72.94,735.30 73.62,735.45 74.39,732.29 75.16,730.30 75.93,727.26 76.69,725.14 77.37,726.33 78.04,729.73 78.72,732.39 79.41,730.05 80.10,726.85 80.78,722.09 81.46,723.14 82.13,726.96 82.81,729.34 83.50,728.62 84.18,724.67 84.87,724.38 85.55,725.41 86.22,726.22 86.90,728.20 87.67,726.27 88.44,727.32 89.20,726.34 89.97,725.14 90.73,724.75 91.49,727.78 92.25,726.62 93.01,728.20 93.78,726.85 94.55,722.46 95.32,719.85 96.09,717.89 96.91,714.99 97.72,714.84 98.40,717.60 99.07,722.46 99.75,726.29 100.57,730.90 101.38,734.73 102.20,737.36 103.02,733.58 103.84,729.95 104.66,726.29 105.33,724.80 106.01,719.46 106.68,717.89 107.36,716.85 108.03,715.24 108.71,714.84 109.52,714.67 110.34,713.58 111.16,711.78 111.82,715.09 112.48,715.89 113.14,717.93 113.81,719.03 114.49,720.29 115.18,721.45 115.87,722.09 116.63,720.02 117.39,718.79 118.15,719.93 118.91,717.89 119.60,716.55 120.28,715.60 120.97,712.93 121.98,709.88 122.67,713.83 123.36,717.33 124.05,723.23 124.72,719.69 125.40,713.51 126.07,709.88 126.76,713.92 127.45,718.23 128.14,720.18 129.15,695.37 129.97,705.44 130.79,717.13 131.51,721.24 132.23,724.38 132.90,723.22 133.58,720.25 134.25,717.89 135.02,720.81 135.79,722.36 136.56,724.35 137.33,726.29 138.09,727.30 138.85,727.54 139.61,729.22 140.37,729.34 141.13,730.86 141.90,731.18 142.67,731.40 143.44,730.49 144.12,728.32 144.79,726.71 145.47,723.25 146.14,722.07 146.82,719.35 147.49,717.89 148.26,719.29 149.03,724.95 149.80,727.95 150.57,729.34 151.33,729.96 152.09,728.73 152.85,727.68 153.61,727.43 154.38,728.69 155.14,731.89 155.91,732.02 156.68,735.45 157.44,737.25 158.20,734.99 158.96,737.19 159.72,736.59 160.40,734.94 161.08,737.00 161.76,733.64 162.45,733.76 163.13,732.55 163.81,733.54 164.57,731.77 165.33,731.47 166.09,727.52 166.85,727.43 167.52,730.66 168.20,734.81 168.87,736.59 169.56,733.47 170.25,731.00 170.94,728.20 171.71,730.57 172.47,733.83 173.24,736.22 174.01,737.36 174.77,734.82 175.53,732.92 176.29,731.63 177.05,728.20 177.72,731.18 178.40,733.10 179.07,736.59" fill="none" stroke="#2b8a22" stroke-width="1.1" stroke-linejoin="round"/>
<rect x="44.80" y="624.00" width="136.30" height="114.50" fill="none" stroke="#2b2b2b" stroke-width="1.1"/>
<line x1="40.80" y1="738.50" x2="44.80" y2="738.50" stroke="#2b2b2b" stroke-width="1.1"/>
<text transform="translate(39.60 742.30) scale(1 1.03)" font-size="10.92" text-anchor="end" fill="#1a1a1a" stroke="#1a1a1a" stroke-width="0.15">0</text>
<line x1="40.80" y1="700.33" x2="44.80" y2="700.33" stroke="#2b2b2b" stroke-width="1.1"/>
<text transform="translate(39.60 704.13) scale(1 1.03)" font-size="10.92" text-anchor="end" fill="#1a1a1a" stroke="#1a1a1a" stroke-width="0.15">100</text>
<line x1="40.80" y1="662.17" x2="44.80" y2="662.17" stroke="#2b2b2b" stroke-width="1.1"/>
<text transform="translate(39.60 665.97) scale(1 1.03)" font-size="10.92" text-anchor="end" fill="#1a1a1a" stroke="#1a1a1a" stroke-width="0.15">200</text>
<line x1="40.80" y1="624.00" x2="44.80" y2="624.00" stroke="#2b2b2b" stroke-width="1.1"/>
<text transform="translate(39.60 627.80) scale(1 1.03)" font-size="10.92" text-anchor="end" fill="#1a1a1a" stroke="#1a1a1a" stroke-width="0.15">300</text>
<line x1="44.80" y1="738.50" x2="44.80" y2="742.30" stroke="#2b2b2b" stroke-width="1.1"/>
<text transform="translate(44.80 754.70) scale(1 1.03)" font-size="10.92" text-anchor="middle" fill="#1a1a1a" stroke="#1a1a1a" stroke-width="0.15">0</text>
<line x1="83.74" y1="738.50" x2="83.74" y2="742.30" stroke="#2b2b2b" stroke-width="1.1"/>
<text transform="translate(83.74 754.70) scale(1 1.03)" font-size="10.92" text-anchor="middle" fill="#1a1a1a" stroke="#1a1a1a" stroke-width="0.15">1000</text>
<line x1="122.69" y1="738.50" x2="122.69" y2="742.30" stroke="#2b2b2b" stroke-width="1.1"/>
<text transform="translate(122.69 754.70) scale(1 1.03)" font-size="10.92" text-anchor="middle" fill="#1a1a1a" stroke="#1a1a1a" stroke-width="0.15">2000</text>
<line x1="161.63" y1="738.50" x2="161.63" y2="742.30" stroke="#2b2b2b" stroke-width="1.1"/>
<text transform="translate(161.63 754.70) scale(1 1.03)" font-size="10.92" text-anchor="middle" fill="#1a1a1a" stroke="#1a1a1a" stroke-width="0.15">3000</text>
<line x1="64.27" y1="738.50" x2="64.27" y2="740.90" stroke="#2b2b2b" stroke-width="1.1"/>
<line x1="103.21" y1="738.50" x2="103.21" y2="740.90" stroke="#2b2b2b" stroke-width="1.1"/>
<line x1="142.16" y1="738.50" x2="142.16" y2="740.90" stroke="#2b2b2b" stroke-width="1.1"/>
<text transform="translate(112.95 770.30) scale(1 1.03)" font-size="11.54" text-anchor="middle" fill="#1a1a1a" stroke="#1a1a1a" stroke-width="0.15">Distance [nm]</text>
<text transform="translate(112.95 617.20) scale(1 1.03)" font-size="11.74" text-anchor="middle" fill="#1a1a1a" stroke="#1a1a1a" stroke-width="0.15">4×MIC</text>
<line x1="56.80" y1="633.20" x2="69.60" y2="633.20" stroke="#f21c1c" stroke-width="1.1"/>
<text transform="translate(76.50 636.70) scale(1 1.03)" font-size="10.09" text-anchor="start" fill="#1a1a1a" stroke="#1a1a1a" stroke-width="0.15">PI</text>
<line x1="113.00" y1="633.60" x2="125.40" y2="633.60" stroke="#2b8a22" stroke-width="1.1"/>
<text transform="translate(132.00 636.70) scale(1 1.03)" font-size="10.09" text-anchor="start" fill="#1a1a1a" stroke="#1a1a1a" stroke-width="0.15">SYTO-9</text>
<text transform="translate(15.40 681.25) rotate(-90) scale(1 1.03)" font-size="11.95" text-anchor="middle" fill="#1a1a1a" stroke="#1a1a1a" stroke-width="0.15">Intensity</text>
<polyline points="209.40,737.36 210.07,737.66 210.75,738.17 211.42,738.50 212.09,736.61 212.76,738.50 213.44,738.33 214.11,738.50 214.88,736.22 215.64,738.50 216.41,736.00 217.17,735.45 217.93,735.48 218.68,738.15 219.44,737.34 220.20,737.36 220.87,735.75 221.54,735.88 222.22,734.02 222.89,735.36 223.57,734.22 224.24,732.39 225.01,735.12 225.79,734.85 226.57,734.50 227.34,737.36 228.11,736.06 228.87,734.40 229.64,734.94 230.40,733.54 231.17,733.55 231.93,736.97 232.70,737.20 233.46,737.36 234.14,735.35 234.81,733.82 235.49,733.65 236.16,733.59 236.83,731.57 237.51,729.34 238.27,732.74 239.04,734.76 239.80,735.03 240.57,738.50 241.31,738.50 242.05,737.03 242.78,737.05 243.52,738.50 244.26,738.50 244.97,733.81 245.67,728.20 246.35,730.01 247.03,733.58 247.71,733.54 248.40,728.61 249.08,721.55 249.76,717.89 250.44,722.81 251.12,724.39 251.80,728.20 252.48,726.59 253.16,721.79 253.84,719.03 254.51,712.44 255.17,709.99 255.84,703.77 256.52,704.25 257.20,702.56 257.88,699.57 258.59,695.79 259.30,692.32 260.12,700.84 260.94,705.68 261.97,720.18 262.65,718.97 263.33,714.59 264.01,711.78 264.71,702.16 265.42,695.75 266.24,705.22 267.07,714.07 267.75,708.99 268.43,702.60 269.11,697.66 270.33,643.47 271.54,652.62 272.76,657.59 273.47,662.76 274.17,664.84 275.00,674.27 275.82,684.30 276.53,680.02 277.24,673.24 278.06,662.51 278.89,652.62 279.59,656.03 280.30,662.93 280.98,657.51 281.66,648.47 282.34,641.56 283.02,641.56 283.70,641.56 284.38,641.56 285.40,652.62 286.11,650.12 286.82,648.43 288.03,677.05 288.74,668.66 289.45,657.59 290.15,662.67 290.86,665.98 291.68,654.36 292.51,646.52 293.53,662.93 294.33,655.88 295.14,652.62 295.84,657.70 296.55,659.88 297.28,649.93 298.00,641.56 299.22,652.62 299.93,646.90 300.63,644.61 301.34,652.10 302.05,657.59 302.87,654.68 303.70,652.62 304.50,659.52 305.31,662.93 306.03,661.34 306.76,658.73 307.46,667.80 308.17,678.20 309.00,672.70 309.82,667.89 310.53,660.74 311.23,655.68 312.04,676.15 312.84,693.46 313.52,697.48 314.20,698.94 314.88,703.77 315.56,705.48 316.24,708.03 316.93,709.88 317.61,710.63 318.29,708.78 318.97,711.02 319.67,694.32 320.38,678.20 321.60,689.26 322.42,676.29 323.25,694.92 324.07,709.88 324.87,717.89 325.68,728.20 326.36,727.58 327.04,725.90 327.72,724.38 328.43,730.05 329.13,733.54 329.81,731.97 330.50,730.65 331.18,728.20 331.86,732.56 332.54,733.30 333.22,736.59 333.90,736.33 334.58,731.95 335.26,731.25 335.94,734.84 336.62,733.74 337.30,736.59 337.98,734.40 338.66,734.57 339.34,733.54 340.05,734.65 340.75,737.36 341.43,734.63 342.12,729.07 342.80,726.29 343.62,732.11 344.44,737.36" fill="none" stroke="#f21c1c" stroke-width="1.1" stroke-linejoin="round"/>
<polyline points="209.40,730.49 210.15,731.23 210.89,732.79 211.64,733.54 212.46,734.26 213.29,736.70 214.11,736.59 214.88,734.63 215.64,733.83 216.41,733.72 217.17,733.54 217.93,735.03 218.68,733.84 219.44,734.77 220.20,734.30 220.88,733.98 221.56,730.03 222.24,730.49 222.92,722.36 223.60,719.76 224.28,711.78 225.10,706.97 225.93,704.91 226.63,711.01 227.34,717.89 228.07,721.59 228.79,724.38 229.60,721.01 230.40,715.98 231.21,716.27 232.01,717.89 232.69,716.02 233.37,713.11 234.05,711.78 234.78,713.26 235.51,715.98 236.21,708.79 236.92,698.81 237.74,699.31 238.57,701.86 239.37,695.25 240.18,692.32 240.88,697.21 241.59,705.68 242.27,703.21 242.95,703.34 243.63,699.57 244.31,704.90 244.99,707.84 245.67,709.88 246.35,703.74 247.03,701.72 247.71,696.52 248.74,703.77 249.54,695.12 250.35,685.45 251.07,672.67 251.80,662.93 252.50,662.11 253.21,659.88 254.43,687.36 255.13,665.61 255.84,644.23 256.57,666.04 257.29,687.36 258.10,679.86 258.90,669.04 259.58,667.70 260.26,665.69 260.94,665.98 261.63,668.69 262.31,669.83 262.99,670.18 263.79,677.00 264.60,683.16 265.32,676.34 266.05,665.98 266.75,679.16 267.46,692.32 268.68,665.98 269.38,673.36 270.09,683.16 270.77,675.81 271.45,669.54 272.13,662.93 272.81,668.32 273.49,677.75 274.17,683.16 274.85,676.80 275.54,671.43 276.22,664.84 276.90,666.49 277.58,670.39 278.26,670.94 278.96,679.05 279.67,689.26 280.49,676.49 281.32,660.64 282.12,673.17 282.93,683.16 283.65,689.24 284.38,697.66 285.06,693.15 285.74,692.32 286.42,689.26 287.23,680.05 288.03,670.18 288.74,676.69 289.45,681.25 290.13,686.18 290.81,688.94 291.49,693.46 292.17,694.31 292.85,694.15 293.53,692.32 294.33,696.11 295.14,699.57 295.84,696.27 296.55,690.41 297.28,701.10 298.00,712.93 298.81,704.07 299.61,697.66 300.44,688.40 301.26,681.25 301.97,694.68 302.67,707.97 303.38,701.30 304.09,693.46 304.89,688.56 305.70,683.16 306.52,695.35 307.35,703.77 308.05,709.06 308.76,715.98 309.44,715.61 310.12,714.64 310.80,712.93 311.48,717.58 312.16,719.23 312.84,722.09 313.52,721.14 314.20,721.23 314.88,720.18 315.56,720.42 316.24,722.83 316.93,725.14 317.61,727.15 318.29,727.08 318.97,728.20 319.63,725.36 320.30,725.57 320.97,724.38 321.65,719.79 322.33,717.65 323.01,711.78 323.69,719.08 324.37,726.43 325.05,733.54 325.73,732.90 326.41,731.81 327.09,730.49 327.76,729.40 328.43,728.81 329.10,728.23 329.76,727.43 330.48,729.95 331.20,730.14 331.91,729.36 332.63,732.39 333.36,733.56 334.09,735.85 334.82,736.81 335.55,735.62 336.28,736.59 336.96,738.12 337.64,737.76 338.32,737.51 339.00,736.00 339.68,733.76 340.36,735.45 341.09,735.89 341.82,736.37 342.55,736.83 343.28,736.97 344.01,737.36" fill="none" stroke="#2b8a22" stroke-width="1.1" stroke-linejoin="round"/>
<rect x="209.40" y="624.00" width="137.40" height="114.50" fill="none" stroke="#2b2b2b" stroke-width="1.1"/>
<line x1="205.40" y1="738.50" x2="209.40" y2="738.50" stroke="#2b2b2b" stroke-width="1.1"/>
<text transform="translate(204.20 742.30) scale(1 1.03)" font-size="10.92" text-anchor="end" fill="#1a1a1a" stroke="#1a1a1a" stroke-width="0.15">0</text>
<line x1="205.40" y1="700.33" x2="209.40" y2="700.33" stroke="#2b2b2b" stroke-width="1.1"/>
<text transform="translate(204.20 704.13) scale(1 1.03)" font-size="10.92" text-anchor="end" fill="#1a1a1a" stroke="#1a1a1a" stroke-width="0.15">100</text>
<line x1="205.40" y1="662.17" x2="209.40" y2="662.17" stroke="#2b2b2b" stroke-width="1.1"/>
<text transform="translate(204.20 665.97) scale(1 1.03)" font-size="10.92" text-anchor="end" fill="#1a1a1a" stroke="#1a1a1a" stroke-width="0.15">200</text>
<line x1="205.40" y1="624.00" x2="209.40" y2="624.00" stroke="#2b2b2b" stroke-width="1.1"/>
<text transform="translate(204.20 627.80) scale(1 1.03)" font-size="10.92" text-anchor="end" fill="#1a1a1a" stroke="#1a1a1a" stroke-width="0.15">300</text>
<line x1="209.40" y1="738.50" x2="209.40" y2="742.30" stroke="#2b2b2b" stroke-width="1.1"/>
<text transform="translate(209.40 754.70) scale(1 1.03)" font-size="10.92" text-anchor="middle" fill="#1a1a1a" stroke="#1a1a1a" stroke-width="0.15">0</text>
<line x1="248.66" y1="738.50" x2="248.66" y2="742.30" stroke="#2b2b2b" stroke-width="1.1"/>
<text transform="translate(248.66 754.70) scale(1 1.03)" font-size="10.92" text-anchor="middle" fill="#1a1a1a" stroke="#1a1a1a" stroke-width="0.15">1000</text>
<line x1="287.91" y1="738.50" x2="287.91" y2="742.30" stroke="#2b2b2b" stroke-width="1.1"/>
<text transform="translate(287.91 754.70) scale(1 1.03)" font-size="10.92" text-anchor="middle" fill="#1a1a1a" stroke="#1a1a1a" stroke-width="0.15">2000</text>
<line x1="327.17" y1="738.50" x2="327.17" y2="742.30" stroke="#2b2b2b" stroke-width="1.1"/>
<text transform="translate(327.17 754.70) scale(1 1.03)" font-size="10.92" text-anchor="middle" fill="#1a1a1a" stroke="#1a1a1a" stroke-width="0.15">3000</text>
<line x1="229.03" y1="738.50" x2="229.03" y2="740.90" stroke="#2b2b2b" stroke-width="1.1"/>
<line x1="268.29" y1="738.50" x2="268.29" y2="740.90" stroke="#2b2b2b" stroke-width="1.1"/>
<line x1="307.54" y1="738.50" x2="307.54" y2="740.90" stroke="#2b2b2b" stroke-width="1.1"/>
<text transform="translate(278.10 770.30) scale(1 1.03)" font-size="11.54" text-anchor="middle" fill="#1a1a1a" stroke="#1a1a1a" stroke-width="0.15">Distance [nm]</text>
<text transform="translate(278.10 617.20) scale(1 1.03)" font-size="11.74" text-anchor="middle" fill="#1a1a1a" stroke="#1a1a1a" stroke-width="0.15">2×MIC</text>
<line x1="221.40" y1="633.20" x2="234.20" y2="633.20" stroke="#f21c1c" stroke-width="1.1"/>
<text transform="translate(241.10 636.70) scale(1 1.03)" font-size="10.09" text-anchor="start" fill="#1a1a1a" stroke="#1a1a1a" stroke-width="0.15">PI</text>
<line x1="277.60" y1="633.60" x2="290.00" y2="633.60" stroke="#2b8a22" stroke-width="1.1"/>
<text transform="translate(296.60 636.70) scale(1 1.03)" font-size="10.09" text-anchor="start" fill="#1a1a1a" stroke="#1a1a1a" stroke-width="0.15">SYTO-9</text>
<polyline points="378.00,728.20 378.70,726.70 379.39,724.49 380.09,723.04 380.77,723.20 381.46,727.40 382.14,729.34 382.81,730.64 383.48,731.61 384.15,733.35 384.83,735.17 385.52,734.06 386.20,734.49 386.88,731.23 387.57,727.81 388.25,726.48 388.93,725.66 389.62,722.03 390.30,718.46 391.13,720.62 391.96,719.03 392.67,720.77 393.38,725.33 394.09,723.02 394.80,722.47 395.60,729.43 396.41,732.20 397.24,721.98 398.07,716.17 398.78,713.19 399.49,714.46 400.22,710.60 400.95,708.16 401.76,709.63 402.56,712.16 403.39,698.56 404.22,681.82 404.93,692.06 405.64,697.85 406.35,700.30 407.06,703.00 407.89,700.44 408.71,693.85 409.52,690.68 410.33,684.68 411.16,691.59 411.99,696.13 412.70,693.99 413.41,687.55 414.12,693.44 414.83,699.00 415.85,689.84 416.92,663.50 417.94,681.82 418.67,692.69 419.40,703.00 420.62,661.78 421.33,669.09 422.04,679.53 422.77,681.45 423.50,683.54 424.31,668.87 425.12,655.49 425.95,663.50 426.77,671.52 427.68,655.60 428.59,641.17 429.40,656.54 430.20,671.52 431.03,686.85 431.86,700.14 432.77,673.53 433.67,651.48 434.50,660.37 435.33,673.81 436.55,696.13 437.48,675.11 438.40,657.21 439.11,672.57 439.82,689.84 440.63,680.66 441.44,669.80 442.27,677.91 443.10,683.54 443.81,675.63 444.52,665.79 445.34,672.63 446.17,675.52 446.88,682.61 447.59,692.13 448.42,685.43 449.25,677.82 449.96,668.21 450.67,661.78 451.38,657.15 452.09,651.48 452.91,655.39 453.74,663.50 454.55,676.22 455.36,692.13 456.19,683.25 457.01,669.80 457.92,683.15 458.83,693.85 459.56,669.35 460.29,648.62 461.10,666.22 461.90,683.54 462.71,686.49 463.52,693.85 464.35,683.15 465.18,671.52 466.10,681.49 467.03,687.55 467.74,678.08 468.45,669.80 469.28,682.55 470.11,697.85 470.91,683.16 471.72,666.37 472.55,683.14 473.38,696.13 474.30,688.60 475.23,679.53 475.94,688.28 476.65,701.29 477.32,692.95 477.99,688.72 478.66,680.98 479.33,672.66 480.04,684.51 480.75,692.70 481.58,702.44 482.41,708.16 483.22,702.79 484.02,700.14 484.73,709.63 485.44,716.17 486.17,707.31 486.90,699.00 488.12,709.88 488.85,716.41 489.58,722.47 490.29,720.17 491.00,715.03 491.81,717.69 492.62,722.47 493.30,725.50 493.99,724.48 494.67,726.48 495.34,730.91 496.01,732.18 496.68,734.49 497.36,732.75 498.05,729.44 498.73,725.33 499.41,726.80 500.10,731.19 500.78,736.21 501.60,734.24 502.41,728.72 503.23,727.62 503.89,731.09 504.55,732.40 505.21,732.44 505.87,736.21 506.64,735.42 507.40,737.75 508.17,733.54 508.94,735.64 509.71,736.38 510.48,735.60 511.25,732.67 512.02,733.35 512.70,735.09 513.38,736.19 514.07,736.21" fill="none" stroke="#2b8a22" stroke-width="1.1" stroke-linejoin="round"/>
<polyline points="378.00,737.36 382.34,737.36 383.13,735.64 383.91,737.36 386.44,737.36 387.23,735.64 388.01,737.36 397.71,737.36 398.46,734.49 399.21,737.36 401.78,737.36 402.56,734.49 403.35,737.36 424.33,737.36 425.12,732.20 425.91,737.36 433.52,737.36 434.30,735.64 435.09,737.36 440.65,737.36 441.44,733.35 442.23,737.36 457.01,737.36 457.80,734.49 458.59,737.36 459.07,737.36 459.85,733.35 460.64,737.36 464.15,737.36 464.94,733.35 465.73,737.36 481.62,737.36 482.41,735.64 483.20,737.36 486.74,737.36 487.53,732.20 488.32,737.36 490.84,737.36 491.63,733.35 492.42,737.36 497.59,737.36 498.38,734.49 499.16,737.36 514.42,737.36" fill="none" stroke="#f21c1c" stroke-width="1.1" stroke-linejoin="round"/>
<rect x="378.00" y="624.00" width="138.00" height="114.50" fill="none" stroke="#2b2b2b" stroke-width="1.1"/>
<line x1="374.00" y1="738.50" x2="378.00" y2="738.50" stroke="#2b2b2b" stroke-width="1.1"/>
<text transform="translate(372.80 742.30) scale(1 1.03)" font-size="10.92" text-anchor="end" fill="#1a1a1a" stroke="#1a1a1a" stroke-width="0.15">0</text>
<line x1="374.00" y1="709.88" x2="378.00" y2="709.88" stroke="#2b2b2b" stroke-width="1.1"/>
<text transform="translate(372.80 713.67) scale(1 1.03)" font-size="10.92" text-anchor="end" fill="#1a1a1a" stroke="#1a1a1a" stroke-width="0.15">50</text>
<line x1="374.00" y1="681.25" x2="378.00" y2="681.25" stroke="#2b2b2b" stroke-width="1.1"/>
<text transform="translate(372.80 685.05) scale(1 1.03)" font-size="10.92" text-anchor="end" fill="#1a1a1a" stroke="#1a1a1a" stroke-width="0.15">100</text>
<line x1="374.00" y1="652.62" x2="378.00" y2="652.62" stroke="#2b2b2b" stroke-width="1.1"/>
<text transform="translate(372.80 656.42) scale(1 1.03)" font-size="10.92" text-anchor="end" fill="#1a1a1a" stroke="#1a1a1a" stroke-width="0.15">150</text>
<line x1="374.00" y1="624.00" x2="378.00" y2="624.00" stroke="#2b2b2b" stroke-width="1.1"/>
<text transform="translate(372.80 627.80) scale(1 1.03)" font-size="10.92" text-anchor="end" fill="#1a1a1a" stroke="#1a1a1a" stroke-width="0.15">200</text>
<line x1="378.00" y1="738.50" x2="378.00" y2="742.30" stroke="#2b2b2b" stroke-width="1.1"/>
<text transform="translate(378.00 754.70) scale(1 1.03)" font-size="10.92" text-anchor="middle" fill="#1a1a1a" stroke="#1a1a1a" stroke-width="0.15">0</text>
<line x1="417.43" y1="738.50" x2="417.43" y2="742.30" stroke="#2b2b2b" stroke-width="1.1"/>
<text transform="translate(417.43 754.70) scale(1 1.03)" font-size="10.92" text-anchor="middle" fill="#1a1a1a" stroke="#1a1a1a" stroke-width="0.15">1000</text>
<line x1="456.86" y1="738.50" x2="456.86" y2="742.30" stroke="#2b2b2b" stroke-width="1.1"/>
<text transform="translate(456.86 754.70) scale(1 1.03)" font-size="10.92" text-anchor="middle" fill="#1a1a1a" stroke="#1a1a1a" stroke-width="0.15">2000</text>
<line x1="496.29" y1="738.50" x2="496.29" y2="742.30" stroke="#2b2b2b" stroke-width="1.1"/>
<text transform="translate(496.29 754.70) scale(1 1.03)" font-size="10.92" text-anchor="middle" fill="#1a1a1a" stroke="#1a1a1a" stroke-width="0.15">3000</text>
<line x1="397.71" y1="738.50" x2="397.71" y2="740.90" stroke="#2b2b2b" stroke-width="1.1"/>
<line x1="437.14" y1="738.50" x2="437.14" y2="740.90" stroke="#2b2b2b" stroke-width="1.1"/>
<line x1="476.57" y1="738.50" x2="476.57" y2="740.90" stroke="#2b2b2b" stroke-width="1.1"/>
<text transform="translate(447.00 770.30) scale(1 1.03)" font-size="11.54" text-anchor="middle" fill="#1a1a1a" stroke="#1a1a1a" stroke-width="0.15">Distance [nm]</text>
<text transform="translate(447.00 617.20) scale(1 1.03)" font-size="11.74" text-anchor="middle" fill="#1a1a1a" stroke="#1a1a1a" stroke-width="0.15">Control</text>
<line x1="390.00" y1="633.20" x2="402.80" y2="633.20" stroke="#f21c1c" stroke-width="1.1"/>
<text transform="translate(409.70 636.70) scale(1 1.03)" font-size="10.09" text-anchor="start" fill="#1a1a1a" stroke="#1a1a1a" stroke-width="0.15">PI</text>
<line x1="446.20" y1="633.60" x2="458.60" y2="633.60" stroke="#2b8a22" stroke-width="1.1"/>
<text transform="translate(465.20 636.70) scale(1 1.03)" font-size="10.09" text-anchor="start" fill="#1a1a1a" stroke="#1a1a1a" stroke-width="0.15">SYTO-9</text>
<rect x="597.50" y="482.71" width="12.0" height="78.49" fill="#fff" stroke="#ef7f89" stroke-width="1.25"/>
<line x1="603.50" y1="482.71" x2="603.50" y2="481.69" stroke="#ef7f89" stroke-width="1.1"/>
<line x1="601.50" y1="481.69" x2="605.50" y2="481.69" stroke="#ef7f89" stroke-width="1.1"/>
<circle cx="600.50" cy="481.86" r="1.75" fill="#ef7f89"/>
<circle cx="603.50" cy="483.57" r="1.75" fill="#ef7f89"/>
<circle cx="606.50" cy="481.17" r="1.75" fill="#ef7f89"/>
<rect x="616.50" y="493.14" width="12.0" height="68.06" fill="#fff" stroke="#6f93d2" stroke-width="1.25"/>
<line x1="622.50" y1="493.14" x2="622.50" y2="490.41" stroke="#6f93d2" stroke-width="1.1"/>
<line x1="620.50" y1="490.41" x2="624.50" y2="490.41" stroke="#6f93d2" stroke-width="1.1"/>
<circle cx="619.50" cy="492.46" r="1.75" fill="#6f93d2"/>
<circle cx="622.50" cy="494.51" r="1.75" fill="#6f93d2"/>
<circle cx="625.50" cy="489.38" r="1.75" fill="#6f93d2"/>
<rect x="635.30" y="509.73" width="12.0" height="51.47" fill="#fff" stroke="#3ea98f" stroke-width="1.25"/>
<line x1="641.30" y1="509.73" x2="641.30" y2="508.87" stroke="#3ea98f" stroke-width="1.1"/>
<line x1="639.30" y1="508.87" x2="643.30" y2="508.87" stroke="#3ea98f" stroke-width="1.1"/>
<circle cx="638.30" cy="508.87" r="1.75" fill="#3ea98f"/>
<circle cx="641.30" cy="509.90" r="1.75" fill="#3ea98f"/>
<circle cx="644.30" cy="509.39" r="1.75" fill="#3ea98f"/>
<rect x="654.40" y="540.34" width="12.0" height="20.86" fill="#fff" stroke="#a9a9a9" stroke-width="1.25"/>
<line x1="660.40" y1="540.34" x2="660.40" y2="540.06" stroke="#a9a9a9" stroke-width="1.1"/>
<line x1="658.40" y1="540.06" x2="662.40" y2="540.06" stroke="#a9a9a9" stroke-width="1.1"/>
<circle cx="657.40" cy="540.17" r="1.75" fill="#a9a9a9"/>
<circle cx="660.40" cy="540.34" r="1.75" fill="#a9a9a9"/>
<circle cx="663.40" cy="540.17" r="1.75" fill="#a9a9a9"/>
<text x="606.00" y="529.20" font-size="8.6" text-anchor="start" fill="#111" stroke="#111" stroke-width="0.2" transform="rotate(-90 606.0 529.2)"><tspan font-style="italic">P</tspan> < 0.0001</text>
<text x="625.90" y="542.20" font-size="8.6" text-anchor="start" fill="#111" stroke="#111" stroke-width="0.2" transform="rotate(-90 625.9 542.2)"><tspan font-style="italic">P</tspan> < 0.0001</text>
<text x="644.30" y="556.60" font-size="8.6" text-anchor="start" fill="#111" stroke="#111" stroke-width="0.2" transform="rotate(-90 644.3 556.6)"><tspan font-style="italic">P</tspan> < 0.0001</text>
<polyline points="603.0,464.8 603.0,461.8 641.6,461.8 641.6,464.8" fill="none" stroke="#6f93d2" stroke-width="1.1"/>
<text x="622.80" y="459.80" font-size="8.7" text-anchor="middle" fill="#6f93d2" stroke="#6f93d2" stroke-width="0.2"><tspan font-style="italic">P</tspan> < 0.0001</text>
<polyline points="602.4,476.6 602.4,473.6 622.9,473.6 622.9,476.6" fill="none" stroke="#ef7f89" stroke-width="1.1"/>
<text x="613.70" y="471.60" font-size="8.7" text-anchor="middle" fill="#ef7f89" stroke="#ef7f89" stroke-width="0.2"><tspan font-style="italic">P</tspan> = 0.0086</text>
<polyline points="622.3,486.4 622.3,483.4 642.7,483.4 642.7,486.4" fill="none" stroke="#3ea98f" stroke-width="1.1"/>
<text x="645.50" y="481.90" font-size="8.7" text-anchor="middle" fill="#3ea98f" stroke="#3ea98f" stroke-width="0.2"><tspan font-style="italic">P</tspan> = 0.0011</text>
<line x1="590.50" y1="561.20" x2="674.00" y2="561.20" stroke="#2b2b2b" stroke-width="1.1"/>
<line x1="590.50" y1="561.20" x2="590.50" y2="458.10" stroke="#2b2b2b" stroke-width="1.1"/>
<line x1="587.20" y1="561.20" x2="590.50" y2="561.20" stroke="#2b2b2b" stroke-width="1.1"/>
<text transform="translate(584.90 565.10) scale(1 1.03)" font-size="11.23" text-anchor="end" fill="#1a1a1a" stroke="#1a1a1a" stroke-width="0.15">0</text>
<line x1="587.20" y1="527.00" x2="590.50" y2="527.00" stroke="#2b2b2b" stroke-width="1.1"/>
<text transform="translate(584.90 530.90) scale(1 1.03)" font-size="11.23" text-anchor="end" fill="#1a1a1a" stroke="#1a1a1a" stroke-width="0.15">10000</text>
<line x1="587.20" y1="492.80" x2="590.50" y2="492.80" stroke="#2b2b2b" stroke-width="1.1"/>
<text transform="translate(584.90 496.70) scale(1 1.03)" font-size="11.23" text-anchor="end" fill="#1a1a1a" stroke="#1a1a1a" stroke-width="0.15">20000</text>
<line x1="587.20" y1="458.60" x2="590.50" y2="458.60" stroke="#2b2b2b" stroke-width="1.1"/>
<text transform="translate(584.90 462.50) scale(1 1.03)" font-size="11.23" text-anchor="end" fill="#1a1a1a" stroke="#1a1a1a" stroke-width="0.15">30000</text>
<line x1="603.50" y1="561.20" x2="603.50" y2="565.20" stroke="#2b2b2b" stroke-width="1.1"/>
<text transform="translate(606.90 573.50) rotate(-45) scale(1 1.03)" font-size="11.54" text-anchor="end" fill="#1a1a1a" stroke="#1a1a1a" stroke-width="0.15">4×MIC</text>
<line x1="622.50" y1="561.20" x2="622.50" y2="565.20" stroke="#2b2b2b" stroke-width="1.1"/>
<text transform="translate(625.90 573.50) rotate(-45) scale(1 1.03)" font-size="11.54" text-anchor="end" fill="#1a1a1a" stroke="#1a1a1a" stroke-width="0.15">2×MIC</text>
<line x1="641.30" y1="561.20" x2="641.30" y2="565.20" stroke="#2b2b2b" stroke-width="1.1"/>
<text transform="translate(644.70 573.50) rotate(-45) scale(1 1.03)" font-size="11.54" text-anchor="end" fill="#1a1a1a" stroke="#1a1a1a" stroke-width="0.15">1×MIC</text>
<line x1="660.40" y1="561.20" x2="660.40" y2="565.20" stroke="#2b2b2b" stroke-width="1.1"/>
<text transform="translate(663.80 573.50) rotate(-45) scale(1 1.03)" font-size="11.54" text-anchor="end" fill="#1a1a1a" stroke="#1a1a1a" stroke-width="0.15">Control</text>
<text transform="translate(530.20 434.90) scale(1 1.03)" font-size="17.51" text-anchor="start" font-weight="bold" fill="#000" stroke="#000" stroke-width="0.15">i</text>
<text transform="translate(539.40 507.70) rotate(-90) scale(1 1.03)" font-size="11.23" text-anchor="middle" fill="#1a1a1a" stroke="#1a1a1a" stroke-width="0.15">Fluorescence intensity</text>
<text transform="translate(551.60 507.70) rotate(-90) scale(1 1.03)" font-size="11.23" text-anchor="middle" fill="#1a1a1a" stroke="#1a1a1a" stroke-width="0.15">(a.u.)</text>
<rect x="598.30" y="663.02" width="12.0" height="73.88" fill="#fff" stroke="#ef7f89" stroke-width="1.25"/>
<line x1="604.30" y1="663.02" x2="604.30" y2="662.01" stroke="#ef7f89" stroke-width="1.1"/>
<line x1="602.30" y1="662.01" x2="606.30" y2="662.01" stroke="#ef7f89" stroke-width="1.1"/>
<circle cx="601.30" cy="664.04" r="1.75" fill="#ef7f89"/>
<circle cx="604.30" cy="662.69" r="1.75" fill="#ef7f89"/>
<circle cx="607.30" cy="662.01" r="1.75" fill="#ef7f89"/>
<rect x="617.40" y="664.37" width="12.0" height="72.53" fill="#fff" stroke="#6f93d2" stroke-width="1.25"/>
<line x1="623.40" y1="664.37" x2="623.40" y2="663.02" stroke="#6f93d2" stroke-width="1.1"/>
<line x1="621.40" y1="663.02" x2="625.40" y2="663.02" stroke="#6f93d2" stroke-width="1.1"/>
<circle cx="620.40" cy="665.39" r="1.75" fill="#6f93d2"/>
<circle cx="623.40" cy="663.36" r="1.75" fill="#6f93d2"/>
<circle cx="626.40" cy="664.71" r="1.75" fill="#6f93d2"/>
<rect x="635.80" y="692.37" width="12.0" height="44.53" fill="#fff" stroke="#3ea98f" stroke-width="1.25"/>
<line x1="641.80" y1="692.37" x2="641.80" y2="690.35" stroke="#3ea98f" stroke-width="1.1"/>
<line x1="639.80" y1="690.35" x2="643.80" y2="690.35" stroke="#3ea98f" stroke-width="1.1"/>
<circle cx="638.80" cy="692.37" r="1.75" fill="#3ea98f"/>
<circle cx="641.80" cy="691.70" r="1.75" fill="#3ea98f"/>
<circle cx="644.80" cy="693.05" r="1.75" fill="#3ea98f"/>
<rect x="654.60" y="703.84" width="12.0" height="33.06" fill="#fff" stroke="#a9a9a9" stroke-width="1.25"/>
<line x1="660.60" y1="703.84" x2="660.60" y2="701.82" stroke="#a9a9a9" stroke-width="1.1"/>
<line x1="658.60" y1="701.82" x2="662.60" y2="701.82" stroke="#a9a9a9" stroke-width="1.1"/>
<circle cx="657.60" cy="701.82" r="1.75" fill="#a9a9a9"/>
<circle cx="660.60" cy="705.19" r="1.75" fill="#a9a9a9"/>
<circle cx="663.60" cy="703.84" r="1.75" fill="#a9a9a9"/>
<text x="607.50" y="719.50" font-size="8.6" text-anchor="start" fill="#111" stroke="#111" stroke-width="0.2" transform="rotate(-90 607.5 719.5)"><tspan font-style="italic">P</tspan> < 0.0001</text>
<text x="626.50" y="720.00" font-size="8.6" text-anchor="start" fill="#111" stroke="#111" stroke-width="0.2" transform="rotate(-90 626.5 720.0)"><tspan font-style="italic">P</tspan> < 0.0001</text>
<text x="644.80" y="737.00" font-size="8.6" text-anchor="start" fill="#111" stroke="#111" stroke-width="0.2" transform="rotate(-90 644.8 737.0)"><tspan font-style="italic">P</tspan>=0.0254</text>
<polyline points="605.3,643.4 605.3,640.4 642.7,640.4 642.7,643.4" fill="none" stroke="#6f93d2" stroke-width="1.1"/>
<text x="624.30" y="637.70" font-size="8.7" text-anchor="middle" fill="#6f93d2" stroke="#6f93d2" stroke-width="0.2"><tspan font-style="italic">P</tspan>=0.0002</text>
<polyline points="605.3,655.2 605.3,652.2 623.7,652.2 623.7,655.2" fill="none" stroke="#ef7f89" stroke-width="1.1"/>
<text x="614.00" y="650.10" font-size="8.7" text-anchor="middle" fill="#ef7f89" stroke="#ef7f89" stroke-width="0.2"><tspan font-style="italic">P</tspan>=0.1920</text>
<polyline points="623.3,661.0 623.3,658.0 642.7,658.0 642.7,661.0" fill="none" stroke="#3ea98f" stroke-width="1.1"/>
<text x="649.50" y="656.80" font-size="8.7" text-anchor="middle" fill="#3ea98f" stroke="#3ea98f" stroke-width="0.2"><tspan font-style="italic">P</tspan>=0.0002</text>
<line x1="591.80" y1="736.90" x2="674.00" y2="736.90" stroke="#2b2b2b" stroke-width="1.1"/>
<line x1="591.80" y1="736.90" x2="591.80" y2="635.20" stroke="#2b2b2b" stroke-width="1.1"/>
<line x1="588.50" y1="736.90" x2="591.80" y2="736.90" stroke="#2b2b2b" stroke-width="1.1"/>
<text transform="translate(586.20 740.80) scale(1 1.03)" font-size="11.23" text-anchor="end" fill="#1a1a1a" stroke="#1a1a1a" stroke-width="0.15">0</text>
<line x1="588.50" y1="703.17" x2="591.80" y2="703.17" stroke="#2b2b2b" stroke-width="1.1"/>
<text transform="translate(586.20 707.07) scale(1 1.03)" font-size="11.23" text-anchor="end" fill="#1a1a1a" stroke="#1a1a1a" stroke-width="0.15">5000</text>
<line x1="588.50" y1="669.43" x2="591.80" y2="669.43" stroke="#2b2b2b" stroke-width="1.1"/>
<text transform="translate(586.20 673.33) scale(1 1.03)" font-size="11.23" text-anchor="end" fill="#1a1a1a" stroke="#1a1a1a" stroke-width="0.15">10000</text>
<line x1="588.50" y1="635.70" x2="591.80" y2="635.70" stroke="#2b2b2b" stroke-width="1.1"/>
<text transform="translate(586.20 639.60) scale(1 1.03)" font-size="11.23" text-anchor="end" fill="#1a1a1a" stroke="#1a1a1a" stroke-width="0.15">15000</text>
<line x1="604.30" y1="736.90" x2="604.30" y2="740.90" stroke="#2b2b2b" stroke-width="1.1"/>
<text transform="translate(607.70 749.20) rotate(-45) scale(1 1.03)" font-size="11.54" text-anchor="end" fill="#1a1a1a" stroke="#1a1a1a" stroke-width="0.15">4×MIC</text>
<line x1="623.40" y1="736.90" x2="623.40" y2="740.90" stroke="#2b2b2b" stroke-width="1.1"/>
<text transform="translate(626.80 749.20) rotate(-45) scale(1 1.03)" font-size="11.54" text-anchor="end" fill="#1a1a1a" stroke="#1a1a1a" stroke-width="0.15">2×MIC</text>
<line x1="641.80" y1="736.90" x2="641.80" y2="740.90" stroke="#2b2b2b" stroke-width="1.1"/>
<text transform="translate(645.20 749.20) rotate(-45) scale(1 1.03)" font-size="11.54" text-anchor="end" fill="#1a1a1a" stroke="#1a1a1a" stroke-width="0.15">1×MIC</text>
<line x1="660.60" y1="736.90" x2="660.60" y2="740.90" stroke="#2b2b2b" stroke-width="1.1"/>
<text transform="translate(664.00 749.20) rotate(-45) scale(1 1.03)" font-size="11.54" text-anchor="end" fill="#1a1a1a" stroke="#1a1a1a" stroke-width="0.15">Control</text>
<text transform="translate(530.00 614.50) scale(1 1.03)" font-size="17.51" text-anchor="start" font-weight="bold" fill="#000" stroke="#000" stroke-width="0.15">j</text>
<text transform="translate(540.40 684.10) rotate(-90) scale(1 1.03)" font-size="11.23" text-anchor="middle" fill="#1a1a1a" stroke="#1a1a1a" stroke-width="0.15">Fluorescence intensity</text>
<text transform="translate(552.60 684.10) rotate(-90) scale(1 1.03)" font-size="11.23" text-anchor="middle" fill="#1a1a1a" stroke="#1a1a1a" stroke-width="0.15">(a.u.)</text>
<defs>
<radialGradient id="cg1" cx="0.5" cy="0.5" r="0.52" fx="0.4" fy="0.36"><stop offset="0" stop-color="#c4c4c4"/><stop offset="0.55" stop-color="#b0b0b0"/><stop offset="0.85" stop-color="#a2a2a2"/><stop offset="0.95" stop-color="#c2c2c2"/><stop offset="1" stop-color="#8a8a8a"/></radialGradient>
<radialGradient id="cg2" cx="0.5" cy="0.5" r="0.52" fx="0.36" fy="0.32"><stop offset="0" stop-color="#b4b4b4"/><stop offset="0.5" stop-color="#979797"/><stop offset="0.82" stop-color="#7e7e7e"/><stop offset="0.93" stop-color="#b0b0b0"/><stop offset="1" stop-color="#6a6a6a"/></radialGradient>
<radialGradient id="cg3" cx="0.5" cy="0.5" r="0.52" fx="0.4" fy="0.36"><stop offset="0" stop-color="#b2b2b2"/><stop offset="0.6" stop-color="#a0a0a0"/><stop offset="0.88" stop-color="#929292"/><stop offset="0.96" stop-color="#b4b4b4"/><stop offset="1" stop-color="#7a7a7a"/></radialGradient>
<radialGradient id="shd" cx="0.5" cy="0.5" r="0.5"><stop offset="0.6" stop-color="#000" stop-opacity="0.55"/><stop offset="1" stop-color="#000" stop-opacity="0"/></radialGradient>
<linearGradient id="rg1" x1="0" y1="0" x2="0" y2="1"><stop offset="0" stop-color="#d2d2d2"/><stop offset="0.2" stop-color="#b0b0b0"/><stop offset="0.6" stop-color="#9c9c9c"/><stop offset="0.9" stop-color="#8a8a8a"/><stop offset="1" stop-color="#6c6c6c"/></linearGradient>
<linearGradient id="rg2" x1="0" y1="0" x2="0" y2="1"><stop offset="0" stop-color="#bdbdbd"/><stop offset="0.25" stop-color="#9e9e9e"/><stop offset="0.7" stop-color="#8c8c8c"/><stop offset="1" stop-color="#666"/></linearGradient>
<linearGradient id="rg3" x1="0" y1="0" x2="0" y2="1"><stop offset="0" stop-color="#b4b4b4"/><stop offset="0.18" stop-color="#8a8a8a"/><stop offset="0.7" stop-color="#747474"/><stop offset="1" stop-color="#5a5a5a"/></linearGradient>
<linearGradient id="rg4" x1="0" y1="0" x2="0" y2="1"><stop offset="0" stop-color="#c8c8c8"/><stop offset="0.12" stop-color="#989898"/><stop offset="0.55" stop-color="#868686"/><stop offset="0.9" stop-color="#7c7c7c"/><stop offset="1" stop-color="#9a9a9a"/></linearGradient>
<linearGradient id="rg5" x1="0" y1="0" x2="0" y2="1"><stop offset="0" stop-color="#e2e2e2"/><stop offset="0.13" stop-color="#bcbcbc"/><stop offset="0.5" stop-color="#a2a2a2"/><stop offset="0.85" stop-color="#9a9a9a"/><stop offset="1" stop-color="#c8c8c8"/></linearGradient>
<filter id="sb" x="-10%" y="-10%" width="120%" height="120%"><feGaussianBlur stdDeviation="0.6"/></filter>
<filter id="sb1" x="-30%" y="-30%" width="160%" height="160%"><feGaussianBlur stdDeviation="1.0"/></filter><filter id="sb2" x="-30%" y="-30%" width="160%" height="160%"><feGaussianBlur stdDeviation="1.6"/></filter>
<filter id="semn" x="0" y="0" width="100%" height="100%" color-interpolation-filters="sRGB"><feTurbulence type="fractalNoise" baseFrequency="0.45" numOctaves="2" seed="5"/><feColorMatrix type="matrix" values="0.33 0.33 0.33 0 0  0.33 0.33 0.33 0 0  0.33 0.33 0.33 0 0  0 0 0 0 1"/></filter>
</defs>
<text transform="translate(6.00 791.50) scale(1 1.03)" font-size="17.51" text-anchor="start" font-weight="bold" fill="#000" stroke="#000" stroke-width="0.15">k</text>
<text transform="translate(69.65 799.20) scale(1 1.03)" font-size="11.95" text-anchor="middle" font-weight="bold" fill="#111" stroke="#111" stroke-width="0.15">4×MIC</text>
<text transform="translate(176.25 799.20) scale(1 1.03)" font-size="11.95" text-anchor="middle" font-weight="bold" fill="#111" stroke="#111" stroke-width="0.15">2×MIC</text>
<text transform="translate(283.05 799.20) scale(1 1.03)" font-size="11.95" text-anchor="middle" font-weight="bold" fill="#111" stroke="#111" stroke-width="0.15">Control</text>
<clipPath id="cpk1t"><rect x="17.00" y="804.50" width="105.3" height="75.2"/></clipPath>
<g clip-path="url(#cpk1t)">
<rect x="17.00" y="804.50" width="105.3" height="75.2" fill="#4a4a4a"/>
<g transform="translate(17.00,804.50)" filter="url(#sb)"><ellipse cx="57" cy="6" rx="11" ry="8" fill="#161616" filter="url(#sb2)"/><ellipse cx="4" cy="52" rx="6" ry="12" fill="#1c1c1c" filter="url(#sb2)"/><ellipse cx="33" cy="52" rx="6" ry="8" fill="#000" filter="url(#sb2)"/><ellipse cx="26" cy="60" rx="8" ry="6" fill="#101010" filter="url(#sb2)"/><ellipse cx="100" cy="30" rx="4" ry="8" fill="#2a2a2a" filter="url(#sb2)"/><ellipse cx="86" cy="68" rx="10" ry="4" fill="#333" filter="url(#sb2)"/><ellipse cx="0.39999999999999997" cy="3.1999999999999997" rx="6.07" ry="4.83" fill="url(#shd)" transform="rotate(108 0.39999999999999997 3.1999999999999997)"/><ellipse cx="-0.2" cy="2.3" rx="4.86" ry="3.86" fill="url(#cg2)" transform="rotate(108 -0.2 2.3)"/><ellipse cx="8.2" cy="2.9" rx="5.76" ry="4.83" fill="url(#shd)" transform="rotate(1 8.2 2.9)"/><ellipse cx="7.6" cy="2.0" rx="4.61" ry="3.87" fill="url(#cg2)" transform="rotate(1 7.6 2.0)"/><ellipse cx="14.6" cy="3.0" rx="4.16" ry="4.89" fill="url(#shd)" transform="rotate(96 14.6 3.0)"/><ellipse cx="14.0" cy="2.1" rx="3.33" ry="3.91" fill="url(#cg2)" transform="rotate(96 14.0 2.1)"/><ellipse cx="25.5" cy="0.9" rx="5.07" ry="5.52" fill="url(#shd)" transform="rotate(167 25.5 0.9)"/><ellipse cx="24.9" cy="-0.0" rx="4.06" ry="4.42" fill="url(#cg2)" transform="rotate(167 24.9 -0.0)"/><ellipse cx="29.8" cy="4.4" rx="5.73" ry="4.20" fill="url(#shd)" transform="rotate(157 29.8 4.4)"/><ellipse cx="29.2" cy="3.5" rx="4.58" ry="3.36" fill="url(#cg2)" transform="rotate(157 29.2 3.5)"/><ellipse cx="37.300000000000004" cy="5.300000000000001" rx="5.39" ry="6.14" fill="url(#shd)" transform="rotate(168 37.300000000000004 5.300000000000001)"/><ellipse cx="36.7" cy="4.4" rx="4.31" ry="4.91" fill="url(#cg2)" transform="rotate(168 36.7 4.4)"/><ellipse cx="70.6" cy="2.6" rx="4.99" ry="5.27" fill="url(#shd)" transform="rotate(175 70.6 2.6)"/><ellipse cx="70.0" cy="1.7" rx="3.99" ry="4.21" fill="url(#cg2)" transform="rotate(175 70.0 1.7)"/><ellipse cx="78.69999999999999" cy="3.6" rx="4.30" ry="3.90" fill="url(#shd)" transform="rotate(79 78.69999999999999 3.6)"/><ellipse cx="78.1" cy="2.7" rx="3.44" ry="3.12" fill="url(#cg2)" transform="rotate(79 78.1 2.7)"/><ellipse cx="87.19999999999999" cy="2.7" rx="4.76" ry="4.79" fill="url(#shd)" transform="rotate(177 87.19999999999999 2.7)"/><ellipse cx="86.6" cy="1.8" rx="3.81" ry="3.84" fill="url(#cg2)" transform="rotate(177 86.6 1.8)"/><ellipse cx="96.69999999999999" cy="5.4" rx="5.43" ry="5.70" fill="url(#shd)" transform="rotate(160 96.69999999999999 5.4)"/><ellipse cx="96.1" cy="4.5" rx="4.35" ry="4.56" fill="url(#cg2)" transform="rotate(160 96.1 4.5)"/><ellipse cx="103.0" cy="2.0" rx="5.22" ry="3.65" fill="url(#shd)" transform="rotate(113 103.0 2.0)"/><ellipse cx="102.4" cy="1.1" rx="4.18" ry="2.92" fill="url(#cg2)" transform="rotate(113 102.4 1.1)"/><ellipse cx="3.4" cy="8.4" rx="4.96" ry="5.89" fill="url(#shd)" transform="rotate(64 3.4 8.4)"/><ellipse cx="2.8" cy="7.5" rx="3.97" ry="4.71" fill="url(#cg2)" transform="rotate(64 2.8 7.5)"/><ellipse cx="11.799999999999999" cy="12.200000000000001" rx="4.23" ry="4.74" fill="url(#shd)" transform="rotate(56 11.799999999999999 12.200000000000001)"/><ellipse cx="11.2" cy="11.3" rx="3.39" ry="3.80" fill="url(#cg2)" transform="rotate(56 11.2 11.3)"/><ellipse cx="22.400000000000002" cy="12.200000000000001" rx="3.49" ry="4.88" fill="url(#shd)" transform="rotate(110 22.400000000000002 12.200000000000001)"/><ellipse cx="21.8" cy="11.3" rx="2.79" ry="3.90" fill="url(#cg2)" transform="rotate(110 21.8 11.3)"/><ellipse cx="26.400000000000002" cy="12.6" rx="4.15" ry="5.57" fill="url(#shd)" transform="rotate(109 26.400000000000002 12.6)"/><ellipse cx="25.8" cy="11.7" rx="3.32" ry="4.46" fill="url(#cg2)" transform="rotate(109 25.8 11.7)"/><ellipse cx="38.1" cy="10.0" rx="4.24" ry="3.60" fill="url(#shd)" transform="rotate(145 38.1 10.0)"/><ellipse cx="37.5" cy="9.1" rx="3.39" ry="2.88" fill="url(#cg2)" transform="rotate(145 37.5 9.1)"/><ellipse cx="44.1" cy="11.9" rx="4.19" ry="5.31" fill="url(#shd)" transform="rotate(54 44.1 11.9)"/><ellipse cx="43.5" cy="11.0" rx="3.35" ry="4.25" fill="url(#cg2)" transform="rotate(54 43.5 11.0)"/><ellipse cx="73.1" cy="10.8" rx="4.14" ry="4.35" fill="url(#shd)" transform="rotate(157 73.1 10.8)"/><ellipse cx="72.5" cy="9.9" rx="3.31" ry="3.48" fill="url(#cg2)" transform="rotate(157 72.5 9.9)"/><ellipse cx="81.0" cy="11.700000000000001" rx="4.53" ry="4.52" fill="url(#shd)" transform="rotate(44 81.0 11.700000000000001)"/><ellipse cx="80.4" cy="10.8" rx="3.63" ry="3.62" fill="url(#cg2)" transform="rotate(44 80.4 10.8)"/><ellipse cx="91.0" cy="8.6" rx="4.60" ry="5.43" fill="url(#shd)" transform="rotate(47 91.0 8.6)"/><ellipse cx="90.4" cy="7.7" rx="3.68" ry="4.34" fill="url(#cg2)" transform="rotate(47 90.4 7.7)"/><ellipse cx="96.69999999999999" cy="9.3" rx="6.31" ry="4.59" fill="url(#shd)" transform="rotate(102 96.69999999999999 9.3)"/><ellipse cx="96.1" cy="8.4" rx="5.05" ry="3.67" fill="url(#cg2)" transform="rotate(102 96.1 8.4)"/><ellipse cx="107.39999999999999" cy="9.5" rx="4.82" ry="6.34" fill="url(#shd)" transform="rotate(116 107.39999999999999 9.5)"/><ellipse cx="106.8" cy="8.6" rx="3.85" ry="5.08" fill="url(#cg2)" transform="rotate(116 106.8 8.6)"/><ellipse cx="-0.7999999999999999" cy="17.599999999999998" rx="5.96" ry="5.70" fill="url(#shd)" transform="rotate(21 -0.7999999999999999 17.599999999999998)"/><ellipse cx="-1.4" cy="16.7" rx="4.77" ry="4.56" fill="url(#cg2)" transform="rotate(21 -1.4 16.7)"/><ellipse cx="9.1" cy="16.099999999999998" rx="6.37" ry="6.16" fill="url(#shd)" transform="rotate(111 9.1 16.099999999999998)"/><ellipse cx="8.5" cy="15.2" rx="5.10" ry="4.93" fill="url(#cg2)" transform="rotate(111 8.5 15.2)"/><ellipse cx="14.799999999999999" cy="16.9" rx="5.03" ry="5.27" fill="url(#shd)" transform="rotate(14 14.799999999999999 16.9)"/><ellipse cx="14.2" cy="16.0" rx="4.02" ry="4.22" fill="url(#cg2)" transform="rotate(14 14.2 16.0)"/><ellipse cx="23.1" cy="17.099999999999998" rx="3.55" ry="4.88" fill="url(#shd)" transform="rotate(3 23.1 17.099999999999998)"/><ellipse cx="22.5" cy="16.2" rx="2.84" ry="3.90" fill="url(#cg2)" transform="rotate(3 22.5 16.2)"/><ellipse cx="29.8" cy="18.5" rx="5.01" ry="5.01" fill="url(#shd)" transform="rotate(127 29.8 18.5)"/><ellipse cx="29.2" cy="17.6" rx="4.01" ry="4.01" fill="url(#cg2)" transform="rotate(127 29.2 17.6)"/><ellipse cx="40.1" cy="17.5" rx="5.12" ry="4.15" fill="url(#shd)" transform="rotate(63 40.1 17.5)"/><ellipse cx="39.5" cy="16.6" rx="4.09" ry="3.32" fill="url(#cg2)" transform="rotate(63 39.5 16.6)"/><ellipse cx="49.7" cy="18.0" rx="4.64" ry="5.06" fill="url(#shd)" transform="rotate(125 49.7 18.0)"/><ellipse cx="49.1" cy="17.1" rx="3.72" ry="4.05" fill="url(#cg2)" transform="rotate(125 49.1 17.1)"/><ellipse cx="57.0" cy="16.5" rx="5.01" ry="4.02" fill="url(#shd)" transform="rotate(137 57.0 16.5)"/><ellipse cx="56.4" cy="15.6" rx="4.01" ry="3.21" fill="url(#cg2)" transform="rotate(137 56.4 15.6)"/><ellipse cx="65.0" cy="19.7" rx="4.11" ry="4.70" fill="url(#shd)" transform="rotate(31 65.0 19.7)"/><ellipse cx="64.4" cy="18.8" rx="3.29" ry="3.76" fill="url(#cg2)" transform="rotate(31 64.4 18.8)"/><ellipse cx="69.19999999999999" cy="19.299999999999997" rx="5.31" ry="6.28" fill="url(#shd)" transform="rotate(113 69.19999999999999 19.299999999999997)"/><ellipse cx="68.6" cy="18.4" rx="4.25" ry="5.03" fill="url(#cg2)" transform="rotate(113 68.6 18.4)"/><ellipse cx="77.1" cy="20.4" rx="5.21" ry="4.52" fill="url(#shd)" transform="rotate(94 77.1 20.4)"/><ellipse cx="76.5" cy="19.5" rx="4.17" ry="3.62" fill="url(#cg2)" transform="rotate(94 76.5 19.5)"/><ellipse cx="86.89999999999999" cy="17.7" rx="5.18" ry="4.03" fill="url(#shd)" transform="rotate(9 86.89999999999999 17.7)"/><ellipse cx="86.3" cy="16.8" rx="4.15" ry="3.23" fill="url(#cg2)" transform="rotate(9 86.3 16.8)"/><ellipse cx="91.89999999999999" cy="20.4" rx="5.00" ry="5.30" fill="url(#shd)" transform="rotate(146 91.89999999999999 20.4)"/><ellipse cx="91.3" cy="19.5" rx="4.00" ry="4.24" fill="url(#cg2)" transform="rotate(146 91.3 19.5)"/><ellipse cx="103.0" cy="16.9" rx="4.32" ry="4.68" fill="url(#shd)" transform="rotate(152 103.0 16.9)"/><ellipse cx="102.4" cy="16.0" rx="3.45" ry="3.75" fill="url(#cg2)" transform="rotate(152 102.4 16.0)"/><ellipse cx="5.0" cy="24.7" rx="3.92" ry="4.78" fill="url(#shd)" transform="rotate(77 5.0 24.7)"/><ellipse cx="4.4" cy="23.8" rx="3.13" ry="3.82" fill="url(#cg2)" transform="rotate(77 4.4 23.8)"/><ellipse cx="13.4" cy="23.5" rx="4.86" ry="4.29" fill="url(#shd)" transform="rotate(110 13.4 23.5)"/><ellipse cx="12.8" cy="22.6" rx="3.89" ry="3.43" fill="url(#cg2)" transform="rotate(110 12.8 22.6)"/><ellipse cx="20.400000000000002" cy="27.5" rx="4.72" ry="4.66" fill="url(#shd)" transform="rotate(11 20.400000000000002 27.5)"/><ellipse cx="19.8" cy="26.6" rx="3.78" ry="3.73" fill="url(#cg2)" transform="rotate(11 19.8 26.6)"/><ellipse cx="26.8" cy="27.799999999999997" rx="4.96" ry="4.84" fill="url(#shd)" transform="rotate(157 26.8 27.799999999999997)"/><ellipse cx="26.2" cy="26.9" rx="3.97" ry="3.87" fill="url(#cg2)" transform="rotate(157 26.2 26.9)"/><ellipse cx="33.300000000000004" cy="24.5" rx="5.24" ry="4.05" fill="url(#shd)" transform="rotate(147 33.300000000000004 24.5)"/><ellipse cx="32.7" cy="23.6" rx="4.19" ry="3.24" fill="url(#cg2)" transform="rotate(147 32.7 23.6)"/><ellipse cx="41.300000000000004" cy="24.099999999999998" rx="4.73" ry="3.99" fill="url(#shd)" transform="rotate(31 41.300000000000004 24.099999999999998)"/><ellipse cx="40.7" cy="23.2" rx="3.78" ry="3.19" fill="url(#cg2)" transform="rotate(31 40.7 23.2)"/><ellipse cx="51.7" cy="23.9" rx="4.23" ry="4.83" fill="url(#shd)" transform="rotate(86 51.7 23.9)"/><ellipse cx="51.1" cy="23.0" rx="3.39" ry="3.86" fill="url(#cg2)" transform="rotate(86 51.1 23.0)"/><ellipse cx="61.1" cy="28.099999999999998" rx="4.49" ry="4.51" fill="url(#shd)" transform="rotate(97 61.1 28.099999999999998)"/><ellipse cx="60.5" cy="27.2" rx="3.60" ry="3.61" fill="url(#cg2)" transform="rotate(97 60.5 27.2)"/><ellipse cx="67.89999999999999" cy="26.099999999999998" rx="4.34" ry="3.91" fill="url(#shd)" transform="rotate(93 67.89999999999999 26.099999999999998)"/><ellipse cx="67.3" cy="25.2" rx="3.47" ry="3.13" fill="url(#cg2)" transform="rotate(93 67.3 25.2)"/><ellipse cx="72.39999999999999" cy="23.299999999999997" rx="5.74" ry="6.43" fill="url(#shd)" transform="rotate(5 72.39999999999999 23.299999999999997)"/><ellipse cx="71.8" cy="22.4" rx="4.60" ry="5.15" fill="url(#cg2)" transform="rotate(5 71.8 22.4)"/><ellipse cx="83.5" cy="28.0" rx="3.95" ry="3.56" fill="url(#shd)" transform="rotate(7 83.5 28.0)"/><ellipse cx="82.9" cy="27.1" rx="3.16" ry="2.85" fill="url(#cg2)" transform="rotate(7 82.9 27.1)"/><ellipse cx="91.0" cy="25.599999999999998" rx="4.99" ry="4.23" fill="url(#shd)" transform="rotate(36 91.0 25.599999999999998)"/><ellipse cx="90.4" cy="24.7" rx="3.99" ry="3.38" fill="url(#cg2)" transform="rotate(36 90.4 24.7)"/><ellipse cx="97.19999999999999" cy="28.2" rx="4.44" ry="3.76" fill="url(#shd)" transform="rotate(79 97.19999999999999 28.2)"/><ellipse cx="96.6" cy="27.3" rx="3.55" ry="3.01" fill="url(#cg2)" transform="rotate(79 96.6 27.3)"/><ellipse cx="106.1" cy="26.9" rx="4.59" ry="6.07" fill="url(#shd)" transform="rotate(90 106.1 26.9)"/><ellipse cx="105.5" cy="26.0" rx="3.67" ry="4.85" fill="url(#cg2)" transform="rotate(90 105.5 26.0)"/><ellipse cx="1.7999999999999998" cy="34.3" rx="5.15" ry="5.29" fill="url(#shd)" transform="rotate(7 1.7999999999999998 34.3)"/><ellipse cx="1.2" cy="33.4" rx="4.12" ry="4.23" fill="url(#cg2)" transform="rotate(7 1.2 33.4)"/><ellipse cx="10.5" cy="32.6" rx="4.28" ry="4.39" fill="url(#shd)" transform="rotate(91 10.5 32.6)"/><ellipse cx="9.9" cy="31.7" rx="3.42" ry="3.51" fill="url(#cg2)" transform="rotate(91 9.9 31.7)"/><ellipse cx="18.200000000000003" cy="35.199999999999996" rx="4.62" ry="5.62" fill="url(#shd)" transform="rotate(80 18.200000000000003 35.199999999999996)"/><ellipse cx="17.6" cy="34.3" rx="3.70" ry="4.49" fill="url(#cg2)" transform="rotate(80 17.6 34.3)"/><ellipse cx="25.5" cy="35.1" rx="4.18" ry="4.66" fill="url(#shd)" transform="rotate(177 25.5 35.1)"/><ellipse cx="24.9" cy="34.2" rx="3.35" ry="3.73" fill="url(#cg2)" transform="rotate(177 24.9 34.2)"/><ellipse cx="32.4" cy="32.7" rx="4.39" ry="4.79" fill="url(#shd)" transform="rotate(0 32.4 32.7)"/><ellipse cx="31.8" cy="31.8" rx="3.51" ry="3.83" fill="url(#cg2)" transform="rotate(0 31.8 31.8)"/><ellipse cx="40.1" cy="31.2" rx="4.77" ry="4.93" fill="url(#shd)" transform="rotate(127 40.1 31.2)"/><ellipse cx="39.5" cy="30.3" rx="3.82" ry="3.94" fill="url(#cg2)" transform="rotate(127 39.5 30.3)"/><ellipse cx="49.9" cy="35.199999999999996" rx="4.75" ry="5.36" fill="url(#shd)" transform="rotate(45 49.9 35.199999999999996)"/><ellipse cx="49.3" cy="34.3" rx="3.80" ry="4.29" fill="url(#cg2)" transform="rotate(45 49.3 34.3)"/><ellipse cx="54.6" cy="34.5" rx="4.06" ry="4.23" fill="url(#shd)" transform="rotate(100 54.6 34.5)"/><ellipse cx="54.0" cy="33.6" rx="3.24" ry="3.38" fill="url(#cg2)" transform="rotate(100 54.0 33.6)"/><ellipse cx="62.7" cy="35.0" rx="4.88" ry="4.51" fill="url(#shd)" transform="rotate(104 62.7 35.0)"/><ellipse cx="62.1" cy="34.1" rx="3.90" ry="3.61" fill="url(#cg2)" transform="rotate(104 62.1 34.1)"/><ellipse cx="72.1" cy="30.9" rx="4.26" ry="5.53" fill="url(#shd)" transform="rotate(155 72.1 30.9)"/><ellipse cx="71.5" cy="30.0" rx="3.41" ry="4.42" fill="url(#cg2)" transform="rotate(155 71.5 30.0)"/><ellipse cx="78.5" cy="32.0" rx="4.66" ry="5.09" fill="url(#shd)" transform="rotate(30 78.5 32.0)"/><ellipse cx="77.9" cy="31.1" rx="3.73" ry="4.07" fill="url(#cg2)" transform="rotate(30 77.9 31.1)"/><ellipse cx="86.39999999999999" cy="33.9" rx="4.39" ry="4.45" fill="url(#shd)" transform="rotate(68 86.39999999999999 33.9)"/><ellipse cx="85.8" cy="33.0" rx="3.51" ry="3.56" fill="url(#cg2)" transform="rotate(68 85.8 33.0)"/><ellipse cx="93.0" cy="30.9" rx="4.76" ry="4.03" fill="url(#shd)" transform="rotate(13 93.0 30.9)"/><ellipse cx="92.4" cy="30.0" rx="3.81" ry="3.22" fill="url(#cg2)" transform="rotate(13 92.4 30.0)"/><ellipse cx="102.89999999999999" cy="31.799999999999997" rx="5.05" ry="4.89" fill="url(#shd)" transform="rotate(36 102.89999999999999 31.799999999999997)"/><ellipse cx="102.3" cy="30.9" rx="4.04" ry="3.91" fill="url(#cg2)" transform="rotate(36 102.3 30.9)"/><ellipse cx="6.5" cy="41.699999999999996" rx="4.18" ry="5.37" fill="url(#shd)" transform="rotate(89 6.5 41.699999999999996)"/><ellipse cx="5.9" cy="40.8" rx="3.34" ry="4.30" fill="url(#cg2)" transform="rotate(89 5.9 40.8)"/><ellipse cx="14.299999999999999" cy="40.0" rx="5.33" ry="4.97" fill="url(#shd)" transform="rotate(55 14.299999999999999 40.0)"/><ellipse cx="13.7" cy="39.1" rx="4.26" ry="3.98" fill="url(#cg2)" transform="rotate(55 13.7 39.1)"/><ellipse cx="18.6" cy="40.6" rx="4.27" ry="5.85" fill="url(#shd)" transform="rotate(142 18.6 40.6)"/><ellipse cx="18.0" cy="39.7" rx="3.42" ry="4.68" fill="url(#cg2)" transform="rotate(142 18.0 39.7)"/><ellipse cx="30.0" cy="42.8" rx="4.15" ry="5.60" fill="url(#shd)" transform="rotate(6 30.0 42.8)"/><ellipse cx="29.4" cy="41.9" rx="3.32" ry="4.48" fill="url(#cg2)" transform="rotate(6 29.4 41.9)"/><ellipse cx="36.1" cy="40.0" rx="4.38" ry="4.76" fill="url(#shd)" transform="rotate(87 36.1 40.0)"/><ellipse cx="35.5" cy="39.1" rx="3.51" ry="3.81" fill="url(#cg2)" transform="rotate(87 35.5 39.1)"/><ellipse cx="43.5" cy="42.6" rx="4.38" ry="5.50" fill="url(#shd)" transform="rotate(102 43.5 42.6)"/><ellipse cx="42.9" cy="41.7" rx="3.50" ry="4.40" fill="url(#cg2)" transform="rotate(102 42.9 41.7)"/><ellipse cx="52.4" cy="43.199999999999996" rx="4.94" ry="4.47" fill="url(#shd)" transform="rotate(46 52.4 43.199999999999996)"/><ellipse cx="51.8" cy="42.3" rx="3.96" ry="3.58" fill="url(#cg2)" transform="rotate(46 51.8 42.3)"/><ellipse cx="57.4" cy="40.699999999999996" rx="5.18" ry="5.16" fill="url(#shd)" transform="rotate(55 57.4 40.699999999999996)"/><ellipse cx="56.8" cy="39.8" rx="4.14" ry="4.13" fill="url(#cg2)" transform="rotate(55 56.8 39.8)"/><ellipse cx="65.5" cy="40.5" rx="5.36" ry="5.39" fill="url(#shd)" transform="rotate(97 65.5 40.5)"/><ellipse cx="64.9" cy="39.6" rx="4.29" ry="4.31" fill="url(#cg2)" transform="rotate(97 64.9 39.6)"/><ellipse cx="74.69999999999999" cy="40.0" rx="5.50" ry="5.73" fill="url(#shd)" transform="rotate(155 74.69999999999999 40.0)"/><ellipse cx="74.1" cy="39.1" rx="4.40" ry="4.59" fill="url(#cg2)" transform="rotate(155 74.1 39.1)"/><ellipse cx="84.89999999999999" cy="40.699999999999996" rx="5.00" ry="3.60" fill="url(#shd)" transform="rotate(84 84.89999999999999 40.699999999999996)"/><ellipse cx="84.3" cy="39.8" rx="4.00" ry="2.88" fill="url(#cg2)" transform="rotate(84 84.3 39.8)"/><ellipse cx="88.0" cy="42.8" rx="4.80" ry="4.55" fill="url(#shd)" transform="rotate(178 88.0 42.8)"/><ellipse cx="87.4" cy="41.9" rx="3.84" ry="3.64" fill="url(#cg2)" transform="rotate(178 87.4 41.9)"/><ellipse cx="99.1" cy="41.3" rx="5.30" ry="3.85" fill="url(#shd)" transform="rotate(172 99.1 41.3)"/><ellipse cx="98.5" cy="40.4" rx="4.24" ry="3.08" fill="url(#cg2)" transform="rotate(172 98.5 40.4)"/><ellipse cx="107.39999999999999" cy="38.5" rx="4.40" ry="4.39" fill="url(#shd)" transform="rotate(174 107.39999999999999 38.5)"/><ellipse cx="106.8" cy="37.6" rx="3.52" ry="3.51" fill="url(#cg2)" transform="rotate(174 106.8 37.6)"/><ellipse cx="0.39999999999999997" cy="46.1" rx="4.46" ry="5.47" fill="url(#shd)" transform="rotate(101 0.39999999999999997 46.1)"/><ellipse cx="-0.2" cy="45.2" rx="3.57" ry="4.37" fill="url(#cg2)" transform="rotate(101 -0.2 45.2)"/><ellipse cx="7.1" cy="46.699999999999996" rx="3.85" ry="4.08" fill="url(#shd)" transform="rotate(78 7.1 46.699999999999996)"/><ellipse cx="6.5" cy="45.8" rx="3.08" ry="3.26" fill="url(#cg2)" transform="rotate(78 6.5 45.8)"/><ellipse cx="16.8" cy="48.199999999999996" rx="4.08" ry="4.75" fill="url(#shd)" transform="rotate(138 16.8 48.199999999999996)"/><ellipse cx="16.2" cy="47.3" rx="3.27" ry="3.80" fill="url(#cg2)" transform="rotate(138 16.2 47.3)"/><ellipse cx="24.8" cy="50.0" rx="5.92" ry="5.76" fill="url(#shd)" transform="rotate(65 24.8 50.0)"/><ellipse cx="24.2" cy="49.1" rx="4.74" ry="4.61" fill="url(#cg2)" transform="rotate(65 24.2 49.1)"/><ellipse cx="38.0" cy="46.1" rx="4.19" ry="4.68" fill="url(#shd)" transform="rotate(141 38.0 46.1)"/><ellipse cx="37.4" cy="45.2" rx="3.35" ry="3.74" fill="url(#cg2)" transform="rotate(141 37.4 45.2)"/><ellipse cx="48.5" cy="46.9" rx="3.89" ry="4.31" fill="url(#shd)" transform="rotate(10 48.5 46.9)"/><ellipse cx="47.9" cy="46.0" rx="3.11" ry="3.45" fill="url(#cg2)" transform="rotate(10 47.9 46.0)"/><ellipse cx="54.4" cy="49.5" rx="3.99" ry="5.70" fill="url(#shd)" transform="rotate(64 54.4 49.5)"/><ellipse cx="53.8" cy="48.6" rx="3.19" ry="4.56" fill="url(#cg2)" transform="rotate(64 53.8 48.6)"/><ellipse cx="63.6" cy="49.8" rx="5.08" ry="4.54" fill="url(#shd)" transform="rotate(177 63.6 49.8)"/><ellipse cx="63.0" cy="48.9" rx="4.07" ry="3.63" fill="url(#cg2)" transform="rotate(177 63.0 48.9)"/><ellipse cx="72.3" cy="50.5" rx="5.03" ry="4.83" fill="url(#shd)" transform="rotate(1 72.3 50.5)"/><ellipse cx="71.7" cy="49.6" rx="4.02" ry="3.87" fill="url(#cg2)" transform="rotate(1 71.7 49.6)"/><ellipse cx="80.8" cy="49.6" rx="4.69" ry="4.41" fill="url(#shd)" transform="rotate(34 80.8 49.6)"/><ellipse cx="80.2" cy="48.7" rx="3.75" ry="3.53" fill="url(#cg2)" transform="rotate(34 80.2 48.7)"/><ellipse cx="86.19999999999999" cy="49.1" rx="5.72" ry="4.41" fill="url(#shd)" transform="rotate(171 86.19999999999999 49.1)"/><ellipse cx="85.6" cy="48.2" rx="4.57" ry="3.53" fill="url(#cg2)" transform="rotate(171 85.6 48.2)"/><ellipse cx="93.6" cy="48.8" rx="4.55" ry="5.12" fill="url(#shd)" transform="rotate(144 93.6 48.8)"/><ellipse cx="93.0" cy="47.9" rx="3.64" ry="4.10" fill="url(#cg2)" transform="rotate(144 93.0 47.9)"/><ellipse cx="103.5" cy="50.699999999999996" rx="5.02" ry="5.78" fill="url(#shd)" transform="rotate(71 103.5 50.699999999999996)"/><ellipse cx="102.9" cy="49.8" rx="4.02" ry="4.62" fill="url(#cg2)" transform="rotate(71 102.9 49.8)"/><ellipse cx="5.3" cy="54.6" rx="4.33" ry="5.04" fill="url(#shd)" transform="rotate(130 5.3 54.6)"/><ellipse cx="4.7" cy="53.7" rx="3.46" ry="4.03" fill="url(#cg2)" transform="rotate(130 4.7 53.7)"/><ellipse cx="13.9" cy="56.8" rx="5.40" ry="5.66" fill="url(#shd)" transform="rotate(159 13.9 56.8)"/><ellipse cx="13.3" cy="55.9" rx="4.32" ry="4.53" fill="url(#cg2)" transform="rotate(159 13.3 55.9)"/><ellipse cx="18.700000000000003" cy="58.1" rx="6.30" ry="5.70" fill="url(#shd)" transform="rotate(87 18.700000000000003 58.1)"/><ellipse cx="18.1" cy="57.2" rx="5.04" ry="4.56" fill="url(#cg2)" transform="rotate(87 18.1 57.2)"/><ellipse cx="42.7" cy="54.0" rx="4.02" ry="4.79" fill="url(#shd)" transform="rotate(30 42.7 54.0)"/><ellipse cx="42.1" cy="53.1" rx="3.21" ry="3.83" fill="url(#cg2)" transform="rotate(30 42.1 53.1)"/><ellipse cx="51.6" cy="57.4" rx="5.41" ry="4.76" fill="url(#shd)" transform="rotate(106 51.6 57.4)"/><ellipse cx="51.0" cy="56.5" rx="4.33" ry="3.81" fill="url(#cg2)" transform="rotate(106 51.0 56.5)"/><ellipse cx="56.7" cy="57.6" rx="4.85" ry="4.87" fill="url(#shd)" transform="rotate(117 56.7 57.6)"/><ellipse cx="56.1" cy="56.7" rx="3.88" ry="3.90" fill="url(#cg2)" transform="rotate(117 56.1 56.7)"/><ellipse cx="68.39999999999999" cy="54.5" rx="5.30" ry="4.23" fill="url(#shd)" transform="rotate(91 68.39999999999999 54.5)"/><ellipse cx="67.8" cy="53.6" rx="4.24" ry="3.38" fill="url(#cg2)" transform="rotate(91 67.8 53.6)"/><ellipse cx="76.1" cy="54.3" rx="3.55" ry="3.67" fill="url(#shd)" transform="rotate(5 76.1 54.3)"/><ellipse cx="75.5" cy="53.4" rx="2.84" ry="2.94" fill="url(#cg2)" transform="rotate(5 75.5 53.4)"/><ellipse cx="82.6" cy="57.199999999999996" rx="5.72" ry="4.21" fill="url(#shd)" transform="rotate(98 82.6 57.199999999999996)"/><ellipse cx="82.0" cy="56.3" rx="4.58" ry="3.37" fill="url(#cg2)" transform="rotate(98 82.0 56.3)"/><ellipse cx="91.19999999999999" cy="58.3" rx="5.26" ry="4.63" fill="url(#shd)" transform="rotate(172 91.19999999999999 58.3)"/><ellipse cx="90.6" cy="57.4" rx="4.21" ry="3.70" fill="url(#cg2)" transform="rotate(172 90.6 57.4)"/><ellipse cx="100.3" cy="54.0" rx="5.27" ry="4.67" fill="url(#shd)" transform="rotate(122 100.3 54.0)"/><ellipse cx="99.7" cy="53.1" rx="4.22" ry="3.74" fill="url(#cg2)" transform="rotate(122 99.7 53.1)"/><ellipse cx="106.0" cy="55.1" rx="5.16" ry="5.21" fill="url(#shd)" transform="rotate(105 106.0 55.1)"/><ellipse cx="105.4" cy="54.2" rx="4.13" ry="4.17" fill="url(#cg2)" transform="rotate(105 105.4 54.2)"/><ellipse cx="1.2999999999999998" cy="63.8" rx="4.91" ry="5.37" fill="url(#shd)" transform="rotate(129 1.2999999999999998 63.8)"/><ellipse cx="0.7" cy="62.9" rx="3.93" ry="4.29" fill="url(#cg2)" transform="rotate(129 0.7 62.9)"/><ellipse cx="8.7" cy="62.8" rx="3.80" ry="5.48" fill="url(#shd)" transform="rotate(152 8.7 62.8)"/><ellipse cx="8.1" cy="61.9" rx="3.04" ry="4.38" fill="url(#cg2)" transform="rotate(152 8.1 61.9)"/><ellipse cx="17.900000000000002" cy="65.7" rx="3.84" ry="5.32" fill="url(#shd)" transform="rotate(110 17.900000000000002 65.7)"/><ellipse cx="17.3" cy="64.8" rx="3.07" ry="4.25" fill="url(#cg2)" transform="rotate(110 17.3 64.8)"/><ellipse cx="39.6" cy="64.2" rx="3.80" ry="4.31" fill="url(#shd)" transform="rotate(107 39.6 64.2)"/><ellipse cx="39.0" cy="63.3" rx="3.04" ry="3.45" fill="url(#cg2)" transform="rotate(107 39.0 63.3)"/><ellipse cx="49.7" cy="63.8" rx="5.37" ry="5.14" fill="url(#shd)" transform="rotate(59 49.7 63.8)"/><ellipse cx="49.1" cy="62.9" rx="4.30" ry="4.11" fill="url(#cg2)" transform="rotate(59 49.1 62.9)"/><ellipse cx="56.7" cy="64.0" rx="5.37" ry="4.62" fill="url(#shd)" transform="rotate(140 56.7 64.0)"/><ellipse cx="56.1" cy="63.1" rx="4.30" ry="3.69" fill="url(#cg2)" transform="rotate(140 56.1 63.1)"/><ellipse cx="64.0" cy="61.5" rx="3.95" ry="3.97" fill="url(#shd)" transform="rotate(166 64.0 61.5)"/><ellipse cx="63.4" cy="60.6" rx="3.16" ry="3.17" fill="url(#cg2)" transform="rotate(166 63.4 60.6)"/><ellipse cx="70.39999999999999" cy="66.0" rx="4.91" ry="6.43" fill="url(#shd)" transform="rotate(38 70.39999999999999 66.0)"/><ellipse cx="69.8" cy="65.1" rx="3.93" ry="5.14" fill="url(#cg2)" transform="rotate(38 69.8 65.1)"/><ellipse cx="77.39999999999999" cy="63.6" rx="5.13" ry="4.61" fill="url(#shd)" transform="rotate(29 77.39999999999999 63.6)"/><ellipse cx="76.8" cy="62.7" rx="4.10" ry="3.69" fill="url(#cg2)" transform="rotate(29 76.8 62.7)"/><ellipse cx="86.1" cy="65.30000000000001" rx="5.56" ry="5.56" fill="url(#shd)" transform="rotate(26 86.1 65.30000000000001)"/><ellipse cx="85.5" cy="64.4" rx="4.45" ry="4.45" fill="url(#cg2)" transform="rotate(26 85.5 64.4)"/><ellipse cx="94.1" cy="62.8" rx="4.85" ry="3.77" fill="url(#shd)" transform="rotate(48 94.1 62.8)"/><ellipse cx="93.5" cy="61.9" rx="3.88" ry="3.02" fill="url(#cg2)" transform="rotate(48 93.5 61.9)"/><ellipse cx="102.6" cy="65.80000000000001" rx="3.60" ry="3.72" fill="url(#shd)" transform="rotate(48 102.6 65.80000000000001)"/><ellipse cx="102.0" cy="64.9" rx="2.88" ry="2.98" fill="url(#cg2)" transform="rotate(48 102.0 64.9)"/><ellipse cx="33" cy="52" rx="4" ry="6" fill="#000" filter="url(#sb2)"/><ellipse cx="26" cy="60" rx="5" ry="4" fill="#050505" filter="url(#sb2)"/><ellipse cx="57" cy="5" rx="9" ry="6" fill="#141414" filter="url(#sb2)"/><ellipse cx="10" cy="17" rx="4" ry="3" fill="#c8c8c8" filter="url(#sb2)"/><ellipse cx="98" cy="38" rx="4" ry="4" fill="#cacaca" filter="url(#sb2)"/><ellipse cx="66" cy="57" rx="4" ry="3" fill="#c0c0c0" filter="url(#sb2)"/><ellipse cx="90" cy="50" rx="3" ry="3" fill="#c4c4c4" filter="url(#sb2)"/></g>
<rect x="17.00" y="804.50" width="105.3" height="75.2" filter="url(#semn)" style="mix-blend-mode:overlay" opacity="0.22"/>
<rect x="17.00" y="875.00" width="105.3" height="4.7" fill="#161616"/>
<circle cx="19.20" cy="877.30" r="1.3" fill="none" stroke="#9a9a9a" stroke-width="0.5"/>
<line x1="22.00" y1="876.40" x2="73.00" y2="876.40" stroke="#8a8a8a" stroke-width="0.8" stroke-dasharray="1.6 0.6 2.4 0.8 1 0.6"/>
<line x1="22.00" y1="878.40" x2="77.00" y2="878.40" stroke="#8a8a8a" stroke-width="0.8" stroke-dasharray="1.6 0.6 2.4 0.8 1 0.6"/>
<line x1="99.00" y1="876.40" x2="107.00" y2="876.40" stroke="#8a8a8a" stroke-width="0.7"/>
<line x1="100.00" y1="878.40" x2="106.00" y2="878.40" stroke="#777" stroke-width="0.7"/>
<line x1="80.00" y1="875.90" x2="117.00" y2="875.90" stroke="#6a6a6a" stroke-width="0.35"/>
</g>
<rect x="43.40" y="820.50" width="53.60" height="37.50" fill="none" stroke="#b52a26" stroke-width="1.1" stroke-dasharray="3 2"/>
<line x1="43.40" y1="858.00" x2="17.00" y2="880.20" stroke="#b52a26" stroke-width="1.1" stroke-dasharray="3 2"/>
<line x1="97.00" y1="858.00" x2="122.30" y2="880.20" stroke="#b52a26" stroke-width="1.1" stroke-dasharray="3 2"/>
<clipPath id="cpk2t"><rect x="123.60" y="804.50" width="105.3" height="75.2"/></clipPath>
<g clip-path="url(#cpk2t)">
<rect x="123.60" y="804.50" width="105.3" height="75.2" fill="#2c2c2c"/>
<g transform="translate(123.60,804.50)" filter="url(#sb)"><ellipse cx="20" cy="10" rx="22" ry="12" fill="#1c1c1c" filter="url(#sb2)"/><ellipse cx="80" cy="64" rx="14" ry="6" fill="#202020" filter="url(#sb2)"/><ellipse cx="57.1" cy="5.5" rx="5.39" ry="5.65" fill="url(#shd)" transform="rotate(2 57.1 5.5)"/><ellipse cx="56.5" cy="4.6" rx="4.31" ry="4.52" fill="url(#cg1)" transform="rotate(2 56.5 4.6)"/><ellipse cx="64.1" cy="4.0" rx="4.95" ry="4.92" fill="url(#shd)" transform="rotate(123 64.1 4.0)"/><ellipse cx="63.5" cy="3.1" rx="3.96" ry="3.94" fill="url(#cg1)" transform="rotate(123 63.5 3.1)"/><ellipse cx="73.39999999999999" cy="4.8" rx="5.86" ry="5.31" fill="url(#shd)" transform="rotate(42 73.39999999999999 4.8)"/><ellipse cx="72.8" cy="3.9" rx="4.69" ry="4.25" fill="url(#cg1)" transform="rotate(42 72.8 3.9)"/><ellipse cx="82.6" cy="4.8" rx="5.77" ry="5.30" fill="url(#shd)" transform="rotate(133 82.6 4.8)"/><ellipse cx="82" cy="3.9" rx="4.62" ry="4.24" fill="url(#cg1)" transform="rotate(133 82 3.9)"/><ellipse cx="91.89999999999999" cy="7.9" rx="5.58" ry="5.55" fill="url(#shd)" transform="rotate(96 91.89999999999999 7.9)"/><ellipse cx="91.3" cy="7" rx="4.46" ry="4.44" fill="url(#cg1)" transform="rotate(96 91.3 7)"/><ellipse cx="99.6" cy="5.5" rx="5.26" ry="5.19" fill="url(#shd)" transform="rotate(179 99.6 5.5)"/><ellipse cx="99" cy="4.6" rx="4.21" ry="4.15" fill="url(#cg1)" transform="rotate(179 99 4.6)"/><ellipse cx="71.8" cy="10.200000000000001" rx="4.92" ry="4.76" fill="url(#shd)" transform="rotate(169 71.8 10.200000000000001)"/><ellipse cx="71.2" cy="9.3" rx="3.94" ry="3.81" fill="url(#cg1)" transform="rotate(169 71.2 9.3)"/><ellipse cx="86.6" cy="13.3" rx="5.14" ry="5.63" fill="url(#shd)" transform="rotate(59 86.6 13.3)"/><ellipse cx="86" cy="12.4" rx="4.11" ry="4.51" fill="url(#cg1)" transform="rotate(59 86 12.4)"/><ellipse cx="95.8" cy="15.6" rx="4.77" ry="5.07" fill="url(#shd)" transform="rotate(38 95.8 15.6)"/><ellipse cx="95.2" cy="14.7" rx="3.82" ry="4.05" fill="url(#cg1)" transform="rotate(38 95.2 14.7)"/><ellipse cx="71.8" cy="19.5" rx="6.70" ry="6.59" fill="url(#shd)" transform="rotate(99 71.8 19.5)"/><ellipse cx="71.2" cy="18.6" rx="5.36" ry="5.27" fill="url(#cg1)" transform="rotate(99 71.2 18.6)"/><ellipse cx="65.6" cy="21.0" rx="4.76" ry="5.27" fill="url(#shd)" transform="rotate(64 65.6 21.0)"/><ellipse cx="65" cy="20.1" rx="3.81" ry="4.22" fill="url(#cg1)" transform="rotate(64 65 20.1)"/><ellipse cx="79.6" cy="20.2" rx="4.39" ry="4.93" fill="url(#shd)" transform="rotate(178 79.6 20.2)"/><ellipse cx="79" cy="19.3" rx="3.51" ry="3.94" fill="url(#cg1)" transform="rotate(178 79 19.3)"/><ellipse cx="91.89999999999999" cy="21.0" rx="5.76" ry="5.37" fill="url(#shd)" transform="rotate(156 91.89999999999999 21.0)"/><ellipse cx="91.3" cy="20.1" rx="4.61" ry="4.30" fill="url(#cg1)" transform="rotate(156 91.3 20.1)"/><ellipse cx="102.0" cy="24.099999999999998" rx="5.83" ry="5.35" fill="url(#shd)" transform="rotate(143 102.0 24.099999999999998)"/><ellipse cx="101.4" cy="23.2" rx="4.67" ry="4.28" fill="url(#cg1)" transform="rotate(143 101.4 23.2)"/><ellipse cx="47.0" cy="15.6" rx="4.78" ry="4.63" fill="url(#shd)" transform="rotate(115 47.0 15.6)"/><ellipse cx="46.4" cy="14.7" rx="3.82" ry="3.71" fill="url(#cg1)" transform="rotate(115 46.4 14.7)"/><ellipse cx="54.800000000000004" cy="16.4" rx="4.62" ry="4.67" fill="url(#shd)" transform="rotate(60 54.800000000000004 16.4)"/><ellipse cx="54.2" cy="15.5" rx="3.70" ry="3.74" fill="url(#cg1)" transform="rotate(60 54.2 15.5)"/><ellipse cx="40.1" cy="22.599999999999998" rx="5.53" ry="5.64" fill="url(#shd)" transform="rotate(116 40.1 22.599999999999998)"/><ellipse cx="39.5" cy="21.7" rx="4.43" ry="4.51" fill="url(#cg1)" transform="rotate(116 39.5 21.7)"/><ellipse cx="48.6" cy="22.599999999999998" rx="5.66" ry="5.49" fill="url(#shd)" transform="rotate(176 48.6 22.599999999999998)"/><ellipse cx="48" cy="21.7" rx="4.53" ry="4.39" fill="url(#cg1)" transform="rotate(176 48 21.7)"/><ellipse cx="57.1" cy="24.099999999999998" rx="5.33" ry="5.74" fill="url(#shd)" transform="rotate(55 57.1 24.099999999999998)"/><ellipse cx="56.5" cy="23.2" rx="4.27" ry="4.59" fill="url(#cg1)" transform="rotate(55 56.5 23.2)"/><ellipse cx="73.39999999999999" cy="28.799999999999997" rx="5.78" ry="5.26" fill="url(#shd)" transform="rotate(98 73.39999999999999 28.799999999999997)"/><ellipse cx="72.8" cy="27.9" rx="4.63" ry="4.21" fill="url(#cg1)" transform="rotate(98 72.8 27.9)"/><ellipse cx="67.19999999999999" cy="30.299999999999997" rx="5.34" ry="5.08" fill="url(#shd)" transform="rotate(35 67.19999999999999 30.299999999999997)"/><ellipse cx="66.6" cy="29.4" rx="4.27" ry="4.06" fill="url(#cg1)" transform="rotate(35 66.6 29.4)"/><ellipse cx="50.1" cy="31.9" rx="6.08" ry="6.40" fill="url(#shd)" transform="rotate(125 50.1 31.9)"/><ellipse cx="49.5" cy="31" rx="4.86" ry="5.12" fill="url(#cg1)" transform="rotate(125 49.5 31)"/><ellipse cx="90.39999999999999" cy="31.9" rx="6.40" ry="6.74" fill="url(#shd)" transform="rotate(164 90.39999999999999 31.9)"/><ellipse cx="89.8" cy="31" rx="5.12" ry="5.39" fill="url(#cg1)" transform="rotate(164 89.8 31)"/><ellipse cx="99.6" cy="34.199999999999996" rx="5.58" ry="5.90" fill="url(#shd)" transform="rotate(35 99.6 34.199999999999996)"/><ellipse cx="99" cy="33.3" rx="4.47" ry="4.72" fill="url(#cg1)" transform="rotate(35 99 33.3)"/><ellipse cx="13.0" cy="29.5" rx="5.89" ry="5.68" fill="url(#shd)" transform="rotate(80 13.0 29.5)"/><ellipse cx="12.4" cy="28.6" rx="4.71" ry="4.54" fill="url(#cg1)" transform="rotate(80 12.4 28.6)"/><ellipse cx="5.199999999999999" cy="36.5" rx="5.85" ry="6.73" fill="url(#shd)" transform="rotate(21 5.199999999999999 36.5)"/><ellipse cx="4.6" cy="35.6" rx="4.68" ry="5.39" fill="url(#cg1)" transform="rotate(21 4.6 35.6)"/><ellipse cx="22.3" cy="34.9" rx="5.35" ry="5.48" fill="url(#shd)" transform="rotate(21 22.3 34.9)"/><ellipse cx="21.7" cy="34" rx="4.28" ry="4.38" fill="url(#cg1)" transform="rotate(21 21.7 34)"/><ellipse cx="14.5" cy="39.6" rx="5.94" ry="5.60" fill="url(#shd)" transform="rotate(128 14.5 39.6)"/><ellipse cx="13.9" cy="38.7" rx="4.75" ry="4.48" fill="url(#cg1)" transform="rotate(128 13.9 38.7)"/><ellipse cx="29.200000000000003" cy="41.9" rx="7.85" ry="7.23" fill="url(#shd)" transform="rotate(90 29.200000000000003 41.9)"/><ellipse cx="28.6" cy="41" rx="6.28" ry="5.79" fill="url(#cg1)" transform="rotate(90 28.6 41)"/><ellipse cx="39.300000000000004" cy="42.699999999999996" rx="7.00" ry="7.02" fill="url(#shd)" transform="rotate(67 39.300000000000004 42.699999999999996)"/><ellipse cx="38.7" cy="41.8" rx="5.60" ry="5.62" fill="url(#cg1)" transform="rotate(67 38.7 41.8)"/><ellipse cx="34.6" cy="34.199999999999996" rx="4.69" ry="4.71" fill="url(#shd)" transform="rotate(7 34.6 34.199999999999996)"/><ellipse cx="34" cy="33.3" rx="3.75" ry="3.77" fill="url(#cg1)" transform="rotate(7 34 33.3)"/><ellipse cx="48.6" cy="42.699999999999996" rx="5.15" ry="5.38" fill="url(#shd)" transform="rotate(131 48.6 42.699999999999996)"/><ellipse cx="48" cy="41.8" rx="4.12" ry="4.30" fill="url(#cg1)" transform="rotate(131 48 41.8)"/><ellipse cx="61.0" cy="45.8" rx="6.00" ry="6.52" fill="url(#shd)" transform="rotate(138 61.0 45.8)"/><ellipse cx="60.4" cy="44.9" rx="4.80" ry="5.21" fill="url(#cg1)" transform="rotate(138 60.4 44.9)"/><ellipse cx="71.8" cy="39.6" rx="5.49" ry="5.19" fill="url(#shd)" transform="rotate(177 71.8 39.6)"/><ellipse cx="71.2" cy="38.7" rx="4.39" ry="4.15" fill="url(#cg1)" transform="rotate(177 71.2 38.7)"/><ellipse cx="86.6" cy="38.1" rx="5.43" ry="5.33" fill="url(#shd)" transform="rotate(68 86.6 38.1)"/><ellipse cx="86" cy="37.2" rx="4.34" ry="4.27" fill="url(#cg1)" transform="rotate(68 86 37.2)"/><ellipse cx="84.19999999999999" cy="47.3" rx="5.87" ry="6.62" fill="url(#shd)" transform="rotate(8 84.19999999999999 47.3)"/><ellipse cx="83.6" cy="46.4" rx="4.70" ry="5.29" fill="url(#cg1)" transform="rotate(8 83.6 46.4)"/><ellipse cx="93.5" cy="45.8" rx="5.73" ry="5.36" fill="url(#shd)" transform="rotate(9 93.5 45.8)"/><ellipse cx="92.9" cy="44.9" rx="4.58" ry="4.29" fill="url(#cg1)" transform="rotate(9 92.9 44.9)"/><ellipse cx="102.0" cy="45.0" rx="5.91" ry="5.44" fill="url(#shd)" transform="rotate(35 102.0 45.0)"/><ellipse cx="101.4" cy="44.1" rx="4.73" ry="4.36" fill="url(#cg1)" transform="rotate(35 101.4 44.1)"/><ellipse cx="53.2" cy="48.9" rx="6.20" ry="6.44" fill="url(#shd)" transform="rotate(33 53.2 48.9)"/><ellipse cx="52.6" cy="48" rx="4.96" ry="5.16" fill="url(#cg1)" transform="rotate(33 52.6 48)"/><ellipse cx="36.2" cy="52.0" rx="6.61" ry="6.15" fill="url(#shd)" transform="rotate(94 36.2 52.0)"/><ellipse cx="35.6" cy="51.1" rx="5.29" ry="4.92" fill="url(#cg1)" transform="rotate(94 35.6 51.1)"/><ellipse cx="26.900000000000002" cy="50.4" rx="5.82" ry="5.59" fill="url(#shd)" transform="rotate(94 26.900000000000002 50.4)"/><ellipse cx="26.3" cy="49.5" rx="4.66" ry="4.47" fill="url(#cg1)" transform="rotate(94 26.3 49.5)"/><ellipse cx="43.9" cy="55.1" rx="5.60" ry="5.30" fill="url(#shd)" transform="rotate(129 43.9 55.1)"/><ellipse cx="43.3" cy="54.2" rx="4.48" ry="4.24" fill="url(#cg1)" transform="rotate(129 43.3 54.2)"/><ellipse cx="74.89999999999999" cy="48.9" rx="5.23" ry="5.20" fill="url(#shd)" transform="rotate(22 74.89999999999999 48.9)"/><ellipse cx="74.3" cy="48" rx="4.18" ry="4.16" fill="url(#cg1)" transform="rotate(22 74.3 48)"/><ellipse cx="79.6" cy="54.3" rx="5.15" ry="5.06" fill="url(#shd)" transform="rotate(170 79.6 54.3)"/><ellipse cx="79" cy="53.4" rx="4.12" ry="4.05" fill="url(#cg1)" transform="rotate(170 79 53.4)"/><ellipse cx="87.3" cy="55.1" rx="5.28" ry="4.70" fill="url(#shd)" transform="rotate(30 87.3 55.1)"/><ellipse cx="86.7" cy="54.2" rx="4.23" ry="3.76" fill="url(#cg1)" transform="rotate(30 86.7 54.2)"/><ellipse cx="99.6" cy="61.3" rx="5.30" ry="5.52" fill="url(#shd)" transform="rotate(76 99.6 61.3)"/><ellipse cx="99" cy="60.4" rx="4.24" ry="4.41" fill="url(#cg1)" transform="rotate(76 99 60.4)"/><ellipse cx="27.700000000000003" cy="66.7" rx="5.56" ry="5.81" fill="url(#shd)" transform="rotate(55 27.700000000000003 66.7)"/><ellipse cx="27.1" cy="65.8" rx="4.45" ry="4.65" fill="url(#cg1)" transform="rotate(55 27.1 65.8)"/><ellipse cx="37.0" cy="67.5" rx="5.39" ry="5.88" fill="url(#shd)" transform="rotate(97 37.0 67.5)"/><ellipse cx="36.4" cy="66.6" rx="4.31" ry="4.70" fill="url(#cg1)" transform="rotate(97 36.4 66.6)"/><ellipse cx="47.0" cy="66.7" rx="5.26" ry="4.63" fill="url(#shd)" transform="rotate(132 47.0 66.7)"/><ellipse cx="46.4" cy="65.8" rx="4.21" ry="3.70" fill="url(#cg1)" transform="rotate(132 46.4 65.8)"/><ellipse cx="54.0" cy="70.60000000000001" rx="5.32" ry="4.81" fill="url(#shd)" transform="rotate(111 54.0 70.60000000000001)"/><ellipse cx="53.4" cy="69.7" rx="4.25" ry="3.85" fill="url(#cg1)" transform="rotate(111 53.4 69.7)"/><ellipse cx="59.4" cy="60.5" rx="5.25" ry="4.89" fill="url(#shd)" transform="rotate(36 59.4 60.5)"/><ellipse cx="58.8" cy="59.6" rx="4.20" ry="3.91" fill="url(#cg1)" transform="rotate(36 58.8 59.6)"/></g>
<rect x="123.60" y="804.50" width="105.3" height="75.2" filter="url(#semn)" style="mix-blend-mode:overlay" opacity="0.22"/>
<rect x="123.60" y="875.00" width="105.3" height="4.7" fill="#161616"/>
<circle cx="125.80" cy="877.30" r="1.3" fill="none" stroke="#9a9a9a" stroke-width="0.5"/>
<line x1="128.60" y1="876.40" x2="179.60" y2="876.40" stroke="#8a8a8a" stroke-width="0.8" stroke-dasharray="1.6 0.6 2.4 0.8 1 0.6"/>
<line x1="128.60" y1="878.40" x2="183.60" y2="878.40" stroke="#8a8a8a" stroke-width="0.8" stroke-dasharray="1.6 0.6 2.4 0.8 1 0.6"/>
<line x1="205.60" y1="876.40" x2="213.60" y2="876.40" stroke="#8a8a8a" stroke-width="0.7"/>
<line x1="206.60" y1="878.40" x2="212.60" y2="878.40" stroke="#777" stroke-width="0.7"/>
<line x1="186.60" y1="875.90" x2="223.60" y2="875.90" stroke="#6a6a6a" stroke-width="0.35"/>
</g>
<rect x="134.40" y="827.30" width="53.20" height="37.60" fill="none" stroke="#b52a26" stroke-width="1.1" stroke-dasharray="3 2"/>
<line x1="134.40" y1="864.90" x2="123.60" y2="880.20" stroke="#b52a26" stroke-width="1.1" stroke-dasharray="3 2"/>
<line x1="187.60" y1="864.90" x2="228.90" y2="880.20" stroke="#b52a26" stroke-width="1.1" stroke-dasharray="3 2"/>
<clipPath id="cpk3t"><rect x="230.40" y="804.50" width="105.3" height="75.2"/></clipPath>
<g clip-path="url(#cpk3t)">
<rect x="230.40" y="804.50" width="105.3" height="75.2" fill="#6b6b6b"/>
<g transform="translate(230.40,804.50)" filter="url(#sb)"><ellipse cx="16.1" cy="18.7" rx="9.00" ry="8.68" fill="url(#shd)" transform="rotate(137 16.1 18.7)"/><ellipse cx="15.5" cy="17.8" rx="7.20" ry="6.94" fill="url(#cg1)" transform="rotate(137 15.5 17.8)"/><ellipse cx="30.8" cy="17.2" rx="8.04" ry="8.75" fill="url(#shd)" transform="rotate(115 30.8 17.2)"/><ellipse cx="30.2" cy="16.3" rx="6.43" ry="7.00" fill="url(#cg1)" transform="rotate(115 30.2 16.3)"/><ellipse cx="34.6" cy="7.9" rx="6.81" ry="7.82" fill="url(#shd)" transform="rotate(169 34.6 7.9)"/><ellipse cx="34" cy="7" rx="5.45" ry="6.26" fill="url(#cg1)" transform="rotate(169 34 7)"/><ellipse cx="43.2" cy="7.9" rx="7.24" ry="6.93" fill="url(#shd)" transform="rotate(174 43.2 7.9)"/><ellipse cx="42.6" cy="7" rx="5.79" ry="5.54" fill="url(#cg1)" transform="rotate(174 42.6 7)"/><ellipse cx="49.4" cy="17.2" rx="7.52" ry="7.27" fill="url(#shd)" transform="rotate(47 49.4 17.2)"/><ellipse cx="48.8" cy="16.3" rx="6.01" ry="5.81" fill="url(#cg1)" transform="rotate(47 48.8 16.3)"/><ellipse cx="56.300000000000004" cy="8.6" rx="5.87" ry="6.12" fill="url(#shd)" transform="rotate(126 56.300000000000004 8.6)"/><ellipse cx="55.7" cy="7.7" rx="4.69" ry="4.90" fill="url(#cg1)" transform="rotate(126 55.7 7.7)"/><ellipse cx="62.5" cy="10.9" rx="5.74" ry="5.47" fill="url(#shd)" transform="rotate(107 62.5 10.9)"/><ellipse cx="61.9" cy="10" rx="4.59" ry="4.38" fill="url(#cg1)" transform="rotate(107 61.9 10)"/><ellipse cx="59.4" cy="22.599999999999998" rx="6.60" ry="6.43" fill="url(#shd)" transform="rotate(49 59.4 22.599999999999998)"/><ellipse cx="58.8" cy="21.7" rx="5.28" ry="5.15" fill="url(#cg1)" transform="rotate(49 58.8 21.7)"/><ellipse cx="67.19999999999999" cy="17.9" rx="6.17" ry="5.57" fill="url(#shd)" transform="rotate(111 67.19999999999999 17.9)"/><ellipse cx="66.6" cy="17" rx="4.94" ry="4.45" fill="url(#cg1)" transform="rotate(111 66.6 17)"/><ellipse cx="51.7" cy="26.4" rx="5.54" ry="5.03" fill="url(#shd)" transform="rotate(146 51.7 26.4)"/><ellipse cx="51.1" cy="25.5" rx="4.43" ry="4.02" fill="url(#cg1)" transform="rotate(146 51.1 25.5)"/><ellipse cx="33.9" cy="30.299999999999997" rx="6.31" ry="5.89" fill="url(#shd)" transform="rotate(20 33.9 30.299999999999997)"/><ellipse cx="33.3" cy="29.4" rx="5.05" ry="4.71" fill="url(#cg1)" transform="rotate(20 33.3 29.4)"/><ellipse cx="44.7" cy="31.9" rx="6.57" ry="7.16" fill="url(#shd)" transform="rotate(108 44.7 31.9)"/><ellipse cx="44.1" cy="31" rx="5.26" ry="5.73" fill="url(#cg1)" transform="rotate(108 44.1 31)"/><ellipse cx="57.1" cy="33.4" rx="6.42" ry="5.93" fill="url(#shd)" transform="rotate(9 57.1 33.4)"/><ellipse cx="56.5" cy="32.5" rx="5.13" ry="4.75" fill="url(#cg1)" transform="rotate(9 56.5 32.5)"/><ellipse cx="67.19999999999999" cy="29.5" rx="7.71" ry="7.79" fill="url(#shd)" transform="rotate(7 67.19999999999999 29.5)"/><ellipse cx="66.6" cy="28.6" rx="6.17" ry="6.23" fill="url(#cg1)" transform="rotate(7 66.6 28.6)"/><ellipse cx="25.400000000000002" cy="35.699999999999996" rx="6.66" ry="5.98" fill="url(#shd)" transform="rotate(40 25.400000000000002 35.699999999999996)"/><ellipse cx="24.8" cy="34.8" rx="5.33" ry="4.78" fill="url(#cg1)" transform="rotate(40 24.8 34.8)"/><ellipse cx="22.3" cy="40.4" rx="5.20" ry="4.53" fill="url(#shd)" transform="rotate(102 22.3 40.4)"/><ellipse cx="21.7" cy="39.5" rx="4.16" ry="3.62" fill="url(#cg1)" transform="rotate(102 21.7 39.5)"/><ellipse cx="33.9" cy="39.6" rx="6.29" ry="6.22" fill="url(#shd)" transform="rotate(150 33.9 39.6)"/><ellipse cx="33.3" cy="38.7" rx="5.03" ry="4.98" fill="url(#cg1)" transform="rotate(150 33.3 38.7)"/><ellipse cx="47.800000000000004" cy="39.6" rx="6.25" ry="5.95" fill="url(#shd)" transform="rotate(25 47.800000000000004 39.6)"/><ellipse cx="47.2" cy="38.7" rx="5.00" ry="4.76" fill="url(#cg1)" transform="rotate(25 47.2 38.7)"/><ellipse cx="38.5" cy="45.0" rx="6.13" ry="5.81" fill="url(#shd)" transform="rotate(121 38.5 45.0)"/><ellipse cx="37.9" cy="44.1" rx="4.91" ry="4.65" fill="url(#cg1)" transform="rotate(121 37.9 44.1)"/><ellipse cx="42.4" cy="54.3" rx="7.48" ry="6.81" fill="url(#shd)" transform="rotate(124 42.4 54.3)"/><ellipse cx="41.8" cy="53.4" rx="5.99" ry="5.45" fill="url(#cg1)" transform="rotate(124 41.8 53.4)"/><ellipse cx="65.6" cy="47.3" rx="5.97" ry="5.47" fill="url(#shd)" transform="rotate(114 65.6 47.3)"/><ellipse cx="65" cy="46.4" rx="4.77" ry="4.38" fill="url(#cg1)" transform="rotate(114 65 46.4)"/><ellipse cx="75.69999999999999" cy="40.4" rx="6.14" ry="6.18" fill="url(#shd)" transform="rotate(124 75.69999999999999 40.4)"/><ellipse cx="75.1" cy="39.5" rx="4.91" ry="4.94" fill="url(#cg1)" transform="rotate(124 75.1 39.5)"/><ellipse cx="85.0" cy="36.5" rx="6.70" ry="6.65" fill="url(#shd)" transform="rotate(91 85.0 36.5)"/><ellipse cx="84.4" cy="35.6" rx="5.36" ry="5.32" fill="url(#cg1)" transform="rotate(91 84.4 35.6)"/><ellipse cx="97.3" cy="39.6" rx="5.15" ry="4.67" fill="url(#shd)" transform="rotate(92 97.3 39.6)"/><ellipse cx="96.7" cy="38.7" rx="4.12" ry="3.73" fill="url(#cg1)" transform="rotate(92 96.7 38.7)"/><ellipse cx="103.5" cy="42.699999999999996" rx="5.44" ry="5.71" fill="url(#shd)" transform="rotate(48 103.5 42.699999999999996)"/><ellipse cx="102.9" cy="41.8" rx="4.35" ry="4.57" fill="url(#cg1)" transform="rotate(48 102.9 41.8)"/><ellipse cx="89.6" cy="46.6" rx="6.89" ry="6.68" fill="url(#shd)" transform="rotate(158 89.6 46.6)"/><ellipse cx="89" cy="45.7" rx="5.51" ry="5.34" fill="url(#cg1)" transform="rotate(158 89 45.7)"/><ellipse cx="78.8" cy="49.699999999999996" rx="6.37" ry="6.06" fill="url(#shd)" transform="rotate(135 78.8 49.699999999999996)"/><ellipse cx="78.2" cy="48.8" rx="5.10" ry="4.85" fill="url(#cg1)" transform="rotate(135 78.2 48.8)"/><ellipse cx="69.5" cy="55.9" rx="5.58" ry="5.85" fill="url(#shd)" transform="rotate(17 69.5 55.9)"/><ellipse cx="68.9" cy="55" rx="4.46" ry="4.68" fill="url(#cg1)" transform="rotate(17 68.9 55)"/><ellipse cx="55.6" cy="58.9" rx="6.47" ry="6.49" fill="url(#shd)" transform="rotate(100 55.6 58.9)"/><ellipse cx="55" cy="58" rx="5.18" ry="5.19" fill="url(#cg1)" transform="rotate(100 55 58)"/><ellipse cx="65.6" cy="63.6" rx="5.52" ry="5.42" fill="url(#shd)" transform="rotate(15 65.6 63.6)"/><ellipse cx="65" cy="62.7" rx="4.41" ry="4.34" fill="url(#cg1)" transform="rotate(15 65 62.7)"/><ellipse cx="78.8" cy="58.9" rx="7.03" ry="6.34" fill="url(#shd)" transform="rotate(152 78.8 58.9)"/><ellipse cx="78.2" cy="58" rx="5.63" ry="5.07" fill="url(#cg1)" transform="rotate(152 78.2 58)"/><ellipse cx="87.3" cy="55.1" rx="5.39" ry="5.32" fill="url(#shd)" transform="rotate(83 87.3 55.1)"/><ellipse cx="86.7" cy="54.2" rx="4.31" ry="4.25" fill="url(#cg1)" transform="rotate(83 86.7 54.2)"/><ellipse cx="98.89999999999999" cy="52.8" rx="7.19" ry="7.23" fill="url(#shd)" transform="rotate(111 98.89999999999999 52.8)"/><ellipse cx="98.3" cy="51.9" rx="5.75" ry="5.79" fill="url(#cg1)" transform="rotate(111 98.3 51.9)"/><ellipse cx="47.0" cy="66.7" rx="6.77" ry="6.79" fill="url(#shd)" transform="rotate(159 47.0 66.7)"/><ellipse cx="46.4" cy="65.8" rx="5.42" ry="5.43" fill="url(#cg1)" transform="rotate(159 46.4 65.8)"/><ellipse cx="57.9" cy="69.0" rx="6.82" ry="6.58" fill="url(#shd)" transform="rotate(158 57.9 69.0)"/><ellipse cx="57.3" cy="68.1" rx="5.46" ry="5.27" fill="url(#cg1)" transform="rotate(158 57.3 68.1)"/><ellipse cx="102.0" cy="63.6" rx="6.91" ry="6.42" fill="url(#shd)" transform="rotate(6 102.0 63.6)"/><ellipse cx="101.4" cy="62.7" rx="5.53" ry="5.14" fill="url(#cg1)" transform="rotate(6 101.4 62.7)"/><ellipse cx="95.0" cy="67.5" rx="5.56" ry="6.07" fill="url(#shd)" transform="rotate(6 95.0 67.5)"/><ellipse cx="94.4" cy="66.6" rx="4.45" ry="4.86" fill="url(#cg1)" transform="rotate(6 94.4 66.6)"/><ellipse cx="62.5" cy="50.4" rx="4.88" ry="5.12" fill="url(#shd)" transform="rotate(106 62.5 50.4)"/><ellipse cx="61.9" cy="49.5" rx="3.90" ry="4.09" fill="url(#cg1)" transform="rotate(106 61.9 49.5)"/></g>
<rect x="230.40" y="804.50" width="105.3" height="75.2" filter="url(#semn)" style="mix-blend-mode:overlay" opacity="0.22"/>
<rect x="230.40" y="875.00" width="105.3" height="4.7" fill="#161616"/>
<circle cx="232.60" cy="877.30" r="1.3" fill="none" stroke="#9a9a9a" stroke-width="0.5"/>
<line x1="235.40" y1="876.40" x2="286.40" y2="876.40" stroke="#8a8a8a" stroke-width="0.8" stroke-dasharray="1.6 0.6 2.4 0.8 1 0.6"/>
<line x1="235.40" y1="878.40" x2="290.40" y2="878.40" stroke="#8a8a8a" stroke-width="0.8" stroke-dasharray="1.6 0.6 2.4 0.8 1 0.6"/>
<line x1="312.40" y1="876.40" x2="320.40" y2="876.40" stroke="#8a8a8a" stroke-width="0.7"/>
<line x1="313.40" y1="878.40" x2="319.40" y2="878.40" stroke="#777" stroke-width="0.7"/>
<line x1="293.40" y1="875.90" x2="330.40" y2="875.90" stroke="#6a6a6a" stroke-width="0.35"/>
</g>
<rect x="246.00" y="807.00" width="54.00" height="38.00" fill="none" stroke="#b52a26" stroke-width="1.1" stroke-dasharray="3 2"/>
<line x1="246.00" y1="845.00" x2="230.40" y2="880.20" stroke="#b52a26" stroke-width="1.1" stroke-dasharray="3 2"/>
<line x1="300.00" y1="845.00" x2="335.70" y2="880.20" stroke="#b52a26" stroke-width="1.1" stroke-dasharray="3 2"/>
<clipPath id="cpk1b"><rect x="17.00" y="880.90" width="105.3" height="75.2"/></clipPath>
<g clip-path="url(#cpk1b)">
<rect x="17.00" y="880.90" width="105.3" height="75.2" fill="#6a6a6a"/>
<g transform="translate(17.00,880.90)" filter="url(#sb)"><ellipse cx="8" cy="62" rx="12" ry="10" fill="#060606" filter="url(#sb2)"/><ellipse cx="24" cy="48" rx="4" ry="3" fill="#2a2a2a" filter="url(#sb2)"/><ellipse cx="45.6" cy="8.9" rx="10.73" ry="11.52" fill="url(#shd)" transform="rotate(57 45.6 8.9)"/><ellipse cx="45" cy="8" rx="8.59" ry="9.22" fill="url(#cg2)" transform="rotate(57 45 8)"/><ellipse cx="70.6" cy="5.9" rx="9.37" ry="8.74" fill="url(#shd)" transform="rotate(81 70.6 5.9)"/><ellipse cx="70" cy="5" rx="7.50" ry="6.99" fill="url(#cg2)" transform="rotate(81 70 5)"/><ellipse cx="100.6" cy="40.9" rx="10.01" ry="9.81" fill="url(#shd)" transform="rotate(23 100.6 40.9)"/><ellipse cx="100" cy="40" rx="8.01" ry="7.85" fill="url(#cg2)" transform="rotate(23 100 40)"/><ellipse cx="22.6" cy="22.9" rx="8.85" ry="6.26" fill="url(#shd)" transform="rotate(149 22.6 22.9)"/><ellipse cx="22" cy="22" rx="7.08" ry="5.01" fill="url(#cg2)" transform="rotate(149 22 22)"/><ellipse cx="48.6" cy="30.9" rx="9.05" ry="8.97" fill="url(#shd)" transform="rotate(176 48.6 30.9)"/><ellipse cx="48" cy="30" rx="7.24" ry="7.17" fill="url(#cg2)" transform="rotate(176 48 30)"/><ellipse cx="75.6" cy="55.9" rx="7.83" ry="10.37" fill="url(#shd)" transform="rotate(62 75.6 55.9)"/><ellipse cx="75" cy="55" rx="6.26" ry="8.30" fill="url(#cg2)" transform="rotate(62 75 55)"/><ellipse cx="85.6" cy="70.9" rx="6.20" ry="8.21" fill="url(#shd)" transform="rotate(26 85.6 70.9)"/><ellipse cx="85" cy="70" rx="4.96" ry="6.57" fill="url(#cg2)" transform="rotate(26 85 70)"/><ellipse cx="30.6" cy="72.9" rx="7.51" ry="7.55" fill="url(#shd)" transform="rotate(30 30.6 72.9)"/><ellipse cx="30" cy="72" rx="6.01" ry="6.04" fill="url(#cg2)" transform="rotate(30 30 72)"/><ellipse cx="10.6" cy="17.9" rx="9.35" ry="12.63" fill="url(#shd)" transform="rotate(84 10.6 17.9)"/><ellipse cx="10" cy="17" rx="7.48" ry="10.10" fill="url(#cg2)" transform="rotate(84 10 17)"/><ellipse cx="31.6" cy="6.9" rx="10.10" ry="10.37" fill="url(#shd)" transform="rotate(81 31.6 6.9)"/><ellipse cx="31" cy="6" rx="8.08" ry="8.29" fill="url(#cg2)" transform="rotate(81 31 6)"/><ellipse cx="79.6" cy="15.9" rx="8.76" ry="8.90" fill="url(#shd)" transform="rotate(162 79.6 15.9)"/><ellipse cx="79" cy="15" rx="7.01" ry="7.12" fill="url(#cg2)" transform="rotate(162 79 15)"/><ellipse cx="65.6" cy="34.9" rx="9.05" ry="9.32" fill="url(#shd)" transform="rotate(135 65.6 34.9)"/><ellipse cx="65" cy="34" rx="7.24" ry="7.46" fill="url(#cg2)" transform="rotate(135 65 34)"/><ellipse cx="32.6" cy="37.9" rx="9.80" ry="10.46" fill="url(#shd)" transform="rotate(151 32.6 37.9)"/><ellipse cx="32" cy="37" rx="7.84" ry="8.37" fill="url(#cg2)" transform="rotate(151 32 37)"/><ellipse cx="40.6" cy="60.9" rx="10.18" ry="7.98" fill="url(#shd)" transform="rotate(133 40.6 60.9)"/><ellipse cx="40" cy="60" rx="8.14" ry="6.38" fill="url(#cg2)" transform="rotate(133 40 60)"/><ellipse cx="57.6" cy="65.9" rx="6.57" ry="6.17" fill="url(#shd)" transform="rotate(13 57.6 65.9)"/><ellipse cx="57" cy="65" rx="5.25" ry="4.94" fill="url(#cg2)" transform="rotate(13 57 65)"/><ellipse cx="99.6" cy="63.9" rx="7.52" ry="8.25" fill="url(#shd)" transform="rotate(36 99.6 63.9)"/><ellipse cx="99" cy="63" rx="6.02" ry="6.60" fill="url(#cg2)" transform="rotate(36 99 63)"/><ellipse cx="87.6" cy="43.9" rx="11.58" ry="9.55" fill="url(#shd)" transform="rotate(82 87.6 43.9)"/><ellipse cx="87" cy="43" rx="9.27" ry="7.64" fill="url(#cg2)" transform="rotate(82 87 43)"/><ellipse cx="94.6" cy="23.9" rx="8.05" ry="6.90" fill="url(#shd)" transform="rotate(112 94.6 23.9)"/><ellipse cx="94" cy="23" rx="6.44" ry="5.52" fill="url(#cg2)" transform="rotate(112 94 23)"/><ellipse cx="51.6" cy="20.9" rx="6.01" ry="8.08" fill="url(#shd)" transform="rotate(40 51.6 20.9)"/><ellipse cx="51" cy="20" rx="4.81" ry="6.46" fill="url(#cg2)" transform="rotate(40 51 20)"/><ellipse cx="16.6" cy="40.9" rx="7.59" ry="8.39" fill="url(#shd)" transform="rotate(45 16.6 40.9)"/><ellipse cx="16" cy="40" rx="6.07" ry="6.71" fill="url(#cg2)" transform="rotate(45 16 40)"/><ellipse cx="68.6" cy="59.9" rx="6.51" ry="8.78" fill="url(#shd)" transform="rotate(61 68.6 59.9)"/><ellipse cx="68" cy="59" rx="5.21" ry="7.02" fill="url(#cg2)" transform="rotate(61 68 59)"/><ellipse cx="50.6" cy="46.9" rx="6.22" ry="5.62" fill="url(#shd)" transform="rotate(15 50.6 46.9)"/><ellipse cx="50" cy="46" rx="4.98" ry="4.50" fill="url(#cg2)" transform="rotate(15 50 46)"/><ellipse cx="100.6" cy="5.9" rx="6.08" ry="5.92" fill="url(#shd)" transform="rotate(32 100.6 5.9)"/><ellipse cx="100" cy="5" rx="4.87" ry="4.74" fill="url(#cg2)" transform="rotate(32 100 5)"/><ellipse cx="60.6" cy="5.9" rx="7.91" ry="6.70" fill="url(#shd)" transform="rotate(15 60.6 5.9)"/><ellipse cx="60" cy="5" rx="6.33" ry="5.36" fill="url(#cg2)" transform="rotate(15 60 5)"/></g>
<rect x="17.00" y="880.90" width="105.3" height="75.2" filter="url(#semn)" style="mix-blend-mode:overlay" opacity="0.22"/>
<rect x="17.00" y="951.40" width="105.3" height="4.7" fill="#161616"/>
<circle cx="19.20" cy="953.70" r="1.3" fill="none" stroke="#9a9a9a" stroke-width="0.5"/>
<line x1="22.00" y1="952.80" x2="73.00" y2="952.80" stroke="#8a8a8a" stroke-width="0.8" stroke-dasharray="1.6 0.6 2.4 0.8 1 0.6"/>
<line x1="22.00" y1="954.80" x2="77.00" y2="954.80" stroke="#8a8a8a" stroke-width="0.8" stroke-dasharray="1.6 0.6 2.4 0.8 1 0.6"/>
<line x1="99.00" y1="952.80" x2="107.00" y2="952.80" stroke="#8a8a8a" stroke-width="0.7"/>
<line x1="100.00" y1="954.80" x2="106.00" y2="954.80" stroke="#777" stroke-width="0.7"/>
<line x1="80.00" y1="952.30" x2="117.00" y2="952.30" stroke="#6a6a6a" stroke-width="0.35"/>
</g>
<clipPath id="cpk2b"><rect x="123.60" y="880.90" width="105.3" height="75.2"/></clipPath>
<g clip-path="url(#cpk2b)">
<rect x="123.60" y="880.90" width="105.3" height="75.2" fill="#202020"/>
<g transform="translate(123.60,880.90)" filter="url(#sb)"><ellipse cx="18" cy="62" rx="22" ry="12" fill="#050505" filter="url(#sb2)"/><ellipse cx="6.0" cy="12.5" rx="8.80" ry="8.46" fill="url(#shd)" transform="rotate(65 6.0 12.5)"/><ellipse cx="5.4" cy="11.6" rx="7.04" ry="6.77" fill="url(#cg2)" transform="rotate(65 5.4 11.6)"/><ellipse cx="54.800000000000004" cy="6.300000000000001" rx="7.49" ry="8.64" fill="url(#shd)" transform="rotate(147 54.800000000000004 6.300000000000001)"/><ellipse cx="54.2" cy="5.4" rx="5.99" ry="6.91" fill="url(#cg2)" transform="rotate(147 54.2 5.4)"/><ellipse cx="71.8" cy="6.300000000000001" rx="7.84" ry="8.89" fill="url(#shd)" transform="rotate(78 71.8 6.300000000000001)"/><ellipse cx="71.2" cy="5.4" rx="6.27" ry="7.11" fill="url(#cg2)" transform="rotate(78 71.2 5.4)"/><ellipse cx="88.8" cy="7.1000000000000005" rx="7.52" ry="7.64" fill="url(#shd)" transform="rotate(142 88.8 7.1000000000000005)"/><ellipse cx="88.2" cy="6.2" rx="6.02" ry="6.11" fill="url(#cg2)" transform="rotate(142 88.2 6.2)"/><ellipse cx="76.5" cy="18.7" rx="10.22" ry="11.66" fill="url(#shd)" transform="rotate(124 76.5 18.7)"/><ellipse cx="75.9" cy="17.8" rx="8.17" ry="9.33" fill="url(#cg2)" transform="rotate(124 75.9 17.8)"/><ellipse cx="99.6" cy="25.7" rx="9.24" ry="9.56" fill="url(#shd)" transform="rotate(86 99.6 25.7)"/><ellipse cx="99" cy="24.8" rx="7.39" ry="7.65" fill="url(#cg2)" transform="rotate(86 99 24.8)"/><ellipse cx="93.5" cy="16.4" rx="7.85" ry="7.17" fill="url(#shd)" transform="rotate(8 93.5 16.4)"/><ellipse cx="92.9" cy="15.5" rx="6.28" ry="5.74" fill="url(#cg2)" transform="rotate(8 92.9 15.5)"/><ellipse cx="23.8" cy="25.7" rx="11.13" ry="9.30" fill="url(#shd)" transform="rotate(7 23.8 25.7)"/><ellipse cx="23.2" cy="24.8" rx="8.90" ry="7.44" fill="url(#cg2)" transform="rotate(7 23.2 24.8)"/><ellipse cx="9.9" cy="34.199999999999996" rx="9.74" ry="11.85" fill="url(#shd)" transform="rotate(52 9.9 34.199999999999996)"/><ellipse cx="9.3" cy="33.3" rx="7.79" ry="9.48" fill="url(#cg2)" transform="rotate(52 9.3 33.3)"/><ellipse cx="47.0" cy="19.5" rx="10.00" ry="10.38" fill="url(#shd)" transform="rotate(132 47.0 19.5)"/><ellipse cx="46.4" cy="18.6" rx="8.00" ry="8.30" fill="url(#cg2)" transform="rotate(132 46.4 18.6)"/><ellipse cx="34.6" cy="36.5" rx="14.29" ry="12.40" fill="url(#shd)" transform="rotate(51 34.6 36.5)"/><ellipse cx="34" cy="35.6" rx="11.43" ry="9.92" fill="url(#cg2)" transform="rotate(51 34 35.6)"/><ellipse cx="53.2" cy="38.8" rx="12.72" ry="11.55" fill="url(#shd)" transform="rotate(122 53.2 38.8)"/><ellipse cx="52.6" cy="37.9" rx="10.18" ry="9.24" fill="url(#cg2)" transform="rotate(122 52.6 37.9)"/><ellipse cx="72.6" cy="38.1" rx="9.89" ry="9.13" fill="url(#shd)" transform="rotate(81 72.6 38.1)"/><ellipse cx="72" cy="37.2" rx="7.91" ry="7.31" fill="url(#cg2)" transform="rotate(81 72 37.2)"/><ellipse cx="81.89999999999999" cy="48.9" rx="9.00" ry="9.73" fill="url(#shd)" transform="rotate(46 81.89999999999999 48.9)"/><ellipse cx="81.3" cy="48" rx="7.20" ry="7.79" fill="url(#cg2)" transform="rotate(46 81.3 48)"/><ellipse cx="98.1" cy="43.5" rx="12.29" ry="12.44" fill="url(#shd)" transform="rotate(121 98.1 43.5)"/><ellipse cx="97.5" cy="42.6" rx="9.83" ry="9.95" fill="url(#cg2)" transform="rotate(121 97.5 42.6)"/><ellipse cx="31.6" cy="52.0" rx="7.98" ry="7.50" fill="url(#shd)" transform="rotate(144 31.6 52.0)"/><ellipse cx="31" cy="51.1" rx="6.39" ry="6.00" fill="url(#cg2)" transform="rotate(144 31 51.1)"/><ellipse cx="57.9" cy="59.699999999999996" rx="10.28" ry="10.91" fill="url(#shd)" transform="rotate(131 57.9 59.699999999999996)"/><ellipse cx="57.3" cy="58.8" rx="8.22" ry="8.73" fill="url(#cg2)" transform="rotate(131 57.3 58.8)"/><ellipse cx="43.9" cy="52.0" rx="9.24" ry="8.96" fill="url(#shd)" transform="rotate(35 43.9 52.0)"/><ellipse cx="43.3" cy="51.1" rx="7.39" ry="7.17" fill="url(#cg2)" transform="rotate(35 43.3 51.1)"/><ellipse cx="90.39999999999999" cy="65.9" rx="8.78" ry="10.13" fill="url(#shd)" transform="rotate(168 90.39999999999999 65.9)"/><ellipse cx="89.8" cy="65" rx="7.03" ry="8.10" fill="url(#cg2)" transform="rotate(168 89.8 65)"/><ellipse cx="71.8" cy="62.8" rx="8.25" ry="7.83" fill="url(#shd)" transform="rotate(84 71.8 62.8)"/><ellipse cx="71.2" cy="61.9" rx="6.60" ry="6.26" fill="url(#cg2)" transform="rotate(84 71.2 61.9)"/><ellipse cx="101.19999999999999" cy="59.699999999999996" rx="8.89" ry="6.70" fill="url(#shd)" transform="rotate(10 101.19999999999999 59.699999999999996)"/><ellipse cx="100.6" cy="58.8" rx="7.11" ry="5.36" fill="url(#cg2)" transform="rotate(10 100.6 58.8)"/><ellipse cx="93.5" cy="56.6" rx="8.27" ry="8.42" fill="url(#shd)" transform="rotate(146 93.5 56.6)"/><ellipse cx="92.9" cy="55.7" rx="6.62" ry="6.73" fill="url(#cg2)" transform="rotate(146 92.9 55.7)"/></g>
<rect x="123.60" y="880.90" width="105.3" height="75.2" filter="url(#semn)" style="mix-blend-mode:overlay" opacity="0.22"/>
<rect x="123.60" y="951.40" width="105.3" height="4.7" fill="#161616"/>
<circle cx="125.80" cy="953.70" r="1.3" fill="none" stroke="#9a9a9a" stroke-width="0.5"/>
<line x1="128.60" y1="952.80" x2="179.60" y2="952.80" stroke="#8a8a8a" stroke-width="0.8" stroke-dasharray="1.6 0.6 2.4 0.8 1 0.6"/>
<line x1="128.60" y1="954.80" x2="183.60" y2="954.80" stroke="#8a8a8a" stroke-width="0.8" stroke-dasharray="1.6 0.6 2.4 0.8 1 0.6"/>
<line x1="205.60" y1="952.80" x2="213.60" y2="952.80" stroke="#8a8a8a" stroke-width="0.7"/>
<line x1="206.60" y1="954.80" x2="212.60" y2="954.80" stroke="#777" stroke-width="0.7"/>
<line x1="186.60" y1="952.30" x2="223.60" y2="952.30" stroke="#6a6a6a" stroke-width="0.35"/>
</g>
<clipPath id="cpk3b"><rect x="230.40" y="880.90" width="105.3" height="75.2"/></clipPath>
<g clip-path="url(#cpk3b)">
<rect x="230.40" y="880.90" width="105.3" height="75.2" fill="#4e4e4e"/>
<g transform="translate(230.40,880.90)" filter="url(#sb)"><ellipse cx="5.199999999999999" cy="28.799999999999997" rx="10.25" ry="10.30" fill="url(#shd)" transform="rotate(120 5.199999999999999 28.799999999999997)"/><ellipse cx="4.6" cy="27.9" rx="8.20" ry="8.24" fill="url(#cg3)" transform="rotate(120 4.6 27.9)"/><ellipse cx="26.1" cy="25.7" rx="15.54" ry="14.97" fill="url(#shd)" transform="rotate(101 26.1 25.7)"/><ellipse cx="25.5" cy="24.8" rx="12.43" ry="11.97" fill="url(#cg3)" transform="rotate(101 25.5 24.8)"/><ellipse cx="35.4" cy="9.4" rx="12.47" ry="13.27" fill="url(#shd)" transform="rotate(142 35.4 9.4)"/><ellipse cx="34.8" cy="8.5" rx="9.97" ry="10.62" fill="url(#cg3)" transform="rotate(142 34.8 8.5)"/><ellipse cx="53.2" cy="9.4" rx="9.86" ry="10.33" fill="url(#shd)" transform="rotate(85 53.2 9.4)"/><ellipse cx="52.6" cy="8.5" rx="7.88" ry="8.26" fill="url(#cg3)" transform="rotate(85 52.6 8.5)"/><ellipse cx="64.1" cy="25.7" rx="12.61" ry="14.40" fill="url(#shd)" transform="rotate(118 64.1 25.7)"/><ellipse cx="63.5" cy="24.8" rx="10.09" ry="11.52" fill="url(#cg3)" transform="rotate(118 63.5 24.8)"/><ellipse cx="78.0" cy="9.4" rx="9.31" ry="9.45" fill="url(#shd)" transform="rotate(33 78.0 9.4)"/><ellipse cx="77.4" cy="8.5" rx="7.44" ry="7.56" fill="url(#cg3)" transform="rotate(33 77.4 8.5)"/><ellipse cx="89.6" cy="14.8" rx="9.82" ry="10.51" fill="url(#shd)" transform="rotate(68 89.6 14.8)"/><ellipse cx="89" cy="13.9" rx="7.85" ry="8.40" fill="url(#cg3)" transform="rotate(68 89 13.9)"/><ellipse cx="99.6" cy="28.0" rx="10.39" ry="11.31" fill="url(#shd)" transform="rotate(91 99.6 28.0)"/><ellipse cx="99" cy="27.1" rx="8.31" ry="9.05" fill="url(#cg3)" transform="rotate(91 99 27.1)"/><ellipse cx="85.0" cy="36.5" rx="12.23" ry="12.31" fill="url(#shd)" transform="rotate(153 85.0 36.5)"/><ellipse cx="84.4" cy="35.6" rx="9.78" ry="9.85" fill="url(#cg3)" transform="rotate(153 84.4 35.6)"/><ellipse cx="68.69999999999999" cy="44.199999999999996" rx="10.76" ry="11.21" fill="url(#shd)" transform="rotate(165 68.69999999999999 44.199999999999996)"/><ellipse cx="68.1" cy="43.3" rx="8.61" ry="8.97" fill="url(#cg3)" transform="rotate(165 68.1 43.3)"/><ellipse cx="33.9" cy="51.199999999999996" rx="12.90" ry="11.69" fill="url(#shd)" transform="rotate(57 33.9 51.199999999999996)"/><ellipse cx="33.3" cy="50.3" rx="10.32" ry="9.35" fill="url(#cg3)" transform="rotate(57 33.3 50.3)"/><ellipse cx="54.800000000000004" cy="55.1" rx="13.29" ry="11.87" fill="url(#shd)" transform="rotate(40 54.800000000000004 55.1)"/><ellipse cx="54.2" cy="54.2" rx="10.63" ry="9.49" fill="url(#cg3)" transform="rotate(40 54.2 54.2)"/><ellipse cx="79.6" cy="56.6" rx="12.56" ry="12.71" fill="url(#shd)" transform="rotate(136 79.6 56.6)"/><ellipse cx="79" cy="55.7" rx="10.05" ry="10.17" fill="url(#cg3)" transform="rotate(136 79 55.7)"/><ellipse cx="98.1" cy="48.9" rx="12.30" ry="12.46" fill="url(#shd)" transform="rotate(22 98.1 48.9)"/><ellipse cx="97.5" cy="48" rx="9.84" ry="9.97" fill="url(#cg3)" transform="rotate(22 97.5 48)"/><ellipse cx="16.1" cy="61.3" rx="11.70" ry="12.85" fill="url(#shd)" transform="rotate(160 16.1 61.3)"/><ellipse cx="15.5" cy="60.4" rx="9.36" ry="10.28" fill="url(#cg3)" transform="rotate(160 15.5 60.4)"/><ellipse cx="33.1" cy="66.7" rx="10.56" ry="10.51" fill="url(#shd)" transform="rotate(0 33.1 66.7)"/><ellipse cx="32.5" cy="65.8" rx="8.45" ry="8.41" fill="url(#cg3)" transform="rotate(0 32.5 65.8)"/><ellipse cx="64.1" cy="65.9" rx="11.28" ry="10.42" fill="url(#shd)" transform="rotate(95 64.1 65.9)"/><ellipse cx="63.5" cy="65" rx="9.02" ry="8.33" fill="url(#cg3)" transform="rotate(95 63.5 65)"/><ellipse cx="5.199999999999999" cy="67.5" rx="5.83" ry="5.68" fill="url(#shd)" transform="rotate(173 5.199999999999999 67.5)"/><ellipse cx="4.6" cy="66.6" rx="4.66" ry="4.55" fill="url(#cg3)" transform="rotate(173 4.6 66.6)"/></g>
<rect x="230.40" y="880.90" width="105.3" height="75.2" filter="url(#semn)" style="mix-blend-mode:overlay" opacity="0.22"/>
<rect x="230.40" y="951.40" width="105.3" height="4.7" fill="#161616"/>
<circle cx="232.60" cy="953.70" r="1.3" fill="none" stroke="#9a9a9a" stroke-width="0.5"/>
<line x1="235.40" y1="952.80" x2="286.40" y2="952.80" stroke="#8a8a8a" stroke-width="0.8" stroke-dasharray="1.6 0.6 2.4 0.8 1 0.6"/>
<line x1="235.40" y1="954.80" x2="290.40" y2="954.80" stroke="#8a8a8a" stroke-width="0.8" stroke-dasharray="1.6 0.6 2.4 0.8 1 0.6"/>
<line x1="312.40" y1="952.80" x2="320.40" y2="952.80" stroke="#8a8a8a" stroke-width="0.7"/>
<line x1="313.40" y1="954.80" x2="319.40" y2="954.80" stroke="#777" stroke-width="0.7"/>
<line x1="293.40" y1="952.30" x2="330.40" y2="952.30" stroke="#6a6a6a" stroke-width="0.35"/>
</g>
<text transform="translate(350.60 791.50) scale(1 1.03)" font-size="17.51" text-anchor="start" font-weight="bold" fill="#000" stroke="#000" stroke-width="0.15">l</text>
<text transform="translate(414.65 799.20) scale(1 1.03)" font-size="11.95" text-anchor="middle" font-weight="bold" fill="#111" stroke="#111" stroke-width="0.15">4×MIC</text>
<text transform="translate(521.85 799.20) scale(1 1.03)" font-size="11.95" text-anchor="middle" font-weight="bold" fill="#111" stroke="#111" stroke-width="0.15">2×MIC</text>
<text transform="translate(629.05 799.20) scale(1 1.03)" font-size="11.95" text-anchor="middle" font-weight="bold" fill="#111" stroke="#111" stroke-width="0.15">Control</text>
<clipPath id="cpl1t"><rect x="362.00" y="804.50" width="105.3" height="75.2"/></clipPath>
<g clip-path="url(#cpl1t)">
<rect x="362.00" y="804.50" width="105.3" height="75.2" fill="#4a4a4a"/>
<g transform="translate(362.00,804.50)" filter="url(#sb)"><ellipse cx="35.6" cy="49.5" rx="4" ry="4" fill="#050505" filter="url(#sb2)"/><ellipse cx="74.3" cy="35.6" rx="4" ry="2.5" fill="#050505" filter="url(#sb2)"/><ellipse cx="46" cy="40" rx="6" ry="4" fill="#1a1a1a" filter="url(#sb2)"/><ellipse cx="50" cy="55" rx="4" ry="3" fill="#111" filter="url(#sb2)"/><rect x="-8.35" y="-3.65" width="16.70" height="8.50" rx="4.15" fill="#000" fill-opacity="0.35" transform="translate(21.2 49.3) rotate(-35)"/><rect x="-7.55" y="-3.35" width="15.10" height="6.70" rx="3.35" fill="url(#rg3)" transform="translate(20.7 48.5) rotate(-35)"/><rect x="-9.65" y="-3.30" width="19.30" height="7.80" rx="3.80" fill="#000" fill-opacity="0.35" transform="translate(99.5 35.699999999999996) rotate(45)"/><rect x="-8.85" y="-3.00" width="17.70" height="6.00" rx="3.00" fill="url(#rg3)" transform="translate(99.0 34.9) rotate(45)"/><rect x="-7.30" y="-3.80" width="14.60" height="8.80" rx="4.30" fill="#000" fill-opacity="0.35" transform="translate(27.9 6.0) rotate(-73)"/><rect x="-6.50" y="-3.50" width="13.00" height="7.00" rx="3.50" fill="url(#rg3)" transform="translate(27.4 5.2) rotate(-73)"/><rect x="-9.50" y="-3.90" width="19.00" height="9.00" rx="4.40" fill="#000" fill-opacity="0.35" transform="translate(19.3 53.099999999999994) rotate(21)"/><rect x="-8.70" y="-3.60" width="17.40" height="7.20" rx="3.60" fill="url(#rg3)" transform="translate(18.8 52.3) rotate(21)"/><rect x="-9.30" y="-3.80" width="18.60" height="8.80" rx="4.30" fill="#000" fill-opacity="0.35" transform="translate(100.3 52.3) rotate(-82)"/><rect x="-8.50" y="-3.50" width="17.00" height="7.00" rx="3.50" fill="url(#rg3)" transform="translate(99.8 51.5) rotate(-82)"/><rect x="-8.60" y="-3.85" width="17.20" height="8.90" rx="4.35" fill="#000" fill-opacity="0.35" transform="translate(96.4 39.8) rotate(4)"/><rect x="-7.80" y="-3.55" width="15.60" height="7.10" rx="3.55" fill="url(#rg3)" transform="translate(95.9 39.0) rotate(4)"/><rect x="-6.15" y="-4.05" width="12.30" height="9.30" rx="4.55" fill="#000" fill-opacity="0.35" transform="translate(7.7 52.5) rotate(-85)"/><rect x="-5.35" y="-3.75" width="10.70" height="7.50" rx="3.75" fill="url(#rg3)" transform="translate(7.2 51.7) rotate(-85)"/><rect x="-7.15" y="-3.65" width="14.30" height="8.50" rx="4.15" fill="#000" fill-opacity="0.35" transform="translate(48.5 40.599999999999994) rotate(-43)"/><rect x="-6.35" y="-3.35" width="12.70" height="6.70" rx="3.35" fill="url(#rg3)" transform="translate(48.0 39.8) rotate(-43)"/><rect x="-9.10" y="-3.15" width="18.20" height="7.50" rx="3.65" fill="#000" fill-opacity="0.35" transform="translate(68.7 35.4) rotate(-40)"/><rect x="-8.30" y="-2.85" width="16.60" height="5.70" rx="2.85" fill="url(#rg3)" transform="translate(68.2 34.6) rotate(-40)"/><rect x="-9.40" y="-4.00" width="18.80" height="9.20" rx="4.50" fill="#000" fill-opacity="0.35" transform="translate(25.3 66.8) rotate(58)"/><rect x="-8.60" y="-3.70" width="17.20" height="7.40" rx="3.70" fill="url(#rg3)" transform="translate(24.8 66.0) rotate(58)"/><rect x="-8.05" y="-3.75" width="16.10" height="8.70" rx="4.25" fill="#000" fill-opacity="0.35" transform="translate(99.4 10.3) rotate(9)"/><rect x="-7.25" y="-3.45" width="14.50" height="6.90" rx="3.45" fill="url(#rg3)" transform="translate(98.9 9.5) rotate(9)"/><rect x="-9.35" y="-3.55" width="18.70" height="8.30" rx="4.05" fill="#000" fill-opacity="0.35" transform="translate(24.6 64.0) rotate(3)"/><rect x="-8.55" y="-3.25" width="17.10" height="6.50" rx="3.25" fill="url(#rg3)" transform="translate(24.1 63.2) rotate(3)"/><rect x="-7.05" y="-3.65" width="14.10" height="8.50" rx="4.15" fill="#000" fill-opacity="0.35" transform="translate(96.2 37.4) rotate(-22)"/><rect x="-6.25" y="-3.35" width="12.50" height="6.70" rx="3.35" fill="url(#rg3)" transform="translate(95.7 36.6) rotate(-22)"/><rect x="-8.65" y="-4.30" width="17.30" height="9.80" rx="4.80" fill="#000" fill-opacity="0.35" transform="translate(8.0 11.700000000000001) rotate(36)"/><rect x="-7.85" y="-4.00" width="15.70" height="8.00" rx="4.00" fill="url(#rg3)" transform="translate(7.5 10.9) rotate(36)"/><rect x="-8.20" y="-3.70" width="16.40" height="8.60" rx="4.20" fill="#000" fill-opacity="0.35" transform="translate(5.8 10.200000000000001) rotate(56)"/><rect x="-7.40" y="-3.40" width="14.80" height="6.80" rx="3.40" fill="url(#rg3)" transform="translate(5.3 9.4) rotate(56)"/><rect x="-8.30" y="-3.30" width="16.60" height="7.80" rx="3.80" fill="#000" fill-opacity="0.35" transform="translate(63.3 40.9) rotate(-47)"/><rect x="-7.50" y="-3.00" width="15.00" height="6.00" rx="3.00" fill="url(#rg3)" transform="translate(62.8 40.1) rotate(-47)"/><rect x="-7.15" y="-4.00" width="14.30" height="9.20" rx="4.50" fill="#000" fill-opacity="0.35" transform="translate(65.0 58.3) rotate(-12)"/><rect x="-6.35" y="-3.70" width="12.70" height="7.40" rx="3.70" fill="url(#rg3)" transform="translate(64.5 57.5) rotate(-12)"/><rect x="-9.50" y="-3.25" width="19.00" height="7.70" rx="3.75" fill="#000" fill-opacity="0.35" transform="translate(28.8 16.4) rotate(19)"/><rect x="-8.70" y="-2.95" width="17.40" height="5.90" rx="2.95" fill="url(#rg3)" transform="translate(28.3 15.6) rotate(19)"/><rect x="-8.50" y="-4.15" width="17.00" height="9.50" rx="4.65" fill="#000" fill-opacity="0.35" transform="translate(41.1 48.9) rotate(-29)"/><rect x="-7.70" y="-3.85" width="15.40" height="7.70" rx="3.85" fill="url(#rg3)" transform="translate(40.6 48.1) rotate(-29)"/><rect x="-9.65" y="-3.80" width="19.30" height="8.80" rx="4.30" fill="#000" fill-opacity="0.35" transform="translate(44.2 68.1) rotate(-2)"/><rect x="-8.85" y="-3.50" width="17.70" height="7.00" rx="3.50" fill="url(#rg3)" transform="translate(43.7 67.3) rotate(-2)"/><rect x="-6.80" y="-4.15" width="13.60" height="9.50" rx="4.65" fill="#000" fill-opacity="0.35" transform="translate(52.1 29.5) rotate(-49)"/><rect x="-6.00" y="-3.85" width="12.00" height="7.70" rx="3.85" fill="url(#rg3)" transform="translate(51.6 28.7) rotate(-49)"/><rect x="-7.45" y="-4.00" width="14.90" height="9.20" rx="4.50" fill="#000" fill-opacity="0.35" transform="translate(58.9 33.5) rotate(-76)"/><rect x="-6.65" y="-3.70" width="13.30" height="7.40" rx="3.70" fill="url(#rg3)" transform="translate(58.4 32.7) rotate(-76)"/><rect x="-6.85" y="-3.40" width="13.70" height="8.00" rx="3.90" fill="#000" fill-opacity="0.35" transform="translate(85.0 9.100000000000001) rotate(17)"/><rect x="-6.05" y="-3.10" width="12.10" height="6.20" rx="3.10" fill="url(#rg3)" transform="translate(84.5 8.3) rotate(17)"/><rect x="-9.30" y="-3.85" width="18.60" height="8.90" rx="4.35" fill="#000" fill-opacity="0.35" transform="translate(29.1 30.7) rotate(-53)"/><rect x="-8.50" y="-3.55" width="17.00" height="7.10" rx="3.55" fill="url(#rg3)" transform="translate(28.6 29.9) rotate(-53)"/><rect x="-7.70" y="-3.35" width="15.40" height="7.90" rx="3.85" fill="#000" fill-opacity="0.35" transform="translate(98.9 52.8) rotate(76)"/><rect x="-6.90" y="-3.05" width="13.80" height="6.10" rx="3.05" fill="url(#rg3)" transform="translate(98.4 52.0) rotate(76)"/><rect x="-5.90" y="-3.30" width="11.80" height="7.80" rx="3.80" fill="#000" fill-opacity="0.35" transform="translate(55.4 51.699999999999996) rotate(3)"/><rect x="-5.10" y="-3.00" width="10.20" height="6.00" rx="3.00" fill="url(#rg3)" transform="translate(54.9 50.9) rotate(3)"/><rect x="-10.80" y="-4.95" width="21.60" height="11.10" rx="5.45" fill="#000" fill-opacity="0.35" transform="translate(20.6 19.400000000000002) rotate(-20)"/><rect x="-10.00" y="-4.65" width="20.00" height="9.30" rx="4.65" fill="url(#rg3)" transform="translate(20.1 18.6) rotate(-20)"/><rect x="-5.45" y="-3.00" width="10.90" height="7.20" rx="3.50" fill="#000" fill-opacity="0.35" transform="translate(6.7 27.1) rotate(60)"/><rect x="-4.65" y="-2.70" width="9.30" height="5.40" rx="2.70" fill="url(#rg3)" transform="translate(6.2 26.3) rotate(60)"/><rect x="-6.80" y="-3.80" width="13.60" height="8.80" rx="4.30" fill="#000" fill-opacity="0.35" transform="translate(5.1 39.5) rotate(0)"/><rect x="-6.00" y="-3.50" width="12.00" height="7.00" rx="3.50" fill="url(#rg3)" transform="translate(4.6 38.7) rotate(0)"/><rect x="-8.55" y="-4.15" width="17.10" height="9.50" rx="4.65" fill="#000" fill-opacity="0.35" transform="translate(31.5 31.8) rotate(-60)"/><rect x="-7.75" y="-3.85" width="15.50" height="7.70" rx="3.85" fill="url(#rg3)" transform="translate(31 31) rotate(-60)"/><rect x="-8.55" y="-3.40" width="17.10" height="8.00" rx="3.90" fill="#000" fill-opacity="0.35" transform="translate(51.5 4.7) rotate(10)"/><rect x="-7.75" y="-3.10" width="15.50" height="6.20" rx="3.10" fill="url(#rg3)" transform="translate(51 3.9) rotate(10)"/><rect x="-6.80" y="-3.40" width="13.60" height="8.00" rx="3.90" fill="#000" fill-opacity="0.35" transform="translate(68.6 5.3999999999999995) rotate(0)"/><rect x="-6.00" y="-3.10" width="12.00" height="6.20" rx="3.10" fill="url(#rg3)" transform="translate(68.1 4.6) rotate(0)"/><rect x="-10.80" y="-4.55" width="21.60" height="10.30" rx="5.05" fill="#000" fill-opacity="0.35" transform="translate(90.3 10.100000000000001) rotate(-50)"/><rect x="-10.00" y="-4.25" width="20.00" height="8.50" rx="4.25" fill="url(#rg3)" transform="translate(89.8 9.3) rotate(-50)"/><rect x="-5.30" y="-3.30" width="10.60" height="7.80" rx="3.80" fill="#000" fill-opacity="0.35" transform="translate(77.9 11.600000000000001) rotate(0)"/><rect x="-4.50" y="-3.00" width="9.00" height="6.00" rx="3.00" fill="url(#rg3)" transform="translate(77.4 10.8) rotate(0)"/><rect x="-12.30" y="-4.55" width="24.60" height="10.30" rx="5.05" fill="#000" fill-opacity="0.35" transform="translate(98.0 41.0) rotate(80)"/><rect x="-11.50" y="-4.25" width="23.00" height="8.50" rx="4.25" fill="url(#rg3)" transform="translate(97.5 40.2) rotate(80)"/><rect x="-6.80" y="-3.80" width="13.60" height="8.80" rx="4.30" fill="#000" fill-opacity="0.35" transform="translate(93.4 24.0) rotate(0)"/><rect x="-6.00" y="-3.50" width="12.00" height="7.00" rx="3.50" fill="url(#rg3)" transform="translate(92.9 23.2) rotate(0)"/><rect x="-6.80" y="-4.15" width="13.60" height="9.50" rx="4.65" fill="#000" fill-opacity="0.35" transform="translate(88.7 39.5) rotate(0)"/><rect x="-6.00" y="-3.85" width="12.00" height="7.70" rx="3.85" fill="url(#rg3)" transform="translate(88.2 38.7) rotate(0)"/><rect x="-10.10" y="-3.80" width="20.20" height="8.80" rx="4.30" fill="#000" fill-opacity="0.35" transform="translate(19.1 50.3) rotate(40)"/><rect x="-9.30" y="-3.50" width="18.60" height="7.00" rx="3.50" fill="url(#rg3)" transform="translate(18.6 49.5) rotate(40)"/><rect x="-16.30" y="-4.55" width="32.60" height="10.30" rx="5.05" fill="#000" fill-opacity="0.35" transform="translate(46.9 62.699999999999996) rotate(0)"/><rect x="-15.50" y="-4.25" width="31.00" height="8.50" rx="4.25" fill="url(#rg3)" transform="translate(46.4 61.9) rotate(0)"/><rect x="-8.55" y="-3.80" width="17.10" height="8.80" rx="4.30" fill="#000" fill-opacity="0.35" transform="translate(74.8 58.099999999999994) rotate(-30)"/><rect x="-7.75" y="-3.50" width="15.50" height="7.00" rx="3.50" fill="url(#rg3)" transform="translate(74.3 57.3) rotate(-30)"/><rect x="-8.55" y="-4.15" width="17.10" height="9.50" rx="4.65" fill="#000" fill-opacity="0.35" transform="translate(87.2 62.699999999999996) rotate(-30)"/><rect x="-7.75" y="-3.85" width="15.50" height="7.70" rx="3.85" fill="url(#rg3)" transform="translate(86.7 61.9) rotate(-30)"/><rect x="-8.30" y="-3.80" width="16.60" height="8.80" rx="4.30" fill="#000" fill-opacity="0.35" transform="translate(59.3 47.199999999999996) rotate(20)"/><rect x="-7.50" y="-3.50" width="15.00" height="7.00" rx="3.50" fill="url(#rg3)" transform="translate(58.8 46.4) rotate(20)"/><rect x="-5.80" y="-3.30" width="11.60" height="7.80" rx="3.80" fill="#000" fill-opacity="0.35" transform="translate(42.3 47.199999999999996) rotate(0)"/><rect x="-5.00" y="-3.00" width="10.00" height="6.00" rx="3.00" fill="url(#rg3)" transform="translate(41.8 46.4) rotate(0)"/><rect x="-7.80" y="-3.80" width="15.60" height="8.80" rx="4.30" fill="#000" fill-opacity="0.35" transform="translate(60.5 20.8) rotate(-10)"/><rect x="-7.00" y="-3.50" width="14.00" height="7.00" rx="3.50" fill="url(#rg3)" transform="translate(60 20) rotate(-10)"/><rect x="-6.80" y="-3.80" width="13.60" height="8.80" rx="4.30" fill="#000" fill-opacity="0.35" transform="translate(80.5 28.8) rotate(40)"/><rect x="-6.00" y="-3.50" width="12.00" height="7.00" rx="3.50" fill="url(#rg3)" transform="translate(80 28) rotate(40)"/><ellipse cx="35.6" cy="49.5" rx="3.5" ry="3.5" fill="#000" filter="url(#sb2)"/><ellipse cx="74.3" cy="35.6" rx="3.5" ry="2.2" fill="#000" filter="url(#sb2)"/><ellipse cx="46" cy="59.6" rx="3" ry="2" fill="#080808" filter="url(#sb2)"/><ellipse cx="41" cy="37" rx="2.5" ry="2.5" fill="#151515" filter="url(#sb2)"/><ellipse cx="56" cy="33" rx="2" ry="2" fill="#101010" filter="url(#sb2)"/><ellipse cx="30" cy="58" rx="2" ry="2.5" fill="#101010" filter="url(#sb2)"/><ellipse cx="49.5" cy="27.9" rx="6" ry="5" fill="#c4c4c4" filter="url(#sb2)"/><ellipse cx="72.8" cy="35.6" rx="6" ry="5" fill="#c8c8c8" filter="url(#sb2)"/><ellipse cx="37.9" cy="37.9" rx="4" ry="4" fill="#d0d0d0" filter="url(#sb2)"/><ellipse cx="31" cy="61.9" rx="3" ry="3" fill="#d4d4d4" filter="url(#sb2)"/><ellipse cx="99" cy="63.5" rx="3" ry="2" fill="#d0d0d0" filter="url(#sb2)"/><ellipse cx="6" cy="64" rx="2" ry="2" fill="#c0c0c0" filter="url(#sb2)"/><ellipse cx="14" cy="59" rx="2" ry="2" fill="#b0b0b0" filter="url(#sb2)"/></g>
<rect x="362.00" y="804.50" width="105.3" height="75.2" filter="url(#semn)" style="mix-blend-mode:overlay" opacity="0.22"/>
<rect x="362.00" y="875.00" width="105.3" height="4.7" fill="#161616"/>
<circle cx="364.20" cy="877.30" r="1.3" fill="none" stroke="#9a9a9a" stroke-width="0.5"/>
<line x1="367.00" y1="876.40" x2="418.00" y2="876.40" stroke="#8a8a8a" stroke-width="0.8" stroke-dasharray="1.6 0.6 2.4 0.8 1 0.6"/>
<line x1="367.00" y1="878.40" x2="422.00" y2="878.40" stroke="#8a8a8a" stroke-width="0.8" stroke-dasharray="1.6 0.6 2.4 0.8 1 0.6"/>
<line x1="444.00" y1="876.40" x2="452.00" y2="876.40" stroke="#8a8a8a" stroke-width="0.7"/>
<line x1="445.00" y1="878.40" x2="451.00" y2="878.40" stroke="#777" stroke-width="0.7"/>
<line x1="425.00" y1="875.90" x2="462.00" y2="875.90" stroke="#6a6a6a" stroke-width="0.35"/>
</g>
<rect x="394.40" y="820.70" width="53.60" height="37.40" fill="none" stroke="#b52a26" stroke-width="1.1" stroke-dasharray="3 2"/>
<line x1="394.40" y1="858.10" x2="362.00" y2="880.20" stroke="#b52a26" stroke-width="1.1" stroke-dasharray="3 2"/>
<line x1="448.00" y1="858.10" x2="467.30" y2="880.20" stroke="#b52a26" stroke-width="1.1" stroke-dasharray="3 2"/>
<clipPath id="cpl2t"><rect x="469.20" y="804.50" width="105.3" height="75.2"/></clipPath>
<g clip-path="url(#cpl2t)">
<rect x="469.20" y="804.50" width="105.3" height="75.2" fill="#4c4c4c"/>
<g transform="translate(469.20,804.50)" filter="url(#sb)"><ellipse cx="92" cy="62" rx="12" ry="8" fill="#555" filter="url(#sb2)"/><rect x="-6.90" y="-5.30" width="13.80" height="11.80" rx="5.80" fill="#000" fill-opacity="0.35" transform="translate(98.4 12.100000000000001) rotate(-43)"/><rect x="-6.10" y="-5.00" width="12.20" height="10.00" rx="5.00" fill="url(#rg4)" transform="translate(97.9 11.3) rotate(-43)"/><rect x="-10.30" y="-5.05" width="20.60" height="11.30" rx="5.55" fill="#000" fill-opacity="0.35" transform="translate(73.0 47.4) rotate(-70)"/><rect x="-9.50" y="-4.75" width="19.00" height="9.50" rx="4.75" fill="url(#rg4)" transform="translate(72.5 46.6) rotate(-70)"/><rect x="-8.10" y="-4.80" width="16.20" height="10.80" rx="5.30" fill="#000" fill-opacity="0.35" transform="translate(26.4 60.4) rotate(51)"/><rect x="-7.30" y="-4.50" width="14.60" height="9.00" rx="4.50" fill="url(#rg4)" transform="translate(25.9 59.6) rotate(51)"/><rect x="-9.65" y="-4.10" width="19.30" height="9.40" rx="4.60" fill="#000" fill-opacity="0.35" transform="translate(71.3 58.3) rotate(-85)"/><rect x="-8.85" y="-3.80" width="17.70" height="7.60" rx="3.80" fill="url(#rg4)" transform="translate(70.8 57.5) rotate(-85)"/><rect x="-7.55" y="-5.10" width="15.10" height="11.40" rx="5.60" fill="#000" fill-opacity="0.35" transform="translate(61.9 22.1) rotate(59)"/><rect x="-6.75" y="-4.80" width="13.50" height="9.60" rx="4.80" fill="url(#rg4)" transform="translate(61.4 21.3) rotate(59)"/><rect x="-10.75" y="-5.25" width="21.50" height="11.70" rx="5.75" fill="#000" fill-opacity="0.35" transform="translate(56.1 46.8) rotate(-75)"/><rect x="-9.95" y="-4.95" width="19.90" height="9.90" rx="4.95" fill="url(#rg4)" transform="translate(55.6 46.0) rotate(-75)"/><rect x="-7.85" y="-5.25" width="15.70" height="11.70" rx="5.75" fill="#000" fill-opacity="0.35" transform="translate(72.6 39.9) rotate(-11)"/><rect x="-7.05" y="-4.95" width="14.10" height="9.90" rx="4.95" fill="url(#rg4)" transform="translate(72.1 39.1) rotate(-11)"/><rect x="-10.60" y="-4.70" width="21.20" height="10.60" rx="5.20" fill="#000" fill-opacity="0.35" transform="translate(92.7 55.199999999999996) rotate(-19)"/><rect x="-9.80" y="-4.40" width="19.60" height="8.80" rx="4.40" fill="url(#rg4)" transform="translate(92.2 54.4) rotate(-19)"/><rect x="-7.55" y="-4.10" width="15.10" height="9.40" rx="4.60" fill="#000" fill-opacity="0.35" transform="translate(85.2 43.199999999999996) rotate(46)"/><rect x="-6.75" y="-3.80" width="13.50" height="7.60" rx="3.80" fill="url(#rg4)" transform="translate(84.7 42.4) rotate(46)"/><rect x="-7.80" y="-4.40" width="15.60" height="10.00" rx="4.90" fill="#000" fill-opacity="0.35" transform="translate(92.7 28.5) rotate(14)"/><rect x="-7.00" y="-4.10" width="14.00" height="8.20" rx="4.10" fill="url(#rg4)" transform="translate(92.2 27.7) rotate(14)"/><rect x="-7.55" y="-4.75" width="15.10" height="10.70" rx="5.25" fill="#000" fill-opacity="0.35" transform="translate(42.8 58.3) rotate(11)"/><rect x="-6.75" y="-4.45" width="13.50" height="8.90" rx="4.45" fill="url(#rg4)" transform="translate(42.3 57.5) rotate(11)"/><rect x="-9.20" y="-4.75" width="18.40" height="10.70" rx="5.25" fill="#000" fill-opacity="0.35" transform="translate(61.2 21.3) rotate(20)"/><rect x="-8.40" y="-4.45" width="16.80" height="8.90" rx="4.45" fill="url(#rg4)" transform="translate(60.7 20.5) rotate(20)"/><rect x="-8.50" y="-4.15" width="17.00" height="9.50" rx="4.65" fill="#000" fill-opacity="0.35" transform="translate(78.5 56.9) rotate(23)"/><rect x="-7.70" y="-3.85" width="15.40" height="7.70" rx="3.85" fill="url(#rg4)" transform="translate(78.0 56.1) rotate(23)"/><rect x="-8.40" y="-5.20" width="16.80" height="11.60" rx="5.70" fill="#000" fill-opacity="0.35" transform="translate(38.7 29.3) rotate(-40)"/><rect x="-7.60" y="-4.90" width="15.20" height="9.80" rx="4.90" fill="url(#rg4)" transform="translate(38.2 28.5) rotate(-40)"/><rect x="-7.20" y="-5.15" width="14.40" height="11.50" rx="5.65" fill="#000" fill-opacity="0.35" transform="translate(54.2 27.400000000000002) rotate(-47)"/><rect x="-6.40" y="-4.85" width="12.80" height="9.70" rx="4.85" fill="url(#rg4)" transform="translate(53.7 26.6) rotate(-47)"/><rect x="-7.50" y="-5.20" width="15.00" height="11.60" rx="5.70" fill="#000" fill-opacity="0.35" transform="translate(6.5 26.0) rotate(71)"/><rect x="-6.70" y="-4.90" width="13.40" height="9.80" rx="4.90" fill="url(#rg4)" transform="translate(6.0 25.2) rotate(71)"/><rect x="-8.95" y="-5.05" width="17.90" height="11.30" rx="5.55" fill="#000" fill-opacity="0.35" transform="translate(22.4 6.0) rotate(75)"/><rect x="-8.15" y="-4.75" width="16.30" height="9.50" rx="4.75" fill="url(#rg4)" transform="translate(21.9 5.2) rotate(75)"/><rect x="-7.20" y="-4.30" width="14.40" height="9.80" rx="4.80" fill="#000" fill-opacity="0.35" transform="translate(76.7 42.5) rotate(-59)"/><rect x="-6.40" y="-4.00" width="12.80" height="8.00" rx="4.00" fill="url(#rg4)" transform="translate(76.2 41.7) rotate(-59)"/><rect x="-8.65" y="-5.10" width="17.30" height="11.40" rx="5.60" fill="#000" fill-opacity="0.35" transform="translate(85.5 58.099999999999994) rotate(37)"/><rect x="-7.85" y="-4.80" width="15.70" height="9.60" rx="4.80" fill="url(#rg4)" transform="translate(85.0 57.3) rotate(37)"/><rect x="-7.95" y="-4.90" width="15.90" height="11.00" rx="5.40" fill="#000" fill-opacity="0.35" transform="translate(73.6 11.8) rotate(31)"/><rect x="-7.15" y="-4.60" width="14.30" height="9.20" rx="4.60" fill="url(#rg4)" transform="translate(73.1 11.0) rotate(31)"/><rect x="-9.65" y="-5.25" width="19.30" height="11.70" rx="5.75" fill="#000" fill-opacity="0.35" transform="translate(50.6 7.7) rotate(-62)"/><rect x="-8.85" y="-4.95" width="17.70" height="9.90" rx="4.95" fill="url(#rg4)" transform="translate(50.1 6.9) rotate(-62)"/><rect x="-10.55" y="-4.05" width="21.10" height="9.30" rx="4.55" fill="#000" fill-opacity="0.35" transform="translate(84.7 39.699999999999996) rotate(38)"/><rect x="-9.75" y="-3.75" width="19.50" height="7.50" rx="3.75" fill="url(#rg4)" transform="translate(84.2 38.9) rotate(38)"/><rect x="-7.20" y="-4.85" width="14.40" height="10.90" rx="5.35" fill="#000" fill-opacity="0.35" transform="translate(38.2 7.6) rotate(62)"/><rect x="-6.40" y="-4.55" width="12.80" height="9.10" rx="4.55" fill="url(#rg4)" transform="translate(37.7 6.8) rotate(62)"/><rect x="-6.95" y="-5.25" width="13.90" height="11.70" rx="5.75" fill="#000" fill-opacity="0.35" transform="translate(46.5 19.7) rotate(0)"/><rect x="-6.15" y="-4.95" width="12.30" height="9.90" rx="4.95" fill="url(#rg4)" transform="translate(46.0 18.9) rotate(0)"/><rect x="-8.95" y="-4.65" width="17.90" height="10.50" rx="5.15" fill="#000" fill-opacity="0.35" transform="translate(70.7 62.4) rotate(-73)"/><rect x="-8.15" y="-4.35" width="16.30" height="8.70" rx="4.35" fill="url(#rg4)" transform="translate(70.2 61.6) rotate(-73)"/><rect x="-7.20" y="-4.65" width="14.40" height="10.50" rx="5.15" fill="#000" fill-opacity="0.35" transform="translate(21.4 20.1) rotate(-37)"/><rect x="-6.40" y="-4.35" width="12.80" height="8.70" rx="4.35" fill="url(#rg4)" transform="translate(20.9 19.3) rotate(-37)"/><rect x="-10.45" y="-4.70" width="20.90" height="10.60" rx="5.20" fill="#000" fill-opacity="0.35" transform="translate(43.4 10.700000000000001) rotate(-44)"/><rect x="-9.65" y="-4.40" width="19.30" height="8.80" rx="4.40" fill="url(#rg4)" transform="translate(42.9 9.9) rotate(-44)"/><rect x="-10.20" y="-4.10" width="20.40" height="9.40" rx="4.60" fill="#000" fill-opacity="0.35" transform="translate(7.3 26.1) rotate(-38)"/><rect x="-9.40" y="-3.80" width="18.80" height="7.60" rx="3.80" fill="url(#rg4)" transform="translate(6.8 25.3) rotate(-38)"/><rect x="-7.00" y="-4.90" width="14.00" height="11.00" rx="5.40" fill="#000" fill-opacity="0.35" transform="translate(78.1 41.3) rotate(17)"/><rect x="-6.20" y="-4.60" width="12.40" height="9.20" rx="4.60" fill="url(#rg4)" transform="translate(77.6 40.5) rotate(17)"/><rect x="-7.70" y="-4.40" width="15.40" height="10.00" rx="4.90" fill="#000" fill-opacity="0.35" transform="translate(49.5 18.5) rotate(-74)"/><rect x="-6.90" y="-4.10" width="13.80" height="8.20" rx="4.10" fill="url(#rg4)" transform="translate(49.0 17.7) rotate(-74)"/><rect x="-7.50" y="-5.25" width="15.00" height="11.70" rx="5.75" fill="#000" fill-opacity="0.35" transform="translate(95.6 37.199999999999996) rotate(-9)"/><rect x="-6.70" y="-4.95" width="13.40" height="9.90" rx="4.95" fill="url(#rg4)" transform="translate(95.1 36.4) rotate(-9)"/><rect x="-9.20" y="-4.10" width="18.40" height="9.40" rx="4.60" fill="#000" fill-opacity="0.35" transform="translate(9.1 33.199999999999996) rotate(34)"/><rect x="-8.40" y="-3.80" width="16.80" height="7.60" rx="3.80" fill="url(#rg4)" transform="translate(8.6 32.4) rotate(34)"/><rect x="-9.85" y="-4.30" width="19.70" height="9.80" rx="4.80" fill="#000" fill-opacity="0.35" transform="translate(72.8 20.1) rotate(25)"/><rect x="-9.05" y="-4.00" width="18.10" height="8.00" rx="4.00" fill="url(#rg4)" transform="translate(72.3 19.3) rotate(25)"/><rect x="-8.95" y="-4.20" width="17.90" height="9.60" rx="4.70" fill="#000" fill-opacity="0.35" transform="translate(87.3 17.6) rotate(-3)"/><rect x="-8.15" y="-3.90" width="16.30" height="7.80" rx="3.90" fill="url(#rg4)" transform="translate(86.8 16.8) rotate(-3)"/><rect x="-9.55" y="-4.95" width="19.10" height="11.10" rx="5.45" fill="#000" fill-opacity="0.35" transform="translate(29.1 61.099999999999994) rotate(65)"/><rect x="-8.75" y="-4.65" width="17.50" height="9.30" rx="4.65" fill="url(#rg4)" transform="translate(28.6 60.3) rotate(65)"/><rect x="-10.00" y="-5.15" width="20.00" height="11.50" rx="5.65" fill="#000" fill-opacity="0.35" transform="translate(66.9 14.200000000000001) rotate(51)"/><rect x="-9.20" y="-4.85" width="18.40" height="9.70" rx="4.85" fill="url(#rg4)" transform="translate(66.4 13.4) rotate(51)"/><rect x="-10.20" y="-4.40" width="20.40" height="10.00" rx="4.90" fill="#000" fill-opacity="0.35" transform="translate(67.6 20.3) rotate(-24)"/><rect x="-9.40" y="-4.10" width="18.80" height="8.20" rx="4.10" fill="url(#rg4)" transform="translate(67.1 19.5) rotate(-24)"/><rect x="-10.15" y="-4.70" width="20.30" height="10.60" rx="5.20" fill="#000" fill-opacity="0.35" transform="translate(31.0 13.200000000000001) rotate(88)"/><rect x="-9.35" y="-4.40" width="18.70" height="8.80" rx="4.40" fill="url(#rg4)" transform="translate(30.5 12.4) rotate(88)"/><rect x="-8.95" y="-4.65" width="17.90" height="10.50" rx="5.15" fill="#000" fill-opacity="0.35" transform="translate(53.0 11.8) rotate(-3)"/><rect x="-8.15" y="-4.35" width="16.30" height="8.70" rx="4.35" fill="url(#rg4)" transform="translate(52.5 11.0) rotate(-3)"/><rect x="-8.35" y="-4.85" width="16.70" height="10.90" rx="5.35" fill="#000" fill-opacity="0.35" transform="translate(90.0 48.699999999999996) rotate(-41)"/><rect x="-7.55" y="-4.55" width="15.10" height="9.10" rx="4.55" fill="url(#rg4)" transform="translate(89.5 47.9) rotate(-41)"/><rect x="-10.50" y="-4.45" width="21.00" height="10.10" rx="4.95" fill="#000" fill-opacity="0.35" transform="translate(73.5 8.9) rotate(-77)"/><rect x="-9.70" y="-4.15" width="19.40" height="8.30" rx="4.15" fill="url(#rg4)" transform="translate(73.0 8.1) rotate(-77)"/><rect x="-7.40" y="-4.75" width="14.80" height="10.70" rx="5.25" fill="#000" fill-opacity="0.35" transform="translate(54.8 61.0) rotate(63)"/><rect x="-6.60" y="-4.45" width="13.20" height="8.90" rx="4.45" fill="url(#rg4)" transform="translate(54.3 60.2) rotate(63)"/><rect x="-9.85" y="-4.20" width="19.70" height="9.60" rx="4.70" fill="#000" fill-opacity="0.35" transform="translate(3.6 22.7) rotate(39)"/><rect x="-9.05" y="-3.90" width="18.10" height="7.80" rx="3.90" fill="url(#rg4)" transform="translate(3.1 21.9) rotate(39)"/><rect x="-10.10" y="-4.15" width="20.20" height="9.50" rx="4.65" fill="#000" fill-opacity="0.35" transform="translate(71.5 51.4) rotate(-73)"/><rect x="-9.30" y="-3.85" width="18.60" height="7.70" rx="3.85" fill="url(#rg4)" transform="translate(71.0 50.6) rotate(-73)"/><rect x="-8.00" y="-4.45" width="16.00" height="10.10" rx="4.95" fill="#000" fill-opacity="0.35" transform="translate(94.7 19.0) rotate(15)"/><rect x="-7.20" y="-4.15" width="14.40" height="8.30" rx="4.15" fill="url(#rg4)" transform="translate(94.2 18.2) rotate(15)"/><rect x="-7.00" y="-4.15" width="14.00" height="9.50" rx="4.65" fill="#000" fill-opacity="0.35" transform="translate(12.9 10.100000000000001) rotate(60)"/><rect x="-6.20" y="-3.85" width="12.40" height="7.70" rx="3.85" fill="url(#rg5)" transform="translate(12.4 9.3) rotate(60)"/><rect x="-7.80" y="-4.15" width="15.60" height="9.50" rx="4.65" fill="#000" fill-opacity="0.35" transform="translate(23.7 11.600000000000001) rotate(40)"/><rect x="-7.00" y="-3.85" width="14.00" height="7.70" rx="3.85" fill="url(#rg5)" transform="translate(23.2 10.8) rotate(40)"/><rect x="-7.80" y="-4.15" width="15.60" height="9.50" rx="4.65" fill="#000" fill-opacity="0.35" transform="translate(48.5 7.8) rotate(-70)"/><rect x="-7.00" y="-3.85" width="14.00" height="7.70" rx="3.85" fill="url(#rg5)" transform="translate(48 7) rotate(-70)"/><rect x="-10.80" y="-4.95" width="21.60" height="11.10" rx="5.45" fill="#000" fill-opacity="0.35" transform="translate(73.3 14.700000000000001) rotate(-10)"/><rect x="-10.00" y="-4.65" width="20.00" height="9.30" rx="4.65" fill="url(#rg5)" transform="translate(72.8 13.9) rotate(-10)"/><rect x="-6.80" y="-4.15" width="13.60" height="9.50" rx="4.65" fill="#000" fill-opacity="0.35" transform="translate(87.2 10.100000000000001) rotate(20)"/><rect x="-6.00" y="-3.85" width="12.00" height="7.70" rx="3.85" fill="url(#rg5)" transform="translate(86.7 9.3) rotate(20)"/><rect x="-8.55" y="-4.55" width="17.10" height="10.30" rx="5.05" fill="#000" fill-opacity="0.35" transform="translate(96.5 14.700000000000001) rotate(-30)"/><rect x="-7.75" y="-4.25" width="15.50" height="8.50" rx="4.25" fill="url(#rg5)" transform="translate(96 13.9) rotate(-30)"/><rect x="-5.30" y="-4.15" width="10.60" height="9.50" rx="4.65" fill="#000" fill-opacity="0.35" transform="translate(99.5 6.2) rotate(0)"/><rect x="-4.50" y="-3.85" width="9.00" height="7.70" rx="3.85" fill="url(#rg5)" transform="translate(99 5.4) rotate(0)"/><rect x="-11.65" y="-4.95" width="23.30" height="11.10" rx="5.45" fill="#000" fill-opacity="0.35" transform="translate(14.4 22.5) rotate(-20)"/><rect x="-10.85" y="-4.65" width="21.70" height="9.30" rx="4.65" fill="url(#rg5)" transform="translate(13.9 21.7) rotate(-20)"/><rect x="-10.10" y="-4.55" width="20.20" height="10.30" rx="5.05" fill="#000" fill-opacity="0.35" transform="translate(39.2 16.3) rotate(10)"/><rect x="-9.30" y="-4.25" width="18.60" height="8.50" rx="4.25" fill="url(#rg5)" transform="translate(38.7 15.5) rotate(10)"/><rect x="-8.55" y="-4.95" width="17.10" height="11.10" rx="5.45" fill="#000" fill-opacity="0.35" transform="translate(43.8 28.7) rotate(-40)"/><rect x="-7.75" y="-4.65" width="15.50" height="9.30" rx="4.65" fill="url(#rg5)" transform="translate(43.3 27.9) rotate(-40)"/><rect x="-8.55" y="-4.55" width="17.10" height="10.30" rx="5.05" fill="#000" fill-opacity="0.35" transform="translate(59.3 38.0) rotate(10)"/><rect x="-7.75" y="-4.25" width="15.50" height="8.50" rx="4.25" fill="url(#rg5)" transform="translate(58.8 37.2) rotate(10)"/><rect x="-8.55" y="-4.55" width="17.10" height="10.30" rx="5.05" fill="#000" fill-opacity="0.35" transform="translate(65.5 31.8) rotate(-10)"/><rect x="-7.75" y="-4.25" width="15.50" height="8.50" rx="4.25" fill="url(#rg5)" transform="translate(65 31) rotate(-10)"/><rect x="-9.30" y="-4.55" width="18.60" height="10.30" rx="5.05" fill="#000" fill-opacity="0.35" transform="translate(87.2 27.1) rotate(-30)"/><rect x="-8.50" y="-4.25" width="17.00" height="8.50" rx="4.25" fill="url(#rg5)" transform="translate(86.7 26.3) rotate(-30)"/><rect x="-7.80" y="-4.15" width="15.60" height="9.50" rx="4.65" fill="#000" fill-opacity="0.35" transform="translate(99.5 24.0) rotate(-60)"/><rect x="-7.00" y="-3.85" width="14.00" height="7.70" rx="3.85" fill="url(#rg5)" transform="translate(99 23.2) rotate(-60)"/><rect x="-11.65" y="-4.55" width="23.30" height="10.30" rx="5.05" fill="#000" fill-opacity="0.35" transform="translate(25.3 38.0) rotate(80)"/><rect x="-10.85" y="-4.25" width="21.70" height="8.50" rx="4.25" fill="url(#rg5)" transform="translate(24.8 37.2) rotate(80)"/><rect x="-10.10" y="-4.55" width="20.20" height="10.30" rx="5.05" fill="#000" fill-opacity="0.35" transform="translate(9.8 55.0) rotate(-30)"/><rect x="-9.30" y="-4.25" width="18.60" height="8.50" rx="4.25" fill="url(#rg5)" transform="translate(9.3 54.2) rotate(-30)"/><rect x="-9.30" y="-4.55" width="18.60" height="10.30" rx="5.05" fill="#000" fill-opacity="0.35" transform="translate(31.5 64.3) rotate(-10)"/><rect x="-8.50" y="-4.25" width="17.00" height="8.50" rx="4.25" fill="url(#rg5)" transform="translate(31 63.5) rotate(-10)"/><rect x="-13.20" y="-4.55" width="26.40" height="10.30" rx="5.05" fill="#000" fill-opacity="0.35" transform="translate(54.7 47.199999999999996) rotate(30)"/><rect x="-12.40" y="-4.25" width="24.80" height="8.50" rx="4.25" fill="url(#rg5)" transform="translate(54.2 46.4) rotate(30)"/><rect x="-6.80" y="-4.15" width="13.60" height="9.50" rx="4.65" fill="#000" fill-opacity="0.35" transform="translate(70.2 50.3) rotate(0)"/><rect x="-6.00" y="-3.85" width="12.00" height="7.70" rx="3.85" fill="url(#rg5)" transform="translate(69.7 49.5) rotate(0)"/><rect x="-6.80" y="-4.15" width="13.60" height="9.50" rx="4.65" fill="#000" fill-opacity="0.35" transform="translate(79.5 48.8) rotate(-60)"/><rect x="-6.00" y="-3.85" width="12.00" height="7.70" rx="3.85" fill="url(#rg5)" transform="translate(79 48) rotate(-60)"/><rect x="-6.80" y="-4.15" width="13.60" height="9.50" rx="4.65" fill="#000" fill-opacity="0.35" transform="translate(94.9 36.4) rotate(0)"/><rect x="-6.00" y="-3.85" width="12.00" height="7.70" rx="3.85" fill="url(#rg5)" transform="translate(94.4 35.6) rotate(0)"/><rect x="-7.80" y="-3.80" width="15.60" height="8.80" rx="4.30" fill="#000" fill-opacity="0.35" transform="translate(68.6 61.199999999999996) rotate(20)"/><rect x="-7.00" y="-3.50" width="14.00" height="7.00" rx="3.50" fill="url(#rg5)" transform="translate(68.1 60.4) rotate(20)"/><rect x="-5.30" y="-3.40" width="10.60" height="8.00" rx="3.90" fill="#000" fill-opacity="0.35" transform="translate(43.8 65.8) rotate(0)"/><rect x="-4.50" y="-3.10" width="9.00" height="6.20" rx="3.10" fill="url(#rg5)" transform="translate(43.3 65) rotate(0)"/><ellipse cx="38.7" cy="54.2" rx="5" ry="3.5" fill="#050505" filter="url(#sb2)"/></g>
<rect x="469.20" y="804.50" width="105.3" height="75.2" filter="url(#semn)" style="mix-blend-mode:overlay" opacity="0.22"/>
<rect x="469.20" y="875.00" width="105.3" height="4.7" fill="#161616"/>
<circle cx="471.40" cy="877.30" r="1.3" fill="none" stroke="#9a9a9a" stroke-width="0.5"/>
<line x1="474.20" y1="876.40" x2="525.20" y2="876.40" stroke="#8a8a8a" stroke-width="0.8" stroke-dasharray="1.6 0.6 2.4 0.8 1 0.6"/>
<line x1="474.20" y1="878.40" x2="529.20" y2="878.40" stroke="#8a8a8a" stroke-width="0.8" stroke-dasharray="1.6 0.6 2.4 0.8 1 0.6"/>
<line x1="551.20" y1="876.40" x2="559.20" y2="876.40" stroke="#8a8a8a" stroke-width="0.7"/>
<line x1="552.20" y1="878.40" x2="558.20" y2="878.40" stroke="#777" stroke-width="0.7"/>
<line x1="532.20" y1="875.90" x2="569.20" y2="875.90" stroke="#6a6a6a" stroke-width="0.35"/>
</g>
<rect x="490.80" y="823.10" width="52.80" height="38.00" fill="none" stroke="#b52a26" stroke-width="1.1" stroke-dasharray="3 2"/>
<line x1="490.80" y1="861.10" x2="469.20" y2="880.20" stroke="#b52a26" stroke-width="1.1" stroke-dasharray="3 2"/>
<line x1="543.60" y1="861.10" x2="574.50" y2="880.20" stroke="#b52a26" stroke-width="1.1" stroke-dasharray="3 2"/>
<clipPath id="cpl3t"><rect x="576.40" y="804.50" width="105.3" height="75.2"/></clipPath>
<g clip-path="url(#cpl3t)">
<rect x="576.40" y="804.50" width="105.3" height="75.2" fill="#6c6c6c"/>
<g transform="translate(576.40,804.50)" filter="url(#sb)"><rect x="-10.00" y="-4.40" width="20.00" height="10.00" rx="4.90" fill="#000" fill-opacity="0.35" transform="translate(79.3 67.7) rotate(61)"/><rect x="-9.20" y="-4.10" width="18.40" height="8.20" rx="4.10" fill="url(#rg4)" transform="translate(78.8 66.9) rotate(61)"/><rect x="-8.35" y="-5.05" width="16.70" height="11.30" rx="5.55" fill="#000" fill-opacity="0.35" transform="translate(28.7 33.599999999999994) rotate(-22)"/><rect x="-7.55" y="-4.75" width="15.10" height="9.50" rx="4.75" fill="url(#rg4)" transform="translate(28.2 32.8) rotate(-22)"/><rect x="-8.65" y="-4.30" width="17.30" height="9.80" rx="4.80" fill="#000" fill-opacity="0.35" transform="translate(40.0 24.1) rotate(-69)"/><rect x="-7.85" y="-4.00" width="15.70" height="8.00" rx="4.00" fill="url(#rg4)" transform="translate(39.5 23.3) rotate(-69)"/><rect x="-7.35" y="-4.95" width="14.70" height="11.10" rx="5.45" fill="#000" fill-opacity="0.35" transform="translate(84.0 40.699999999999996) rotate(20)"/><rect x="-6.55" y="-4.65" width="13.10" height="9.30" rx="4.65" fill="url(#rg4)" transform="translate(83.5 39.9) rotate(20)"/><rect x="-9.65" y="-4.90" width="19.30" height="11.00" rx="5.40" fill="#000" fill-opacity="0.35" transform="translate(32.9 14.3) rotate(78)"/><rect x="-8.85" y="-4.60" width="17.70" height="9.20" rx="4.60" fill="url(#rg4)" transform="translate(32.4 13.5) rotate(78)"/><rect x="-9.50" y="-4.85" width="19.00" height="10.90" rx="5.35" fill="#000" fill-opacity="0.35" transform="translate(17.6 23.8) rotate(4)"/><rect x="-8.70" y="-4.55" width="17.40" height="9.10" rx="4.55" fill="url(#rg4)" transform="translate(17.1 23.0) rotate(4)"/><rect x="-10.20" y="-4.85" width="20.40" height="10.90" rx="5.35" fill="#000" fill-opacity="0.35" transform="translate(82.9 27.7) rotate(31)"/><rect x="-9.40" y="-4.55" width="18.80" height="9.10" rx="4.55" fill="url(#rg4)" transform="translate(82.4 26.9) rotate(31)"/><rect x="-9.65" y="-5.00" width="19.30" height="11.20" rx="5.50" fill="#000" fill-opacity="0.35" transform="translate(18.1 39.8) rotate(-49)"/><rect x="-8.85" y="-4.70" width="17.70" height="9.40" rx="4.70" fill="url(#rg4)" transform="translate(17.6 39.0) rotate(-49)"/><rect x="-8.25" y="-5.10" width="16.50" height="11.40" rx="5.60" fill="#000" fill-opacity="0.35" transform="translate(18.4 21.5) rotate(-40)"/><rect x="-7.45" y="-4.80" width="14.90" height="9.60" rx="4.80" fill="url(#rg4)" transform="translate(17.9 20.7) rotate(-40)"/><rect x="-8.60" y="-4.85" width="17.20" height="10.90" rx="5.35" fill="#000" fill-opacity="0.35" transform="translate(51.2 15.700000000000001) rotate(56)"/><rect x="-7.80" y="-4.55" width="15.60" height="9.10" rx="4.55" fill="url(#rg4)" transform="translate(50.7 14.9) rotate(56)"/><rect x="-7.65" y="-5.20" width="15.30" height="11.60" rx="5.70" fill="#000" fill-opacity="0.35" transform="translate(26.5 46.199999999999996) rotate(48)"/><rect x="-6.85" y="-4.90" width="13.70" height="9.80" rx="4.90" fill="url(#rg4)" transform="translate(26.0 45.4) rotate(48)"/><rect x="-8.95" y="-4.55" width="17.90" height="10.30" rx="5.05" fill="#000" fill-opacity="0.35" transform="translate(28.5 57.5) rotate(-63)"/><rect x="-8.15" y="-4.25" width="16.30" height="8.50" rx="4.25" fill="url(#rg4)" transform="translate(28.0 56.7) rotate(-63)"/><rect x="-9.70" y="-4.80" width="19.40" height="10.80" rx="5.30" fill="#000" fill-opacity="0.35" transform="translate(54.3 18.0) rotate(-6)"/><rect x="-8.90" y="-4.50" width="17.80" height="9.00" rx="4.50" fill="url(#rg4)" transform="translate(53.8 17.2) rotate(-6)"/><rect x="-9.10" y="-5.25" width="18.20" height="11.70" rx="5.75" fill="#000" fill-opacity="0.35" transform="translate(48.2 65.89999999999999) rotate(-48)"/><rect x="-8.30" y="-4.95" width="16.60" height="9.90" rx="4.95" fill="url(#rg4)" transform="translate(47.7 65.1) rotate(-48)"/><rect x="-9.20" y="-4.70" width="18.40" height="10.60" rx="5.20" fill="#000" fill-opacity="0.35" transform="translate(40.3 12.8) rotate(-49)"/><rect x="-8.40" y="-4.40" width="16.80" height="8.80" rx="4.40" fill="url(#rg4)" transform="translate(39.8 12.0) rotate(-49)"/><rect x="-10.20" y="-5.10" width="20.40" height="11.40" rx="5.60" fill="#000" fill-opacity="0.35" transform="translate(69.9 52.0) rotate(-76)"/><rect x="-9.40" y="-4.80" width="18.80" height="9.60" rx="4.80" fill="url(#rg4)" transform="translate(69.4 51.2) rotate(-76)"/><rect x="-9.55" y="-4.65" width="19.10" height="10.50" rx="5.15" fill="#000" fill-opacity="0.35" transform="translate(47.7 70.1) rotate(6)"/><rect x="-8.75" y="-4.35" width="17.50" height="8.70" rx="4.35" fill="url(#rg4)" transform="translate(47.2 69.3) rotate(6)"/><rect x="-8.10" y="-4.85" width="16.20" height="10.90" rx="5.35" fill="#000" fill-opacity="0.35" transform="translate(43.7 13.0) rotate(27)"/><rect x="-7.30" y="-4.55" width="14.60" height="9.10" rx="4.55" fill="url(#rg4)" transform="translate(43.2 12.2) rotate(27)"/><rect x="-7.60" y="-4.85" width="15.20" height="10.90" rx="5.35" fill="#000" fill-opacity="0.35" transform="translate(81.4 23.8) rotate(-47)"/><rect x="-6.80" y="-4.55" width="13.60" height="9.10" rx="4.55" fill="url(#rg4)" transform="translate(80.9 23.0) rotate(-47)"/><rect x="-8.00" y="-4.40" width="16.00" height="10.00" rx="4.90" fill="#000" fill-opacity="0.35" transform="translate(60.1 44.3) rotate(-48)"/><rect x="-7.20" y="-4.10" width="14.40" height="8.20" rx="4.10" fill="url(#rg4)" transform="translate(59.6 43.5) rotate(-48)"/><rect x="-8.35" y="-5.20" width="16.70" height="11.60" rx="5.70" fill="#000" fill-opacity="0.35" transform="translate(77.4 37.5) rotate(-48)"/><rect x="-7.55" y="-4.90" width="15.10" height="9.80" rx="4.90" fill="url(#rg4)" transform="translate(76.9 36.7) rotate(-48)"/><rect x="-8.55" y="-5.00" width="17.10" height="11.20" rx="5.50" fill="#000" fill-opacity="0.35" transform="translate(76.9 52.099999999999994) rotate(73)"/><rect x="-7.75" y="-4.70" width="15.50" height="9.40" rx="4.70" fill="url(#rg4)" transform="translate(76.4 51.3) rotate(73)"/><rect x="-8.60" y="-4.60" width="17.20" height="10.40" rx="5.10" fill="#000" fill-opacity="0.35" transform="translate(64.7 43.5) rotate(52)"/><rect x="-7.80" y="-4.30" width="15.60" height="8.60" rx="4.30" fill="url(#rg4)" transform="translate(64.2 42.7) rotate(52)"/><rect x="-8.15" y="-4.35" width="16.30" height="9.90" rx="4.85" fill="#000" fill-opacity="0.35" transform="translate(53.5 13.9) rotate(-55)"/><rect x="-7.35" y="-4.05" width="14.70" height="8.10" rx="4.05" fill="url(#rg4)" transform="translate(53.0 13.1) rotate(-55)"/><rect x="-9.80" y="-4.55" width="19.60" height="10.30" rx="5.05" fill="#000" fill-opacity="0.35" transform="translate(30.8 44.4) rotate(79)"/><rect x="-9.00" y="-4.25" width="18.00" height="8.50" rx="4.25" fill="url(#rg4)" transform="translate(30.3 43.6) rotate(79)"/><rect x="-8.95" y="-4.55" width="17.90" height="10.30" rx="5.05" fill="#000" fill-opacity="0.35" transform="translate(9.9 44.5) rotate(53)"/><rect x="-8.15" y="-4.25" width="16.30" height="8.50" rx="4.25" fill="url(#rg4)" transform="translate(9.4 43.7) rotate(53)"/><rect x="-10.25" y="-4.55" width="20.50" height="10.30" rx="5.05" fill="#000" fill-opacity="0.35" transform="translate(82.0 58.8) rotate(-4)"/><rect x="-9.45" y="-4.25" width="18.90" height="8.50" rx="4.25" fill="url(#rg4)" transform="translate(81.5 58.0) rotate(-4)"/><rect x="-7.75" y="-5.15" width="15.50" height="11.50" rx="5.65" fill="#000" fill-opacity="0.35" transform="translate(34.4 57.9) rotate(-38)"/><rect x="-6.95" y="-4.85" width="13.90" height="9.70" rx="4.85" fill="url(#rg4)" transform="translate(33.9 57.1) rotate(-38)"/><rect x="-9.25" y="-5.05" width="18.50" height="11.30" rx="5.55" fill="#000" fill-opacity="0.35" transform="translate(68.6 12.600000000000001) rotate(-70)"/><rect x="-8.45" y="-4.75" width="16.90" height="9.50" rx="4.75" fill="url(#rg4)" transform="translate(68.1 11.8) rotate(-70)"/><rect x="-9.10" y="-5.30" width="18.20" height="11.80" rx="5.80" fill="#000" fill-opacity="0.35" transform="translate(37.9 27.400000000000002) rotate(52)"/><rect x="-8.30" y="-5.00" width="16.60" height="10.00" rx="5.00" fill="url(#rg4)" transform="translate(37.4 26.6) rotate(52)"/><rect x="-9.30" y="-4.95" width="18.60" height="11.10" rx="5.45" fill="#000" fill-opacity="0.35" transform="translate(29.1 17.1) rotate(75)"/><rect x="-8.50" y="-4.65" width="17.00" height="9.30" rx="4.65" fill="url(#rg5)" transform="translate(28.6 16.3) rotate(75)"/><rect x="-6.80" y="-4.55" width="13.60" height="10.30" rx="5.05" fill="#000" fill-opacity="0.35" transform="translate(40.7 7.0) rotate(-80)"/><rect x="-6.00" y="-4.25" width="12.00" height="8.50" rx="4.25" fill="url(#rg5)" transform="translate(40.2 6.2) rotate(-80)"/><rect x="-10.10" y="-4.95" width="20.20" height="11.10" rx="5.45" fill="#000" fill-opacity="0.35" transform="translate(43.8 19.400000000000002) rotate(-30)"/><rect x="-9.30" y="-4.65" width="18.60" height="9.30" rx="4.65" fill="url(#rg5)" transform="translate(43.3 18.6) rotate(-30)"/><rect x="-9.30" y="-4.95" width="18.60" height="11.10" rx="5.45" fill="#000" fill-opacity="0.35" transform="translate(61.6 14.700000000000001) rotate(50)"/><rect x="-8.50" y="-4.65" width="17.00" height="9.30" rx="4.65" fill="url(#rg5)" transform="translate(61.1 13.9) rotate(50)"/><rect x="-9.30" y="-4.95" width="18.60" height="11.10" rx="5.45" fill="#000" fill-opacity="0.35" transform="translate(81.0 19.400000000000002) rotate(40)"/><rect x="-8.50" y="-4.65" width="17.00" height="9.30" rx="4.65" fill="url(#rg5)" transform="translate(80.5 18.6) rotate(40)"/><rect x="-10.10" y="-5.30" width="20.20" height="11.80" rx="5.80" fill="#000" fill-opacity="0.35" transform="translate(93.4 30.2) rotate(-70)"/><rect x="-9.30" y="-5.00" width="18.60" height="10.00" rx="5.00" fill="url(#rg5)" transform="translate(92.9 29.4) rotate(-70)"/><rect x="-10.10" y="-5.30" width="20.20" height="11.80" rx="5.80" fill="#000" fill-opacity="0.35" transform="translate(10.5 22.5) rotate(-20)"/><rect x="-9.30" y="-5.00" width="18.60" height="10.00" rx="5.00" fill="url(#rg5)" transform="translate(10 21.7) rotate(-20)"/><rect x="-10.10" y="-4.95" width="20.20" height="11.10" rx="5.45" fill="#000" fill-opacity="0.35" transform="translate(19.1 31.8) rotate(50)"/><rect x="-9.30" y="-4.65" width="18.60" height="9.30" rx="4.65" fill="url(#rg5)" transform="translate(18.6 31) rotate(50)"/><rect x="-11.65" y="-4.95" width="23.30" height="11.10" rx="5.45" fill="#000" fill-opacity="0.35" transform="translate(42.3 34.099999999999994) rotate(-5)"/><rect x="-10.85" y="-4.65" width="21.70" height="9.30" rx="4.65" fill="url(#rg5)" transform="translate(41.8 33.3) rotate(-5)"/><rect x="-10.80" y="-4.95" width="21.60" height="11.10" rx="5.45" fill="#000" fill-opacity="0.35" transform="translate(57.8 35.599999999999994) rotate(85)"/><rect x="-10.00" y="-4.65" width="20.00" height="9.30" rx="4.65" fill="url(#rg5)" transform="translate(57.3 34.8) rotate(85)"/><rect x="-9.30" y="-4.55" width="18.60" height="10.30" rx="5.05" fill="#000" fill-opacity="0.35" transform="translate(70.9 30.2) rotate(-80)"/><rect x="-8.50" y="-4.25" width="17.00" height="8.50" rx="4.25" fill="url(#rg5)" transform="translate(70.4 29.4) rotate(-80)"/><rect x="-9.30" y="-4.55" width="18.60" height="10.30" rx="5.05" fill="#000" fill-opacity="0.35" transform="translate(81.0 33.3) rotate(80)"/><rect x="-8.50" y="-4.25" width="17.00" height="8.50" rx="4.25" fill="url(#rg5)" transform="translate(80.5 32.5) rotate(80)"/><rect x="-8.55" y="-4.95" width="17.10" height="11.10" rx="5.45" fill="#000" fill-opacity="0.35" transform="translate(8.2 39.5) rotate(30)"/><rect x="-7.75" y="-4.65" width="15.50" height="9.30" rx="4.65" fill="url(#rg5)" transform="translate(7.7 38.7) rotate(30)"/><rect x="-6.80" y="-4.95" width="13.60" height="11.10" rx="5.45" fill="#000" fill-opacity="0.35" transform="translate(20.6 47.199999999999996) rotate(0)"/><rect x="-6.00" y="-4.65" width="12.00" height="9.30" rx="4.65" fill="url(#rg5)" transform="translate(20.1 46.4) rotate(0)"/><rect x="-7.80" y="-4.55" width="15.60" height="10.30" rx="5.05" fill="#000" fill-opacity="0.35" transform="translate(33.0 52.699999999999996) rotate(20)"/><rect x="-7.00" y="-4.25" width="14.00" height="8.50" rx="4.25" fill="url(#rg5)" transform="translate(32.5 51.9) rotate(20)"/><rect x="-8.55" y="-4.55" width="17.10" height="10.30" rx="5.05" fill="#000" fill-opacity="0.35" transform="translate(53.1 50.3) rotate(0)"/><rect x="-7.75" y="-4.25" width="15.50" height="8.50" rx="4.25" fill="url(#rg5)" transform="translate(52.6 49.5) rotate(0)"/><rect x="-8.55" y="-4.55" width="17.10" height="10.30" rx="5.05" fill="#000" fill-opacity="0.35" transform="translate(67.1 50.3) rotate(-10)"/><rect x="-7.75" y="-4.25" width="15.50" height="8.50" rx="4.25" fill="url(#rg5)" transform="translate(66.6 49.5) rotate(-10)"/><rect x="-6.80" y="-4.55" width="13.60" height="10.30" rx="5.05" fill="#000" fill-opacity="0.35" transform="translate(84.9 47.199999999999996) rotate(-60)"/><rect x="-6.00" y="-4.25" width="12.00" height="8.50" rx="4.25" fill="url(#rg5)" transform="translate(84.4 46.4) rotate(-60)"/><rect x="-6.80" y="-4.95" width="13.60" height="11.10" rx="5.45" fill="#000" fill-opacity="0.35" transform="translate(94.9 55.0) rotate(80)"/><rect x="-6.00" y="-4.65" width="12.00" height="9.30" rx="4.65" fill="url(#rg5)" transform="translate(94.4 54.2) rotate(80)"/><rect x="-9.30" y="-4.55" width="18.60" height="10.30" rx="5.05" fill="#000" fill-opacity="0.35" transform="translate(17.5 58.099999999999994) rotate(-70)"/><rect x="-8.50" y="-4.25" width="17.00" height="8.50" rx="4.25" fill="url(#rg5)" transform="translate(17 57.3) rotate(-70)"/><rect x="-13.20" y="-4.55" width="26.40" height="10.30" rx="5.05" fill="#000" fill-opacity="0.35" transform="translate(37.7 64.3) rotate(20)"/><rect x="-12.40" y="-4.25" width="24.80" height="8.50" rx="4.25" fill="url(#rg5)" transform="translate(37.2 63.5) rotate(20)"/><rect x="-5.80" y="-4.30" width="11.60" height="9.80" rx="4.80" fill="#000" fill-opacity="0.35" transform="translate(6.7 56.5) rotate(0)"/><rect x="-5.00" y="-4.00" width="10.00" height="8.00" rx="4.00" fill="url(#rg5)" transform="translate(6.2 55.7) rotate(0)"/><rect x="-6.80" y="-3.80" width="13.60" height="8.80" rx="4.30" fill="#000" fill-opacity="0.35" transform="translate(50.0 68.89999999999999) rotate(0)"/><rect x="-6.00" y="-3.50" width="12.00" height="7.00" rx="3.50" fill="url(#rg5)" transform="translate(49.5 68.1) rotate(0)"/><ellipse cx="20.1" cy="20.1" rx="2" ry="2" fill="#050505" filter="url(#sb2)"/><ellipse cx="63.5" cy="23.2" rx="2" ry="2" fill="#050505" filter="url(#sb2)"/></g>
<rect x="576.40" y="804.50" width="105.3" height="75.2" filter="url(#semn)" style="mix-blend-mode:overlay" opacity="0.22"/>
<rect x="576.40" y="875.00" width="105.3" height="4.7" fill="#161616"/>
<circle cx="578.60" cy="877.30" r="1.3" fill="none" stroke="#9a9a9a" stroke-width="0.5"/>
<line x1="581.40" y1="876.40" x2="632.40" y2="876.40" stroke="#8a8a8a" stroke-width="0.8" stroke-dasharray="1.6 0.6 2.4 0.8 1 0.6"/>
<line x1="581.40" y1="878.40" x2="636.40" y2="878.40" stroke="#8a8a8a" stroke-width="0.8" stroke-dasharray="1.6 0.6 2.4 0.8 1 0.6"/>
<line x1="658.40" y1="876.40" x2="666.40" y2="876.40" stroke="#8a8a8a" stroke-width="0.7"/>
<line x1="659.40" y1="878.40" x2="665.40" y2="878.40" stroke="#777" stroke-width="0.7"/>
<line x1="639.40" y1="875.90" x2="676.40" y2="875.90" stroke="#6a6a6a" stroke-width="0.35"/>
</g>
<rect x="598.00" y="811.50" width="53.60" height="38.00" fill="none" stroke="#b52a26" stroke-width="1.1" stroke-dasharray="3 2"/>
<line x1="598.00" y1="849.50" x2="576.40" y2="880.20" stroke="#b52a26" stroke-width="1.1" stroke-dasharray="3 2"/>
<line x1="651.60" y1="849.50" x2="681.70" y2="880.20" stroke="#b52a26" stroke-width="1.1" stroke-dasharray="3 2"/>
<clipPath id="cpl1b"><rect x="362.00" y="880.90" width="105.3" height="75.2"/></clipPath>
<g clip-path="url(#cpl1b)">
<rect x="362.00" y="880.90" width="105.3" height="75.2" fill="#686868"/>
<g transform="translate(362.00,880.90)" filter="url(#sb)"><ellipse cx="17" cy="31" rx="7" ry="11" fill="#3e3e3e" filter="url(#sb1)"/><ellipse cx="35.6" cy="46.4" rx="10" ry="7" fill="#404040" filter="url(#sb1)"/><ellipse cx="45" cy="51" rx="8" ry="6" fill="#444" filter="url(#sb1)"/><ellipse cx="65" cy="12" rx="8" ry="10" fill="#505050" filter="url(#sb1)"/><ellipse cx="87" cy="8" rx="12" ry="7" fill="#555" filter="url(#sb1)"/><ellipse cx="66.5" cy="62" rx="10" ry="7" fill="#555" filter="url(#sb1)"/><ellipse cx="28" cy="62" rx="8" ry="6" fill="#505050" filter="url(#sb1)"/><ellipse cx="100" cy="45" rx="5" ry="10" fill="#5a5a5a" filter="url(#sb1)"/><ellipse cx="46.4" cy="5.4" rx="5" ry="4" fill="#050505" filter="url(#sb2)"/><ellipse cx="87.5" cy="34.8" rx="8" ry="3.5" fill="#030303" filter="url(#sb2)"/><ellipse cx="5.4" cy="61" rx="5" ry="7" fill="#050505" filter="url(#sb2)"/><ellipse cx="86.7" cy="60.4" rx="5" ry="3" fill="#080808" filter="url(#sb2)"/><ellipse cx="18.6" cy="6.2" rx="4" ry="3" fill="#222" filter="url(#sb2)"/><ellipse cx="9.3" cy="38.7" rx="7" ry="7" fill="#b8b8b8" filter="url(#sb1)"/><ellipse cx="34" cy="26" rx="8" ry="7" fill="#b0b0b0" filter="url(#sb1)"/><ellipse cx="49.5" cy="41.8" rx="6" ry="6" fill="#a8a8a8" filter="url(#sb1)"/><ellipse cx="77.4" cy="46.4" rx="9" ry="7" fill="#b4b4b4" filter="url(#sb1)"/><ellipse cx="91.3" cy="23" rx="9" ry="6" fill="#a0a0a0" filter="url(#sb1)"/><ellipse cx="51" cy="26" rx="5" ry="4" fill="#c4c4c4" filter="url(#sb1)"/><ellipse cx="68" cy="35.6" rx="5" ry="4" fill="#bcbcbc" filter="url(#sb1)"/><ellipse cx="15.5" cy="51" rx="8" ry="5" fill="#8a8a8a" filter="url(#sb1)"/><ellipse cx="96" cy="62" rx="6" ry="8" fill="#8e8e8e" filter="url(#sb1)"/><ellipse cx="55.7" cy="65" rx="10" ry="6" fill="#767676" filter="url(#sb1)"/><ellipse cx="46.4" cy="12.4" rx="6" ry="6" fill="#8a8a8a" filter="url(#sb1)"/><ellipse cx="31" cy="11" rx="6" ry="6" fill="#9a9a9a" filter="url(#sb1)"/><ellipse cx="80" cy="20" rx="6" ry="5" fill="#909090" filter="url(#sb1)"/><ellipse cx="24" cy="19" rx="4" ry="4" fill="#a8a8a8" filter="url(#sb1)"/></g>
<rect x="362.00" y="880.90" width="105.3" height="75.2" filter="url(#semn)" style="mix-blend-mode:overlay" opacity="0.22"/>
<rect x="362.00" y="951.40" width="105.3" height="4.7" fill="#161616"/>
<circle cx="364.20" cy="953.70" r="1.3" fill="none" stroke="#9a9a9a" stroke-width="0.5"/>
<line x1="367.00" y1="952.80" x2="418.00" y2="952.80" stroke="#8a8a8a" stroke-width="0.8" stroke-dasharray="1.6 0.6 2.4 0.8 1 0.6"/>
<line x1="367.00" y1="954.80" x2="422.00" y2="954.80" stroke="#8a8a8a" stroke-width="0.8" stroke-dasharray="1.6 0.6 2.4 0.8 1 0.6"/>
<line x1="444.00" y1="952.80" x2="452.00" y2="952.80" stroke="#8a8a8a" stroke-width="0.7"/>
<line x1="445.00" y1="954.80" x2="451.00" y2="954.80" stroke="#777" stroke-width="0.7"/>
<line x1="425.00" y1="952.30" x2="462.00" y2="952.30" stroke="#6a6a6a" stroke-width="0.35"/>
</g>
<clipPath id="cpl2b"><rect x="469.20" y="880.90" width="105.3" height="75.2"/></clipPath>
<g clip-path="url(#cpl2b)">
<rect x="469.20" y="880.90" width="105.3" height="75.2" fill="#555555"/>
<g transform="translate(469.20,880.90)" filter="url(#sb)"><ellipse cx="37.2" cy="61.9" rx="14" ry="7" fill="#050505" filter="url(#sb2)"/><ellipse cx="94.4" cy="35.6" rx="5" ry="8" fill="#151515" filter="url(#sb2)"/><ellipse cx="21.7" cy="35.6" rx="6" ry="6" fill="#2a2a2a" filter="url(#sb2)"/><ellipse cx="7.7" cy="9.3" rx="6" ry="6" fill="#333" filter="url(#sb2)"/><rect x="-8.80" y="-6.30" width="17.60" height="13.80" rx="6.80" fill="#000" fill-opacity="0.35" transform="translate(96.5 10.100000000000001) rotate(0)"/><rect x="-8.00" y="-6.00" width="16.00" height="12.00" rx="6.00" fill="url(#rg4)" transform="translate(96 9.3) rotate(0)"/><rect x="-10.80" y="-6.80" width="21.60" height="14.80" rx="7.30" fill="#000" fill-opacity="0.35" transform="translate(25.3 19.400000000000002) rotate(80)"/><rect x="-10.00" y="-6.50" width="20.00" height="13.00" rx="6.50" fill="url(#rg4)" transform="translate(24.8 18.6) rotate(80)"/><rect x="-13.80" y="-7.30" width="27.60" height="15.80" rx="7.80" fill="#000" fill-opacity="0.35" transform="translate(9.0 28.7) rotate(80)"/><rect x="-13.00" y="-7.00" width="26.00" height="14.00" rx="7.00" fill="url(#rg4)" transform="translate(8.5 27.9) rotate(80)"/><rect x="-10.80" y="-7.30" width="21.60" height="15.80" rx="7.80" fill="#000" fill-opacity="0.35" transform="translate(9.8 51.9) rotate(80)"/><rect x="-10.00" y="-7.00" width="20.00" height="14.00" rx="7.00" fill="url(#rg4)" transform="translate(9.3 51.1) rotate(80)"/><rect x="-8.80" y="-6.30" width="17.60" height="13.80" rx="6.80" fill="#000" fill-opacity="0.35" transform="translate(23.7 51.9) rotate(0)"/><rect x="-8.00" y="-6.00" width="16.00" height="12.00" rx="6.00" fill="url(#rg4)" transform="translate(23.2 51.1) rotate(0)"/><rect x="-10.80" y="-6.80" width="21.60" height="14.80" rx="7.30" fill="#000" fill-opacity="0.35" transform="translate(68.6 17.8) rotate(0)"/><rect x="-10.00" y="-6.50" width="20.00" height="13.00" rx="6.50" fill="url(#rg4)" transform="translate(68.1 17) rotate(0)"/><rect x="-11.80" y="-7.80" width="23.60" height="16.80" rx="8.30" fill="#000" fill-opacity="0.35" transform="translate(88.7 24.0) rotate(10)"/><rect x="-11.00" y="-7.50" width="22.00" height="15.00" rx="7.50" fill="url(#rg4)" transform="translate(88.2 23.2) rotate(10)"/><rect x="-12.80" y="-8.80" width="25.60" height="18.80" rx="9.30" fill="#000" fill-opacity="0.35" transform="translate(42.3 17.8) rotate(-20)"/><rect x="-12.00" y="-8.50" width="24.00" height="17.00" rx="8.50" fill="url(#rg4)" transform="translate(41.8 17) rotate(-20)"/><rect x="-14.80" y="-8.30" width="29.60" height="17.80" rx="8.80" fill="#000" fill-opacity="0.35" transform="translate(46.9 36.4) rotate(-30)"/><rect x="-14.00" y="-8.00" width="28.00" height="16.00" rx="8.00" fill="url(#rg4)" transform="translate(46.4 35.6) rotate(-30)"/><rect x="-10.80" y="-7.30" width="21.60" height="15.80" rx="7.80" fill="#000" fill-opacity="0.35" transform="translate(96.5 59.599999999999994) rotate(0)"/><rect x="-10.00" y="-7.00" width="20.00" height="14.00" rx="7.00" fill="url(#rg4)" transform="translate(96 58.8) rotate(0)"/><rect x="-15.80" y="-8.30" width="31.60" height="17.80" rx="8.80" fill="#000" fill-opacity="0.35" transform="translate(62.4 55.0) rotate(40)"/><rect x="-15.00" y="-8.00" width="30.00" height="16.00" rx="8.00" fill="url(#rg4)" transform="translate(61.9 54.2) rotate(40)"/><rect x="-14.80" y="-8.80" width="29.60" height="18.80" rx="9.30" fill="#000" fill-opacity="0.35" transform="translate(74.8 36.4) rotate(-10)"/><rect x="-14.00" y="-8.50" width="28.00" height="17.00" rx="8.50" fill="url(#rg4)" transform="translate(74.3 35.6) rotate(-10)"/></g>
<rect x="469.20" y="880.90" width="105.3" height="75.2" filter="url(#semn)" style="mix-blend-mode:overlay" opacity="0.22"/>
<rect x="469.20" y="951.40" width="105.3" height="4.7" fill="#161616"/>
<circle cx="471.40" cy="953.70" r="1.3" fill="none" stroke="#9a9a9a" stroke-width="0.5"/>
<line x1="474.20" y1="952.80" x2="525.20" y2="952.80" stroke="#8a8a8a" stroke-width="0.8" stroke-dasharray="1.6 0.6 2.4 0.8 1 0.6"/>
<line x1="474.20" y1="954.80" x2="529.20" y2="954.80" stroke="#8a8a8a" stroke-width="0.8" stroke-dasharray="1.6 0.6 2.4 0.8 1 0.6"/>
<line x1="551.20" y1="952.80" x2="559.20" y2="952.80" stroke="#8a8a8a" stroke-width="0.7"/>
<line x1="552.20" y1="954.80" x2="558.20" y2="954.80" stroke="#777" stroke-width="0.7"/>
<line x1="532.20" y1="952.30" x2="569.20" y2="952.30" stroke="#6a6a6a" stroke-width="0.35"/>
</g>
<clipPath id="cpl3b"><rect x="576.40" y="880.90" width="105.3" height="75.2"/></clipPath>
<g clip-path="url(#cpl3b)">
<rect x="576.40" y="880.90" width="105.3" height="75.2" fill="#4a4a4a"/>
<g transform="translate(576.40,880.90)" filter="url(#sb)"><ellipse cx="85" cy="31" rx="5" ry="4.5" fill="#050505" filter="url(#sb2)"/><ellipse cx="12.5" cy="46" rx="1.4" ry="12" fill="#080808" filter="url(#sb2)"/><ellipse cx="27.9" cy="15" rx="2" ry="2" fill="#111" filter="url(#sb2)"/><ellipse cx="92" cy="18" rx="1.2" ry="4" fill="#111" filter="url(#sb2)"/><rect x="-16.80" y="-11.30" width="33.60" height="23.80" rx="11.80" fill="#000" fill-opacity="0.35" transform="translate(50.5 30.8) rotate(-10)"/><rect x="-16.00" y="-11.00" width="32.00" height="22.00" rx="11.00" fill="url(#rg3)" transform="translate(50 30) rotate(-10)"/><rect x="-15.80" y="-8.80" width="31.60" height="18.80" rx="9.30" fill="#000" fill-opacity="0.35" transform="translate(37.5 6.8) rotate(-5)"/><rect x="-15.00" y="-8.50" width="30.00" height="17.00" rx="8.50" fill="url(#rg4)" transform="translate(37 6) rotate(-5)"/><rect x="-20.80" y="-11.80" width="41.60" height="24.80" rx="12.30" fill="#000" fill-opacity="0.35" transform="translate(12.5 17.8) rotate(80)"/><rect x="-20.00" y="-11.50" width="40.00" height="23.00" rx="11.50" fill="url(#rg4)" transform="translate(12 17) rotate(80)"/><rect x="-18.80" y="-11.80" width="37.60" height="24.80" rx="12.30" fill="#000" fill-opacity="0.35" transform="translate(78.5 12.8) rotate(30)"/><rect x="-18.00" y="-11.50" width="36.00" height="23.00" rx="11.50" fill="url(#rg4)" transform="translate(78 12) rotate(30)"/><rect x="-23.80" y="-11.80" width="47.60" height="24.80" rx="12.30" fill="#000" fill-opacity="0.35" transform="translate(94.5 40.8) rotate(-80)"/><rect x="-23.00" y="-11.50" width="46.00" height="23.00" rx="11.50" fill="url(#rg4)" transform="translate(94 40) rotate(-80)"/><rect x="-10.80" y="-7.80" width="21.60" height="16.80" rx="8.30" fill="#000" fill-opacity="0.35" transform="translate(21.5 43.8) rotate(0)"/><rect x="-10.00" y="-7.50" width="20.00" height="15.00" rx="7.50" fill="url(#rg3)" transform="translate(21 43) rotate(0)"/><rect x="-21.80" y="-10.30" width="43.60" height="21.80" rx="10.80" fill="#000" fill-opacity="0.35" transform="translate(40.5 49.8) rotate(-5)"/><rect x="-21.00" y="-10.00" width="42.00" height="20.00" rx="10.00" fill="url(#rg4)" transform="translate(40 49) rotate(-5)"/><rect x="-13.80" y="-7.80" width="27.60" height="16.80" rx="8.30" fill="#000" fill-opacity="0.35" transform="translate(5.5 54.8) rotate(80)"/><rect x="-13.00" y="-7.50" width="26.00" height="15.00" rx="7.50" fill="url(#rg4)" transform="translate(5 54) rotate(80)"/><rect x="-22.80" y="-11.80" width="45.60" height="24.80" rx="12.30" fill="#000" fill-opacity="0.35" transform="translate(71.5 50.8) rotate(85)"/><rect x="-22.00" y="-11.50" width="44.00" height="23.00" rx="11.50" fill="url(#rg4)" transform="translate(71 50) rotate(85)"/><rect x="-26.80" y="-8.80" width="53.60" height="18.80" rx="9.30" fill="#000" fill-opacity="0.35" transform="translate(35.5 65.8) rotate(0)"/><rect x="-26.00" y="-8.50" width="52.00" height="17.00" rx="8.50" fill="url(#rg4)" transform="translate(35 65) rotate(0)"/></g>
<rect x="576.40" y="880.90" width="105.3" height="75.2" filter="url(#semn)" style="mix-blend-mode:overlay" opacity="0.22"/>
<rect x="576.40" y="951.40" width="105.3" height="4.7" fill="#161616"/>
<circle cx="578.60" cy="953.70" r="1.3" fill="none" stroke="#9a9a9a" stroke-width="0.5"/>
<line x1="581.40" y1="952.80" x2="632.40" y2="952.80" stroke="#8a8a8a" stroke-width="0.8" stroke-dasharray="1.6 0.6 2.4 0.8 1 0.6"/>
<line x1="581.40" y1="954.80" x2="636.40" y2="954.80" stroke="#8a8a8a" stroke-width="0.8" stroke-dasharray="1.6 0.6 2.4 0.8 1 0.6"/>
<line x1="658.40" y1="952.80" x2="666.40" y2="952.80" stroke="#8a8a8a" stroke-width="0.7"/>
<line x1="659.40" y1="954.80" x2="665.40" y2="954.80" stroke="#777" stroke-width="0.7"/>
<line x1="639.40" y1="952.30" x2="676.40" y2="952.30" stroke="#6a6a6a" stroke-width="0.35"/>
</g></svg></body></html>
